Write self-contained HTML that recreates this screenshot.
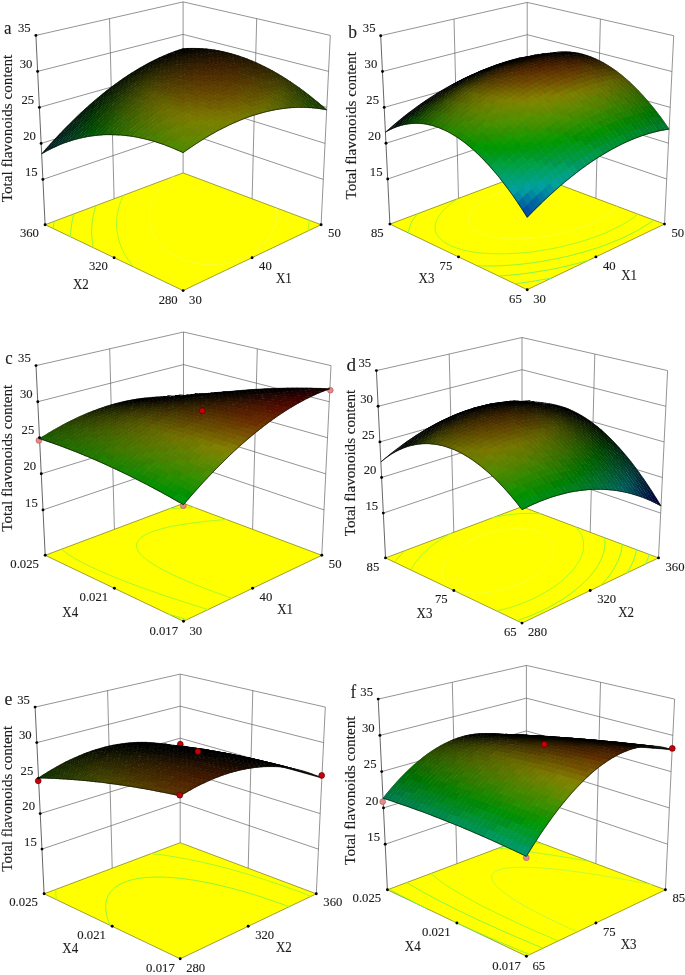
<!DOCTYPE html>
<html><head><meta charset="utf-8"><title>Response surface plots</title>
<style>html,body{margin:0;padding:0;background:#fff}svg{display:block}text{font-family:"Liberation Serif",serif;fill:#1c1c1c;stroke:#1c1c1c;stroke-width:.12px}</style>
</head><body>
<svg width="685" height="975" viewBox="0 0 685 975">
<rect width="685" height="975" fill="#fff"/>
<g><line x1="42.9" y1="179.4" x2="183.1" y2="131.9" stroke="#666" stroke-width="0.7"/>
<line x1="183.1" y1="131.9" x2="323.3" y2="179.4" stroke="#666" stroke-width="0.7"/>
<line x1="41.1" y1="143.4" x2="183.1" y2="99.4" stroke="#666" stroke-width="0.7"/>
<line x1="183.1" y1="99.4" x2="325.1" y2="143.4" stroke="#666" stroke-width="0.7"/>
<line x1="39.4" y1="107.4" x2="183.1" y2="66.9" stroke="#666" stroke-width="0.7"/>
<line x1="183.1" y1="66.9" x2="326.8" y2="107.4" stroke="#666" stroke-width="0.7"/>
<line x1="37.6" y1="71.4" x2="183.1" y2="34.4" stroke="#666" stroke-width="0.7"/>
<line x1="183.1" y1="34.4" x2="328.6" y2="71.4" stroke="#666" stroke-width="0.7"/>
<line x1="35.9" y1="35.4" x2="183.1" y2="1.9" stroke="#666" stroke-width="0.7"/>
<line x1="183.1" y1="1.9" x2="330.3" y2="35.4" stroke="#666" stroke-width="0.7"/>
<line x1="114.1" y1="198.8" x2="109.5" y2="18.6" stroke="#666" stroke-width="0.7"/>
<line x1="183.1" y1="172.9" x2="183.1" y2="1.9" stroke="#666" stroke-width="0.7"/>
<line x1="252.1" y1="198.8" x2="256.7" y2="18.6" stroke="#666" stroke-width="0.7"/>
<line x1="321.1" y1="224.7" x2="330.3" y2="35.4" stroke="#666" stroke-width="0.7"/>
<line x1="45.1" y1="224.7" x2="35.9" y2="35.4" stroke="#333" stroke-width="0.75"/>
<polygon points="45.1,224.7 183.1,290.6 321.1,224.7 183.1,172.9" fill="#ffff00" stroke="#77770a" stroke-width="0.7"/>
<polyline fill="none" stroke="#78f272" stroke-width="0.95" points="54.6,221.2 54.1,223.1 53.7,225 53.3,226.9 53,228.5"/>
<polyline fill="none" stroke="#80f44c" stroke-width="0.95" points="73.9,213.9 73.4,215.8 72.9,217.7 72.5,219.6 72.1,221.5 71.8,223.3 71.5,225.2 71.2,227.1 71,229 70.8,230.8 70.6,232.7 70.5,234.6 70.4,236.8"/>
<polyline fill="none" stroke="#8af53e" stroke-width="0.95" points="96,205.6 95.4,207.5 94.8,209.4 94.3,211.3 93.8,213.2 93.4,215.1 93,216.9 92.7,218.8 92.4,220.7 92.2,222.5 92,224.4 91.8,226.3 91.7,228.1 91.7,229.9 91.6,231.8 91.7,233.6 91.8,235.8 92,238.1 92.2,240.4 92.5,242.8 92.8,244.6 93.2,246.4 93.5,247.8"/>
<polyline fill="none" stroke="#a2f82e" stroke-width="0.95" points="307.8,231.1 308.2,228.7 308.5,226.9 308.7,225.3 308.8,223.6 308.9,221.8 309,220.2"/>
<polyline fill="none" stroke="#a2f82e" stroke-width="0.95" points="123.6,195.3 122.6,197.3 121.8,199 121.2,200.5 120.5,202.1 120,203.7 119.4,205.4 118.9,207.1 118.4,208.9 118,210.8 117.6,212.7 117.3,214.5 117,216.4 116.8,218.3 116.7,220.1 116.6,221.9 116.5,223.8 116.6,225.8 116.7,228 116.9,230.1 117.2,232.4 117.5,234.5 117.9,236.3 118.3,238.1 118.7,239.8 119.4,242 120.3,244.6 121.1,246.8 121.8,248.5 122.6,250.2 124.2,253.2 125.3,255.2 126.3,256.8 128.2,259.7 129.7,261.7 131,263.4 133.7,266.5 134.4,267.4"/>
<polyline fill="none" stroke="#f2ff58" stroke-width="0.6" points="174.2,176.3 171.6,178 169.2,179.7 167.4,181.2 165.7,182.6 163.6,184.6 162.4,185.8 160.6,187.7 159.1,189.5 158.1,190.9 157,192.4 155.6,194.6 154.6,196.4 153.8,197.8 153.1,199.3 152.4,200.9 151.7,202.9 151,204.8 150.5,206.8 150.1,208.7 149.7,210.6 149.5,212.5 149.4,214.3 149.3,216.1 149.4,217.9 149.5,219.7 149.7,221.5 149.9,223.2 150.3,225 150.7,226.7 151.4,229 152.3,231.4 153.2,233.4 154,235 155,236.7 156.8,239.6 158,241.3 159.2,242.8 161.9,245.7 163.4,247.2 166.6,250 168.3,251.4 172.1,254 176.3,256.4 181.1,258.7 186.4,260.7 192.5,262.5 195.9,263.2 202.3,264.2 207.8,264.6 212.6,264.6 217.7,264.4 221.7,264 225.4,263.4 232,261.9 235.4,260.9 240.4,259.2 245.2,257 249.6,254.7 253.3,252.5 255.4,251 258.7,248.4 260.8,246.6 263.2,244.3 264.9,242.4 267,240 268.1,238.6 270.1,235.6 271,234.1 271.8,232.6 273.1,229.9 273.9,227.9 274.5,226.3 275,224.7 275.6,222.4 276.1,220.1 276.4,218.2 276.6,216.5 276.7,214.8 276.7,213.1 276.7,211.4 276.5,209.7 276.3,207.9"/>
<polyline fill="none" stroke="#0c1408" stroke-opacity="0.75" stroke-width="0.9" stroke-linejoin="round" points="41.7,153.9 46.1,148.8 50.6,143.8 55.1,138.9 59.5,134.2 63.9,129.6 68.3,125.1 72.7,120.8 77,116.5 81.4,112.4 85.7,108.5 90,104.6 94.3,100.9 98.6,97.3 102.8,93.8 107,90.5 111.2,87.2 115.4,84.1 119.6,81.1 123.7,78.2 127.8,75.5 131.9,72.8 136,70.3 140.1,67.9 144.1,65.6 148.1,63.4 152.1,61.3 156,59.4 160,57.5 163.9,55.8 167.8,54.2 171.6,52.6 175.5,51.2 179.3,49.9 183.1,48.7 183.1,48.7 186.9,48.5 190.7,48.4 194.6,48.4 198.4,48.5 202.4,48.7 206.3,49 210.3,49.4 214.2,50 218.3,50.7 222.3,51.5 226.4,52.4 230.5,53.5 234.6,54.7 238.7,56 242.9,57.4 247.1,58.9 251.3,60.6 255.6,62.4 259.8,64.4 264.1,66.5 268.5,68.7 272.8,71 277.2,73.5 281.6,76.1 286,78.8 290.4,81.7 294.9,84.8 299.4,87.9 303.9,91.2 308.4,94.7 312.9,98.3 317.5,102 322.1,105.9 326.7,109.9"/><g transform="scale(.1)"><path fill="#000000" d="M1831 500l42-16l-42-1l-42 17M1793 513l42-17l-42-1l-42 18M1869 499l42-16l-42-2l-42 16M1831 510l42-16l-42-2l-42 18M1754 526l43-18l-42 0l-42 19M1908 498l42-15l-43-3l-42 15M1715 541l43-20l-41 1l-43 21M1792 523l43-17l-42-1l-43 18M1870 509l42-16l-43-2l-42 16"/><path fill="#080000" d="M1947 498l41-14l-43-4l-41 14M1754 537l42-19l-41 0l-43 20"/><path fill="#000000" d="M1676 557l44-21l-42 2l-43 21"/><path fill="#080800" d="M1831 522l42-18l-42-2l-42 18M1986 500l42-14l-44-5l-41 14M1908 509l42-15l-42-4l-42 16M1637 573l44-21l-42 2l-43 22M1715 553l43-21l-42 1l-43 21M1792 535l43-18l-42-2l-43 19M1870 521l42-17l-43-3l-42 17M1948 510l42-15l-44-5l-42 15M2025 503l42-13l-44-7l-41 13M1675 569l44-22l-42 2l-43 21M1987 512l42-14l-44-6l-42 14M1598 591l43-23l-41 3l-43 24M1753 550l43-20l-42-1l-43 20M1909 521l42-16l-43-4l-42 16M2065 506l42-12l-45-8l-41 13M1831 534l43-18l-43-2l-43 18M1558 610l44-24l-41 4l-44 24M1636 586l43-22l-41 1l-44 23M1714 565l43-20l-42 0l-43 21M1792 548l43-19l-43-2l-43 19M1870 534l43-17l-43-4l-43 17M1948 523l43-15l-44-6l-42 16M2027 515l42-13l-45-7l-41 13M2105 511l41-11l-44-9l-41 12"/><path fill="#100800" d="M1910 535l42-17l-43-5l-43 17"/><path fill="#080800" d="M1518 630l44-25l-41 4l-44 26M1596 605l44-24l-41 2l-44 25M1674 582l44-22l-42 1l-44 22M1831 547l43-18l-43-3l-43 18"/><path fill="#100800" d="M1988 526l42-15l-44-7l-42 15M2145 518l42-11l-45-11l-42 12"/><path fill="#080800" d="M1753 563l43-20l-43-1l-43 20"/><path fill="#100800" d="M2067 520l41-13l-44-9l-42 14"/><path fill="#080800" d="M1478 652l44-27l-40 5l-45 27M1556 624l44-25l-41 3l-44 26M1634 600l44-23l-41 1l-44 24M1713 579l44-21l-43-1l-43 22"/><path fill="#100800" d="M1792 562l43-20l-43-2l-43 20M1870 547l43-17l-43-4l-43 18M1949 537l43-16l-44-6l-43 16M2028 529l42-13l-44-9l-42 15M2107 526l42-12l-45-10l-42 12M2186 525l41-10l-45-12l-41 11"/><path fill="#080800" d="M1437 674l45-28l-40 6l-45 28"/><path fill="#100800" d="M2147 533l42-12l-45-11l-42 12"/><path fill="#080800" d="M1516 645l44-26l-41 4l-44 26"/><path fill="#100800" d="M1594 619l45-24l-42 2l-44 24M1673 596l44-22l-42 0l-44 23M1752 577l44-20l-43-2l-44 21M1831 561l43-18l-43-4l-43 19M1910 549l43-17l-44-5l-43 17M2068 535l42-14l-44-9l-42 14M2226 534l42-10l-46-13l-41 10M1989 540l43-15l-45-7l-42 15"/><path fill="#080800" d="M1397 698l45-29l-41 6l-45 29"/><path fill="#181000" d="M2188 541l42-11l-46-13l-41 12M2267 544l42-9l-46-15l-41 10"/><path fill="#080800" d="M1475 667l45-28l-41 5l-45 28"/><path fill="#101000" d="M1554 639l45-25l-42 2l-44 26M1633 615l44-24l-42 1l-44 24M1712 594l44-22l-43-1l-43 22M1791 577l44-20l-43-3l-44 20M1871 562l43-18l-44-5l-43 19M1950 552l43-16l-44-7l-43 17M2029 545l43-15l-45-8l-42 14"/><path fill="#181000" d="M2109 541l42-12l-45-11l-42 13"/><path fill="#080800" d="M1356 722l45-30l-40 7l-45 31"/><path fill="#081000" d="M1435 690l45-29l-41 5l-45 29"/><path fill="#101000" d="M1514 660l44-26l-41 3l-45 27"/><path fill="#181000" d="M2229 550l42-10l-46-14l-41 11M2309 555l41-8l-46-16l-41 9"/><path fill="#101000" d="M1593 634l44-24l-42 1l-44 25M1672 612l44-23l-42-1l-44 24M1751 593l44-21l-43-3l-44 22"/><path fill="#181000" d="M1831 577l44-19l-44-5l-44 20M1911 565l43-18l-44-6l-43 18M1990 556l43-16l-44-8l-43 16M2070 550l42-13l-45-10l-42 14M2150 549l42-12l-46-12l-42 12"/><path fill="#081000" d="M1315 748l45-31l-40 7l-45 32M1394 714l45-30l-41 6l-45 30"/><path fill="#101000" d="M1473 683l45-28l-41 4l-45 28"/><path fill="#181000" d="M2191 557l42-11l-46-13l-42 12M2350 567l41-7l-46-17l-41 8"/><path fill="#101000" d="M1552 655l45-26l-42 2l-45 27M1632 631l44-24l-42 0l-45 25"/><path fill="#181000" d="M1711 610l45-22l-43-2l-45 23M1791 593l44-21l-43-3l-44 21M1871 579l43-19l-43-6l-44 20M1951 568l43-17l-44-7l-44 17M2031 561l42-15l-44-9l-43 15M2111 557l42-13l-45-11l-42 14M2271 561l41-10l-46-15l-41 10"/><path fill="#081000" d="M1274 775l45-32l-40 8l-45 33M1353 739l45-31l-41 7l-45 31"/><path fill="#101000" d="M1432 706l45-29l-41 5l-45 29M1511 677l45-27l-41 2l-45 28"/><path fill="#181000" d="M1591 651l45-25l-42 0l-45 26M2072 567l42-14l-45-10l-43 14"/><path fill="#201000" d="M2152 566l42-13l-45-12l-43 13M2232 567l42-10l-46-15l-42 11M2312 573l41-9l-46-17l-41 9"/><path fill="#181000" d="M2392 581l41-7l-47-18l-41 7M1671 629l44-24l-42-1l-45 24M1751 609l44-21l-43-3l-44 22M1831 594l44-20l-44-5l-44 20M1911 582l44-18l-45-7l-43 18M1991 573l43-16l-44-9l-43 17"/><path fill="#081000" d="M1232 804l46-34l-40 8l-46 35M1311 766l46-32l-41 6l-45 33"/><path fill="#101000" d="M1391 731l45-30l-41 5l-45 31"/><path fill="#101800" d="M1470 700l46-28l-42 3l-45 29"/><path fill="#181800" d="M1550 673l45-27l-42 1l-45 27"/><path fill="#201000" d="M2113 575l42-13l-45-12l-43 14M2193 575l42-11l-46-15l-42 13M2274 579l41-10l-46-16l-42 10M2354 586l41-8l-46-18l-42 8M2434 596l41-6l-47-20l-41 7"/><path fill="#181800" d="M1630 648l45-24l-43-1l-44 25M1710 627l45-22l-43-3l-45 24"/><path fill="#181000" d="M1791 610l44-21l-44-4l-44 21"/><path fill="#201000" d="M1871 596l44-19l-44-6l-44 19M1952 586l43-18l-45-8l-43 18M2032 579l43-16l-45-10l-43 16"/><path fill="#081000" d="M1190 833l47-35l-40 9l-46 36M1270 794l46-34l-41 8l-46 34"/><path fill="#101000" d="M1349 757l46-31l-41 5l-46 32"/><path fill="#101800" d="M1429 724l46-29l-42 4l-45 30"/><path fill="#181800" d="M1509 695l45-28l-42 2l-45 29M1589 669l45-26l-42 0l-45 27"/><path fill="#201000" d="M2073 586l43-15l-45-11l-43 15M2154 584l43-13l-46-13l-43 13M2235 586l42-11l-46-16l-42 12"/><path fill="#201800" d="M2315 591l42-9l-46-17l-42 9M2396 600l41-7l-47-20l-41 8M2476 612l41-5l-47-22l-41 7"/><path fill="#181800" d="M1670 646l45-24l-44-1l-44 24"/><path fill="#201000" d="M1992 591l44-17l-45-9l-43 17"/><path fill="#201800" d="M1750 627l45-22l-44-4l-44 23M1831 612l44-21l-44-5l-44 21M1912 600l43-19l-44-7l-44 19"/><path fill="#081000" d="M1148 864l47-37l-40 10l-46 37M1228 822l46-34l-40 8l-46 35"/><path fill="#101800" d="M1308 784l46-32l-41 6l-46 33M1388 750l45-31l-41 4l-46 32"/><path fill="#181800" d="M1468 719l45-29l-42 2l-45 30M1548 691l46-27l-43 1l-45 27"/><path fill="#201800" d="M1629 667l45-26l-43-1l-45 26M2034 597l43-15l-45-11l-44 16"/><path fill="#281800" d="M2115 594l43-14l-46-13l-43 15M2196 594l42-12l-46-15l-42 13M2277 598l42-10l-47-17l-42 11"/><path fill="#201800" d="M2358 605l41-8l-47-19l-41 9M2438 616l41-7l-47-21l-41 8M2519 630l41-5l-48-23l-40 6M1710 646l44-24l-43-3l-45 24M1953 604l43-18l-45-8l-43 18M1791 629l44-22l-44-5l-44 22M1871 615l45-20l-45-7l-44 20"/><path fill="#081000" d="M1106 896l47-38l-40 10l-46 39M1186 853l46-36l-40 8l-46 37"/><path fill="#101800" d="M1266 813l46-34l-41 7l-46 34M1346 777l46-33l-41 5l-46 33"/><path fill="#181800" d="M1426 744l46-31l-42 4l-45 30"/><path fill="#202000" d="M1507 714l45-28l-42 1l-45 29"/><path fill="#201800" d="M1588 688l45-26l-43-1l-45 27M1669 666l45-25l-44-3l-45 26"/><path fill="#281800" d="M1994 610l43-17l-45-10l-44 18M2075 605l43-15l-45-12l-44 16M2156 604l43-14l-46-14l-43 14M2238 606l42-12l-46-16l-43 12M2319 611l42-9l-47-19l-42 11M2400 620l41-8l-47-20l-41 9M2481 633l41-6l-47-22l-41 6M2562 649l40-4l-47-25l-41 5"/><path fill="#201800" d="M1750 647l44-23l-43-5l-45 24"/><path fill="#281800" d="M1912 619l44-19l-45-8l-44 19M1831 631l44-21l-44-6l-44 21"/><path fill="#001000" d="M1064 929l47-39l-40 11l-46 39"/><path fill="#081800" d="M1144 884l46-37l-40 9l-46 38"/><path fill="#101800" d="M1224 842l46-35l-40 8l-47 35M1304 804l46-33l-41 6l-46 34"/><path fill="#182000" d="M1384 770l47-32l-42 4l-46 32"/><path fill="#202000" d="M1465 739l46-30l-42 2l-46 30M1546 711l46-28l-43 0l-45 28M1627 686l46-25l-44-2l-45 26"/><path fill="#281800" d="M1709 666l45-24l-44-4l-45 25M1953 624l44-18l-45-10l-44 19M2035 617l44-16l-46-12l-44 18M2117 614l43-14l-46-14l-43 15M2198 615l43-13l-46-16l-43 14M2280 618l42-10l-47-18l-42 11M2361 626l42-9l-47-20l-42 10M2443 637l41-8l-47-21l-42 8M2524 651l41-5l-48-24l-41 6"/><path fill="#282000" d="M2605 669l40-4l-48-25l-40 4"/><path fill="#281800" d="M1790 648l45-22l-44-5l-45 22M1872 635l44-21l-45-7l-44 21"/><path fill="#001000" d="M1021 963l47-40l-39 11l-47 41"/><path fill="#081800" d="M1101 916l47-38l-40 10l-47 39M1181 873l47-36l-40 8l-47 37"/><path fill="#101800" d="M1262 833l46-34l-41 6l-46 35"/><path fill="#182000" d="M1342 797l47-33l-42 5l-46 33"/><path fill="#202000" d="M1423 764l47-31l-43 3l-46 31M1505 735l45-29l-42 0l-46 30"/><path fill="#282000" d="M1586 709l46-28l-44-1l-45 28M1668 686l45-25l-44-3l-45 25M1749 667l45-23l-44-5l-45 24"/><path fill="#281800" d="M1831 651l45-21l-45-7l-45 22M1913 639l44-19l-45-9l-44 20M1995 631l44-18l-46-11l-44 19"/><path fill="#301800" d="M2077 626l43-16l-46-13l-43 17M2159 625l43-14l-47-15l-43 14M2240 627l43-12l-47-17l-42 12M2322 632l43-10l-47-19l-43 11"/><path fill="#281800" d="M2404 642l42-9l-48-21l-41 9"/><path fill="#282000" d="M2486 654l41-6l-48-23l-41 7M2567 671l41-5l-48-25l-41 5M2648 691l40-3l-48-27l-40 3M1790 669l45-22l-45-7l-45 24"/><path fill="#302000" d="M1872 656l45-21l-45-8l-45 21"/><path fill="#001000" d="M978 998l48-41l-39 12l-47 42"/><path fill="#081800" d="M1058 950l48-39l-40 10l-47 40M1139 905l47-38l-41 9l-46 38"/><path fill="#102000" d="M1219 864l47-36l-41 7l-46 36"/><path fill="#182000" d="M1300 826l47-34l-42 5l-46 34"/><path fill="#202000" d="M1381 791l47-32l-42 3l-47 33"/><path fill="#202800" d="M1463 760l46-31l-43 2l-46 31"/><path fill="#282000" d="M1544 732l46-29l-43 0l-46 29M1626 707l46-26l-44-3l-46 28M1708 687l45-25l-44-4l-45 25"/><path fill="#301800" d="M1954 645l45-19l-46-10l-44 20M2036 639l44-17l-46-13l-43 18M2119 636l43-15l-46-15l-44 16M2201 636l43-13l-47-16l-43 13M2283 640l43-11l-47-19l-43 12"/><path fill="#302000" d="M2365 648l42-10l-47-20l-42 10M2447 659l42-8l-48-22l-42 8M2529 673l41-5l-48-25l-41 7M2610 692l41-4l-48-27l-41 5"/><path fill="#282800" d="M2692 713l40-2l-48-28l-41 3"/><path fill="#302000" d="M1831 673l45-22l-45-8l-45 23M1749 689l45-24l-45-6l-45 25M1913 661l45-20l-45-10l-45 21"/><path fill="#302800" d="M2735 738l41-2l-49-30l-40 2"/><path fill="#001800" d="M936 1035l47-43l-39 13l-47 43M1016 985l47-41l-40 11l-47 42"/><path fill="#081800" d="M1096 939l47-40l-40 10l-47 39"/><path fill="#102000" d="M1177 895l47-37l-41 7l-47 38"/><path fill="#182000" d="M1258 855l46-35l-41 6l-47 36M1339 819l47-34l-42 4l-47 34"/><path fill="#202800" d="M1420 786l47-32l-43 2l-46 32"/><path fill="#282800" d="M1502 756l46-29l-43 0l-46 30M1584 730l46-28l-43-1l-46 28"/><path fill="#302000" d="M1666 708l46-26l-44-4l-46 26M1996 653l44-19l-46-11l-44 19"/><path fill="#301800" d="M2078 648l44-16l-46-14l-44 17M2161 647l43-15l-46-15l-44 15"/><path fill="#302000" d="M2243 649l43-13l-47-17l-43 13M2326 655l42-11l-47-20l-43 12M2408 664l42-9l-47-21l-43 9M2490 677l42-7l-48-23l-42 7M2572 694l41-5l-48-26l-41 6"/><path fill="#302800" d="M2654 714l40-3l-48-28l-41 4"/><path fill="#302000" d="M1790 692l45-24l-45-7l-45 24M1872 678l45-21l-45-9l-45 22"/><path fill="#001800" d="M892 1073l48-44l-39 13l-47 45"/><path fill="#302000" d="M1707 709l46-25l-45-5l-45 26M1955 668l45-20l-46-11l-45 21"/><path fill="#302800" d="M2698 738l40-3l-48-29l-41 3"/><path fill="#001800" d="M972 1021l48-42l-39 12l-48 43"/><path fill="#081800" d="M1053 973l47-40l-40 9l-47 41"/><path fill="#102000" d="M1134 928l47-39l-41 9l-47 39M1215 886l47-36l-41 6l-47 37"/><path fill="#182800" d="M1296 848l47-35l-41 5l-47 35"/><path fill="#202800" d="M1378 813l47-33l-43 3l-46 33"/><path fill="#282800" d="M1460 782l46-31l-42 1l-47 31M1542 754l46-29l-43-1l-46 30"/><path fill="#302800" d="M1625 730l45-27l-43-3l-46 27"/><path fill="#382000" d="M2038 661l44-17l-46-13l-44 18M2121 658l44-15l-47-15l-44 16M2203 659l44-14l-47-17l-43 15M2286 663l43-12l-47-19l-43 13M2369 671l42-10l-47-21l-43 10"/><path fill="#302000" d="M2451 682l42-8l-48-23l-42 9M2534 697l41-6l-48-25l-42 7"/><path fill="#302800" d="M2616 716l41-5l-49-27l-41 5M2779 763l40-1l-48-31l-40 2M1748 712l46-25l-45-6l-46 25"/><path fill="#382000" d="M1831 696l45-23l-45-8l-45 23M1914 684l45-21l-46-10l-45 22"/><path fill="#303000" d="M2824 790l40 0l-49-33l-40 1"/><path fill="#001808" d="M849 1112l48-45l-39 14l-47 46"/><path fill="#001800" d="M929 1059l48-44l-39 13l-48 44"/><path fill="#302800" d="M1665 731l46-27l-44-4l-46 27"/><path fill="#382000" d="M1997 676l45-19l-46-12l-45 19"/><path fill="#302800" d="M2660 739l41-4l-49-29l-41 5"/><path fill="#082000" d="M1010 1009l47-42l-40 10l-47 43M1091 962l47-40l-40 9l-48 40"/><path fill="#102000" d="M1172 919l47-38l-41 6l-47 39"/><path fill="#182800" d="M1254 879l47-37l-42 5l-47 37"/><path fill="#202800" d="M1335 842l47-34l-42 3l-47 35"/><path fill="#282800" d="M1418 809l46-32l-42 1l-47 33"/><path fill="#302800" d="M1500 779l46-30l-43-1l-46 31M1582 753l47-28l-44-3l-46 29"/><path fill="#382000" d="M2080 671l44-17l-46-14l-44 18M2163 670l44-15l-47-16l-44 15M2246 673l44-14l-48-18l-43 14M2329 679l43-12l-47-20l-43 12M2412 688l42-9l-47-23l-43 10"/><path fill="#382800" d="M2495 702l42-8l-48-24l-42 8M2577 718l42-5l-49-27l-41 6"/><path fill="#303000" d="M2742 763l40-2l-49-31l-40 3"/><path fill="#382800" d="M1706 733l46-26l-45-6l-45 26M1789 715l46-24l-45-7l-46 24"/><path fill="#382000" d="M1873 702l45-22l-46-10l-45 23M1956 692l45-20l-46-12l-45 21"/><path fill="#303000" d="M2786 789l40-1l-49-33l-40 3"/><path fill="#001808" d="M805 1153l48-47l-38 15l-48 47"/><path fill="#001800" d="M886 1098l48-45l-40 13l-47 45"/><path fill="#002000" d="M966 1046l48-43l-40 11l-47 43"/><path fill="#302800" d="M1623 753l46-27l-44-4l-46 28"/><path fill="#382000" d="M2039 685l45-18l-47-14l-44 19"/><path fill="#382800" d="M2621 741l42-5l-49-28l-41 6"/><path fill="#082000" d="M1047 997l48-41l-40 9l-48 42"/><path fill="#383000" d="M2704 763l41-3l-49-30l-41 4"/><path fill="#303000" d="M2868 819l40 0l-49-34l-40 0"/><path fill="#102000" d="M1129 952l47-39l-41 7l-47 40"/><path fill="#182800" d="M1211 910l47-37l-42 5l-47 38"/><path fill="#202800" d="M1293 872l47-36l-42 4l-47 36"/><path fill="#283000" d="M1375 837l47-34l-43 2l-47 34"/><path fill="#303000" d="M1457 806l47-32l-43 0l-47 32M1540 778l47-30l-44-2l-46 30"/><path fill="#382000" d="M2123 682l44-16l-47-16l-44 17M2206 683l44-14l-47-18l-44 15M2289 688l44-13l-48-20l-43 13M2373 696l42-11l-47-22l-43 11"/><path fill="#382800" d="M2456 707l42-9l-48-24l-43 10M2539 722l41-7l-48-26l-42 8M1664 755l46-27l-44-5l-47 27M1747 736l46-25l-45-7l-46 25M1831 720l46-23l-46-9l-46 24"/><path fill="#382000" d="M1915 709l45-22l-46-11l-45 22"/><path fill="#402000" d="M1998 700l45-19l-46-13l-45 20"/><path fill="#383000" d="M2748 789l41-3l-49-31l-41 3"/><path fill="#303000" d="M2913 848l39 1l-49-36l-40 0"/><path fill="#001808" d="M762 1195l48-48l-38 15l-48 48M842 1138l48-46l-39 13l-48 46"/><path fill="#002000" d="M923 1084l48-44l-40 11l-48 45"/><path fill="#082000" d="M1004 1034l48-43l-40 10l-48 43"/><path fill="#383000" d="M1581 777l46-29l-44-3l-46 30"/><path fill="#402000" d="M2082 696l44-18l-46-15l-45 18"/><path fill="#382800" d="M2583 744l41-6l-48-27l-42 6"/><path fill="#102800" d="M1085 987l48-41l-41 8l-47 41"/><path fill="#383000" d="M2666 765l41-5l-49-29l-41 5"/><path fill="#383800" d="M2831 817l40-1l-49-34l-41 2"/><path fill="#182800" d="M1167 943l48-39l-41 7l-48 39"/><path fill="#202800" d="M1249 903l48-37l-42 5l-47 37"/><path fill="#283000" d="M1332 866l47-35l-42 3l-47 35"/><path fill="#303000" d="M1415 833l47-33l-43 1l-47 33M1498 804l46-32l-43-1l-47 32"/><path fill="#402000" d="M2166 695l44-16l-48-17l-44 16M2249 698l44-14l-48-19l-43 14M2333 704l43-12l-48-21l-43 12"/><path fill="#402800" d="M2416 714l43-10l-48-24l-43 11"/><path fill="#382800" d="M2500 727l42-8l-49-25l-42 8"/><path fill="#383000" d="M1622 778l46-28l-44-5l-47 29"/><path fill="#382800" d="M1705 758l46-27l-45-6l-46 27"/><path fill="#402800" d="M1789 740l46-24l-46-9l-45 26M1873 727l45-23l-45-10l-46 23M1957 717l45-21l-46-12l-45 21"/><path fill="#402000" d="M2041 711l45-19l-47-15l-45 20"/><path fill="#383000" d="M2710 790l41-4l-49-30l-41 4"/><path fill="#303800" d="M2876 846l39 0l-49-35l-40 1"/><path fill="#001810" d="M718 1238l48-50l-38 16l-48 50"/><path fill="#001808" d="M798 1179l48-47l-38 13l-48 48"/><path fill="#002000" d="M879 1123l48-45l-39 12l-48 46M960 1071l48-43l-40 10l-48 44"/><path fill="#082800" d="M1042 1023l48-42l-41 8l-48 43"/><path fill="#383000" d="M1538 803l47-31l-44-2l-47 31"/><path fill="#402000" d="M2125 708l44-17l-47-17l-44 18"/><path fill="#102800" d="M1124 977l48-40l-42 7l-47 41"/><path fill="#402800" d="M2544 749l42-8l-49-27l-42 8"/><path fill="#403000" d="M2627 768l42-6l-49-29l-42 6"/><path fill="#383800" d="M2793 816l40-2l-49-33l-40 3"/><path fill="#283800" d="M2958 879l39 2l-49-37l-40-1"/><path fill="#183000" d="M1206 935l48-38l-42 5l-48 39"/><path fill="#203000" d="M1289 897l47-36l-42 3l-48 37"/><path fill="#283000" d="M1372 862l47-34l-43 1l-47 35"/><path fill="#303800" d="M1455 831l47-33l-44 0l-47 33"/><path fill="#402000" d="M2209 709l44-15l-48-19l-44 16"/><path fill="#402800" d="M2293 713l43-13l-48-20l-43 13M2376 721l44-11l-49-22l-43 11M2460 733l43-9l-49-25l-42 10"/><path fill="#383000" d="M1579 803l47-30l-45-4l-46 31"/><path fill="#403000" d="M1663 780l46-27l-45-6l-46 28M1747 762l46-26l-45-8l-47 26"/><path fill="#402800" d="M1831 746l46-24l-46-10l-46 25M1915 734l46-22l-47-11l-45 22M1999 726l46-20l-47-14l-45 21M2084 722l45-18l-48-16l-44 19"/><path fill="#383800" d="M2838 845l40-1l-49-35l-41 2"/><path fill="#283800" d="M3003 912l39 2l-50-39l-39-1"/><path fill="#001810" d="M674 1282l48-51l-38 16l-48 51M754 1221l48-48l-38 14l-48 49"/><path fill="#002008" d="M835 1164l48-47l-39 13l-48 47"/><path fill="#002000" d="M916 1110l48-45l-39 11l-48 46"/><path fill="#082800" d="M998 1060l48-43l-40 9l-48 44"/><path fill="#102800" d="M1080 1013l48-42l-41 8l-48 42"/><path fill="#383800" d="M1495 829l47-32l-44-1l-47 32"/><path fill="#402800" d="M2168 721l44-16l-47-18l-44 17"/><path fill="#403000" d="M2588 772l42-7l-49-29l-42 8M2672 792l41-5l-49-30l-42 6"/><path fill="#183000" d="M1163 969l47-39l-41 5l-48 40"/><path fill="#402800" d="M2504 754l43-8l-49-27l-42 10"/><path fill="#403800" d="M2755 817l41-3l-50-33l-41 4"/><path fill="#303800" d="M2921 877l39 0l-49-36l-40 0"/><path fill="#203000" d="M1245 929l48-38l-42 4l-48 38"/><path fill="#283000" d="M1328 892l48-36l-43 2l-47 37"/><path fill="#303800" d="M1412 859l47-34l-43 0l-48 34"/><path fill="#402800" d="M2252 724l44-14l-48-20l-44 15M2336 730l44-12l-48-22l-44 13M2420 740l43-10l-48-24l-43 11"/><path fill="#001810" d="M629 1327l49-51l-38 16l-48 52"/><path fill="#403800" d="M1536 829l47-31l-44-3l-47 31"/><path fill="#403000" d="M1620 805l47-30l-45-5l-47 30M1704 784l47-27l-45-7l-47 27M1789 767l46-26l-46-9l-46 26"/><path fill="#402800" d="M1873 753l46-23l-46-11l-46 24"/><path fill="#482800" d="M1958 743l45-21l-46-13l-46 22M2042 737l45-19l-47-15l-45 20M2127 735l45-18l-48-17l-45 18"/><path fill="#203800" d="M3048 946l39 3l-50-41l-39-2"/><path fill="#303800" d="M2966 909l39 1l-49-38l-40-1"/><path fill="#002010" d="M710 1265l48-50l-38 15l-48 51"/><path fill="#002008" d="M791 1206l48-48l-39 13l-48 49M872 1151l49-47l-40 12l-48 47"/><path fill="#002800" d="M954 1098l48-44l-40 10l-48 45"/><path fill="#082800" d="M1036 1049l48-42l-41 8l-48 43"/><path fill="#103000" d="M1119 1004l48-41l-42 6l-48 42"/><path fill="#383800" d="M1452 857l47-33l-43-1l-48 33"/><path fill="#482800" d="M2212 736l44-16l-48-19l-44 16"/><path fill="#403000" d="M2549 776l42-8l-49-27l-42 8M2633 796l42-6l-50-30l-42 7"/><path fill="#403800" d="M2716 819l42-5l-50-32l-41 5M2800 845l41-2l-50-34l-41 3"/><path fill="#203000" d="M1202 962l48-39l-43 5l-47 39"/><path fill="#403000" d="M2465 761l43-10l-49-26l-43 11"/><path fill="#383800" d="M2883 875l40-1l-50-36l-40 2"/><path fill="#283800" d="M1285 923l48-37l-43 3l-48 37"/><path fill="#303800" d="M1368 888l48-35l-43 1l-48 36"/><path fill="#482800" d="M2296 740l44-13l-48-22l-44 15M2380 749l44-12l-49-23l-43 12"/><path fill="#001818" d="M585 1374l49-53l-38 17l-49 54"/><path fill="#002010" d="M665 1310l49-51l-38 15l-49 52"/><path fill="#403800" d="M1493 856l47-32l-44-3l-47 33M1577 830l47-30l-45-5l-47 31"/><path fill="#403000" d="M1662 807l46-28l-45-7l-47 30M1746 789l47-27l-46-8l-46 27"/><path fill="#483000" d="M1831 773l46-24l-46-11l-46 25"/><path fill="#482800" d="M1916 762l46-23l-47-13l-46 24M2001 754l45-21l-47-15l-45 22M2086 749l45-18l-48-17l-45 19M2170 749l45-17l-48-19l-44 18"/><path fill="#283800" d="M3011 942l40 2l-50-40l-40-1"/><path fill="#203800" d="M3094 981l39 3l-50-41l-39-3"/><path fill="#304000" d="M2928 907l40-1l-50-37l-40 1"/><path fill="#002010" d="M746 1250l49-50l-39 14l-48 50"/><path fill="#002808" d="M828 1192l48-47l-39 12l-49 48"/><path fill="#002800" d="M910 1138l48-46l-40 11l-48 46"/><path fill="#082800" d="M992 1087l48-44l-40 9l-49 45"/><path fill="#103000" d="M1075 1040l48-42l-41 7l-49 42"/><path fill="#183000" d="M1158 996l48-40l-42 5l-48 41"/><path fill="#383800" d="M1409 886l47-34l-43-1l-48 35"/><path fill="#482800" d="M2255 752l44-15l-48-21l-44 16"/><path fill="#483000" d="M2509 783l43-10l-49-27l-43 10M2593 800l43-7l-50-29l-42 8"/><path fill="#403800" d="M2678 821l41-5l-49-31l-42 6"/><path fill="#404000" d="M2761 846l42-4l-50-33l-41 5M2845 875l41-2l-50-36l-41 3"/><path fill="#203800" d="M1241 956l48-38l-42 3l-48 39"/><path fill="#483000" d="M2425 769l43-12l-49-24l-43 11"/><path fill="#303800" d="M1325 919l47-36l-43 1l-47 37"/><path fill="#482800" d="M2340 758l44-13l-49-23l-43 14"/><path fill="#001818" d="M540 1422l49-54l-37 17l-49 55"/><path fill="#002018" d="M621 1357l49-53l-38 16l-49 53"/><path fill="#002010" d="M702 1294l49-51l-39 15l-49 51"/><path fill="#404000" d="M1449 885l48-34l-44-2l-48 34M1534 857l47-32l-44-4l-48 32"/><path fill="#403800" d="M1619 832l47-30l-45-5l-47 30"/><path fill="#483800" d="M1703 812l47-28l-45-8l-47 28"/><path fill="#483000" d="M1788 795l47-26l-46-10l-47 26M1874 781l46-24l-47-12l-46 25M1959 771l46-22l-47-14l-46 23"/><path fill="#482800" d="M2044 765l45-20l-47-16l-45 21M2129 763l45-18l-48-18l-45 18M2214 764l45-16l-48-20l-45 17"/><path fill="#304000" d="M2974 940l40 0l-50-39l-40 0"/><path fill="#283800" d="M3057 977l39 2l-50-41l-39-1"/><path fill="#183800" d="M3140 1018l38 4l-50-43l-39-3"/><path fill="#384000" d="M2890 906l41-2l-50-37l-41 2"/><path fill="#002810" d="M783 1235l49-49l-39 13l-49 49"/><path fill="#002808" d="M865 1179l49-47l-40 11l-49 48"/><path fill="#003000" d="M948 1127l48-46l-40 10l-49 45"/><path fill="#103000" d="M1030 1078l49-44l-41 8l-49 44"/><path fill="#183000" d="M1114 1032l48-41l-42 5l-48 42"/><path fill="#203800" d="M1197 990l48-40l-42 4l-48 40"/><path fill="#384000" d="M1365 916l48-36l-44 0l-47 37"/><path fill="#483000" d="M2299 769l44-14l-48-23l-44 15M2469 790l43-11l-49-26l-43 11"/><path fill="#483800" d="M2554 806l43-9l-50-28l-42 9M2638 825l43-7l-50-30l-42 7"/><path fill="#484000" d="M2723 848l41-5l-49-32l-42 5"/><path fill="#404000" d="M2807 875l41-3l-50-35l-41 4"/><path fill="#283800" d="M1281 951l48-37l-43 1l-48 39"/><path fill="#483000" d="M2384 778l44-13l-49-24l-43 13"/><path fill="#001818" d="M495 1472l49-56l-37 18l-49 56"/><path fill="#002018" d="M576 1404l49-54l-38 17l-49 54M657 1340l49-52l-38 15l-49 52"/><path fill="#002810" d="M739 1279l49-50l-40 13l-48 51"/><path fill="#384000" d="M1406 914l47-35l-44-1l-47 36"/><path fill="#404000" d="M1490 885l48-34l-45-3l-47 34"/><path fill="#484000" d="M1575 858l48-31l-45-5l-48 32"/><path fill="#483800" d="M1660 836l47-29l-45-8l-47 30M1746 817l46-27l-46-9l-46 27"/><path fill="#483000" d="M1831 802l46-26l-46-11l-46 26M1916 790l47-23l-47-13l-46 24"/><path fill="#503000" d="M2002 782l46-21l-48-15l-45 22M2087 778l46-19l-48-18l-45 20M2173 778l45-18l-48-19l-45 18M2258 781l45-16l-49-21l-44 16"/><path fill="#384000" d="M2936 938l41-1l-51-38l-40 1"/><path fill="#304000" d="M3020 974l39 1l-50-41l-40 0"/><path fill="#204000" d="M3103 1013l39 3l-50-42l-40-3"/><path fill="#183800" d="M3186 1056l38 5l-50-45l-39-4"/><path fill="#304000" d="M1321 948l48-37l-43 0l-48 38"/><path fill="#503000" d="M2344 788l44-14l-49-24l-44 15"/><path fill="#404800" d="M2852 906l41-3l-50-36l-41 3"/><path fill="#002808" d="M821 1222l49-49l-40 11l-49 49"/><path fill="#003000" d="M903 1167l49-46l-40 9l-49 47"/><path fill="#083000" d="M986 1116l49-44l-41 8l-49 45"/><path fill="#103800" d="M1069 1069l49-43l-42 6l-48 44"/><path fill="#183800" d="M1153 1025l48-41l-42 4l-48 42"/><path fill="#283800" d="M1237 985l48-39l-43 2l-48 40"/><path fill="#483000" d="M2429 798l44-12l-50-25l-43 12"/><path fill="#483800" d="M2514 812l43-9l-49-28l-43 10M2599 830l42-8l-49-30l-43 9"/><path fill="#484000" d="M2684 852l42-6l-50-32l-42 6M2768 877l42-4l-50-35l-42 5"/><path fill="#384000" d="M1362 945l48-36l-44-1l-48 37"/><path fill="#503000" d="M2303 799l44-15l-49-23l-44 16"/><path fill="#001018" d="M450 1522l50-57l-37 19l-49 57"/><path fill="#002020" d="M531 1453l49-55l-37 17l-50 56"/><path fill="#002018" d="M612 1387l49-53l-38 15l-49 54"/><path fill="#002818" d="M694 1325l49-52l-39 13l-49 53"/><path fill="#002810" d="M776 1265l49-50l-40 12l-49 51"/><path fill="#304000" d="M1277 980l48-38l-43 1l-48 39"/><path fill="#404800" d="M1447 914l47-35l-44-2l-48 35"/><path fill="#484000" d="M1532 886l47-33l-45-4l-47 33M1617 861l47-30l-45-7l-47 31"/><path fill="#483800" d="M1703 841l47-29l-46-8l-47 29"/><path fill="#503800" d="M1788 824l47-27l-46-10l-47 27"/><path fill="#503000" d="M1874 810l46-24l-47-13l-46 25M1960 801l46-23l-48-15l-46 24M2045 795l46-21l-48-17l-45 22M2131 792l46-18l-48-19l-46 19M2217 794l45-17l-49-21l-44 17M2388 808l44-13l-49-25l-44 13"/><path fill="#404800" d="M2898 937l41-1l-50-38l-41 2"/><path fill="#304000" d="M2982 972l40 0l-50-40l-41 1"/><path fill="#284000" d="M3066 1010l39 1l-50-42l-40-1"/><path fill="#204000" d="M3149 1051l39 3l-51-44l-39-2"/><path fill="#103800" d="M3232 1096l38 5l-50-46l-39-4"/><path fill="#484800" d="M2814 907l41-4l-50-36l-42 5"/><path fill="#003008" d="M858 1209l49-48l-40 10l-49 49"/><path fill="#003000" d="M941 1156l49-46l-41 9l-48 46"/><path fill="#103800" d="M1025 1107l48-44l-41 7l-49 44"/><path fill="#183800" d="M1108 1061l49-42l-42 5l-49 43"/><path fill="#204000" d="M1193 1019l48-40l-43 3l-48 41"/><path fill="#503800" d="M2474 820l43-11l-49-27l-44 12M2559 836l43-9l-49-29l-44 10"/><path fill="#484000" d="M2644 856l43-7l-50-32l-43 8M2729 880l42-6l-50-33l-42 6"/><path fill="#384000" d="M1317 978l49-38l-44 0l-48 38"/><path fill="#503000" d="M2347 818l45-14l-49-24l-45 15"/><path fill="#404800" d="M1402 944l49-36l-45-2l-48 37"/><path fill="#503000" d="M2261 811l45-16l-48-22l-45 17"/><path fill="#001820" d="M486 1503l49-56l-37 17l-49 57"/><path fill="#002020" d="M567 1436l49-55l-38 16l-49 55"/><path fill="#002818" d="M649 1371l49-53l-39 14l-49 54"/><path fill="#002810" d="M731 1310l49-51l-39 12l-50 52"/><path fill="#003008" d="M813 1252l50-49l-41 11l-49 50"/><path fill="#284000" d="M1233 1015l48-40l-43 2l-48 40"/><path fill="#484800" d="M1488 914l48-33l-45-4l-48 34"/><path fill="#484000" d="M1573 888l48-32l-45-6l-48 33"/><path fill="#504000" d="M1659 866l48-30l-46-8l-48 30"/><path fill="#503800" d="M1745 847l47-28l-46-10l-47 29M1831 832l47-26l-47-12l-47 26"/><path fill="#503000" d="M1917 820l46-24l-47-14l-46 25M2003 812l46-22l-47-16l-46 23M2089 808l46-20l-48-18l-46 21M2175 808l46-18l-49-20l-45 18"/><path fill="#503800" d="M2433 829l44-12l-49-27l-44 13"/><path fill="#404800" d="M2860 938l41-3l-51-37l-41 3"/><path fill="#384800" d="M2944 971l41-2l-51-39l-41 2"/><path fill="#304800" d="M3028 1007l40 0l-50-41l-41 0"/><path fill="#204000" d="M3112 1047l39 2l-50-43l-40-2"/><path fill="#184000" d="M3195 1090l39 4l-51-45l-39-4"/><path fill="#484800" d="M2775 909l42-5l-51-35l-42 6"/><path fill="#003000" d="M896 1198l50-48l-41 9l-49 48"/><path fill="#083800" d="M980 1147l49-46l-41 8l-49 46"/><path fill="#103800" d="M1064 1099l49-43l-42 5l-49 44"/><path fill="#204000" d="M1148 1055l49-42l-43 4l-48 42"/><path fill="#503800" d="M2519 844l43-11l-49-29l-44 12"/><path fill="#504000" d="M2604 862l43-9l-50-31l-43 10M2690 884l42-7l-50-33l-42 7"/><path fill="#304800" d="M1273 1011l49-39l-44 1l-49 39"/><path fill="#384800" d="M1358 976l49-37l-45-2l-48 38"/><path fill="#503800" d="M2306 830l45-15l-49-24l-45 16M2392 839l45-13l-50-26l-44 14"/><path fill="#484800" d="M1444 944l48-35l-45-3l-48 36"/><path fill="#503000" d="M2220 825l45-17l-49-22l-45 18"/><path fill="#002020" d="M522 1486l49-57l-38 17l-49 56"/><path fill="#002820" d="M603 1419l50-54l-39 15l-49 54"/><path fill="#002818" d="M685 1356l50-52l-39 13l-50 53"/><path fill="#003010" d="M768 1297l50-51l-40 11l-50 52"/><path fill="#003008" d="M851 1240l50-48l-41 9l-49 50"/><path fill="#284000" d="M1188 1050l49-41l-43 2l-49 42"/><path fill="#484800" d="M1530 916l47-33l-45-5l-48 34"/><path fill="#504000" d="M1615 892l48-31l-46-8l-47 32M1702 871l47-29l-46-9l-48 30"/><path fill="#503800" d="M1788 854l47-27l-47-11l-47 28M1874 841l47-25l-47-14l-47 26M1961 831l46-23l-48-15l-46 24"/><path fill="#503000" d="M2047 826l46-22l-48-17l-46 22M2133 823l46-19l-48-20l-46 20"/><path fill="#503800" d="M2478 852l44-12l-49-28l-44 13"/><path fill="#485000" d="M2821 940l41-5l-50-36l-42 5"/><path fill="#404800" d="M2906 971l41-3l-51-38l-41 3"/><path fill="#384800" d="M2990 1006l41-1l-51-41l-41 1"/><path fill="#284800" d="M3074 1044l40 1l-50-43l-41-1"/><path fill="#204000" d="M3158 1086l40 2l-51-45l-40-2"/><path fill="#504800" d="M2735 912l43-6l-51-34l-42 6"/><path fill="#003800" d="M935 1188l49-47l-41 8l-49 47"/><path fill="#103800" d="M1019 1138l49-45l-42 6l-49 46"/><path fill="#184000" d="M1103 1092l49-43l-42 5l-49 43"/><path fill="#504000" d="M2564 868l44-9l-50-31l-44 11M2650 889l43-8l-50-33l-43 9"/><path fill="#284800" d="M1228 1046l49-40l-43 1l-49 41"/><path fill="#384800" d="M1314 1009l48-39l-44 0l-48 39"/><path fill="#404800" d="M1399 976l49-37l-45-3l-48 37"/><path fill="#583800" d="M2265 843l45-16l-49-24l-46 18M2351 851l45-15l-50-26l-44 16M2438 862l44-13l-50-28l-44 14"/><path fill="#505000" d="M1485 946l49-35l-46-5l-48 36"/><path fill="#583800" d="M2178 840l45-19l-48-21l-46 19"/><path fill="#002828" d="M558 1469l49-56l-38 15l-49 56"/><path fill="#002820" d="M640 1404l50-54l-39 14l-50 54"/><path fill="#003018" d="M723 1342l49-52l-39 12l-50 53"/><path fill="#003010" d="M806 1284l49-50l-40 10l-49 51"/><path fill="#003800" d="M890 1230l49-48l-41 8l-49 49"/><path fill="#204000" d="M1143 1087l49-43l-43 3l-49 43"/><path fill="#504800" d="M1572 920l48-33l-46-7l-48 33"/><path fill="#504000" d="M1658 897l48-31l-47-8l-47 31M1744 878l48-28l-47-11l-47 29"/><path fill="#503800" d="M1831 863l47-27l-47-12l-47 27"/><path fill="#583800" d="M1918 852l46-25l-47-15l-47 26M2004 844l47-23l-48-17l-47 24M2091 840l46-21l-48-19l-46 22"/><path fill="#584000" d="M2524 876l44-11l-50-29l-44 11"/><path fill="#505000" d="M2782 943l42-6l-51-36l-42 6"/><path fill="#485000" d="M2867 972l41-4l-50-38l-42 5"/><path fill="#384800" d="M2952 1005l41-2l-51-40l-41 2"/><path fill="#304800" d="M3037 1042l40 0l-51-43l-40 1"/><path fill="#204800" d="M3121 1082l40 2l-51-45l-40-1"/><path fill="#504800" d="M2696 917l43-7l-51-34l-43 8"/><path fill="#083800" d="M974 1179l49-47l-42 7l-49 47"/><path fill="#104000" d="M1058 1131l49-44l-42 4l-49 45"/><path fill="#504000" d="M2610 895l43-9l-50-32l-43 10"/><path fill="#284800" d="M1183 1082l49-42l-43 2l-49 42"/><path fill="#304800" d="M1269 1043l49-40l-44 0l-49 41"/><path fill="#405000" d="M1355 1008l49-38l-45-2l-49 39"/><path fill="#485000" d="M1441 976l48-36l-45-4l-48 37"/><path fill="#583800" d="M2223 858l45-18l-49-23l-45 19M2310 863l45-16l-50-25l-45 17"/><path fill="#584000" d="M2396 872l45-14l-50-27l-44 15M2483 885l44-12l-50-29l-44 13"/><path fill="#505000" d="M1527 948l49-34l-46-6l-48 35"/><path fill="#583800" d="M2136 856l46-20l-49-21l-46 21"/><path fill="#003028" d="M594 1453l50-55l-39 14l-49 55"/><path fill="#003020" d="M677 1390l50-54l-40 13l-49 53"/><path fill="#003810" d="M760 1330l50-52l-40 11l-50 52"/><path fill="#003808" d="M844 1273l50-49l-41 9l-49 50"/><path fill="#004000" d="M928 1220l50-47l-42 7l-49 48"/><path fill="#184000" d="M1098 1125l49-44l-42 3l-50 45"/><path fill="#504800" d="M1614 924l48-32l-46-8l-48 33"/><path fill="#584000" d="M1701 903l47-30l-46-10l-48 31M1788 886l47-28l-47-12l-47 29M1874 873l48-26l-48-14l-47 27"/><path fill="#583800" d="M1962 864l46-24l-48-17l-46 25M2049 858l46-22l-48-18l-47 22"/><path fill="#584800" d="M2570 902l43-10l-50-31l-44 11"/><path fill="#505000" d="M2742 947l43-7l-51-36l-43 8M2828 974l42-5l-51-37l-42 5"/><path fill="#405000" d="M2913 1006l42-3l-51-40l-42 4"/><path fill="#385000" d="M2999 1041l40-2l-51-41l-41 2"/><path fill="#284800" d="M3083 1079l41 1l-52-44l-40 0"/><path fill="#584800" d="M2656 922l43-8l-50-33l-44 9"/><path fill="#104000" d="M1013 1171l49-46l-42 5l-49 47"/><path fill="#204800" d="M1138 1120l49-43l-43 2l-49 44"/><path fill="#304800" d="M1224 1079l49-41l-44 0l-49 42"/><path fill="#385000" d="M1310 1042l49-39l-44-2l-49 40"/><path fill="#485000" d="M1396 1008l49-37l-45-3l-49 37"/><path fill="#505000" d="M1483 979l48-36l-45-5l-49 36"/><path fill="#583800" d="M2180 873l46-19l-49-22l-46 20M2268 877l45-17l-49-25l-46 19"/><path fill="#584000" d="M2355 884l45-15l-50-26l-45 16M2442 896l44-14l-49-28l-45 14"/><path fill="#584800" d="M2529 911l44-12l-50-31l-44 13"/><path fill="#585000" d="M1570 952l48-33l-46-7l-48 33"/><path fill="#583800" d="M2093 873l46-21l-48-20l-47 22"/><path fill="#584800" d="M2616 929l43-10l-50-32l-44 10"/><path fill="#003020" d="M631 1438l50-55l-39 13l-50 55"/><path fill="#003818" d="M715 1376l50-53l-40 12l-50 53"/><path fill="#003810" d="M799 1318l49-51l-40 10l-50 51"/><path fill="#004008" d="M883 1263l50-49l-42 8l-49 50"/><path fill="#084000" d="M967 1212l50-47l-42 6l-49 47"/><path fill="#184800" d="M1053 1164l49-45l-42 4l-50 46"/><path fill="#584800" d="M1657 930l48-32l-47-9l-48 32M1744 911l47-29l-46-12l-48 30"/><path fill="#584000" d="M1831 896l47-27l-47-14l-47 28M1918 885l47-26l-47-15l-48 26"/><path fill="#583800" d="M2006 877l46-23l-48-18l-47 24"/><path fill="#585000" d="M2702 952l43-8l-51-35l-43 8"/><path fill="#505800" d="M2788 978l43-6l-51-37l-43 6"/><path fill="#485000" d="M2874 1007l42-4l-51-39l-42 5"/><path fill="#405000" d="M2960 1041l41-3l-51-41l-41 3"/><path fill="#305000" d="M3045 1078l41-1l-51-43l-41 1"/><path fill="#584800" d="M2575 937l44-11l-51-32l-44 12"/><path fill="#104800" d="M1007 1205l50-47l-43 5l-49 47"/><path fill="#184800" d="M1093 1159l49-45l-43 3l-49 45"/><path fill="#284800" d="M1178 1116l50-43l-44 1l-49 44"/><path fill="#385000" d="M1265 1077l49-41l-44-1l-49 42"/><path fill="#405000" d="M1351 1042l49-39l-44-3l-49 39"/><path fill="#485000" d="M1438 1010l49-37l-45-5l-49 38"/><path fill="#585800" d="M1525 982l49-35l-46-7l-49 36"/><path fill="#604000" d="M2138 890l46-21l-49-21l-46 21M2225 892l46-19l-49-23l-46 19M2313 898l45-17l-49-26l-46 18M2400 907l45-15l-50-27l-45 15"/><path fill="#584800" d="M2488 920l44-13l-50-30l-45 14"/><path fill="#585000" d="M2662 958l43-9l-50-34l-44 9M1612 958l49-33l-47-9l-48 33"/><path fill="#604000" d="M2050 892l47-23l-49-19l-46 23"/><path fill="#003820" d="M669 1424l50-54l-40 12l-50 54"/><path fill="#003818" d="M753 1364l50-52l-41 10l-50 53"/><path fill="#004008" d="M837 1308l50-51l-41 8l-50 51"/><path fill="#004000" d="M922 1254l50-48l-42 6l-50 49"/><path fill="#584800" d="M1700 937l48-31l-47-11l-48 32M1787 920l48-29l-47-13l-48 30"/><path fill="#584000" d="M1875 907l47-27l-48-15l-47 28"/><path fill="#604000" d="M1962 898l48-25l-49-17l-47 25"/><path fill="#585800" d="M2749 982l42-7l-50-36l-43 8"/><path fill="#505800" d="M2835 1010l42-5l-51-39l-42 6"/><path fill="#405000" d="M2921 1042l42-4l-51-40l-42 4"/><path fill="#385000" d="M3007 1078l41-2l-51-43l-42 2"/><path fill="#184800" d="M1047 1199l50-46l-43 3l-50 47"/><path fill="#605000" d="M2621 965l44-10l-51-34l-44 11"/><path fill="#604800" d="M2534 946l44-12l-50-31l-45 13"/><path fill="#084800" d="M961 1247l50-48l-42 5l-50 49"/><path fill="#205000" d="M1133 1154l50-44l-44 2l-49 44"/><path fill="#305000" d="M1219 1113l50-42l-44 0l-50 43"/><path fill="#385000" d="M1306 1076l49-40l-44-2l-49 41"/><path fill="#485800" d="M1393 1043l49-38l-45-5l-49 39"/><path fill="#505800" d="M1480 1013l49-36l-46-6l-48 36"/><path fill="#585800" d="M1568 987l48-34l-46-9l-48 35"/><path fill="#604000" d="M2095 908l47-22l-49-21l-47 23M2183 908l46-20l-49-23l-46 21M2271 912l46-18l-50-25l-46 19M2359 920l45-16l-50-27l-45 16"/><path fill="#604800" d="M2446 931l45-14l-50-29l-45 15"/><path fill="#585800" d="M2708 988l44-9l-51-35l-44 9"/><path fill="#585000" d="M1655 964l49-32l-47-10l-48 33"/><path fill="#604000" d="M2007 912l47-24l-49-19l-47 25"/><path fill="#003820" d="M707 1412l50-54l-40 11l-50 54"/><path fill="#004010" d="M791 1353l50-52l-41 9l-50 53"/><path fill="#004008" d="M876 1298l50-50l-42 7l-50 51"/><path fill="#584800" d="M1743 945l48-30l-47-12l-48 31"/><path fill="#604800" d="M1831 930l48-28l-48-14l-48 29"/><path fill="#604000" d="M1919 919l47-26l-48-16l-47 26"/><path fill="#585800" d="M2795 1014l43-6l-51-38l-43 7"/><path fill="#485800" d="M2882 1044l42-4l-51-40l-43 5"/><path fill="#405800" d="M2968 1078l42-3l-52-42l-41 4"/><path fill="#104800" d="M1001 1240l50-47l-43 4l-50 48"/><path fill="#185000" d="M1087 1194l50-45l-43 2l-50 46"/><path fill="#605000" d="M2580 974l45-12l-51-33l-45 13"/><path fill="#605800" d="M2668 995l44-10l-51-35l-44 10"/><path fill="#605000" d="M2493 957l44-14l-50-31l-45 15"/><path fill="#004800" d="M915 1290l50-49l-42 6l-50 49"/><path fill="#285000" d="M1174 1151l50-43l-44 0l-50 44"/><path fill="#385000" d="M1261 1112l49-41l-44-2l-50 42"/><path fill="#405800" d="M1348 1077l49-40l-45-3l-49 40"/><path fill="#505800" d="M1435 1045l49-37l-45-6l-49 38"/><path fill="#585800" d="M1523 1017l49-35l-46-8l-49 36M1611 993l48-34l-46-9l-49 34"/><path fill="#604000" d="M2052 927l47-23l-49-20l-47 24M2140 926l47-22l-50-22l-46 22M2228 928l46-20l-49-24l-46 20"/><path fill="#604800" d="M2317 934l45-18l-50-26l-45 18M2405 943l45-15l-50-29l-46 16"/><path fill="#585800" d="M2755 1020l43-8l-51-38l-43 9"/><path fill="#605000" d="M1699 972l48-31l-47-12l-48 32"/><path fill="#604800" d="M1963 933l48-26l-49-17l-47 26"/><path fill="#004018" d="M745 1400l50-53l-41 9l-50 54"/><path fill="#004010" d="M830 1343l50-51l-41 8l-50 52"/><path fill="#604800" d="M1787 955l48-29l-48-14l-48 30M1875 942l48-27l-48-16l-48 28"/><path fill="#505800" d="M2842 1048l43-6l-52-40l-42 7"/><path fill="#405800" d="M2929 1080l42-4l-52-42l-42 5"/><path fill="#084800" d="M955 1283l50-49l-42 5l-51 49"/><path fill="#105000" d="M1041 1235l50-47l-43 3l-50 47"/><path fill="#205000" d="M1128 1190l50-44l-44 0l-50 46"/><path fill="#605000" d="M2451 968l45-15l-51-30l-45 16M2539 984l45-13l-51-33l-45 14"/><path fill="#605800" d="M2627 1003l44-11l-51-35l-44 12"/><path fill="#606000" d="M2715 1026l43-9l-51-37l-44 10"/><path fill="#004808" d="M869 1335l50-51l-42 6l-50 52"/><path fill="#305800" d="M1215 1149l50-42l-45-1l-49 43"/><path fill="#405800" d="M1302 1112l50-41l-45-3l-50 42"/><path fill="#485800" d="M1390 1079l49-39l-45-5l-50 39"/><path fill="#585800" d="M1478 1049l49-37l-46-7l-49 37"/><path fill="#605800" d="M1566 1023l49-35l-47-9l-49 35M1654 1000l49-33l-47-11l-49 34"/><path fill="#604800" d="M2008 948l48-25l-49-19l-48 25M2097 944l47-22l-49-22l-47 24M2186 945l46-21l-50-24l-46 22M2274 949l46-19l-50-26l-46 20M2363 957l45-17l-50-28l-46 17"/><path fill="#586000" d="M2802 1053l43-8l-51-38l-43 7"/><path fill="#004018" d="M783 1390l51-53l-41 8l-51 54"/><path fill="#605000" d="M1742 981l49-30l-48-14l-48 32M1831 966l48-28l-48-16l-48 30"/><path fill="#604800" d="M1920 955l47-26l-48-18l-48 28"/><path fill="#485800" d="M2889 1083l43-5l-52-41l-42 6"/><path fill="#004800" d="M908 1327l51-50l-42 5l-51 51"/><path fill="#085000" d="M995 1277l50-48l-43 3l-50 49"/><path fill="#185000" d="M1082 1231l50-46l-44 1l-50 47"/><path fill="#285800" d="M1169 1188l50-44l-44-1l-50 45"/><path fill="#685000" d="M2409 981l45-16l-50-30l-46 17"/><path fill="#605000" d="M2497 995l45-15l-50-31l-46 15"/><path fill="#605800" d="M2586 1012l44-12l-51-34l-44 13"/><path fill="#606000" d="M2674 1033l44-10l-51-36l-44 11"/><path fill="#586000" d="M2762 1058l43-8l-51-38l-44 9"/><path fill="#004810" d="M822 1381l51-52l-42 7l-50 52"/><path fill="#385800" d="M1256 1149l50-42l-44-3l-50 43"/><path fill="#405800" d="M1344 1113l50-40l-45-4l-50 41"/><path fill="#506000" d="M1432 1082l50-39l-46-6l-50 39"/><path fill="#586000" d="M1521 1054l49-37l-47-8l-49 37"/><path fill="#606000" d="M1609 1029l49-34l-47-10l-49 35"/><path fill="#605800" d="M1698 1009l48-32l-47-13l-49 33"/><path fill="#684800" d="M1964 970l48-26l-49-19l-47 27M2053 964l48-24l-50-21l-47 25M2142 963l47-22l-49-23l-47 22M2231 965l47-20l-50-25l-47 21M2320 971l46-18l-50-27l-46 18"/><path fill="#506000" d="M2850 1087l42-7l-51-40l-43 7"/><path fill="#605000" d="M1787 992l48-30l-48-15l-48 31"/><path fill="#685000" d="M1875 979l48-28l-48-17l-48 29"/><path fill="#005008" d="M862 1373l51-52l-43 6l-50 52"/><path fill="#005000" d="M948 1321l51-50l-43 4l-50 50"/><path fill="#105000" d="M1035 1273l51-48l-44 2l-50 48"/><path fill="#205800" d="M1123 1228l50-46l-44 0l-50 47"/><path fill="#305800" d="M1210 1187l51-44l-45-1l-50 44"/><path fill="#685000" d="M2366 995l46-17l-50-29l-46 18"/><path fill="#685800" d="M2455 1007l46-16l-51-31l-46 17M2544 1023l45-14l-51-33l-45 14"/><path fill="#686000" d="M2633 1042l44-12l-51-35l-45 12"/><path fill="#606000" d="M2721 1065l44-9l-52-38l-43 10"/><path fill="#586000" d="M2809 1092l44-8l-52-39l-44 8"/><path fill="#405800" d="M1298 1150l50-42l-45-4l-50 43"/><path fill="#486000" d="M1387 1116l49-40l-45-5l-50 40"/><path fill="#586000" d="M1475 1086l50-38l-47-7l-49 38"/><path fill="#606000" d="M1564 1060l49-36l-47-9l-49 36M1653 1038l49-34l-48-12l-49 34"/><path fill="#685800" d="M1742 1019l49-32l-48-14l-49 33"/><path fill="#685000" d="M1831 1004l48-30l-48-16l-48 31M1920 993l48-28l-49-18l-48 28M2010 986l47-26l-49-20l-48 26M2099 982l47-23l-50-23l-47 25M2188 983l47-22l-50-24l-47 22M2277 987l47-19l-51-27l-46 20"/><path fill="#005008" d="M902 1366l51-51l-43 4l-51 52"/><path fill="#085000" d="M989 1316l50-49l-43 2l-50 50"/><path fill="#185800" d="M1076 1269l51-47l-44 1l-51 48"/><path fill="#285800" d="M1164 1227l50-46l-44-1l-50 46"/><path fill="#386000" d="M1252 1187l50-43l-45-3l-50 44"/><path fill="#685800" d="M1876 1017l48-28l-49-18l-48 30"/><path fill="#685000" d="M1965 1008l48-27l-49-19l-48 27M2324 1010l46-18l-51-29l-46 20"/><path fill="#685800" d="M2413 1020l46-16l-51-31l-46 18M2502 1034l46-15l-52-32l-45 15"/><path fill="#686000" d="M2591 1052l45-13l-51-35l-45 14"/><path fill="#686800" d="M2680 1074l44-11l-51-37l-45 11"/><path fill="#586800" d="M2769 1099l43-9l-51-39l-44 9"/><path fill="#406000" d="M1341 1152l50-41l-46-5l-50 41"/><path fill="#506000" d="M1429 1120l50-39l-46-7l-50 39"/><path fill="#586000" d="M1518 1092l50-37l-47-9l-49 37"/><path fill="#686000" d="M1607 1068l50-35l-48-12l-49 36M1697 1047l49-33l-48-13l-49 33"/><path fill="#685800" d="M1786 1030l49-31l-48-15l-49 32"/><path fill="#685000" d="M2055 1003l48-25l-50-22l-48 26M2145 1002l47-23l-50-24l-47 23M2234 1004l47-21l-50-26l-47 22"/><path fill="#005800" d="M942 1361l51-51l-43 3l-51 51"/><path fill="#105800" d="M1030 1312l50-48l-43 1l-51 49"/><path fill="#205800" d="M1117 1267l51-46l-44-1l-51 47"/><path fill="#306000" d="M1206 1226l50-44l-45-3l-50 45"/><path fill="#406000" d="M1294 1189l51-43l-46-4l-50 43"/><path fill="#685800" d="M1831 1043l49-30l-49-17l-49 31M1921 1032l48-28l-49-19l-48 29"/><path fill="#685000" d="M2101 1022l47-24l-50-24l-47 25"/><path fill="#685800" d="M2281 1027l46-20l-50-28l-47 21M2370 1035l47-18l-51-30l-47 19M2460 1047l46-16l-52-32l-45 17"/><path fill="#686000" d="M2549 1063l46-14l-52-34l-45 15"/><path fill="#686800" d="M2639 1083l44-12l-51-37l-45 13"/><path fill="#606800" d="M2728 1107l44-11l-52-38l-44 11"/><path fill="#486000" d="M1383 1155l50-40l-46-7l-50 41"/><path fill="#586000" d="M1473 1125l49-38l-46-9l-50 39"/><path fill="#606800" d="M1562 1099l50-36l-48-11l-49 37"/><path fill="#686800" d="M1651 1077l50-35l-48-12l-49 35"/><path fill="#686000" d="M1741 1058l49-32l-48-15l-49 33"/><path fill="#685000" d="M2191 1023l47-23l-50-25l-48 23"/><path fill="#685800" d="M2011 1025l48-26l-50-21l-48 27"/><path fill="#085800" d="M983 1356l51-50l-44 2l-51 51"/><path fill="#185800" d="M1071 1310l51-48l-45 0l-50 48"/><path fill="#286000" d="M1159 1267l51-46l-45-2l-51 46"/><path fill="#386000" d="M1248 1227l51-44l-46-4l-50 45"/><path fill="#406000" d="M1337 1192l50-42l-46-6l-50 42"/><path fill="#686000" d="M1786 1070l49-31l-49-17l-49 33"/><path fill="#706000" d="M1876 1058l49-30l-49-19l-49 31"/><path fill="#705800" d="M1966 1049l49-28l-50-21l-48 29M2057 1043l48-25l-50-23l-48 26M2237 1045l47-22l-50-27l-48 22M2327 1051l47-19l-51-30l-47 21"/><path fill="#706000" d="M2417 1062l46-18l-51-31l-46 18"/><path fill="#686000" d="M2507 1076l46-16l-52-34l-45 17"/><path fill="#686800" d="M2597 1094l45-14l-52-36l-45 14"/><path fill="#606800" d="M2686 1115l45-11l-52-38l-45 12"/><path fill="#506800" d="M1426 1160l51-40l-47-8l-50 40"/><path fill="#586800" d="M1516 1132l50-38l-47-10l-50 38"/><path fill="#686800" d="M1606 1107l49-35l-47-12l-50 36M1696 1087l49-34l-48-14l-49 34"/><path fill="#705800" d="M2147 1042l47-23l-50-25l-47 24"/><path fill="#105800" d="M1024 1353l51-49l-44 0l-51 50"/><path fill="#206000" d="M1112 1308l51-47l-44-2l-51 48"/><path fill="#306000" d="M1201 1267l51-45l-45-4l-51 46"/><path fill="#386000" d="M1290 1230l51-44l-46-5l-50 44"/><path fill="#486800" d="M1380 1196l50-41l-46-8l-50 42"/><path fill="#706800" d="M1741 1099l49-33l-49-16l-49 34"/><path fill="#706000" d="M1831 1084l49-31l-49-18l-49 32M1922 1073l48-29l-49-20l-49 30M2012 1066l48-27l-49-22l-49 28"/><path fill="#705800" d="M2193 1064l48-23l-51-26l-47 23"/><path fill="#706000" d="M2284 1068l47-20l-51-29l-47 21M2374 1077l47-19l-51-31l-47 20"/><path fill="#706800" d="M2465 1089l46-17l-52-33l-46 18M2555 1106l45-15l-52-36l-45 16"/><path fill="#687000" d="M2645 1126l45-14l-52-37l-46 14"/><path fill="#586800" d="M1470 1166l50-39l-47-10l-50 40"/><path fill="#606800" d="M1560 1140l50-38l-48-11l-50 38"/><path fill="#686800" d="M1650 1117l50-35l-48-13l-50 35"/><path fill="#705800" d="M2103 1063l48-25l-51-24l-48 25"/><path fill="#186000" d="M1065 1351l51-48l-44-1l-51 49"/><path fill="#286000" d="M1154 1308l51-47l-45-2l-51 47"/><path fill="#306800" d="M1244 1269l51-45l-46-5l-51 46"/><path fill="#406800" d="M1333 1233l51-43l-46-6l-51 43"/><path fill="#506800" d="M1423 1201l51-40l-47-9l-50 41"/><path fill="#707000" d="M1695 1129l49-35l-48-15l-50 35"/><path fill="#706800" d="M1786 1112l49-33l-49-17l-49 33M1876 1099l49-30l-49-19l-49 31"/><path fill="#706000" d="M1967 1090l49-28l-50-21l-48 29M2058 1085l49-26l-51-24l-48 27M2149 1084l48-24l-51-26l-47 25M2240 1087l48-22l-51-28l-48 23M2331 1094l47-21l-51-30l-47 21"/><path fill="#706800" d="M2422 1104l46-18l-51-32l-47 18M2512 1119l46-17l-52-34l-46 17"/><path fill="#687000" d="M2603 1137l45-15l-52-36l-46 15"/><path fill="#586800" d="M1514 1173l50-38l-48-11l-50 39"/><path fill="#687000" d="M1604 1149l50-37l-48-13l-50 38"/><path fill="#186000" d="M1107 1351l51-48l-45-3l-51 49"/><path fill="#286800" d="M1197 1310l51-47l-46-4l-51 47"/><path fill="#386800" d="M1286 1272l51-44l-46-6l-51 44"/><path fill="#486800" d="M1377 1238l50-42l-46-8l-51 43"/><path fill="#506800" d="M1467 1208l51-40l-48-10l-50 41"/><path fill="#607000" d="M1558 1182l50-38l-48-12l-50 38"/><path fill="#687000" d="M1649 1160l50-36l-49-15l-50 37"/><path fill="#707000" d="M1740 1141l50-34l-49-16l-50 34"/><path fill="#706800" d="M1831 1127l49-32l-49-19l-49 33M1922 1116l49-30l-50-21l-49 31M2014 1109l48-28l-50-23l-49 29"/><path fill="#706000" d="M2105 1106l48-26l-51-25l-48 26M2196 1107l48-24l-51-27l-48 24"/><path fill="#706800" d="M2287 1112l48-22l-52-29l-47 22M2378 1120l47-19l-51-32l-47 20"/><path fill="#707000" d="M2469 1133l47-18l-52-34l-47 19M2560 1149l46-15l-52-36l-46 16"/><path fill="#206800" d="M1149 1352l52-48l-46-4l-51 49"/><path fill="#587000" d="M1511 1216l51-39l-48-12l-50 40"/><path fill="#786800" d="M2152 1128l48-25l-51-27l-48 26"/><path fill="#306800" d="M1239 1312l52-45l-47-6l-51 46"/><path fill="#406800" d="M1330 1276l51-43l-47-8l-51 44"/><path fill="#507000" d="M1420 1245l51-42l-47-10l-51 43"/><path fill="#607000" d="M1602 1192l51-37l-49-14l-50 38"/><path fill="#707000" d="M1694 1172l50-36l-49-15l-50 36M1785 1155l50-33l-49-18l-50 34M1877 1143l49-32l-50-20l-49 32"/><path fill="#786800" d="M1968 1134l49-29l-50-23l-49 30M2060 1129l49-27l-51-25l-49 28M2243 1131l48-23l-51-29l-48 24M2335 1138l47-21l-52-31l-47 21"/><path fill="#707000" d="M2426 1149l47-19l-52-34l-47 20M2517 1163l46-17l-52-35l-46 17"/><path fill="#286800" d="M1192 1354l51-47l-46-5l-51 47"/><path fill="#386800" d="M1282 1316l52-45l-47-7l-51 46"/><path fill="#487000" d="M1373 1282l51-43l-47-9l-51 44"/><path fill="#507000" d="M1464 1252l51-41l-47-11l-51 42"/><path fill="#607000" d="M1556 1226l51-39l-49-13l-50 40"/><path fill="#687000" d="M1647 1204l51-37l-49-15l-50 37"/><path fill="#707000" d="M1739 1185l50-34l-49-18l-50 36"/><path fill="#787000" d="M1831 1171l50-33l-50-19l-50 33M1923 1160l49-30l-50-22l-49 31M2015 1153l49-28l-51-24l-49 29M2107 1151l48-27l-51-26l-48 27M2199 1152l48-25l-51-28l-49 25M2291 1157l47-23l-51-30l-48 23M2382 1166l48-21l-52-33l-48 21"/><path fill="#707800" d="M2474 1178l47-18l-53-35l-46 19"/><path fill="#487000" d="M1417 1290l52-43l-48-10l-51 43"/><path fill="#607000" d="M1601 1237l50-38l-48-15l-51 39"/><path fill="#787000" d="M2062 1174l49-28l-51-25l-49 29M2154 1174l49-26l-52-28l-48 27M2246 1177l48-24l-51-30l-48 24"/><path fill="#407000" d="M1326 1321l51-44l-47-8l-51 45"/><path fill="#587000" d="M1509 1261l51-40l-48-12l-51 40"/><path fill="#687800" d="M1693 1217l50-36l-49-17l-50 37"/><path fill="#707800" d="M1785 1200l50-34l-50-19l-50 35"/><path fill="#787800" d="M1877 1188l50-32l-50-21l-50 32"/><path fill="#787000" d="M1969 1179l50-30l-51-23l-49 30"/><path fill="#787800" d="M2338 1184l48-22l-52-32l-48 22M2430 1195l48-20l-53-34l-47 20"/><path fill="#307000" d="M1235 1357l52-46l-47-7l-51 47"/><path fill="#587800" d="M1554 1272l51-40l-49-14l-51 40"/><path fill="#307000" d="M1278 1362l52-46l-47-8l-51 47"/><path fill="#407000" d="M1370 1328l51-44l-47-10l-51 45"/><path fill="#507000" d="M1462 1298l51-42l-48-12l-51 43"/><path fill="#687800" d="M1646 1250l51-38l-49-16l-51 38"/><path fill="#707800" d="M1738 1231l51-35l-50-19l-50 37M1831 1217l50-34l-50-20l-50 34"/><path fill="#787800" d="M1924 1206l49-31l-50-23l-50 32M2016 1200l50-30l-51-25l-50 30M2109 1197l49-27l-52-27l-48 27M2201 1198l49-25l-52-29l-48 26M2294 1203l48-23l-52-31l-48 24M2386 1213l48-22l-52-33l-48 21"/><path fill="#387000" d="M1322 1368l52-45l-47-10l-52 46"/><path fill="#507800" d="M1507 1308l51-41l-49-14l-51 42"/><path fill="#687800" d="M1692 1264l50-37l-49-18l-51 37"/><path fill="#787800" d="M1970 1226l50-31l-51-24l-49 32M2063 1222l50-29l-52-27l-49 30M2156 1221l49-27l-51-28l-49 27M2249 1224l49-24l-52-31l-49 25M2342 1232l48-23l-52-33l-48 23"/><path fill="#487800" d="M1414 1336l52-43l-48-11l-52 43"/><path fill="#607800" d="M1599 1284l51-39l-49-16l-51 40"/><path fill="#707800" d="M1785 1247l50-35l-50-20l-50 36"/><path fill="#787800" d="M1877 1235l51-33l-51-22l-50 33"/><path fill="#487800" d="M1459 1346l52-43l-49-13l-51 43"/><path fill="#607800" d="M1645 1297l51-38l-50-17l-51 39"/><path fill="#707800" d="M1831 1265l50-35l-50-21l-50 35"/><path fill="#407800" d="M1366 1376l52-45l-47-11l-52 46"/><path fill="#587800" d="M1552 1320l51-41l-49-15l-51 41"/><path fill="#687800" d="M1738 1279l51-36l-50-20l-51 37"/><path fill="#788000" d="M1924 1254l50-32l-51-24l-50 33M2018 1248l49-31l-51-25l-50 30M2111 1245l49-28l-51-28l-50 29M2204 1247l49-27l-52-30l-49 27M2297 1252l49-24l-53-33l-48 25"/><path fill="#407800" d="M1411 1385l52-45l-48-12l-52 45"/><path fill="#587800" d="M1597 1332l52-40l-50-16l-51 41"/><path fill="#688000" d="M1784 1296l51-36l-50-21l-51 37"/><path fill="#708000" d="M1878 1283l50-33l-51-23l-50 34"/><path fill="#788000" d="M1971 1275l50-32l-51-25l-50 32M2065 1271l50-30l-52-27l-49 30M2159 1270l49-27l-52-30l-49 28M2252 1274l49-26l-52-32l-49 26"/><path fill="#507800" d="M1504 1357l52-43l-49-14l-52 43"/><path fill="#607800" d="M1691 1312l51-38l-50-18l-51 38"/><path fill="#507800" d="M1550 1369l51-42l-49-15l-52 42"/><path fill="#688000" d="M1737 1328l51-37l-50-20l-51 38"/><path fill="#788000" d="M2113 1295l50-29l-52-29l-50 30"/><path fill="#487800" d="M1456 1395l52-44l-49-13l-51 44"/><path fill="#588000" d="M1643 1347l52-40l-50-18l-51 40"/><path fill="#688000" d="M1831 1314l51-35l-51-22l-51 35"/><path fill="#708000" d="M1925 1304l50-33l-51-25l-50 34M2019 1297l50-31l-52-26l-50 31M2207 1297l49-27l-52-31l-49 27"/><path fill="#488000" d="M1502 1407l52-43l-49-15l-52 43"/><path fill="#608000" d="M1690 1363l51-39l-50-20l-52 40"/><path fill="#688000" d="M1784 1346l51-36l-51-22l-51 37M1878 1334l51-35l-51-24l-51 36"/><path fill="#708000" d="M1973 1326l50-33l-52-26l-50 33M2161 1321l50-28l-53-31l-49 29"/><path fill="#508000" d="M1596 1383l51-41l-49-18l-52 42"/><path fill="#708000" d="M2067 1321l50-30l-52-28l-50 31"/><path fill="#688000" d="M1926 1355l50-34l-51-25l-51 34"/><path fill="#588000" d="M1642 1398l52-40l-50-19l-52 41"/><path fill="#688000" d="M1831 1366l51-36l-51-24l-51 37"/><path fill="#708000" d="M2020 1349l51-32l-52-28l-51 33"/><path fill="#488000" d="M1548 1420l52-42l-50-17l-52 43"/><path fill="#608000" d="M1736 1380l52-38l-51-22l-51 39"/><path fill="#708000" d="M2115 1347l50-30l-52-30l-50 30"/><path fill="#508000" d="M1594 1435l52-42l-50-18l-52 42"/><path fill="#588000" d="M1689 1415l51-40l-50-20l-52 40"/><path fill="#608000" d="M1784 1399l51-38l-51-23l-52 38"/><path fill="#688000" d="M1879 1386l51-35l-52-25l-51 36M1974 1378l50-33l-52-27l-50 34"/><path fill="#688800" d="M2069 1374l50-31l-52-30l-51 32"/><path fill="#608800" d="M1831 1419l51-37l-51-24l-51 37"/><path fill="#588000" d="M1736 1433l51-39l-51-22l-51 39"/><path fill="#608800" d="M1926 1409l51-35l-51-27l-51 36"/><path fill="#508000" d="M1640 1451l53-41l-51-20l-52 42"/><path fill="#688800" d="M2022 1403l51-33l-53-29l-50 33"/><path fill="#508800" d="M1688 1469l52-41l-51-21l-52 41"/><path fill="#588800" d="M1783 1453l52-39l-51-23l-52 39"/><path fill="#608800" d="M1879 1441l51-37l-52-26l-51 37M1975 1433l51-35l-53-28l-51 35"/><path fill="#508800" d="M1735 1488l52-40l-51-23l-52 41"/><path fill="#588800" d="M1831 1474l52-38l-52-25l-52 38"/><path fill="#608800" d="M1927 1464l52-36l-53-27l-51 36"/><path fill="#508800" d="M1783 1509l52-39l-52-25l-52 40"/><path fill="#588800" d="M1879 1497l52-37l-52-27l-52 38"/><path fill="#508800" d="M1831 1531l52-38l-52-27l-52 40"/></g><polyline fill="none" stroke="#0c1408" stroke-opacity="0.75" stroke-width="0.9" stroke-linejoin="round" points="41.7,153.9 45.2,151.9 48.7,150 52.3,148.2 55.9,146.5 59.5,144.9 63.2,143.4 67,142 70.8,140.8 74.6,139.6 78.4,138.6 82.3,137.7 86.3,136.9 90.2,136.2 94.3,135.7 98.3,135.2 102.4,134.9 106.6,134.7 110.7,134.7 115,134.8 119.2,135 123.5,135.3 127.9,135.8 132.3,136.4 136.7,137.2 141.1,138.1 145.6,139.1 150.2,140.3 154.8,141.6 159.4,143.1 164.1,144.7 168.8,146.5 173.5,148.4 178.3,150.5 183.1,152.7 183.1,152.7 187.9,149.3 192.7,146 197.5,142.9 202.2,139.9 206.9,137 211.5,134.3 216.1,131.7 220.7,129.3 225.2,127 229.7,124.8 234.2,122.8 238.6,120.9 243,119.1 247.4,117.4 251.7,115.9 256,114.6 260.2,113.3 264.4,112.2 268.6,111.2 272.7,110.3 276.8,109.5 280.9,108.9 284.9,108.3 288.9,107.9 292.8,107.6 296.7,107.4 300.6,107.4 304.4,107.4 308.2,107.6 312,107.8 315.7,108.2 319.4,108.6 323.1,109.2 326.7,109.9"/>
<circle cx="42.9" cy="179.4" r="1.45" fill="#000"/>
<circle cx="41.1" cy="143.4" r="1.45" fill="#000"/>
<circle cx="39.4" cy="107.4" r="1.45" fill="#000"/>
<circle cx="37.6" cy="71.4" r="1.45" fill="#000"/>
<circle cx="35.9" cy="35.4" r="1.45" fill="#000"/>
<circle cx="45.1" cy="224.7" r="1.45" fill="#000"/>
<circle cx="114.1" cy="257.7" r="1.45" fill="#000"/>
<circle cx="183.1" cy="290.6" r="1.45" fill="#000"/>
<circle cx="252.1" cy="257.7" r="1.45" fill="#000"/>
<circle cx="321.1" cy="224.7" r="1.45" fill="#000"/>
<text x="37.7" y="176" font-size="13.2" text-anchor="end" textLength="12.7" lengthAdjust="spacingAndGlyphs">15</text>
<text x="35.9" y="140" font-size="13.2" text-anchor="end" textLength="12.7" lengthAdjust="spacingAndGlyphs">20</text>
<text x="34.2" y="104" font-size="13.2" text-anchor="end" textLength="12.7" lengthAdjust="spacingAndGlyphs">25</text>
<text x="32.4" y="68" font-size="13.2" text-anchor="end" textLength="12.7" lengthAdjust="spacingAndGlyphs">30</text>
<text x="30.7" y="32" font-size="13.2" text-anchor="end" textLength="12.7" lengthAdjust="spacingAndGlyphs">35</text>
<text x="3.9" y="33.6" font-size="18.8" text-anchor="start" textLength="7.5" lengthAdjust="spacingAndGlyphs" stroke="#222" stroke-width="0.25">a</text>
<text transform="translate(11.8 128.5) rotate(-90)" font-size="15" text-anchor="middle" textLength="147.5" lengthAdjust="spacingAndGlyphs">Total flavonoids content</text>
<text x="38.9" y="237.3" font-size="13.2" text-anchor="end" textLength="19" lengthAdjust="spacingAndGlyphs">360</text>
<text x="107.9" y="270.3" font-size="13.2" text-anchor="end" textLength="19" lengthAdjust="spacingAndGlyphs">320</text>
<text x="177.7" y="303.8" font-size="13.2" text-anchor="end" textLength="19" lengthAdjust="spacingAndGlyphs">280</text>
<text x="189.1" y="303.8" font-size="13.2" text-anchor="start" textLength="12.7" lengthAdjust="spacingAndGlyphs">30</text>
<text x="259.1" y="270.3" font-size="13.2" text-anchor="start" textLength="12.7" lengthAdjust="spacingAndGlyphs">40</text>
<text x="328.1" y="237.3" font-size="13.2" text-anchor="start" textLength="12.7" lengthAdjust="spacingAndGlyphs">50</text>
<text x="72.9" y="289" font-size="14.2" text-anchor="start" textLength="15.8" lengthAdjust="spacingAndGlyphs">X2</text>
<text x="276" y="282.7" font-size="14.2" text-anchor="start" textLength="15.8" lengthAdjust="spacingAndGlyphs">X1</text></g>
<g><line x1="387.7" y1="179" x2="527.2" y2="131.8" stroke="#666" stroke-width="0.7"/>
<line x1="527.2" y1="131.8" x2="666.7" y2="179" stroke="#666" stroke-width="0.7"/>
<line x1="386" y1="143.2" x2="527.2" y2="99.4" stroke="#666" stroke-width="0.7"/>
<line x1="527.2" y1="99.4" x2="668.4" y2="143.2" stroke="#666" stroke-width="0.7"/>
<line x1="384.2" y1="107.4" x2="527.2" y2="67.1" stroke="#666" stroke-width="0.7"/>
<line x1="527.2" y1="67.1" x2="670.2" y2="107.4" stroke="#666" stroke-width="0.7"/>
<line x1="382.5" y1="71.5" x2="527.2" y2="34.7" stroke="#666" stroke-width="0.7"/>
<line x1="527.2" y1="34.7" x2="671.9" y2="71.5" stroke="#666" stroke-width="0.7"/>
<line x1="380.7" y1="35.7" x2="527.2" y2="2.4" stroke="#666" stroke-width="0.7"/>
<line x1="527.2" y1="2.4" x2="673.7" y2="35.7" stroke="#666" stroke-width="0.7"/>
<line x1="458.5" y1="198.4" x2="454" y2="19.1" stroke="#666" stroke-width="0.7"/>
<line x1="527.2" y1="172.6" x2="527.2" y2="2.4" stroke="#666" stroke-width="0.7"/>
<line x1="595.9" y1="198.4" x2="600.4" y2="19.1" stroke="#666" stroke-width="0.7"/>
<line x1="664.5" y1="224.1" x2="673.7" y2="35.7" stroke="#666" stroke-width="0.7"/>
<line x1="389.9" y1="224.1" x2="380.7" y2="35.7" stroke="#333" stroke-width="0.75"/>
<polygon points="389.9,224.1 527.2,289.7 664.5,224.1 527.2,172.6" fill="#ffff00" stroke="#77770a" stroke-width="0.7"/>
<polyline fill="none" stroke="#78f272" stroke-width="0.95" points="514.7,283.7 520.7,283 526.8,282.2 530.7,281.6 535.4,280.9 542.1,279.7 545.8,279.1 551.7,278"/>
<polyline fill="none" stroke="#80f44c" stroke-width="0.95" points="498.6,276 503,275.7 507.4,275.4 512.6,274.9 519.2,274.2 523.9,273.7 527.8,273.1 533.2,272.4 539.2,271.4 542.9,270.8 548.9,269.8 553.6,268.9 557.5,268.1 563.7,266.7 567,266 573.4,264.4 577.1,263.5 582.7,262 588.7,260.3 588.7,260.3"/>
<polyline fill="none" stroke="#80f44c" stroke-width="0.95" points="390.5,223.9 390.2,224.3"/>
<polyline fill="none" stroke="#8af53e" stroke-width="0.95" points="477,265.7 482.4,265.9 487.3,266 492.4,266 497.1,265.8 501.7,265.7 506.2,265.4 510.5,265.1 514.8,264.8 521.1,264.2 526.9,263.5 530.7,263 534.8,262.5 541.9,261.4 545.4,260.8 550.2,259.9 555.8,258.8 559.1,258.1 565.6,256.7 568.7,256 574.9,254.4 579.3,253.2 583.7,252 589.4,250.3 592.5,249.3 597.6,247.7 602.8,245.8 607.8,244 612.5,242.2 615,241.1 619.6,239.2 624.1,237.2 628.3,235.2 632.4,233.1 636.4,231 638.3,230 642,227.8 645.5,225.6 648.9,223.4 651.3,221.8 653.6,220"/>
<polyline fill="none" stroke="#8af53e" stroke-width="0.95" points="417.8,213.6 416.4,215.3 415.2,216.8 413.9,218.5 412.4,220.8 411.2,223 410.3,225.1 409.6,226.9 409.1,228.9 408.7,230.9 408.5,232.9 408.5,233"/>
<polyline fill="none" stroke="#a2f82e" stroke-width="0.95" points="458.4,198.4 456.3,199.8 453,202.1 451.4,203.3 448.8,205.3 446.8,207 445.4,208.3 442.8,210.9 441.5,212.5 440.3,214 438.9,215.8 437.6,218.1 436.5,220.3 435.8,222.1 435.4,224 435.1,226 435,228 435.2,229.7 435.6,231.4 436.1,233 437.6,235.7 439,237.5 440.8,239.4 443.3,241.5 447,243.8 451.3,246 456.2,247.9 461.8,249.6 464.8,250.4 471.4,251.7 475,252.2 478.8,252.7 484.9,253.3 490.5,253.6 495.5,253.8 500.2,253.8 505.2,253.8 510,253.6 514.3,253.4 518.6,253.1 522.7,252.8 528.1,252.3 534.3,251.5 538,251 541.8,250.4 548.6,249.3 551.9,248.7 558.2,247.4 561.6,246.7 567.8,245.2 570.7,244.4 576.5,242.9 579.7,242 584.8,240.4 590.1,238.7 595.1,236.9 597.6,236 602.3,234.1 606.9,232.2 611.3,230.2 615.4,228.2 619.4,226.2 622.6,224.5 625.1,223 628.6,220.9 631.9,218.7 634,217.2 636.5,215.3 637.9,214.1"/>
<polyline fill="none" stroke="#f2ff58" stroke-width="0.6" points="544.8,179.2 541.2,179.8 536.4,180.7 532.4,181.6 528.6,182.5 523.5,183.8 519.5,184.9 516.3,185.9 511.7,187.4 507.3,189 503,190.7 498.8,192.4 494.9,194.3 492.9,195.3 489.2,197.3 485.6,199.4 483.9,200.4 480.7,202.7 479.1,203.9 476.2,206.4 474.9,207.7 473.2,209.5 471.4,211.9 470.5,213.5 469.7,215.1 469.1,216.7 468.7,218.5 468.6,220.5 468.9,222.6 469.8,225.1 470.8,226.6 472.1,228.1 474.9,230.5 478.8,232.7 483.5,234.7 489,236.2 492.1,236.9 498.9,238 502.7,238.4 506.7,238.7 511,238.9 515.7,238.9 520.6,238.8 525.9,238.5 531.7,238.1 535.8,237.6 539.5,237.2 545,236.4 549.7,235.6 553,235 559.1,233.6 562.3,232.9 567.8,231.4 573.2,229.9 575.9,229 580.9,227.3 585.6,225.5 590.2,223.7 594.4,221.8 598.5,219.8 602.2,217.7 605.3,215.9 607.4,214.5 610.5,212.3 612.4,210.7 614.7,208.7 616.4,207.1 617,206.3"/>
<polyline fill="none" stroke="#0c1408" stroke-opacity="0.75" stroke-width="0.9" stroke-linejoin="round" points="385.4,132.2 390,128.2 394.5,124.3 399,120.6 403.5,116.9 407.9,113.4 412.4,110.1 416.8,106.8 421.2,103.7 425.6,100.7 429.9,97.8 434.3,95 438.6,92.3 442.9,89.8 447.1,87.4 451.4,85.1 455.6,82.9 459.8,80.9 463.9,78.9 468.1,77.1 472.2,75.4 476.3,73.7 480.4,72.2 484.4,70.9 488.4,69.6 492.4,68.4 496.4,67.3 500.3,66.4 504.3,65.5 508.1,64.8 512,64.1 515.8,63.6 519.7,63.2 523.4,62.8 527.2,62.6 527.2,62.6 531,60.5 534.8,58.6 538.6,57 542.4,55.5 546.3,54.3 550.2,53.4 554.2,52.6 558.2,52.1 562.2,51.9 566.2,51.8 570.3,52 574.3,52.5 578.5,53.2 582.6,54.2 586.7,55.4 590.9,56.9 595.1,58.6 599.4,60.6 603.6,62.8 607.9,65.4 612.1,68.2 616.5,71.2 620.8,74.5 625.1,78.1 629.5,82 633.8,86.1 638.2,90.5 642.6,95.2 647,100.2 651.4,105.4 655.8,110.9 660.3,116.7 664.7,122.8 669.1,129.1"/><g transform="scale(.1)"><path fill="#101800" d="M5272 603l41 1l-41 26l-41-1"/><path fill="#081000" d="M5234 607l42-1l-42 26l-41 1M5310 585l41 0l-41 24l-42-1M5272 588l42-1l-42 24l-42 1M5196 611l42-2l-41 27l-42 1"/><path fill="#080800" d="M5348 568l42 1l-43 21l-41 0"/><path fill="#081000" d="M5157 616l43-2l-41 26l-43 3"/><path fill="#080800" d="M5234 592l42-1l-42 24l-42 1M5310 571l42 0l-42 22l-42 0"/><path fill="#000000" d="M5387 554l41 1l-42 19l-42-1"/><path fill="#080800" d="M5195 597l43-2l-42 24l-42 3M5119 623l42-4l-41 26l-42 4"/><path fill="#000800" d="M5272 576l42-2l-42 22l-42 1"/><path fill="#000000" d="M5426 542l41 1l-43 16l-41-1M5349 557l42 0l-43 19l-42 0"/><path fill="#080800" d="M5079 630l44-5l-41 27l-43 5"/><path fill="#000800" d="M5156 604l43-4l-41 24l-43 4"/><path fill="#000000" d="M5233 581l43-3l-42 22l-42 3M5311 561l42-1l-43 19l-42 1M5388 545l41 0l-43 17l-41 0M5465 532l41 1l-44 14l-40-1M5117 611l43-4l-41 24l-43 5M5427 535l42 0l-44 15l-41-1"/><path fill="#000800" d="M5040 639l44-6l-41 26l-43 6"/><path fill="#000000" d="M5195 587l42-3l-41 21l-43 4M5350 549l41-1l-43 17l-41 1M5505 525l41 1l-45 12l-40-2M5272 566l42-2l-42 20l-42 2M5001 648l43-7l-40 27l-44 7M5078 620l43-6l-41 24l-43 6M5155 595l44-5l-42 22l-43 4M5233 573l43-4l-42 20l-43 3M5311 554l42-2l-43 17l-42 2M5389 539l42-1l-44 15l-42 1M5467 528l41 0l-45 12l-40 0M5546 520l40 1l-46 9l-40-1M5350 545l42-3l-43 15l-42 2M4961 659l44-8l-40 26l-44 9M5038 629l44-7l-41 25l-44 7M5116 603l44-6l-42 22l-43 6M5272 561l43-4l-43 17l-43 4M5429 532l41-1l-45 12l-40 1M5588 520l38-2l-48 4l-38 2M5194 580l43-4l-42 19l-43 5M5509 524l39-1l-47 8l-39 1M4920 671l45-10l-40 27l-44 9M4998 640l45-8l-41 24l-44 8M5076 613l44-7l-41 22l-44 7M5154 589l44-6l-42 20l-43 5M5233 568l43-4l-43 17l-43 4M5311 551l43-3l-44 14l-42 3M5391 537l41-2l-45 12l-41 2M5471 529l39-3l-47 8l-39 2M5550 525l38-5l-48 2l-38 5M5628 523l38-5l-48-2l-38 5M4880 684l45-11l-39 27l-46 10M5589 527l39-7l-47-2l-39 6M4958 652l45-10l-40 25l-45 9M5036 623l45-8l-41 22l-45 8M5114 598l45-7l-42 20l-44 7M5193 576l44-5l-42 17l-44 6M5272 558l43-4l-43 15l-43 4M5352 544l41-4l-45 12l-41 4M5511 531l39-7l-47 0l-39 7M5667 526l40-6l-47-5l-40 5M5433 537l39-7l-48 5l-39 7M4839 698l46-12l-39 26l-46 12M5629 529l40-6l-46-6l-41 7M5707 531l40-6l-46-8l-40 6M4917 665l46-11l-40 24l-45 11M4995 635l46-9l-40 22l-46 9M5074 609l45-8l-41 19l-45 8M5153 586l44-7l-41 17l-45 7M5232 567l44-6l-42 15l-44 5M5315 554l39-7l-47 8l-39 8M5392 546l41-11l-46 3l-40 10M5471 537l41-9l-46-1l-41 9M5550 531l40-8l-46-3l-40 8M4798 713l46-14l-38 27l-47 13M4876 679l46-12l-39 24l-46 12M4955 648l46-11l-40 22l-46 11M5669 534l41-7l-46-8l-41 7M5748 538l40-6l-46-11l-40 6M5033 621l46-10l-40 19l-46 10M5112 597l46-8l-40 16l-46 9M5189 579l48-9l-40 12l-47 9M5272 567l43-13l-43 4l-43 13M5352 554l42-12l-44 2l-43 11M5431 544l42-11l-45-1l-42 11M5511 537l41-9l-46-4l-41 10M5590 534l41-8l-46-6l-41 8M4757 729l47-15l-39 27l-47 14M4835 694l47-13l-39 23l-47 14M4913 663l47-13l-38 21l-47 13M5631 539l41-8l-46-9l-41 8M5789 548l41-6l-47-14l-40 6M4992 635l47-12l-39 18l-47 12M5070 611l48-12l-39 15l-48 12M5150 594l47-15l-40 8l-47 15M5232 577l44-15l-43 5l-44 14M5312 562l43-13l-44 2l-43 13M5392 551l42-12l-44-1l-43 12M5471 543l42-10l-45-3l-42 10M5551 539l42-9l-46-6l-42 9M5710 542l41-7l-46-12l-41 7M4715 747l48-16l-38 25l-48 16M4793 711l48-15l-38 23l-48 15M4872 679l48-15l-38 20l-48 15M4950 650l49-14l-38 16l-49 15M5030 627l48-16l-39 12l-48 15M5512 546l42-11l-45-6l-42 11M5592 544l41-9l-45-9l-42 10M5672 546l41-8l-46-11l-42 8"/><path fill="#080000" d="M5751 551l41-7l-46-13l-41 6"/><path fill="#080800" d="M5831 560l40-6l-46-16l-41 6"/><path fill="#000000" d="M5111 606l46-16l-41 7l-46 16M5192 587l44-15l-42 4l-45 16M5272 572l44-14l-44 1l-44 15M5352 560l43-13l-44-1l-43 13M5432 551l43-12l-45-3l-43 12M4673 766l48-18l-37 25l-48 18M4751 729l49-17l-37 22l-49 17M4830 696l49-17l-38 19l-48 17M4909 667l49-17l-38 15l-49 17M4990 642l47-18l-39 11l-48 17M5553 551l42-11l-46-8l-42 10"/><path fill="#080000" d="M5633 552l42-10l-46-11l-42 9"/><path fill="#080800" d="M5713 556l41-8l-46-14l-41 8"/><path fill="#100800" d="M5793 564l41-7l-47-17l-41 7M5873 575l40-6l-47-19l-40 6"/><path fill="#000000" d="M5071 619l46-18l-41 8l-46 17M5151 599l45-16l-42 4l-45 16M5232 583l44-16l-43 2l-45 15M5312 569l44-14l-44-1l-44 14M5392 560l43-13l-44-4l-43 13M5473 553l42-11l-45-6l-43 11M4631 786l49-20l-37 24l-49 20M4710 748l49-19l-37 21l-49 20M4789 715l49-20l-38 18l-49 19M4869 684l48-19l-38 13l-49 20M4949 657l48-19l-40 10l-47 19M5030 633l46-19l-41 7l-46 19"/><path fill="#080000" d="M5513 558l43-11l-45-9l-43 12"/><path fill="#080800" d="M5594 558l42-10l-46-12l-42 11"/><path fill="#100800" d="M5674 561l42-9l-46-14l-42 9M5754 568l42-8l-47-16l-41 8"/><path fill="#180800" d="M5835 579l41-7l-47-20l-41 7"/><path fill="#181000" d="M5915 592l40-5l-47-22l-40 5"/><path fill="#000000" d="M5111 612l45-18l-42 5l-45 17M5433 562l43-13l-45-6l-43 13M5191 594l45-16l-43 1l-45 17M5272 580l44-15l-44-1l-44 15M5353 569l43-14l-45-3l-43 14M4589 808l49-22l-36 23l-50 22M4668 769l49-22l-37 20l-49 22M4747 734l49-22l-37 17l-49 22M4828 702l48-21l-39 13l-48 21M4908 674l48-21l-40 10l-48 21M4989 648l46-20l-41 7l-46 20M5070 626l46-19l-43 4l-45 19"/><path fill="#080000" d="M5474 567l43-13l-45-9l-43 13"/><path fill="#100800" d="M5555 566l42-12l-45-11l-43 11M5635 568l42-10l-46-14l-42 10"/><path fill="#180800" d="M5716 574l42-9l-47-17l-41 9"/><path fill="#181000" d="M5796 583l42-8l-47-19l-41 8"/><path fill="#201000" d="M5877 596l41-7l-47-22l-41 7"/><path fill="#201800" d="M5957 612l40-5l-47-25l-40 6"/><path fill="#000000" d="M5151 607l45-18l-43 2l-45 18"/><path fill="#080000" d="M5393 572l44-14l-45-6l-44 14"/><path fill="#000000" d="M5232 592l44-17l-44 0l-44 16M5312 580l44-15l-44-4l-44 16M4546 830l50-24l-36 23l-50 24M4626 791l49-24l-37 19l-49 24M4706 754l49-23l-38 16l-49 23M4786 721l48-23l-39 13l-48 23M4867 691l47-22l-40 10l-47 22M4948 664l46-21l-41 7l-46 22M5029 641l46-20l-42 4l-46 21M5110 621l45-19l-43 2l-45 19"/><path fill="#100800" d="M5434 577l43-14l-45-9l-43 14M5515 574l43-12l-46-12l-43 13"/><path fill="#180800" d="M5596 576l43-12l-46-14l-43 12"/><path fill="#181000" d="M5677 581l42-11l-46-17l-42 11"/><path fill="#201000" d="M5758 589l42-9l-47-20l-42 9"/><path fill="#281000" d="M5838 601l42-8l-47-22l-41 8"/><path fill="#281800" d="M5919 616l41-7l-47-24l-41 6"/><path fill="#302000" d="M5999 635l41-6l-47-27l-41 6"/><path fill="#000000" d="M5191 605l45-18l-44-1l-45 18"/><path fill="#080000" d="M5353 583l44-16l-45-6l-44 15M5272 592l44-17l-44-3l-44 16"/><path fill="#000000" d="M4504 854l50-26l-36 22l-50 26M4584 813l49-26l-37 19l-49 26M4664 775l49-25l-38 16l-49 25M4745 741l48-24l-40 12l-47 25M4826 710l47-24l-40 10l-48 24M4907 682l46-23l-41 8l-47 22M4988 657l46-21l-42 5l-46 21M5069 636l45-20l-43 2l-45 20M5150 619l45-19l-43-1l-45 19"/><path fill="#100800" d="M5394 588l44-16l-45-8l-44 15"/><path fill="#180800" d="M5475 584l44-14l-46-11l-43 14M5557 585l43-13l-46-14l-43 12"/><path fill="#201000" d="M5638 588l42-11l-46-17l-42 11"/><path fill="#281000" d="M5719 596l42-11l-46-19l-43 10"/><path fill="#281800" d="M5800 607l42-10l-47-22l-42 9"/><path fill="#301800" d="M5881 621l41-8l-47-25l-41 8"/><path fill="#302000" d="M5961 639l41-7l-47-27l-41 6"/><path fill="#382800" d="M6042 660l41-5l-48-30l-40 5"/><path fill="#080000" d="M5231 605l45-18l-44-3l-45 17"/><path fill="#080800" d="M5313 595l44-17l-45-6l-44 16"/><path fill="#000000" d="M4462 879l49-28l-36 21l-50 28M4542 837l49-28l-38 18l-49 28M4622 798l49-27l-39 15l-48 27M4703 762l48-26l-40 13l-48 25M4784 730l47-25l-40 9l-48 25M4865 701l47-24l-42 7l-46 24M4946 675l46-23l-42 5l-46 22M5027 653l46-21l-43 1l-45 22"/><path fill="#080000" d="M5109 634l45-20l-43-1l-46 20"/><path fill="#080800" d="M5190 619l45-19l-44-3l-45 19"/><path fill="#100800" d="M5272 608l45-18l-45-6l-45 17"/><path fill="#180800" d="M5354 600l44-17l-45-8l-44 16M5435 595l44-15l-45-11l-44 15"/><path fill="#201000" d="M5517 594l43-13l-46-15l-43 14"/><path fill="#281000" d="M5598 597l43-12l-46-17l-43 12M5680 603l42-11l-46-19l-43 11"/><path fill="#301800" d="M5761 613l42-10l-46-22l-43 10M5842 627l42-9l-47-25l-42 9"/><path fill="#382000" d="M5923 644l42-8l-47-28l-42 8"/><path fill="#382800" d="M6004 664l41-6l-47-31l-41 7"/><path fill="#403000" d="M6085 688l40-5l-47-33l-41 5"/><path fill="#100800" d="M5231 622l45-19l-44-6l-45 19"/><path fill="#180800" d="M5313 613l44-18l-44-8l-45 17"/><path fill="#000000" d="M4419 905l50-30l-37 21l-50 29M4499 861l49-29l-37 18l-49 29M4580 821l48-28l-38 15l-49 28M4660 784l49-27l-40 12l-48 27M4742 750l47-26l-40 10l-48 26M4823 720l47-25l-41 7l-47 25M4904 694l47-24l-42 4l-47 24"/><path fill="#080000" d="M4986 670l46-22l-43 2l-46 22"/><path fill="#080800" d="M5067 651l46-22l-43 0l-46 21"/><path fill="#100800" d="M5149 634l46-20l-44-3l-46 20"/><path fill="#201000" d="M5395 607l44-16l-45-11l-45 16"/><path fill="#281000" d="M5477 606l43-16l-45-14l-44 15M5558 607l44-14l-46-16l-44 13"/><path fill="#301800" d="M5640 612l43-12l-46-20l-43 13M5722 621l42-11l-46-22l-43 11"/><path fill="#382000" d="M5803 634l43-10l-47-25l-42 10M5885 650l42-9l-47-28l-42 9"/><path fill="#402800" d="M5966 669l41-8l-47-30l-41 8"/><path fill="#403000" d="M6047 692l41-6l-47-33l-41 6"/><path fill="#403800" d="M6128 719l40-6l-47-35l-41 5"/><path fill="#201000" d="M5272 627l45-19l-45-8l-45 18"/><path fill="#180800" d="M5190 637l45-20l-44-6l-45 20"/><path fill="#201000" d="M5354 621l45-18l-46-11l-44 17"/><path fill="#484800" d="M6171 752l40-5l-47-39l-41 6"/><path fill="#000000" d="M4376 932l50-32l-37 21l-50 31M4456 887l49-31l-37 18l-49 30M4537 845l49-29l-39 15l-49 29M4618 807l48-28l-39 12l-49 28M4699 773l48-28l-41 10l-47 27M4781 741l47-26l-41 7l-48 26M4862 713l47-25l-42 5l-47 25"/><path fill="#080800" d="M4944 689l46-24l-42 2l-47 24M5026 668l46-22l-43-1l-46 22"/><path fill="#100800" d="M5108 651l45-21l-43-4l-46 21"/><path fill="#281000" d="M5436 618l44-17l-45-14l-44 16"/><path fill="#301800" d="M5518 618l44-15l-46-17l-44 15M5601 623l43-14l-47-20l-43 14"/><path fill="#381800" d="M5682 630l43-12l-46-22l-43 12"/><path fill="#402000" d="M5764 642l43-12l-47-25l-43 12"/><path fill="#402800" d="M5846 657l42-10l-47-28l-42 10M5928 675l41-9l-47-30l-42 9"/><path fill="#483000" d="M6009 698l41-8l-47-34l-41 8"/><path fill="#483800" d="M6090 723l41-7l-47-35l-41 6"/><path fill="#201000" d="M5231 643l45-20l-45-9l-45 20"/><path fill="#281000" d="M5313 635l45-19l-45-11l-45 18"/><path fill="#000000" d="M4333 960l49-33l-36 20l-50 33"/><path fill="#181000" d="M5148 654l46-21l-44-6l-46 21"/><path fill="#301800" d="M5396 631l44-17l-46-15l-44 18"/><path fill="#504800" d="M6134 757l40-7l-47-39l-41 7"/><path fill="#000000" d="M4413 914l49-32l-37 17l-49 32M4494 871l49-31l-39 15l-49 31M4575 832l48-30l-39 12l-48 30M4656 796l48-29l-40 10l-48 28M4738 763l47-27l-41 7l-47 27"/><path fill="#080800" d="M4820 734l47-26l-42 5l-47 26M4902 709l46-25l-42 2l-47 25"/><path fill="#100800" d="M4984 687l46-24l-43-1l-46 24"/><path fill="#181000" d="M5066 669l46-23l-44-3l-46 22"/><path fill="#301800" d="M5478 631l44-17l-46-16l-44 16"/><path fill="#381800" d="M5560 634l44-15l-46-20l-44 15"/><path fill="#402000" d="M5643 641l43-14l-47-22l-43 13M5725 651l43-13l-47-25l-43 13"/><path fill="#482800" d="M5807 665l43-11l-48-28l-42 11"/><path fill="#483000" d="M5889 683l42-11l-47-30l-42 10M5971 704l41-9l-47-34l-42 9"/><path fill="#504000" d="M6052 728l41-8l-47-35l-41 7"/><path fill="#505000" d="M6215 788l40-5l-48-42l-40 6"/><path fill="#281000" d="M5189 659l46-21l-45-9l-45 21"/><path fill="#301800" d="M5272 651l45-20l-45-12l-45 20M5355 646l45-19l-46-14l-45 18"/><path fill="#505800" d="M6258 827l40-6l-48-44l-40 6"/><path fill="#000000" d="M4289 989l50-34l-37 20l-50 34M4370 942l49-33l-38 17l-49 33"/><path fill="#201000" d="M5107 672l46-23l-45-6l-46 22"/><path fill="#381800" d="M5437 644l45-17l-46-17l-44 17"/><path fill="#504800" d="M6096 762l41-8l-48-39l-41 8"/><path fill="#000000" d="M4451 898l49-32l-39 14l-49 32M4532 857l48-31l-39 12l-49 31M4613 820l49-30l-41 10l-48 30M4695 787l48-29l-41 7l-48 29"/><path fill="#080800" d="M4777 757l47-28l-41 5l-48 27"/><path fill="#100800" d="M4859 730l47-26l-42 2l-47 26"/><path fill="#101000" d="M4942 707l46-25l-43-1l-46 25"/><path fill="#181000" d="M5024 688l46-24l-43-4l-47 24"/><path fill="#401800" d="M5520 646l44-16l-46-20l-44 17"/><path fill="#402000" d="M5603 652l43-15l-46-22l-44 15"/><path fill="#482000" d="M5685 661l44-13l-47-26l-44 14"/><path fill="#482800" d="M5768 674l43-12l-48-28l-42 12"/><path fill="#503000" d="M5850 691l42-11l-47-31l-42 11"/><path fill="#503800" d="M5932 711l42-10l-47-33l-42 10"/><path fill="#504000" d="M6014 735l41-9l-47-36l-42 9"/><path fill="#585000" d="M6177 793l41-7l-48-41l-41 6"/><path fill="#281800" d="M5148 677l45-22l-44-9l-46 22"/><path fill="#301800" d="M5231 667l45-21l-45-11l-46 21"/><path fill="#381800" d="M5314 661l45-20l-46-14l-45 20"/><path fill="#401800" d="M5397 659l44-19l-46-17l-44 19"/><path fill="#505800" d="M6221 832l40-7l-48-44l-40 6"/><path fill="#000000" d="M4246 1019l49-35l-37 19l-49 36M4326 971l50-35l-38 18l-50 34M4407 926l49-34l-38 15l-49 33"/><path fill="#281800" d="M5065 691l46-24l-44-6l-46 23"/><path fill="#402000" d="M5479 660l45-18l-46-19l-45 17"/><path fill="#584800" d="M6057 769l42-10l-48-38l-41 9"/><path fill="#000000" d="M4489 884l48-32l-39 12l-49 32"/><path fill="#585000" d="M6139 799l41-9l-48-41l-41 8"/><path fill="#485800" d="M6302 869l40-6l-48-47l-40 6"/><path fill="#000000" d="M4570 846l49-31l-41 9l-48 31"/><path fill="#080800" d="M4652 811l48-30l-41 7l-48 30M4734 780l48-29l-42 5l-47 28"/><path fill="#101000" d="M4817 752l47-27l-43 2l-47 27"/><path fill="#181000" d="M4899 728l47-26l-43-1l-47 26"/><path fill="#201000" d="M4982 708l46-25l-43-4l-47 25"/><path fill="#482000" d="M5562 665l44-17l-46-22l-44 16"/><path fill="#482800" d="M5645 673l44-15l-47-25l-44 15"/><path fill="#502800" d="M5728 685l43-14l-47-28l-43 14"/><path fill="#503000" d="M5811 700l42-12l-47-31l-43 13"/><path fill="#503800" d="M5893 720l42-12l-47-33l-42 11"/><path fill="#584000" d="M5975 742l42-10l-47-36l-42 10"/><path fill="#301800" d="M5106 696l46-23l-45-9l-46 23"/><path fill="#381800" d="M5189 685l46-22l-45-12l-46 23"/><path fill="#382000" d="M5272 678l45-21l-45-14l-45 21"/><path fill="#402000" d="M5355 675l45-20l-45-17l-46 19"/><path fill="#482000" d="M5439 675l44-19l-46-20l-45 19"/><path fill="#586000" d="M6183 838l41-8l-48-45l-41 8"/><path fill="#406000" d="M6346 913l40-6l-48-50l-40 6"/><path fill="#000000" d="M4202 1051l49-37l-37 19l-49 37M4282 1001l50-36l-38 17l-49 36M4363 955l50-35l-39 15l-49 34M4445 912l49-33l-40 12l-48 33"/><path fill="#281800" d="M5022 711l47-25l-44-6l-47 24"/><path fill="#482000" d="M5522 678l44-17l-46-23l-45 18"/><path fill="#584800" d="M6019 776l42-10l-48-39l-42 10"/><path fill="#000000" d="M4527 873l48-32l-40 9l-48 32"/><path fill="#605800" d="M6101 805l41-9l-47-42l-42 9"/><path fill="#506000" d="M6264 874l41-7l-48-48l-41 7"/><path fill="#080800" d="M4609 837l48-31l-41 7l-48 31"/><path fill="#101000" d="M4691 805l48-30l-42 4l-47 30M4774 776l47-29l-42 2l-48 28"/><path fill="#181800" d="M4856 751l48-28l-43-1l-47 28"/><path fill="#201800" d="M4939 729l47-26l-43-4l-47 26"/><path fill="#502800" d="M5605 686l44-17l-47-25l-44 16M5688 696l44-15l-47-28l-44 15"/><path fill="#583000" d="M5771 711l43-14l-47-31l-43 14"/><path fill="#583800" d="M5854 729l43-12l-48-34l-43 13"/><path fill="#584000" d="M5936 751l43-12l-48-36l-42 12"/><path fill="#382000" d="M5063 717l47-25l-45-9l-46 24M5147 705l46-24l-45-12l-46 24"/><path fill="#402000" d="M5230 696l46-22l-45-15l-46 23"/><path fill="#482000" d="M5314 692l45-22l-46-17l-45 21M5397 690l45-19l-46-20l-45 20"/><path fill="#502800" d="M5481 693l45-19l-47-22l-45 18"/><path fill="#606000" d="M6145 845l41-10l-48-44l-41 9"/><path fill="#486000" d="M6308 918l41-7l-48-50l-41 7"/><path fill="#000000" d="M4157 1083l50-38l-37 20l-49 38M4238 1033l50-37l-38 17l-49 37M4320 985l49-36l-39 15l-49 36M4401 941l49-34l-39 12l-49 34"/><path fill="#080800" d="M4483 901l49-34l-40 10l-49 33"/><path fill="#302000" d="M4980 732l47-26l-44-6l-47 26"/><path fill="#502800" d="M5564 699l45-17l-47-25l-44 17"/><path fill="#080800" d="M4565 864l49-32l-41 6l-49 33"/><path fill="#604800" d="M5980 785l42-11l-48-40l-42 12"/><path fill="#605800" d="M6062 813l42-10l-48-42l-41 10"/><path fill="#506000" d="M6227 880l40-9l-47-47l-41 8"/><path fill="#386000" d="M6390 960l39-6l-48-53l-39 6"/><path fill="#101000" d="M4648 831l48-32l-42 5l-48 31"/><path fill="#181800" d="M4731 801l47-30l-42 1l-48 30"/><path fill="#201800" d="M4813 774l48-29l-43-1l-47 29"/><path fill="#281800" d="M4897 751l47-27l-44-4l-47 28"/><path fill="#583000" d="M5648 709l44-16l-47-28l-44 16M5731 723l44-15l-48-31l-43 15"/><path fill="#583800" d="M5814 740l43-14l-47-34l-43 14"/><path fill="#604000" d="M5897 761l43-13l-48-36l-42 12"/><path fill="#382000" d="M5021 738l46-26l-44-9l-47 26"/><path fill="#402000" d="M5104 725l47-25l-45-12l-47 25"/><path fill="#482000" d="M5188 716l46-24l-45-15l-46 24"/><path fill="#482800" d="M5272 710l46-23l-46-17l-46 22"/><path fill="#502800" d="M5356 708l45-22l-46-19l-45 21M5440 709l45-20l-47-22l-45 19"/><path fill="#582800" d="M5524 714l44-18l-47-26l-44 19"/><path fill="#486800" d="M6271 924l40-8l-48-50l-40 8"/><path fill="#286800" d="M6434 1010l39-6l-48-56l-39 6"/><path fill="#000000" d="M4113 1117l50-39l-37 19l-50 40M4194 1066l50-39l-38 17l-50 38M4275 1017l50-37l-39 14l-49 37M4357 972l49-36l-39 12l-49 36"/><path fill="#080800" d="M4439 930l49-35l-40 10l-49 35"/><path fill="#081000" d="M4521 892l49-33l-41 6l-48 34"/><path fill="#302000" d="M4937 755l47-28l-44-6l-47 27"/><path fill="#583000" d="M5607 723l44-17l-47-28l-44 17"/><path fill="#605800" d="M6024 822l42-12l-48-42l-42 12"/><path fill="#606800" d="M6106 853l42-11l-48-45l-42 11"/><path fill="#101800" d="M4604 858l48-33l-41 4l-48 33"/><path fill="#605000" d="M5941 795l42-13l-47-39l-43 13"/><path fill="#586800" d="M6189 887l41-10l-48-47l-41 9"/><path fill="#386800" d="M6352 965l41-7l-48-53l-41 7"/><path fill="#181800" d="M4687 827l48-32l-42 2l-48 31"/><path fill="#202000" d="M4770 799l48-30l-43-1l-48 30"/><path fill="#282000" d="M4854 775l47-29l-43-3l-48 28"/><path fill="#583800" d="M5691 736l44-17l-48-31l-43 17"/><path fill="#603800" d="M5774 752l44-15l-48-34l-43 15"/><path fill="#604800" d="M5858 772l43-14l-48-37l-43 14"/><path fill="#000000" d="M4068 1153l50-41l-36 19l-50 41"/><path fill="#402800" d="M4978 761l47-28l-45-9l-47 28M5062 747l46-27l-44-11l-47 26"/><path fill="#482800" d="M5146 736l46-25l-45-14l-46 24"/><path fill="#502800" d="M5230 729l46-24l-46-17l-46 24M5314 726l46-22l-46-20l-46 22"/><path fill="#582800" d="M5398 726l46-21l-47-23l-45 22"/><path fill="#583000" d="M5482 731l45-20l-46-26l-45 20"/><path fill="#603000" d="M5566 738l45-18l-47-29l-45 19"/><path fill="#206800" d="M6478 1063l39-7l-48-58l-39 6"/><path fill="#306800" d="M6396 1015l41-7l-48-56l-41 8"/><path fill="#000000" d="M4149 1100l50-40l-37 17l-50 39M4231 1050l49-39l-38 15l-50 38"/><path fill="#000800" d="M4313 1004l49-38l-39 12l-49 37"/><path fill="#080800" d="M4395 961l49-36l-40 9l-49 36"/><path fill="#101000" d="M4477 922l49-35l-41 6l-48 35"/><path fill="#181800" d="M4560 886l49-34l-42 4l-48 34"/><path fill="#382800" d="M4894 779l47-29l-44-7l-47 29"/><path fill="#603800" d="M5650 750l45-18l-48-31l-44 18"/><path fill="#685800" d="M5985 832l42-13l-48-42l-42 13"/><path fill="#686800" d="M6068 862l42-12l-48-45l-43 12"/><path fill="#606800" d="M6150 895l42-11l-48-47l-42 10"/><path fill="#506800" d="M6233 932l41-10l-48-50l-42 9"/><path fill="#202000" d="M4643 854l49-33l-43 2l-48 32"/><path fill="#685000" d="M5901 806l43-14l-48-39l-43 14"/><path fill="#406800" d="M6315 972l40-9l-48-53l-40 9"/><path fill="#282000" d="M4727 825l48-31l-43-1l-48 31"/><path fill="#302800" d="M4810 800l48-30l-43-4l-48 30"/><path fill="#604000" d="M5734 765l44-16l-48-34l-43 16"/><path fill="#604800" d="M5818 784l43-15l-47-37l-44 15"/><path fill="#000000" d="M4023 1189l51-42l-37 19l-50 42M4105 1135l50-41l-38 17l-50 40"/><path fill="#403000" d="M4935 785l47-29l-44-9l-48 28"/><path fill="#483000" d="M5019 769l47-27l-45-12l-47 27"/><path fill="#503000" d="M5103 758l47-26l-45-15l-47 26M5188 750l46-25l-46-17l-46 24"/><path fill="#583000" d="M5272 745l46-23l-46-20l-46 23M5356 745l46-23l-46-22l-46 22"/><path fill="#603000" d="M5441 748l45-21l-47-26l-45 21"/><path fill="#603800" d="M5525 755l45-20l-47-29l-45 20M5609 765l45-19l-47-31l-45 19"/><path fill="#207000" d="M6441 1068l40-7l-48-59l-40 8"/><path fill="#087000" d="M6522 1118l40-7l-48-61l-40 7"/><path fill="#307000" d="M6359 1022l41-9l-49-55l-40 8"/><path fill="#000000" d="M4186 1084l50-40l-39 14l-49 40"/><path fill="#000800" d="M4268 1037l50-39l-40 12l-49 38"/><path fill="#081000" d="M4350 993l50-38l-40 10l-49 37"/><path fill="#101800" d="M4433 952l49-36l-41 7l-48 36"/><path fill="#182000" d="M4516 916l49-36l-41 5l-49 34"/><path fill="#202800" d="M4599 882l49-34l-42 2l-49 34"/><path fill="#383000" d="M4851 804l47-30l-44-7l-47 30"/><path fill="#684000" d="M5694 779l44-17l-48-34l-44 17"/><path fill="#686000" d="M5945 843l43-14l-48-42l-43 14"/><path fill="#686800" d="M6028 872l43-13l-48-45l-43 13"/><path fill="#606800" d="M6112 904l42-12l-49-47l-42 11"/><path fill="#507000" d="M6194 940l42-11l-48-50l-42 10"/><path fill="#487000" d="M6277 979l41-9l-48-54l-41 10"/><path fill="#282800" d="M4683 852l48-32l-43-1l-48 32"/><path fill="#685000" d="M5861 818l44-15l-48-39l-43 15"/><path fill="#302800" d="M4767 826l48-31l-44-4l-48 31"/><path fill="#684800" d="M5778 797l43-16l-47-37l-44 16"/><path fill="#000000" d="M3978 1227l51-44l-37 19l-50 44M4060 1172l50-43l-38 17l-50 42"/><path fill="#000800" d="M4141 1120l50-42l-38 14l-50 42"/><path fill="#483000" d="M4891 810l48-30l-44-9l-48 30M4976 793l47-28l-45-12l-47 28"/><path fill="#503000" d="M5060 781l47-28l-45-14l-47 27"/><path fill="#583000" d="M5145 772l47-27l-46-17l-47 26M5230 766l46-25l-46-20l-46 25"/><path fill="#603000" d="M5314 765l46-24l-46-23l-46 23"/><path fill="#603800" d="M5399 767l46-23l-47-26l-46 23M5484 772l45-21l-47-28l-45 21"/><path fill="#684000" d="M5568 782l45-20l-47-32l-45 20M5653 795l44-19l-47-34l-45 18"/><path fill="#287000" d="M6403 1075l41-9l-48-58l-41 8"/><path fill="#107000" d="M6485 1124l40-8l-48-61l-40 7"/><path fill="#007008" d="M6566 1176l40-7l-48-64l-40 7"/><path fill="#387000" d="M6321 1030l41-10l-48-56l-41 9"/><path fill="#000800" d="M4223 1071l50-40l-39 12l-50 40"/><path fill="#081000" d="M4306 1026l49-39l-40 9l-49 39"/><path fill="#101800" d="M4389 984l49-37l-41 6l-49 38"/><path fill="#182000" d="M4472 946l49-36l-42 4l-48 36"/><path fill="#202800" d="M4555 912l49-35l-42 1l-49 35"/><path fill="#303000" d="M4639 881l48-34l-42-1l-49 34"/><path fill="#403000" d="M4807 830l48-31l-44-7l-48 31"/><path fill="#684800" d="M5737 811l44-17l-47-37l-45 17"/><path fill="#706000" d="M5905 856l44-16l-48-42l-44 15"/><path fill="#706800" d="M5989 883l43-14l-48-45l-43 14"/><path fill="#687000" d="M6073 915l42-13l-48-48l-43 12"/><path fill="#587000" d="M6156 949l42-11l-49-51l-42 12"/><path fill="#487000" d="M6239 988l41-11l-48-53l-42 10"/><path fill="#383000" d="M4723 854l48-33l-43-4l-48 33"/><path fill="#685800" d="M5821 832l44-17l-48-39l-44 16"/><path fill="#000000" d="M3933 1266l51-45l-37 19l-51 45M4014 1209l51-43l-38 16l-50 44"/><path fill="#000800" d="M4096 1156l50-42l-38 14l-50 42"/><path fill="#001000" d="M4178 1107l50-42l-39 12l-50 41"/><path fill="#483800" d="M4848 836l48-31l-45-9l-47 31"/><path fill="#503800" d="M4932 819l48-30l-45-12l-47 30M5017 805l47-29l-45-15l-47 29"/><path fill="#583800" d="M5102 795l47-28l-46-17l-47 27"/><path fill="#603800" d="M5187 788l47-26l-46-20l-47 26M5272 785l46-25l-46-23l-46 25M5357 786l46-23l-47-26l-46 23"/><path fill="#684000" d="M5442 791l46-23l-47-28l-46 22M5527 799l45-21l-47-31l-45 21"/><path fill="#684800" d="M5612 811l45-20l-48-34l-45 20"/><path fill="#705000" d="M5696 827l45-19l-48-37l-44 19"/><path fill="#287000" d="M6366 1083l40-10l-48-59l-41 10"/><path fill="#107000" d="M6448 1131l40-9l-48-62l-41 9"/><path fill="#007000" d="M6530 1182l39-8l-48-64l-40 8"/><path fill="#007018" d="M6611 1237l39-7l-48-67l-39 7"/><path fill="#403800" d="M4763 858l48-33l-43-7l-48 33"/><path fill="#705800" d="M5781 846l44-17l-48-40l-44 17"/><path fill="#387000" d="M6283 1039l41-11l-48-57l-41 11"/><path fill="#081800" d="M4261 1060l50-40l-40 9l-50 40"/><path fill="#101800" d="M4344 1018l49-39l-40 6l-50 39"/><path fill="#182000" d="M4427 979l49-38l-41 4l-49 37"/><path fill="#202800" d="M4511 943l49-37l-42 2l-49 36"/><path fill="#303000" d="M4595 911l48-35l-42-2l-49 35"/><path fill="#383800" d="M4679 882l48-34l-43-4l-48 34"/><path fill="#706000" d="M5865 869l44-16l-48-43l-44 17"/><path fill="#707000" d="M5949 896l44-15l-49-46l-43 15"/><path fill="#687000" d="M6033 926l43-14l-48-48l-43 14"/><path fill="#587000" d="M6117 960l42-13l-48-51l-43 13"/><path fill="#487000" d="M6200 998l42-13l-48-53l-42 12"/><path fill="#484000" d="M4804 864l48-33l-44-9l-48 33"/><path fill="#705800" d="M5740 862l45-19l-48-40l-45 19"/><path fill="#000000" d="M3888 1306l50-46l-36 19l-51 46"/><path fill="#000800" d="M3969 1249l50-45l-37 16l-50 45M4051 1194l50-44l-38 14l-50 44"/><path fill="#001000" d="M4133 1144l50-43l-39 11l-50 43"/><path fill="#081800" d="M4216 1096l50-41l-40 9l-50 41"/><path fill="#484000" d="M4719 886l48-34l-43-6l-49 34"/><path fill="#504000" d="M4889 845l48-31l-45-12l-48 31"/><path fill="#584000" d="M4974 830l47-30l-45-15l-47 30M5059 819l47-29l-45-17l-48 28"/><path fill="#604000" d="M5144 811l47-27l-46-20l-47 27M5229 808l47-27l-46-23l-47 26"/><path fill="#684000" d="M5315 807l46-25l-47-25l-46 24M5400 811l46-24l-47-28l-46 23"/><path fill="#684800" d="M5485 818l46-22l-48-32l-45 23"/><path fill="#704800" d="M5570 829l45-21l-47-34l-45 21"/><path fill="#705000" d="M5655 844l45-20l-48-37l-44 20"/><path fill="#706800" d="M5825 884l44-18l-48-42l-44 17"/><path fill="#287800" d="M6328 1092l41-11l-49-59l-41 11"/><path fill="#187800" d="M6410 1139l41-10l-49-62l-40 10"/><path fill="#007800" d="M6492 1190l41-9l-49-65l-40 9"/><path fill="#007818" d="M6574 1244l40-8l-48-68l-40 8"/><path fill="#007830" d="M6655 1301l39-7l-48-70l-39 7"/><path fill="#407800" d="M6245 1048l41-12l-48-56l-42 12"/><path fill="#102000" d="M4299 1052l49-40l-40 6l-49 41"/><path fill="#182800" d="M4382 1012l50-39l-41 4l-50 39"/><path fill="#203000" d="M4466 975l49-38l-42 2l-49 37"/><path fill="#303800" d="M4550 942l49-37l-42-1l-49 36"/><path fill="#404000" d="M4634 912l49-35l-43-4l-48 35"/><path fill="#707000" d="M5909 910l44-17l-48-45l-44 16"/><path fill="#687800" d="M5994 939l43-15l-49-49l-43 16"/><path fill="#607800" d="M6078 972l42-14l-48-51l-43 14"/><path fill="#507800" d="M6161 1008l42-13l-48-54l-42 13"/><path fill="#504800" d="M4760 893l48-34l-44-9l-48 33"/><path fill="#786800" d="M5784 900l44-19l-48-43l-44 19"/><path fill="#584800" d="M4845 873l48-33l-45-12l-48 33"/><path fill="#706000" d="M5699 879l45-20l-48-40l-45 20"/><path fill="#000800" d="M3923 1289l51-46l-37 16l-51 46"/><path fill="#001000" d="M4005 1234l51-46l-39 14l-50 45M4088 1182l50-44l-39 11l-50 44"/><path fill="#081800" d="M4170 1133l50-43l-39 9l-50 43"/><path fill="#102000" d="M4254 1088l49-41l-40 6l-50 41"/><path fill="#484800" d="M4675 916l48-35l-43-7l-49 36"/><path fill="#584000" d="M4930 857l48-31l-45-15l-48 31"/><path fill="#604000" d="M5015 845l48-30l-45-18l-48 30M5101 836l47-29l-46-20l-47 28"/><path fill="#684000" d="M5186 831l47-28l-46-23l-47 28M5272 830l47-27l-47-26l-47 27"/><path fill="#684800" d="M5358 832l46-25l-47-29l-46 25"/><path fill="#704800" d="M5443 838l46-23l-47-32l-46 24"/><path fill="#705000" d="M5529 848l45-22l-47-35l-46 23"/><path fill="#705800" d="M5614 862l45-22l-48-37l-45 21"/><path fill="#787000" d="M5869 925l44-18l-48-46l-44 18"/><path fill="#307800" d="M6289 1102l42-12l-49-59l-41 12"/><path fill="#187800" d="M6372 1148l41-11l-48-62l-41 11"/><path fill="#007800" d="M6455 1198l40-10l-48-65l-41 10"/><path fill="#007818" d="M6537 1251l40-9l-48-68l-40 9"/><path fill="#007830" d="M6619 1308l39-9l-48-70l-40 8"/><path fill="#407800" d="M6206 1060l42-14l-49-56l-42 13"/><path fill="#182800" d="M4337 1047l50-41l-41 4l-50 40"/><path fill="#203000" d="M4421 1009l50-39l-42 1l-49 39"/><path fill="#303800" d="M4505 974l50-37l-43-2l-49 38"/><path fill="#404000" d="M4590 944l49-37l-43-4l-49 36"/><path fill="#707800" d="M5954 953l43-17l-48-48l-44 16"/><path fill="#607800" d="M6038 985l43-16l-48-51l-43 16"/><path fill="#507800" d="M6122 1020l43-14l-49-54l-42 14"/><path fill="#505000" d="M4715 923l49-35l-44-10l-49 36"/><path fill="#585000" d="M4800 902l49-34l-45-12l-48 34"/><path fill="#786800" d="M5743 917l45-20l-48-43l-45 20"/><path fill="#787800" d="M5828 941l45-19l-49-46l-44 19"/><path fill="#604800" d="M4886 885l48-33l-45-15l-48 33"/><path fill="#786000" d="M5658 897l45-21l-48-40l-45 21"/><path fill="#001008" d="M3959 1274l51-46l-38 13l-50 47"/><path fill="#001800" d="M4042 1221l50-45l-38 11l-51 45"/><path fill="#002000" d="M4125 1171l50-44l-39 9l-51 44"/><path fill="#082800" d="M4208 1125l50-43l-40 7l-50 42"/><path fill="#183000" d="M4292 1083l50-42l-41 4l-50 41"/><path fill="#485000" d="M4630 948l49-37l-43-7l-49 37"/><path fill="#604800" d="M4972 872l48-32l-46-18l-48 32"/><path fill="#684800" d="M5057 862l48-30l-46-21l-47 30M5143 856l47-29l-46-24l-47 29M5229 853l47-27l-47-26l-47 27"/><path fill="#704800" d="M5315 855l47-27l-47-29l-47 27"/><path fill="#705000" d="M5401 860l46-25l-47-32l-46 25M5487 869l45-24l-47-35l-46 24"/><path fill="#785800" d="M5572 881l46-23l-48-37l-46 23"/><path fill="#707800" d="M5913 968l44-18l-48-48l-44 17"/><path fill="#307800" d="M6251 1114l41-14l-48-60l-42 14"/><path fill="#187800" d="M6334 1159l41-13l-48-62l-42 12"/><path fill="#087800" d="M6417 1208l41-12l-49-65l-41 11"/><path fill="#007810" d="M6500 1260l40-11l-48-67l-41 10"/><path fill="#007828" d="M6582 1315l40-9l-49-70l-40 9"/><path fill="#407800" d="M6167 1072l42-15l-48-57l-43 15"/><path fill="#203800" d="M4376 1044l50-41l-42 1l-49 40"/><path fill="#304000" d="M4460 1008l50-39l-42-2l-50 39"/><path fill="#384800" d="M4545 976l49-38l-43-4l-49 38"/><path fill="#607800" d="M5998 999l43-17l-48-51l-43 17"/><path fill="#507800" d="M6083 1034l42-16l-48-54l-43 15"/><path fill="#505800" d="M4670 955l49-37l-43-9l-49 36"/><path fill="#585800" d="M4756 933l49-36l-45-12l-48 35"/><path fill="#605000" d="M4842 914l48-34l-45-15l-48 34"/><path fill="#787000" d="M5702 936l45-22l-48-43l-45 21"/><path fill="#787800" d="M5787 958l45-20l-48-46l-45 20"/><path fill="#707800" d="M5873 985l44-20l-49-48l-44 19"/><path fill="#605000" d="M4928 900l48-33l-46-18l-48 33"/><path fill="#786800" d="M5616 917l46-23l-48-40l-46 22"/><path fill="#001808" d="M3996 1262l51-47l-39 11l-50 47"/><path fill="#002000" d="M4079 1211l50-45l-39 8l-50 45"/><path fill="#082800" d="M4163 1164l50-45l-40 6l-50 45"/><path fill="#103000" d="M4246 1120l50-43l-40 3l-50 43"/><path fill="#203800" d="M4331 1080l49-42l-41 1l-50 41"/><path fill="#485000" d="M4585 981l49-38l-43-7l-49 37"/><path fill="#685000" d="M5014 889l48-32l-46-20l-48 31M5100 882l47-31l-46-23l-47 30"/><path fill="#705000" d="M5186 878l47-29l-46-26l-48 29M5272 878l47-27l-47-29l-47 27"/><path fill="#705800" d="M5358 882l47-26l-48-32l-46 26"/><path fill="#785800" d="M5444 890l46-25l-47-35l-46 25"/><path fill="#786000" d="M5530 902l46-24l-48-38l-46 24"/><path fill="#608000" d="M5958 1015l44-18l-49-52l-44 18"/><path fill="#308000" d="M6211 1126l43-15l-49-59l-42 14"/><path fill="#208000" d="M6295 1170l42-13l-49-63l-41 14"/><path fill="#088000" d="M6379 1218l41-12l-49-66l-41 13"/><path fill="#008010" d="M6462 1270l41-12l-49-68l-41 11"/><path fill="#008028" d="M6544 1324l41-10l-49-71l-40 11"/><path fill="#408000" d="M6127 1085l43-16l-49-57l-42 16"/><path fill="#284000" d="M4415 1043l50-40l-42-2l-50 40"/><path fill="#384800" d="M4500 1010l49-39l-42-5l-50 40"/><path fill="#588000" d="M6043 1048l43-17l-49-54l-43 17"/><path fill="#505800" d="M4626 988l49-38l-44-10l-49 38"/><path fill="#606000" d="M4711 964l49-36l-44-13l-49 37"/><path fill="#605800" d="M4797 945l49-35l-45-16l-49 36"/><path fill="#685800" d="M4883 929l49-34l-45-18l-49 34"/><path fill="#787800" d="M5660 955l46-22l-49-44l-45 23"/><path fill="#788000" d="M5746 977l45-22l-48-46l-45 22"/><path fill="#708000" d="M5832 1002l44-20l-48-49l-45 20"/><path fill="#608000" d="M5917 1031l44-19l-48-52l-44 19"/><path fill="#685800" d="M4970 917l48-33l-46-20l-48 32"/><path fill="#786800" d="M5574 937l46-24l-48-40l-46 24"/><path fill="#002800" d="M4033 1252l51-47l-40 8l-50 47"/><path fill="#083000" d="M4117 1203l50-45l-40 6l-50 45"/><path fill="#103800" d="M4201 1159l50-45l-41 4l-50 44"/><path fill="#184000" d="M4285 1117l50-43l-41 1l-50 43"/><path fill="#284800" d="M4370 1079l50-42l-43-1l-49 41"/><path fill="#405000" d="M4540 1015l49-40l-43-7l-49 39"/><path fill="#705800" d="M5056 909l48-32l-46-23l-48 31M5142 904l48-30l-47-26l-47 30M5229 903l47-29l-47-29l-47 29"/><path fill="#785800" d="M5315 906l47-27l-47-32l-47 27"/><path fill="#786000" d="M5402 913l46-27l-47-34l-47 26"/><path fill="#786800" d="M5488 923l46-25l-48-37l-46 25"/><path fill="#588000" d="M6003 1064l43-18l-48-55l-44 18"/><path fill="#308000" d="M6172 1140l43-16l-49-60l-43 16"/><path fill="#208000" d="M6256 1183l42-15l-48-62l-42 14"/><path fill="#088000" d="M6340 1230l42-14l-49-65l-42 13"/><path fill="#008010" d="M6424 1281l41-13l-49-68l-41 12"/><path fill="#008028" d="M6507 1334l40-11l-48-71l-41 11"/><path fill="#488000" d="M6087 1100l44-17l-49-57l-43 17"/><path fill="#385000" d="M4455 1045l49-40l-42-5l-50 41"/><path fill="#505800" d="M4580 1022l50-40l-44-9l-49 39"/><path fill="#586000" d="M4666 997l50-38l-45-12l-49 38"/><path fill="#686800" d="M4752 977l49-37l-44-15l-49 36"/><path fill="#686000" d="M4839 960l49-36l-46-18l-48 36"/><path fill="#706000" d="M4925 947l49-34l-46-21l-48 34"/><path fill="#807800" d="M5618 976l46-24l-48-43l-46 24"/><path fill="#788000" d="M5705 997l45-23l-49-46l-45 22"/><path fill="#708000" d="M5791 1021l44-22l-48-49l-45 22"/><path fill="#608000" d="M5876 1049l45-21l-49-51l-44 20"/><path fill="#588000" d="M5962 1081l44-20l-49-54l-44 19"/><path fill="#706000" d="M5012 937l48-33l-46-23l-48 32"/><path fill="#807000" d="M5532 959l46-25l-48-40l-46 25"/><path fill="#488000" d="M6047 1116l44-18l-49-58l-43 18"/><path fill="#003000" d="M4071 1245l50-47l-40 5l-50 47"/><path fill="#083800" d="M4155 1198l50-45l-41 3l-50 45"/><path fill="#184000" d="M4239 1156l50-45l-41 1l-50 44"/><path fill="#204800" d="M4324 1117l50-43l-42-2l-50 43"/><path fill="#305000" d="M4409 1082l50-42l-43-5l-49 42"/><path fill="#405800" d="M4495 1050l49-41l-43-7l-49 41"/><path fill="#706000" d="M5099 932l47-32l-46-26l-48 31"/><path fill="#786000" d="M5185 930l48-31l-47-29l-48 30M5272 931l47-29l-47-32l-47 29"/><path fill="#786800" d="M5359 937l47-28l-48-35l-47 28M5445 946l47-26l-48-38l-46 26"/><path fill="#308000" d="M6132 1155l43-18l-48-60l-43 17"/><path fill="#208000" d="M6217 1197l43-16l-49-63l-43 16"/><path fill="#088000" d="M6301 1243l42-15l-48-66l-42 15"/><path fill="#008010" d="M6385 1293l42-14l-49-69l-42 14"/><path fill="#008028" d="M6469 1346l41-13l-49-71l-41 12"/><path fill="#488000" d="M6007 1133l44-20l-49-57l-44 19"/><path fill="#385800" d="M4449 1087l50-42l-43-8l-50 42"/><path fill="#486000" d="M4535 1057l50-40l-44-10l-50 40"/><path fill="#586000" d="M4621 1032l50-40l-45-12l-49 39"/><path fill="#606800" d="M4707 1010l50-38l-45-16l-49 38"/><path fill="#686800" d="M4794 992l49-37l-45-18l-49 37"/><path fill="#706800" d="M4881 978l48-36l-45-21l-49 36M4968 967l48-34l-46-24l-48 34"/><path fill="#808000" d="M5576 998l46-25l-48-44l-46 26"/><path fill="#788000" d="M5663 1018l45-24l-48-47l-46 24"/><path fill="#708000" d="M5749 1041l45-23l-48-49l-45 23"/><path fill="#608000" d="M5835 1068l45-22l-49-52l-44 22"/><path fill="#588000" d="M5921 1099l45-21l-49-55l-45 21"/><path fill="#308000" d="M6092 1171l44-19l-49-60l-44 18"/><path fill="#786800" d="M5055 960l48-33l-47-26l-48 33"/><path fill="#807800" d="M5489 983l47-27l-48-41l-47 27"/><path fill="#084000" d="M4108 1240l51-47l-40 3l-51 47"/><path fill="#104800" d="M4193 1196l50-46l-41 1l-50 45"/><path fill="#204800" d="M4278 1156l50-45l-42-2l-50 45"/><path fill="#285000" d="M4363 1119l50-43l-42-5l-50 44"/><path fill="#786800" d="M5141 957l48-31l-47-30l-47 32M5229 958l47-30l-47-33l-48 31"/><path fill="#787000" d="M5315 962l48-29l-48-35l-47 29"/><path fill="#807000" d="M5402 971l47-28l-48-38l-46 28"/><path fill="#208000" d="M6177 1212l43-17l-49-63l-42 17"/><path fill="#088000" d="M6262 1257l43-16l-49-66l-43 16"/><path fill="#008010" d="M6346 1306l42-15l-48-69l-42 15"/><path fill="#008028" d="M6430 1358l42-14l-49-71l-41 14"/><path fill="#406000" d="M4489 1094l50-42l-43-10l-50 42"/><path fill="#308800" d="M6052 1188l44-20l-49-60l-44 19"/><path fill="#488800" d="M5966 1151l44-21l-48-57l-45 20"/><path fill="#305800" d="M4403 1124l50-43l-43-7l-50 43"/><path fill="#506800" d="M4576 1067l49-40l-44-13l-49 40"/><path fill="#586800" d="M4662 1045l50-40l-45-15l-49 39"/><path fill="#687000" d="M4749 1025l49-38l-45-18l-49 38"/><path fill="#707000" d="M4836 1010l49-37l-46-21l-49 37"/><path fill="#787000" d="M4923 998l49-35l-46-24l-49 35M5010 990l49-34l-47-27l-48 34"/><path fill="#808000" d="M5534 1022l46-27l-48-44l-47 27"/><path fill="#788000" d="M5620 1040l46-25l-48-47l-46 26"/><path fill="#708000" d="M5707 1062l46-24l-49-49l-45 24"/><path fill="#608800" d="M5794 1088l45-23l-49-52l-45 23"/><path fill="#588800" d="M5880 1118l45-22l-49-55l-45 22"/><path fill="#208800" d="M6138 1229l43-19l-49-63l-43 18"/><path fill="#787000" d="M5097 986l49-33l-47-29l-48 32"/><path fill="#808000" d="M5446 1007l47-28l-48-41l-47 28"/><path fill="#084800" d="M4147 1237l50-47l-41 1l-50 47"/><path fill="#185000" d="M4232 1196l50-46l-41-2l-51 46"/><path fill="#285800" d="M4317 1158l51-44l-43-5l-50 44"/><path fill="#787000" d="M5185 986l48-32l-48-32l-47 31"/><path fill="#807000" d="M5272 989l47-30l-47-36l-47 31"/><path fill="#807800" d="M5359 996l47-29l-47-38l-48 29"/><path fill="#088800" d="M6223 1273l42-18l-49-66l-42 17"/><path fill="#008810" d="M6307 1320l43-16l-49-69l-43 16"/><path fill="#008828" d="M6392 1372l41-16l-48-71l-42 15"/><path fill="#386000" d="M4443 1132l50-43l-43-10l-50 43"/><path fill="#486800" d="M4530 1104l50-42l-44-13l-50 42"/><path fill="#308800" d="M6011 1207l44-21l-49-61l-44 21"/><path fill="#208800" d="M6097 1246l44-20l-49-63l-44 19"/><path fill="#408800" d="M5925 1171l45-22l-49-58l-45 22"/><path fill="#306000" d="M4357 1164l50-45l-42-8l-51 45"/><path fill="#587000" d="M4617 1080l49-40l-44-16l-50 41"/><path fill="#607000" d="M4704 1060l49-40l-45-18l-49 39"/><path fill="#687000" d="M4791 1043l49-38l-45-21l-50 38"/><path fill="#707800" d="M4878 1031l49-37l-46-24l-49 36"/><path fill="#787800" d="M4966 1022l48-36l-46-27l-49 36M5053 1016l49-34l-47-30l-49 34"/><path fill="#788000" d="M5491 1047l46-28l-48-44l-47 28"/><path fill="#708800" d="M5578 1064l46-27l-48-47l-47 27"/><path fill="#688800" d="M5665 1085l46-26l-49-49l-46 25"/><path fill="#608800" d="M5752 1110l45-24l-48-53l-46 24"/><path fill="#508800" d="M5839 1139l45-24l-49-55l-45 23"/><path fill="#088800" d="M6183 1289l43-18l-49-67l-43 19"/><path fill="#807800" d="M5141 1015l48-33l-47-33l-48 33"/><path fill="#808000" d="M5403 1033l47-29l-48-41l-47 29"/><path fill="#105000" d="M4185 1238l51-48l-41-2l-51 47"/><path fill="#205800" d="M4271 1199l51-46l-43-5l-50 46"/><path fill="#807800" d="M5228 1017l48-32l-47-35l-48 32"/><path fill="#808000" d="M5316 1023l47-30l-48-39l-47 31"/><path fill="#008810" d="M6268 1336l43-18l-49-69l-43 18"/><path fill="#008828" d="M6353 1386l42-16l-49-72l-42 16"/><path fill="#306800" d="M4397 1172l51-45l-44-10l-50 44"/><path fill="#406800" d="M4484 1143l50-44l-44-13l-50 44"/><path fill="#507000" d="M4571 1118l50-43l-45-15l-50 42"/><path fill="#408800" d="M5884 1192l45-24l-49-58l-45 23"/><path fill="#308800" d="M5970 1226l45-22l-49-61l-45 22"/><path fill="#208800" d="M6057 1265l44-21l-49-64l-44 21"/><path fill="#088800" d="M6143 1307l43-20l-49-66l-44 19"/><path fill="#286000" d="M4311 1204l50-46l-42-7l-51 45"/><path fill="#587000" d="M4658 1096l50-41l-45-18l-50 40"/><path fill="#607800" d="M4745 1078l50-39l-45-22l-50 40"/><path fill="#707800" d="M4833 1064l49-38l-46-24l-49 38M4921 1054l49-37l-47-27l-49 37"/><path fill="#788000" d="M5008 1048l49-36l-47-30l-48 36"/><path fill="#808000" d="M5096 1045l49-34l-47-33l-49 34"/><path fill="#788800" d="M5448 1073l47-30l-49-44l-47 29"/><path fill="#708800" d="M5535 1089l47-28l-49-47l-46 28"/><path fill="#688800" d="M5623 1109l46-27l-49-50l-46 27"/><path fill="#608800" d="M5710 1133l46-26l-49-53l-46 26"/><path fill="#508800" d="M5797 1160l45-24l-49-56l-45 25"/><path fill="#008810" d="M6228 1353l43-19l-49-69l-43 18"/><path fill="#185800" d="M4225 1241l50-48l-42-5l-50 47"/><path fill="#808000" d="M5184 1046l48-33l-47-35l-48 33M5272 1051l48-32l-48-38l-48 32"/><path fill="#788800" d="M5360 1060l47-31l-48-41l-47 31"/><path fill="#008828" d="M6313 1402l43-18l-49-72l-43 18"/><path fill="#286800" d="M4351 1213l50-47l-43-10l-50 46"/><path fill="#387000" d="M4438 1182l50-44l-44-14l-50 45"/><path fill="#487000" d="M4525 1156l50-44l-44-15l-51 43"/><path fill="#507800" d="M4612 1133l50-42l-45-19l-50 43"/><path fill="#408800" d="M5842 1214l45-25l-49-58l-45 24"/><path fill="#308800" d="M5929 1248l45-24l-49-61l-45 23"/><path fill="#188800" d="M6016 1285l44-22l-49-64l-44 22"/><path fill="#088800" d="M6102 1326l44-21l-49-67l-44 21"/><path fill="#008810" d="M6188 1371l43-20l-49-70l-43 20"/><path fill="#186000" d="M4264 1246l51-47l-43-8l-50 47"/><path fill="#607800" d="M4700 1115l50-41l-46-22l-50 41"/><path fill="#687800" d="M4788 1099l49-39l-46-25l-49 40"/><path fill="#708000" d="M4876 1088l49-38l-46-27l-50 38M4964 1081l49-38l-47-29l-49 36"/><path fill="#788000" d="M5052 1077l48-36l-47-33l-48 36M5140 1077l48-35l-47-35l-49 34"/><path fill="#708800" d="M5404 1100l47-31l-48-44l-47 30M5492 1115l47-29l-48-47l-47 29"/><path fill="#608800" d="M5580 1134l46-28l-48-50l-47 28"/><path fill="#588800" d="M5667 1157l47-27l-49-53l-46 27"/><path fill="#508800" d="M5755 1183l46-25l-49-56l-46 26"/><path fill="#008828" d="M6274 1420l42-20l-49-72l-43 19"/><path fill="#788800" d="M5228 1081l48-33l-48-39l-48 33M5316 1088l48-32l-48-41l-48 32"/><path fill="#206800" d="M4304 1255l51-48l-43-11l-51 48"/><path fill="#307000" d="M4391 1223l51-46l-44-13l-51 46"/><path fill="#407000" d="M4479 1196l50-45l-44-16l-51 45"/><path fill="#487800" d="M4566 1172l50-44l-44-18l-51 43"/><path fill="#507800" d="M4654 1152l50-42l-45-22l-50 42"/><path fill="#389000" d="M5800 1237l46-26l-49-59l-46 26"/><path fill="#289000" d="M5887 1270l46-25l-50-61l-45 24"/><path fill="#189000" d="M5975 1306l44-23l-49-65l-45 24"/><path fill="#089000" d="M6061 1347l44-23l-49-67l-44 22"/><path fill="#009010" d="M6148 1391l43-22l-49-70l-44 22"/><path fill="#009028" d="M6234 1438l43-20l-49-73l-44 20"/><path fill="#608000" d="M4742 1136l50-41l-46-25l-50 41"/><path fill="#688000" d="M4830 1123l50-39l-47-28l-49 40M4918 1115l50-39l-47-30l-49 38"/><path fill="#708000" d="M5007 1110l49-37l-47-33l-49 37"/><path fill="#708800" d="M5095 1109l49-36l-48-36l-48 36M5184 1112l48-35l-48-39l-48 35M5272 1118l48-33l-48-42l-48 33M5360 1129l48-33l-48-44l-48 32"/><path fill="#688800" d="M5449 1143l47-31l-49-47l-47 30"/><path fill="#608800" d="M5537 1161l47-30l-49-50l-47 29"/><path fill="#588800" d="M5625 1182l46-28l-49-53l-46 28"/><path fill="#488800" d="M5713 1208l46-27l-49-56l-46 27"/><path fill="#287000" d="M4344 1266l51-48l-43-13l-51 47"/><path fill="#307800" d="M4432 1237l51-46l-45-16l-50 46"/><path fill="#407800" d="M4520 1212l50-45l-44-19l-51 45"/><path fill="#487800" d="M4608 1191l50-44l-45-22l-50 44"/><path fill="#588000" d="M4696 1174l50-43l-46-24l-50 42"/><path fill="#688800" d="M5316 1158l48-33l-48-45l-48 34"/><path fill="#608800" d="M5405 1172l48-33l-49-47l-48 32"/><path fill="#389000" d="M5758 1262l46-28l-49-59l-46 28"/><path fill="#289000" d="M5846 1293l45-26l-49-61l-46 26"/><path fill="#189000" d="M5933 1329l45-25l-49-64l-45 24"/><path fill="#009000" d="M6020 1368l45-24l-50-67l-44 24"/><path fill="#009018" d="M6107 1411l44-23l-49-70l-45 23"/><path fill="#009030" d="M6193 1458l44-22l-49-73l-44 22"/><path fill="#608000" d="M4784 1160l50-41l-46-28l-50 41M4873 1150l50-40l-47-30l-50 40"/><path fill="#688800" d="M4962 1144l49-38l-47-33l-49 38M5050 1142l49-37l-47-36l-49 37M5139 1144l49-36l-48-39l-49 36M5228 1149l48-35l-48-41l-48 34"/><path fill="#589000" d="M5493 1188l48-31l-49-50l-47 31"/><path fill="#509000" d="M5582 1209l47-30l-49-53l-47 30"/><path fill="#489000" d="M5670 1233l46-28l-49-56l-46 28"/><path fill="#287800" d="M4385 1280l51-48l-44-16l-51 47"/><path fill="#387800" d="M4473 1254l51-47l-45-19l-50 46"/><path fill="#408000" d="M4561 1231l51-45l-45-22l-51 45"/><path fill="#488000" d="M4650 1213l50-44l-45-25l-51 44"/><path fill="#508000" d="M4738 1198l51-43l-47-27l-50 42"/><path fill="#609000" d="M5272 1190l48-35l-48-45l-48 35"/><path fill="#589000" d="M5361 1202l48-34l-49-47l-48 33"/><path fill="#489000" d="M5538 1237l48-31l-49-53l-48 30"/><path fill="#309000" d="M5715 1288l46-29l-49-59l-46 28"/><path fill="#209000" d="M5803 1318l46-27l-49-62l-46 27"/><path fill="#109000" d="M5891 1353l45-26l-49-65l-45 26"/><path fill="#009000" d="M5979 1391l44-25l-49-68l-45 25"/><path fill="#009018" d="M6066 1433l44-24l-49-70l-45 24"/><path fill="#009030" d="M6153 1479l43-23l-49-73l-44 22"/><path fill="#588800" d="M4827 1187l50-41l-47-31l-49 42"/><path fill="#608800" d="M4916 1180l50-40l-47-33l-50 40M5005 1177l49-39l-47-36l-49 38M5094 1177l49-37l-48-39l-49 37M5183 1182l49-37l-48-41l-49 35"/><path fill="#409000" d="M5627 1260l47-29l-49-57l-47 30"/><path fill="#509000" d="M5450 1217l47-32l-48-50l-48 32"/><path fill="#287800" d="M4426 1297l51-48l-44-20l-51 48"/><path fill="#388000" d="M4515 1273l51-47l-46-22l-50 47"/><path fill="#408000" d="M4603 1253l51-45l-46-25l-50 45"/><path fill="#488000" d="M4692 1237l51-44l-46-27l-51 43"/><path fill="#508800" d="M4781 1225l50-42l-46-31l-50 43"/><path fill="#589000" d="M5227 1222l49-36l-48-45l-49 36"/><path fill="#509000" d="M5317 1233l48-35l-49-48l-48 35M5406 1248l48-34l-49-50l-48 33"/><path fill="#489000" d="M5495 1266l47-32l-49-54l-47 33"/><path fill="#309000" d="M5672 1315l47-30l-49-60l-47 30"/><path fill="#209000" d="M5761 1345l46-29l-49-62l-47 28"/><path fill="#109000" d="M5849 1378l46-28l-50-65l-46 28"/><path fill="#009008" d="M5937 1415l45-26l-49-68l-46 26"/><path fill="#009020" d="M6024 1456l45-25l-49-71l-45 25"/><path fill="#009030" d="M6112 1501l44-24l-50-74l-44 24"/><path fill="#588800" d="M4870 1217l50-41l-47-34l-50 41M4960 1213l49-40l-47-37l-50 40M5049 1212l49-39l-48-39l-49 39"/><path fill="#589000" d="M5138 1215l49-37l-48-42l-49 37"/><path fill="#389000" d="M5584 1289l47-32l-49-56l-48 31"/><path fill="#288000" d="M4468 1316l51-48l-45-22l-51 48"/><path fill="#388000" d="M4557 1295l51-47l-46-25l-51 47"/><path fill="#408800" d="M4646 1278l50-45l-46-28l-50 45"/><path fill="#488800" d="M4735 1265l50-44l-46-31l-50 44M4824 1256l51-43l-47-34l-51 43"/><path fill="#509000" d="M5182 1256l49-37l-48-45l-49 37"/><path fill="#489000" d="M5272 1266l49-36l-49-48l-49 36M5361 1280l49-35l-49-51l-48 35"/><path fill="#409000" d="M5451 1297l48-34l-49-54l-48 34"/><path fill="#289000" d="M5629 1343l47-31l-49-60l-47 32"/><path fill="#189000" d="M5718 1372l46-30l-49-62l-47 29"/><path fill="#089000" d="M5806 1405l46-29l-49-66l-46 29"/><path fill="#009008" d="M5895 1441l45-28l-49-68l-46 28"/><path fill="#009020" d="M5983 1481l45-27l-50-71l-45 27"/><path fill="#009038" d="M6070 1524l45-25l-50-74l-44 25"/><path fill="#508800" d="M4914 1250l50-42l-48-36l-49 41"/><path fill="#509000" d="M5003 1248l50-40l-48-39l-49 40M5093 1250l49-39l-48-42l-49 39"/><path fill="#309000" d="M5540 1318l47-32l-49-57l-47 32"/><path fill="#288800" d="M4510 1338l51-48l-46-25l-51 48"/><path fill="#308800" d="M4599 1320l51-47l-46-28l-51 47"/><path fill="#388800" d="M4689 1306l50-46l-46-31l-51 46"/><path fill="#408800" d="M4778 1295l51-44l-47-34l-51 44"/><path fill="#489000" d="M4868 1289l50-43l-47-37l-50 43M5137 1292l50-39l-49-46l-49 39"/><path fill="#409000" d="M5227 1300l49-38l-49-48l-48 38M5317 1313l48-37l-48-51l-49 36"/><path fill="#389000" d="M5407 1329l48-35l-49-54l-49 35"/><path fill="#289000" d="M5496 1349l48-34l-49-57l-48 34"/><path fill="#209000" d="M5585 1373l48-33l-50-59l-47 32"/><path fill="#109000" d="M5675 1401l46-32l-49-62l-47 31"/><path fill="#009000" d="M5764 1432l46-30l-50-65l-46 30"/><path fill="#009010" d="M5852 1468l46-30l-49-68l-47 29"/><path fill="#009028" d="M5941 1506l45-28l-50-71l-45 28"/><path fill="#009040" d="M6029 1549l45-27l-50-74l-45 27"/><path fill="#489000" d="M4958 1286l49-42l-47-39l-50 41M5047 1287l50-41l-48-42l-50 40"/><path fill="#288800" d="M4552 1364l51-49l-46-28l-51 48"/><path fill="#308800" d="M4642 1348l51-47l-47-31l-51 47"/><path fill="#388800" d="M4732 1337l50-46l-47-34l-50 45"/><path fill="#389000" d="M4822 1329l50-45l-47-36l-51 44M4912 1325l50-43l-48-40l-50 43"/><path fill="#409000" d="M5002 1325l50-42l-48-43l-50 42"/><path fill="#389000" d="M5092 1328l49-40l-48-46l-49 41M5182 1336l49-39l-48-49l-50 39"/><path fill="#309000" d="M5272 1347l49-38l-49-51l-49 38M5362 1362l48-36l-49-54l-48 36"/><path fill="#209800" d="M5452 1382l48-36l-49-57l-48 35"/><path fill="#189800" d="M5542 1404l47-34l-49-60l-48 34"/><path fill="#089800" d="M5631 1431l47-33l-49-63l-47 33"/><path fill="#009808" d="M5720 1461l47-31l-49-66l-47 32"/><path fill="#009818" d="M5809 1496l47-31l-50-68l-46 30"/><path fill="#009828" d="M5898 1534l46-30l-50-71l-46 29"/><path fill="#009840" d="M5987 1575l45-28l-50-74l-45 28"/><path fill="#208800" d="M4595 1392l51-48l-46-32l-52 48"/><path fill="#309000" d="M4956 1364l50-43l-48-43l-50 43"/><path fill="#009800" d="M5587 1463l48-35l-50-63l-47 34"/><path fill="#289000" d="M4685 1379l51-47l-47-34l-51 47"/><path fill="#309000" d="M4775 1370l51-46l-48-37l-50 46M4865 1365l51-44l-48-40l-50 44M5046 1366l50-42l-48-45l-50 41M5136 1373l50-41l-49-48l-49 40"/><path fill="#289800" d="M5227 1383l49-39l-49-52l-49 39"/><path fill="#209800" d="M5317 1397l49-38l-49-54l-49 38"/><path fill="#189800" d="M5407 1415l49-37l-50-57l-48 37"/><path fill="#109800" d="M5497 1437l48-36l-49-60l-48 36"/><path fill="#009810" d="M5677 1492l47-33l-50-66l-47 33"/><path fill="#009820" d="M5766 1525l47-32l-50-69l-46 32"/><path fill="#009830" d="M5855 1562l47-31l-50-71l-46 30"/><path fill="#009848" d="M5944 1602l46-29l-50-75l-46 30"/><path fill="#189000" d="M4638 1423l51-48l-47-35l-51 49"/><path fill="#209000" d="M4728 1413l51-47l-47-37l-51 47M4819 1407l50-46l-47-40l-51 45"/><path fill="#289000" d="M4909 1404l51-44l-48-43l-51 44M5000 1406l50-44l-48-45l-50 43"/><path fill="#209800" d="M5091 1411l50-42l-49-49l-50 42M5181 1420l50-41l-49-51l-49 40"/><path fill="#189800" d="M5272 1433l49-39l-49-55l-49 39"/><path fill="#109800" d="M5363 1450l48-38l-49-58l-49 38"/><path fill="#089800" d="M5453 1471l48-37l-49-60l-49 36"/><path fill="#009808" d="M5543 1495l48-35l-50-64l-48 36"/><path fill="#009818" d="M5633 1524l48-35l-50-66l-48 34"/><path fill="#009828" d="M5723 1556l47-34l-50-69l-47 33"/><path fill="#009838" d="M5812 1592l47-33l-50-71l-47 31"/><path fill="#009850" d="M5902 1631l46-31l-50-74l-46 30"/><path fill="#189000" d="M4863 1446l50-46l-47-43l-51 46"/><path fill="#189800" d="M5045 1451l50-44l-49-49l-50 44"/><path fill="#009810" d="M5499 1530l48-38l-50-63l-48 37"/><path fill="#009820" d="M5589 1557l48-36l-50-66l-48 35"/><path fill="#009830" d="M5679 1588l48-35l-50-69l-48 34"/><path fill="#189000" d="M4772 1450l51-48l-48-40l-51 47"/><path fill="#189800" d="M4954 1447l50-45l-48-46l-51 44"/><path fill="#109800" d="M5136 1459l49-42l-48-52l-50 42M5227 1471l49-41l-49-55l-50 41"/><path fill="#089800" d="M5317 1487l49-40l-49-58l-49 40"/><path fill="#009808" d="M5408 1506l49-38l-50-61l-48 38"/><path fill="#009840" d="M5769 1623l47-34l-50-72l-47 33"/><path fill="#009858" d="M5859 1661l46-32l-50-75l-46 32"/><path fill="#109000" d="M4681 1457l51-48l-47-38l-51 49"/><path fill="#089800" d="M4998 1492l51-45l-49-49l-50 44"/><path fill="#089000" d="M4725 1494l51-48l-47-41l-52 49"/><path fill="#089800" d="M4816 1490l51-48l-48-43l-51 47M4907 1489l51-46l-48-47l-51 46M5090 1499l50-44l-49-52l-50 43"/><path fill="#009800" d="M5181 1510l50-43l-50-55l-49 42"/><path fill="#009808" d="M5272 1524l49-41l-49-58l-49 41"/><path fill="#009810" d="M5363 1543l49-40l-50-61l-49 40"/><path fill="#009818" d="M5454 1565l48-38l-49-64l-49 38"/><path fill="#009828" d="M5545 1591l48-37l-50-67l-48 37"/><path fill="#009838" d="M5635 1621l48-36l-50-69l-48 35"/><path fill="#009848" d="M5725 1655l48-35l-50-72l-48 34"/><path fill="#009860" d="M5815 1692l47-33l-50-75l-47 33"/><path fill="#009808" d="M4769 1534l51-49l-48-43l-51 49"/><path fill="#009800" d="M4952 1534l50-46l-48-49l-51 46"/><path fill="#009808" d="M5135 1550l50-44l-49-55l-50 43"/><path fill="#009828" d="M5409 1602l49-40l-50-64l-49 40"/><path fill="#009830" d="M5500 1627l48-39l-49-66l-49 38"/><path fill="#009840" d="M5591 1656l48-37l-50-70l-48 37"/><path fill="#009858" d="M5681 1689l48-37l-50-72l-48 36"/><path fill="#009868" d="M5772 1725l47-35l-50-75l-47 34"/><path fill="#009800" d="M4860 1532l51-47l-48-47l-51 48"/><path fill="#009808" d="M5043 1540l51-45l-49-52l-51 45"/><path fill="#009810" d="M5226 1563l50-42l-49-58l-50 42"/><path fill="#009818" d="M5318 1581l49-41l-50-61l-49 40"/><path fill="#009810" d="M4905 1578l51-48l-49-49l-51 47"/><path fill="#009818" d="M5089 1592l50-46l-49-55l-51 45"/><path fill="#009828" d="M5272 1620l50-42l-50-62l-50 43"/><path fill="#009810" d="M4813 1578l51-50l-48-46l-51 49M4997 1583l50-47l-48-52l-51 46"/><path fill="#009820" d="M5180 1604l50-44l-49-58l-50 43"/><path fill="#009830" d="M5364 1640l49-41l-50-64l-49 41"/><path fill="#009840" d="M5455 1664l49-40l-50-67l-49 40"/><path fill="#009850" d="M5546 1692l49-39l-50-70l-49 39"/><path fill="#00a060" d="M5637 1724l48-38l-50-73l-48 38"/><path fill="#00a070" d="M5728 1759l47-36l-50-76l-47 36"/><path fill="#009820" d="M4858 1624l51-50l-48-50l-52 49"/><path fill="#009828" d="M5042 1635l51-47l-50-56l-50 47"/><path fill="#00a038" d="M5226 1661l50-44l-50-62l-50 44"/><path fill="#00a040" d="M5318 1680l49-43l-49-64l-50 42"/><path fill="#00a048" d="M5410 1703l49-42l-50-67l-49 41"/><path fill="#00a058" d="M5501 1730l49-41l-50-70l-49 40"/><path fill="#00a068" d="M5593 1760l48-39l-50-73l-49 39"/><path fill="#00a080" d="M5684 1795l48-38l-51-76l-48 37"/><path fill="#009820" d="M4950 1627l51-48l-49-53l-51 48"/><path fill="#009830" d="M5134 1646l50-46l-49-58l-50 45"/><path fill="#00a038" d="M4995 1679l51-48l-49-56l-51 48"/><path fill="#00a040" d="M5180 1703l50-45l-50-62l-50 45"/><path fill="#00a078" d="M5548 1798l48-40l-50-74l-49 41"/><path fill="#009830" d="M4903 1673l51-50l-49-53l-51 49"/><path fill="#00a038" d="M5088 1689l50-47l-49-58l-51 46"/><path fill="#00a048" d="M5272 1721l50-44l-50-65l-50 44"/><path fill="#00a058" d="M5364 1743l50-43l-50-68l-50 43"/><path fill="#00a068" d="M5456 1769l49-42l-50-71l-49 42"/><path fill="#00a088" d="M5639 1831l48-39l-50-76l-48 39"/><path fill="#00a048" d="M4948 1725l51-50l-49-56l-51 50"/><path fill="#00a050" d="M5133 1747l51-47l-50-62l-50 47"/><path fill="#00a058" d="M5226 1764l50-46l-50-65l-50 46"/><path fill="#00a068" d="M5318 1785l50-45l-50-68l-50 44"/><path fill="#00a070" d="M5410 1809l50-43l-50-71l-50 43"/><path fill="#00a090" d="M5594 1870l49-41l-51-77l-48 41"/><path fill="#00a048" d="M5041 1734l51-48l-50-59l-51 48"/><path fill="#00a080" d="M5502 1837l49-42l-50-73l-49 41M5365 1851l49-45l-50-71l-50 44"/><path fill="#00a060" d="M5086 1792l51-48l-49-63l-51 49"/><path fill="#00a070" d="M5272 1827l50-46l-50-68l-50 46"/><path fill="#00a090" d="M5457 1878l49-43l-50-74l-49 43"/><path fill="#00a058" d="M4994 1780l51-50l-50-59l-51 50"/><path fill="#00a068" d="M5179 1808l51-47l-50-66l-51 47"/><path fill="#00a0a0" d="M5549 1909l49-42l-50-77l-49 42"/><path fill="#00a070" d="M5039 1839l51-50l-49-63l-51 50"/><path fill="#00a078" d="M5132 1853l51-49l-50-65l-50 48"/><path fill="#00a080" d="M5226 1872l50-48l-50-68l-51 47"/><path fill="#00a090" d="M5318 1894l50-46l-50-71l-50 45"/><path fill="#00a0a0" d="M5411 1920l50-45l-51-74l-49 45"/><path fill="#0090a0" d="M5504 1950l49-43l-51-78l-49 44"/><path fill="#00a0a0" d="M5272 1939l50-48l-50-72l-50 48"/><path fill="#00a090" d="M5179 1917l50-49l-50-68l-50 48"/><path fill="#0098a0" d="M5365 1964l50-47l-50-74l-50 46"/><path fill="#00a088" d="M5085 1900l51-50l-49-66l-52 50"/><path fill="#0088a0" d="M5458 1993l49-46l-50-77l-50 45"/><path fill="#00a0a0" d="M5132 1965l51-51l-50-69l-51 50"/><path fill="#0098a0" d="M5225 1985l51-49l-50-72l-51 48"/><path fill="#0088a0" d="M5319 2009l50-48l-51-75l-50 48"/><path fill="#0078a0" d="M5412 2036l50-46l-51-78l-50 47"/><path fill="#0088a0" d="M5178 2032l51-51l-50-72l-51 51"/><path fill="#0078a0" d="M5272 2055l51-49l-51-75l-51 49"/><path fill="#0068a0" d="M5366 2082l50-48l-51-78l-50 47M5225 2103l51-51l-51-75l-51 50"/><path fill="#0060a0" d="M5319 2128l50-49l-50-78l-51 49"/><path fill="#0050a8" d="M5272 2177l51-52l-51-78l-51 51"/></g><polyline fill="none" stroke="#0c1408" stroke-opacity="0.75" stroke-width="0.9" stroke-linejoin="round" points="385.4,132.2 388.9,130.3 392.5,128.5 396.1,127 399.7,125.8 403.4,124.8 407.2,124.1 410.9,123.6 414.8,123.3 418.6,123.4 422.5,123.7 426.5,124.2 430.5,125.1 434.5,126.2 438.6,127.6 442.7,129.3 446.8,131.2 451,133.5 455.2,136 459.5,138.8 463.8,141.9 468.1,145.3 472.5,149 476.9,153 481.3,157.4 485.8,162 490.3,166.9 494.8,172.1 499.4,177.6 503.9,183.5 508.5,189.6 513.2,196.1 517.8,202.8 522.5,209.9 527.2,217.3 527.2,217.3 531.9,212.4 536.6,207.8 541.2,203.2 545.8,198.9 550.4,194.6 554.9,190.5 559.4,186.6 563.9,182.7 568.4,179.1 572.8,175.5 577.2,172.1 581.5,168.8 585.9,165.7 590.1,162.7 594.4,159.8 598.6,157.1 602.8,154.5 607,152 611.1,149.7 615.2,147.5 619.3,145.4 623.3,143.4 627.3,141.6 631.3,139.8 635.2,138.2 639.1,136.8 643,135.4 646.8,134.2 650.6,133 654.4,132 658.1,131.1 661.8,130.4 665.5,129.7 669.1,129.1"/>
<circle cx="387.7" cy="179" r="1.45" fill="#000"/>
<circle cx="386" cy="143.2" r="1.45" fill="#000"/>
<circle cx="384.2" cy="107.4" r="1.45" fill="#000"/>
<circle cx="382.5" cy="71.5" r="1.45" fill="#000"/>
<circle cx="380.7" cy="35.7" r="1.45" fill="#000"/>
<circle cx="389.9" cy="224.1" r="1.45" fill="#000"/>
<circle cx="458.5" cy="256.9" r="1.45" fill="#000"/>
<circle cx="527.2" cy="289.7" r="1.45" fill="#000"/>
<circle cx="595.9" cy="256.9" r="1.45" fill="#000"/>
<circle cx="664.5" cy="224.1" r="1.45" fill="#000"/>
<text x="382.5" y="175.6" font-size="13.2" text-anchor="end" textLength="12.7" lengthAdjust="spacingAndGlyphs">15</text>
<text x="380.8" y="139.8" font-size="13.2" text-anchor="end" textLength="12.7" lengthAdjust="spacingAndGlyphs">20</text>
<text x="379" y="104" font-size="13.2" text-anchor="end" textLength="12.7" lengthAdjust="spacingAndGlyphs">25</text>
<text x="377.3" y="68.1" font-size="13.2" text-anchor="end" textLength="12.7" lengthAdjust="spacingAndGlyphs">30</text>
<text x="375.5" y="32.3" font-size="13.2" text-anchor="end" textLength="12.7" lengthAdjust="spacingAndGlyphs">35</text>
<text x="348.3" y="38.2" font-size="18.8" text-anchor="start" textLength="8.8" lengthAdjust="spacingAndGlyphs" stroke="#222" stroke-width="0.25">b</text>
<text transform="translate(355.9 125.8) rotate(-90)" font-size="15" text-anchor="middle" textLength="147.5" lengthAdjust="spacingAndGlyphs">Total flavonoids content</text>
<text x="383.7" y="236.7" font-size="13.2" text-anchor="end" textLength="12.7" lengthAdjust="spacingAndGlyphs">85</text>
<text x="452.3" y="269.5" font-size="13.2" text-anchor="end" textLength="12.7" lengthAdjust="spacingAndGlyphs">75</text>
<text x="521.8" y="302.9" font-size="13.2" text-anchor="end" textLength="12.7" lengthAdjust="spacingAndGlyphs">65</text>
<text x="533.2" y="302.9" font-size="13.2" text-anchor="start" textLength="12.7" lengthAdjust="spacingAndGlyphs">30</text>
<text x="602.9" y="269.5" font-size="13.2" text-anchor="start" textLength="12.7" lengthAdjust="spacingAndGlyphs">40</text>
<text x="671.5" y="236.7" font-size="13.2" text-anchor="start" textLength="12.7" lengthAdjust="spacingAndGlyphs">50</text>
<text x="418.6" y="283.2" font-size="14.2" text-anchor="start" textLength="15.8" lengthAdjust="spacingAndGlyphs">X3</text>
<text x="621.2" y="280.2" font-size="14.2" text-anchor="start" textLength="15.8" lengthAdjust="spacingAndGlyphs">X1</text></g>
<g><line x1="43" y1="509.9" x2="183.5" y2="462.4" stroke="#666" stroke-width="0.7"/>
<line x1="183.5" y1="462.4" x2="324" y2="509.9" stroke="#666" stroke-width="0.7"/>
<line x1="41.3" y1="473.8" x2="183.5" y2="429.8" stroke="#666" stroke-width="0.7"/>
<line x1="183.5" y1="429.8" x2="325.7" y2="473.8" stroke="#666" stroke-width="0.7"/>
<line x1="39.5" y1="437.7" x2="183.5" y2="397.2" stroke="#666" stroke-width="0.7"/>
<line x1="183.5" y1="397.2" x2="327.5" y2="437.7" stroke="#666" stroke-width="0.7"/>
<line x1="37.8" y1="401.7" x2="183.5" y2="364.6" stroke="#666" stroke-width="0.7"/>
<line x1="183.5" y1="364.6" x2="329.2" y2="401.7" stroke="#666" stroke-width="0.7"/>
<line x1="36" y1="365.6" x2="183.5" y2="332" stroke="#666" stroke-width="0.7"/>
<line x1="183.5" y1="332" x2="331" y2="365.6" stroke="#666" stroke-width="0.7"/>
<line x1="114.4" y1="529.4" x2="109.7" y2="348.8" stroke="#666" stroke-width="0.7"/>
<line x1="183.5" y1="503.4" x2="183.5" y2="332" stroke="#666" stroke-width="0.7"/>
<line x1="252.6" y1="529.4" x2="257.3" y2="348.8" stroke="#666" stroke-width="0.7"/>
<line x1="321.8" y1="555.3" x2="331" y2="365.6" stroke="#666" stroke-width="0.7"/>
<line x1="45.2" y1="555.3" x2="36" y2="365.6" stroke="#333" stroke-width="0.75"/>
<polygon points="45.2,555.3 183.5,621.3 321.8,555.3 183.5,503.4" fill="#ffff00" stroke="#77770a" stroke-width="0.7"/>
<polyline fill="none" stroke="#8af53e" stroke-width="0.95" points="167.8,613.9 171.2,614.9 177.6,616.7 181.4,617.9 187.2,619.6"/>
<polyline fill="none" stroke="#a2f82e" stroke-width="0.95" points="194.5,507.5 190.8,507.7 187,507.8 183.3,508 179,508.2 174.2,508.5 169.4,508.7"/>
<polyline fill="none" stroke="#a2f82e" stroke-width="0.95" points="61.6,549.2 64,551.2 66,552.7 69.3,555 72.7,557.2 74.5,558.3 78.3,560.4 82.2,562.5 86.3,564.6 90.5,566.7 94.8,568.7 99.3,570.7 103.9,572.7 108.6,574.7 113.4,576.7 118.3,578.7 120.8,579.7 125.8,581.6 130.9,583.6 136.1,585.5 141.4,587.5 144.1,588.4 149.6,590.4 155.1,592.3 160.7,594.2 164,595.4 169.2,597.1 175,599 180.8,601 183.8,601.9 189.8,603.8 195.8,605.8 198.8,606.7 205,608.6 208.1,609.6"/>
<polyline fill="none" stroke="#a2f82e" stroke-width="0.95" points="226.4,519.5 222.8,519.8 219.3,520.1 215.1,520.5 209.5,521 205.7,521.4 202.4,521.8 197.5,522.3 192.6,523 189.4,523.4 184.3,524.2 180.1,524.8 176.8,525.4 171.3,526.5 167.8,527.2 163,528.4 157.8,529.8 152.9,531.4 148.4,533.2 144.5,535.2 141.1,537.5 139.6,538.8 138.1,540.6 137,542.8 136.5,544.8 136.6,546.5 136.9,548.2 137.6,549.8 138.8,552 140.5,554.1 141.8,555.4 144.6,558 146.2,559.3 149.5,561.8 153.1,564.2 155,565.3 158.9,567.7 163.1,569.9 167.4,572.1 171.8,574.3 176.4,576.5 181.2,578.6 186.1,580.8 191,582.9 196.2,585 201.4,587 206.7,589.1 212.1,591.1 217.6,593.2 223.3,595.2 226.1,596.2 231.8,598.3"/>
<circle cx="38.9" cy="440.4" r="2.9" fill="#e58a8a" stroke="#a85858" stroke-width="0.6"/>
<circle cx="330.3" cy="390.2" r="2.9" fill="#e58a8a" stroke="#a85858" stroke-width="0.6"/>
<circle cx="183.3" cy="505.7" r="2.9" fill="#e58a8a" stroke="#a85858" stroke-width="0.6"/>
<polyline fill="none" stroke="#0c1408" stroke-opacity="0.75" stroke-width="0.9" stroke-linejoin="round" points="39.6,438.7 44.2,435.8 48.9,432.9 53.5,430.2 58.1,427.6 62.6,425.1 67.2,422.7 71.7,420.4 76.2,418.2 80.7,416.2 85.1,414.2 89.5,412.4 93.9,410.7 98.3,409.1 102.6,407.6 106.9,406.1 111.2,404.8 115.4,403.6 119.7,402.5 123.9,401.5 128,400.7 132.2,399.9 136.3,399.2 140.4,398.6 144.4,398.1 148.5,397.6 152.5,397.3 156.5,397.1 160.4,397 164.3,397 168.2,397 172.1,397.2 175.9,397.4 179.7,397.7 183.5,398.1 183.5,398.1 187.3,397.4 191.1,396.8 194.9,396.1 198.8,395.5 202.7,394.9 206.6,394.3 210.6,393.8 214.6,393.2 218.6,392.7 222.6,392.2 226.7,391.8 230.8,391.4 235,390.9 239.2,390.6 243.4,390.2 247.6,389.9 251.9,389.6 256.2,389.3 260.5,389 264.9,388.8 269.3,388.6 273.8,388.5 278.2,388.3 282.8,388.2 287.3,388.1 291.9,388.1 296.5,388 301.2,388.1 305.9,388.1 310.6,388.2 315.4,388.3 320.2,388.4 325,388.6 329.9,388.8"/><g transform="scale(.1)"><path fill="#000000" d="M1835 3967l42 7l-42 11l-42-8M1797 3964l42 7l-42 10l-42-7M1873 3960l42 7l-42 11l-42-7M1835 3958l42 6l-42 11l-42-7M1758 3962l43 6l-42 10l-42-6M1912 3954l41 7l-42 11l-42-7M1719 3961l44 5l-42 10l-43-6M1796 3957l43 5l-42 10l-42-6M1874 3953l41 5l-42 10l-42-6M1951 3949l41 6l-43 10l-42-6M1758 3956l43 4l-42 10l-43-5M1680 3961l44 4l-41 9l-44-4M1835 3952l42 4l-42 10l-42-5M1990 3943l41 6l-44 10l-41-6M1912 3947l42 5l-43 10l-42-5M1640 3962l45 3l-40 8l-45-3M1718 3957l44 3l-41 9l-44-4M1796 3952l43 3l-42 10l-43-5M1874 3947l42 4l-43 10l-42-5M1952 3942l41 5l-43 10l-42-6M2029 3938l41 5l-44 10l-41-6M1678 3958l45 2l-41 9l-44-3M1991 3937l41 5l-44 9l-41-5M1600 3964l46 1l-40 8l-45-2M1757 3952l43 3l-41 9l-44-3M1913 3942l42 4l-43 9l-42-4M2069 3933l41 4l-45 10l-41-5M1835 3947l43 4l-43 9l-43-4M1559 3969l47-2l-38 6l-47 1M1637 3961l47 1l-40 7l-46-1M1717 3955l44 1l-41 8l-44-2M1796 3949l43 2l-42 9l-44-3M1874 3943l43 3l-44 9l-42-4M1953 3938l41 3l-44 9l-41-4M2031 3933l41 3l-45 10l-41-4M2109 3928l41 4l-46 9l-40-4M1914 3939l42 3l-44 8l-42-3M1519 3975l47-5l-37 3l-48 4M1597 3967l47-3l-38 5l-47 1M1675 3959l47-1l-39 7l-47-1M1835 3945l43 2l-43 8l-43-2M1993 3934l41 2l-45 9l-41-3M2150 3924l40 3l-46 9l-40-4M1755 3951l45 1l-41 8l-45-2M2071 3929l41 3l-45 8l-41-3M1479 3981l47-8l-38 1l-48 7M1557 3974l48-7l-39 1l-48 6M1635 3966l48-5l-39 2l-47 5M1713 3958l48-4l-39 6l-47 1M1794 3948l45 1l-42 7l-44-1M1875 3942l42 1l-44 8l-42-2M1954 3936l41 1l-44 9l-42-3M2033 3930l41 2l-46 8l-41-2M2112 3925l40 2l-46 8l-40-2M2191 3920l39 2l-46 9l-40-3M1439 3987l47-9l-39 0l-47 8M2153 3921l40 2l-47 7l-40-1M1518 3980l46-9l-39 0l-47 8M1596 3972l47-8l-40 0l-47 8M1675 3965l46-7l-39 0l-47 7M1754 3959l46-8l-40 2l-47 5M1835 3953l43-8l-43 8l-43-1M1917 3940l40-1l-46 8l-41-1M2074 3927l40 1l-47 8l-40-2M2232 3916l39 2l-47 8l-39-3M1995 3933l40 1l-46 7l-40-1M1398 3994l47-10l-39-2l-47 10M2195 3919l38 0l-47 7l-40-1M2274 3913l38 0l-48 8l-39-2M1477 3986l47-10l-40-1l-47 9M1556 3978l47-9l-40-1l-47 9M1636 3971l45-9l-40-1l-46 9M1715 3964l45-9l-41-1l-46 9M1795 3957l44-9l-42 0l-45 8M1876 3950l42-8l-46 0l-41 7M1958 3940l39-4l-48 5l-39 2M2037 3932l39-2l-48 6l-39 0M2116 3925l38-1l-47 7l-39-1M1358 4001l47-11l-40-2l-47 11M1437 3993l46-11l-40-2l-46 11M1516 3985l46-11l-40-1l-47 10M2236 3916l38-1l-48 6l-39 0M2316 3910l38-1l-49 7l-38-1M1596 3977l45-10l-41-1l-46 9M1675 3970l45-10l-41-2l-46 10M1755 3962l44-9l-42-2l-45 9M1835 3955l44-9l-44-1l-44 8M1916 3948l42-9l-46 0l-41 7M1997 3939l40-6l-48 2l-39 5M2077 3931l39-4l-48 4l-39 2M2157 3923l38-2l-48 5l-39 1M1316 4010l47-13l-39-2l-48 12M1396 4001l47-12l-41-2l-47 11M1475 3993l47-12l-41-2l-46 11M2198 3921l38-4l-49 4l-38 3M2358 3907l38-2l-50 6l-38 1M1555 3984l46-11l-41-2l-46 11M1635 3976l45-11l-41-1l-46 10M1715 3968l45-10l-43-2l-45 10M1795 3961l44-10l-43-2l-44 10M1875 3953l43-10l-44-1l-43 9M1956 3945l42-8l-46-1l-42 8M2037 3938l40-8l-47 1l-40 6M2118 3929l39-6l-49 3l-39 5M2278 3914l38-3l-49 5l-39 2M1275 4020l47-14l-40-3l-47 13M1354 4010l47-13l-40-3l-47 13M1434 4001l47-12l-41-3l-47 12M1514 3993l46-13l-41-2l-46 11M1594 3984l46-12l-42-2l-46 11M2077 3936l41-9l-47 0l-41 8M2158 3928l40-7l-49 1l-39 6M2239 3920l39-6l-50 3l-38 4M2320 3912l38-4l-50 4l-38 3M2400 3905l38-3l-50 4l-38 2M1674 3976l45-12l-42-2l-45 11M1755 3967l44-11l-43-2l-44 11M1835 3959l44-10l-44-2l-44 10M1916 3951l43-10l-45-1l-43 9M1996 3944l42-10l-46-1l-41 9M1233 4030l47-15l-40-3l-47 14M1313 4020l47-14l-41-3l-47 13M1393 4011l47-14l-41-3l-47 13M1473 4002l46-14l-41-3l-46 13M1553 3993l46-13l-42-3l-46 12M2118 3934l41-9l-47-1l-41 9M2200 3926l39-8l-48 0l-40 8M2281 3918l39-7l-50 2l-39 6M2362 3910l38-5l-50 2l-38 5M2442 3903l38-5l-50 4l-38 3M1634 3984l45-13l-42-3l-46 12M1714 3975l45-12l-43-3l-45 12M1795 3967l44-12l-44-2l-44 11M1875 3958l44-11l-44-2l-44 11M1956 3950l43-10l-45-2l-43 10M2037 3942l42-10l-46-1l-42 9"/><path fill="#000800" d="M1191 4042l47-16l-40-4l-48 15"/><path fill="#000000" d="M1271 4032l47-16l-40-4l-48 15M1351 4022l47-15l-41-4l-47 14M1432 4012l46-15l-41-3l-47 14M1512 4002l46-14l-42-3l-46 13M1593 3993l45-14l-42-3l-46 13M2078 3941l42-11l-46-1l-42 10M2160 3933l41-10l-48-1l-41 9M2241 3925l40-9l-48 0l-40 8M2323 3916l39-7l-50 1l-39 6M2404 3908l38-6l-50 2l-38 5M2485 3901l38-6l-51 3l-38 5M1673 3984l46-13l-43-3l-46 12M1997 3949l43-11l-46-2l-43 11M1754 3975l45-13l-44-3l-44 12M1835 3966l44-12l-44-3l-44 12M1916 3958l43-12l-44-2l-44 11"/><path fill="#080800" d="M1148 4054l48-17l-40-4l-48 16M1229 4044l47-17l-41-4l-47 15M1309 4033l47-16l-41-4l-47 15"/><path fill="#000000" d="M1390 4023l47-16l-42-4l-47 15M1471 4013l46-15l-42-4l-46 14M1551 4003l46-14l-42-4l-46 14M1632 3994l46-15l-43-3l-46 13M2038 3948l43-11l-46-2l-43 11M2120 3940l42-11l-47-2l-42 10M2201 3931l41-10l-47-1l-41 10M2283 3923l40-9l-49-1l-40 9M2365 3915l39-9l-49 1l-40 7M2446 3907l39-8l-50 1l-39 7M2528 3899l38-6l-51 2l-38 5M1713 3984l45-14l-43-3l-45 13M1957 3957l43-12l-45-3l-43 12M1794 3975l45-13l-44-3l-45 12M1876 3966l44-13l-45-3l-44 13"/><path fill="#081000" d="M1105 4068l48-18l-40-5l-48 17"/><path fill="#080800" d="M1186 4057l48-18l-41-5l-48 17M1267 4046l47-17l-41-5l-47 16M1348 4035l47-16l-42-5l-47 16M1429 4025l46-16l-41-5l-47 16"/><path fill="#080000" d="M1510 4014l46-15l-42-5l-46 16"/><path fill="#000000" d="M1591 4004l46-15l-43-4l-46 15M1672 3994l46-14l-44-4l-45 14M1998 3957l43-13l-45-3l-44 13M2080 3948l42-12l-46-3l-43 12M2162 3939l41-11l-47-2l-42 11M2243 3931l42-11l-49-2l-41 10M2325 3922l41-10l-49-1l-40 9M2407 3914l40-10l-50 0l-39 9M2489 3905l39-8l-50 1l-39 7M2571 3897l38-7l-51 1l-38 7M1754 3985l45-15l-44-3l-45 14M1916 3966l44-13l-45-3l-44 12M1835 3975l44-14l-44-3l-44 13"/><path fill="#101000" d="M1062 4083l49-19l-41-6l-48 18M1143 4071l48-19l-40-5l-48 18"/><path fill="#081000" d="M1224 4060l48-19l-41-5l-48 18"/><path fill="#080800" d="M1306 4048l47-17l-42-5l-47 17M1387 4037l47-17l-42-5l-47 17M1468 4027l47-17l-43-5l-46 16M1549 4016l47-16l-43-5l-46 16M1631 4006l46-16l-44-4l-45 15"/><path fill="#000000" d="M1713 3996l45-16l-44-4l-45 15M1958 3966l43-14l-45-3l-44 13M2040 3957l43-13l-46-3l-44 12M2122 3948l42-13l-47-3l-42 12M2204 3939l42-12l-48-3l-42 12M2286 3930l41-12l-48-1l-41 10M2368 3921l40-11l-49-1l-40 10M2450 3913l40-10l-50-1l-40 9M2532 3904l40-9l-51 0l-39 8M2615 3896l38-8l-51 1l-38 7M1794 3986l45-15l-44-4l-45 14M1876 3976l44-14l-45-4l-44 14"/><path fill="#101800" d="M1019 4098l48-20l-40-6l-48 19M1100 4086l48-19l-40-7l-48 19"/><path fill="#101000" d="M1182 4074l47-19l-41-6l-48 19M1263 4063l47-19l-41-6l-48 18M1344 4051l48-18l-42-6l-47 18M1426 4040l47-18l-42-5l-47 17"/><path fill="#080800" d="M1508 4029l46-17l-43-6l-46 17M1589 4018l46-17l-43-5l-46 17M1671 4007l46-16l-44-5l-46 16M1753 3997l45-16l-44-4l-45 15"/><path fill="#000000" d="M1835 3987l45-16l-45-4l-45 15M1917 3977l44-15l-45-4l-44 14M1999 3967l44-14l-46-4l-44 14M2081 3957l43-14l-46-3l-43 13M2164 3948l42-13l-47-3l-42 12M2246 3939l42-13l-48-3l-42 12M2328 3930l42-13l-49-2l-41 12M2411 3921l41-12l-50-1l-40 10M2494 3912l39-11l-50-1l-39 10M2576 3903l39-10l-51 0l-39 9M2659 3895l38-9l-51 0l-39 8"/><path fill="#080800" d="M1794 3999l45-17l-45-4l-45 16M1876 3988l45-16l-45-4l-45 15"/><path fill="#182000" d="M975 4115l49-21l-40-7l-49 20"/><path fill="#181800" d="M1057 4103l48-21l-40-7l-49 20M1138 4090l49-20l-42-7l-48 20M1220 4078l48-20l-42-6l-47 19"/><path fill="#101000" d="M1302 4066l47-19l-42-6l-47 18M1384 4054l47-18l-43-6l-47 18M1466 4043l46-19l-42-5l-47 18"/><path fill="#100800" d="M1547 4032l47-18l-43-6l-47 18"/><path fill="#080800" d="M1630 4020l45-17l-43-5l-46 17M1712 4010l45-17l-44-5l-45 16"/><path fill="#080000" d="M1959 3978l44-15l-46-5l-44 15"/><path fill="#000000" d="M2041 3968l44-15l-47-4l-43 14M2123 3958l44-14l-47-4l-43 14M2206 3948l43-14l-48-3l-42 14M2289 3939l42-13l-49-3l-41 12M2372 3930l41-13l-49-3l-41 12M2454 3920l41-12l-50-2l-40 12M2537 3911l40-11l-50-1l-40 10M2620 3902l39-10l-51-1l-39 10M2703 3894l39-10l-52 0l-39 9"/><path fill="#080800" d="M1835 4001l45-17l-45-5l-45 16M1752 4012l46-18l-45-5l-45 17M1918 3990l44-16l-45-5l-45 16"/><path fill="#000000" d="M2748 3893l38-10l-51-1l-39 10"/><path fill="#182000" d="M932 4133l48-22l-40-8l-49 22M1013 4120l49-22l-41-7l-48 21M1095 4107l48-21l-41-7l-48 20M1177 4094l48-20l-41-7l-49 20"/><path fill="#181800" d="M1259 4082l48-20l-42-7l-48 20M1341 4070l47-20l-42-7l-47 20M1423 4058l47-20l-43-6l-47 19"/><path fill="#101000" d="M1505 4046l47-19l-43-6l-47 18M1588 4034l46-18l-44-6l-46 18"/><path fill="#100800" d="M1670 4023l46-18l-44-5l-46 17"/><path fill="#080800" d="M2000 3980l44-16l-46-5l-44 16"/><path fill="#080000" d="M2083 3969l44-15l-47-4l-44 14"/><path fill="#000000" d="M2166 3959l43-15l-47-4l-43 15M2249 3949l42-14l-48-4l-42 14M2332 3939l42-14l-49-3l-42 14M2415 3930l41-14l-49-2l-41 12M2498 3920l41-12l-50-3l-41 12M2581 3911l40-12l-50-2l-40 12M2664 3902l40-11l-51-1l-40 10"/><path fill="#100800" d="M1794 4015l45-19l-45-5l-45 17M1876 4003l45-17l-45-6l-45 17"/><path fill="#202800" d="M887 4152l50-23l-41-9l-49 23"/><path fill="#101000" d="M1711 4026l46-19l-45-5l-46 18"/><path fill="#080800" d="M1959 3992l45-17l-46-5l-45 17"/><path fill="#000000" d="M2709 3902l40-12l-52-2l-39 11"/><path fill="#202800" d="M969 4138l49-23l-40-8l-49 23M1051 4125l49-22l-41-8l-49 22"/><path fill="#202000" d="M1134 4112l48-22l-42-8l-48 22M1216 4099l48-21l-42-8l-48 21M1298 4086l48-21l-43-7l-47 21"/><path fill="#181800" d="M1380 4074l48-21l-43-6l-47 19M1463 4062l47-21l-43-6l-47 19"/><path fill="#181000" d="M1545 4050l47-20l-44-6l-46 19"/><path fill="#101000" d="M1628 4038l46-19l-44-7l-46 19"/><path fill="#080800" d="M2042 3981l44-16l-46-5l-44 16M2125 3971l44-16l-47-5l-44 16"/><path fill="#080000" d="M2209 3960l43-15l-48-4l-43 15"/><path fill="#000000" d="M2292 3950l42-15l-48-4l-42 15M2375 3940l42-14l-49-4l-42 14M2459 3930l41-14l-50-3l-41 14M2542 3921l41-14l-50-2l-41 12M2626 3911l40-12l-51-3l-40 12M2793 3893l39-11l-53-2l-38 11"/><path fill="#181000" d="M1752 4029l46-19l-45-6l-46 19"/><path fill="#101000" d="M1835 4018l45-19l-45-6l-45 18"/><path fill="#100800" d="M1918 4006l45-18l-46-6l-45 18"/><path fill="#000000" d="M2838 3892l39-11l-52-2l-39 11"/><path fill="#203000" d="M843 4172l49-25l-40-8l-49 24M925 4158l49-24l-40-9l-50 24"/><path fill="#181000" d="M1669 4041l46-20l-44-6l-47 19"/><path fill="#100800" d="M2001 3995l45-18l-46-5l-45 17"/><path fill="#000000" d="M2670 3911l40-13l-51-2l-40 12"/><path fill="#202800" d="M1007 4144l49-23l-41-9l-49 23M1090 4131l48-24l-41-8l-49 23M1172 4117l49-22l-42-8l-49 22"/><path fill="#202000" d="M1255 4104l48-22l-42-8l-48 22M1338 4091l47-22l-43-7l-47 21M1420 4078l47-21l-43-7l-47 21"/><path fill="#201800" d="M1503 4066l47-21l-44-7l-46 20"/><path fill="#181800" d="M1586 4053l46-20l-44-7l-46 20"/><path fill="#080800" d="M2085 3984l44-18l-47-5l-44 17M2168 3973l44-17l-48-5l-43 16"/><path fill="#080000" d="M2252 3962l43-16l-48-5l-43 16M2335 3952l43-16l-49-4l-42 15M2419 3941l42-15l-49-4l-42 15"/><path fill="#000000" d="M2503 3931l41-14l-50-4l-41 14M2586 3921l41-14l-50-3l-41 14M2754 3902l40-13l-52-2l-40 12"/><path fill="#181800" d="M1710 4045l46-20l-45-7l-46 20"/><path fill="#181000" d="M1793 4033l46-20l-45-6l-46 19M1877 4021l45-20l-46-6l-45 19"/><path fill="#101000" d="M1960 4009l45-19l-46-6l-45 19"/><path fill="#000000" d="M2800 3902l39-13l-52-2l-39 12"/><path fill="#283800" d="M798 4193l50-26l-40-9l-50 25"/><path fill="#283000" d="M881 4179l49-26l-41-9l-49 25M963 4164l49-24l-41-9l-49 24"/><path fill="#201800" d="M1627 4058l46-21l-44-7l-47 20"/><path fill="#100800" d="M2044 3998l44-19l-46-5l-45 17"/><path fill="#000000" d="M2631 3922l41-14l-51-4l-40 14"/><path fill="#283000" d="M1046 4150l49-24l-42-9l-49 24"/><path fill="#000000" d="M2715 3912l41-14l-52-3l-40 14M2884 3893l39-13l-53-2l-39 12"/><path fill="#283000" d="M1129 4136l48-23l-42-9l-48 23"/><path fill="#282800" d="M1211 4123l49-24l-43-8l-48 23M1294 4109l48-23l-43-7l-47 22"/><path fill="#282000" d="M1377 4096l48-22l-43-8l-48 22"/><path fill="#202000" d="M1460 4083l47-22l-43-7l-47 21"/><path fill="#201800" d="M1543 4070l47-21l-44-7l-46 20"/><path fill="#100800" d="M2128 3986l44-18l-48-5l-44 17M2211 3975l44-17l-48-5l-43 16"/><path fill="#080800" d="M2295 3964l43-17l-48-5l-43 17"/><path fill="#080000" d="M2379 3953l43-16l-49-4l-43 15M2463 3943l42-16l-50-4l-41 15M2547 3932l41-15l-50-3l-41 14"/><path fill="#201800" d="M1668 4062l46-22l-45-7l-46 21M1751 4049l46-21l-45-7l-46 21"/><path fill="#181000" d="M1835 4037l46-21l-46-6l-46 19M1919 4025l45-20l-46-7l-45 19M2003 4012l44-19l-46-6l-45 19"/><path fill="#000000" d="M2761 3913l40-14l-52-4l-40 14M2930 3893l39-13l-53-2l-39 12"/><path fill="#283800" d="M753 4216l50-27l-40-10l-50 26M836 4201l50-27l-41-10l-50 26M919 4186l49-26l-41-10l-49 26M1002 4171l49-25l-42-10l-49 25"/><path fill="#202000" d="M1584 4075l47-22l-44-8l-47 22"/><path fill="#180800" d="M2087 4001l44-19l-47-6l-44 18"/><path fill="#080000" d="M2592 3934l41-16l-50-4l-42 15"/><path fill="#283000" d="M1085 4157l48-25l-41-9l-49 24"/><path fill="#080000" d="M2676 3923l41-15l-51-3l-41 14"/><path fill="#000000" d="M2845 3903l40-14l-52-3l-40 13"/><path fill="#283000" d="M1168 4143l48-25l-42-9l-49 24M1251 4129l48-24l-43-9l-48 23"/><path fill="#282800" d="M1334 4115l48-24l-43-8l-48 23M1417 4101l48-23l-44-8l-47 23"/><path fill="#282000" d="M1501 4088l47-22l-44-8l-47 22"/><path fill="#100800" d="M2171 3989l44-19l-48-5l-44 18M2255 3977l43-17l-48-6l-43 18M2339 3966l43-17l-49-5l-43 17"/><path fill="#080800" d="M2423 3955l43-17l-50-4l-42 16"/><path fill="#080000" d="M2507 3944l42-16l-49-4l-42 15"/><path fill="#282000" d="M1625 4080l47-23l-45-7l-47 22M1709 4067l46-22l-45-8l-46 22"/><path fill="#201800" d="M1793 4054l46-22l-46-7l-46 21M1877 4041l46-21l-46-7l-46 20"/><path fill="#201000" d="M1961 4028l45-20l-46-7l-45 20"/><path fill="#181000" d="M2045 4016l45-20l-47-6l-45 19"/><path fill="#080000" d="M2722 3925l41-16l-52-4l-41 15M2891 3904l40-14l-52-4l-40 14"/><path fill="#284000" d="M708 4239l50-28l-40-11l-50 28M791 4223l50-27l-41-11l-50 27M874 4208l50-27l-41-10l-50 26"/><path fill="#303800" d="M957 4193l49-26l-41-10l-49 26M1040 4178l49-26l-41-10l-49 26"/><path fill="#282800" d="M1541 4093l47-23l-44-8l-47 23"/><path fill="#181000" d="M2130 4004l44-20l-47-6l-45 19"/><path fill="#303800" d="M1124 4164l48-26l-42-9l-49 25"/><path fill="#080000" d="M2552 3946l42-16l-50-5l-42 16M2637 3935l41-16l-50-4l-42 16M2807 3914l40-15l-52-3l-40 14"/><path fill="#000000" d="M2976 3894l40-14l-54-3l-39 13"/><path fill="#303000" d="M1207 4149l48-25l-42-9l-49 24M1290 4135l49-25l-43-9l-49 24M1374 4121l48-24l-44-9l-47 24"/><path fill="#302800" d="M1458 4107l47-24l-44-8l-47 23"/><path fill="#180800" d="M2214 3992l44-19l-48-6l-44 18"/><path fill="#100800" d="M2298 3980l44-18l-49-6l-43 18M2383 3969l43-18l-49-5l-43 17M2468 3957l42-17l-50-5l-42 17"/><path fill="#302800" d="M1582 4099l47-24l-44-8l-47 23"/><path fill="#282000" d="M1666 4085l47-23l-45-8l-47 23M1751 4072l46-23l-45-8l-47 22"/><path fill="#281800" d="M1835 4059l46-23l-46-7l-46 21"/><path fill="#201800" d="M1919 4046l46-22l-46-7l-46 21"/><path fill="#201000" d="M2004 4033l45-21l-47-8l-45 21M2088 4020l45-21l-47-6l-45 20"/><path fill="#080000" d="M2853 3916l40-16l-52-4l-40 15M3023 3895l40-15l-54-3l-39 14"/><path fill="#284800" d="M663 4263l50-29l-40-11l-50 28M746 4247l50-28l-41-11l-50 28"/><path fill="#304000" d="M829 4232l50-28l-41-11l-50 27M912 4216l50-28l-41-10l-50 27M996 4201l49-27l-42-11l-49 27M1079 4186l49-27l-42-10l-49 26"/><path fill="#302800" d="M1498 4113l48-24l-45-9l-47 24"/><path fill="#181000" d="M2173 4008l44-20l-48-7l-44 20"/><path fill="#100800" d="M2597 3949l42-18l-50-5l-42 17"/><path fill="#100000" d="M2682 3938l42-17l-51-5l-42 16"/><path fill="#303800" d="M1163 4171l49-27l-43-9l-49 25"/><path fill="#100800" d="M2512 3960l43-18l-50-5l-43 17"/><path fill="#080000" d="M2768 3927l40-17l-51-4l-41 16M2938 3905l40-15l-53-3l-40 14"/><path fill="#383800" d="M1247 4156l48-26l-43-9l-48 25M1330 4141l48-25l-43-9l-48 25"/><path fill="#303000" d="M1414 4127l48-25l-44-9l-47 25"/><path fill="#180800" d="M2258 3996l44-20l-49-6l-44 19M2343 3984l43-20l-49-6l-43 19"/><path fill="#100800" d="M2427 3972l43-19l-49-6l-43 18"/><path fill="#284800" d="M617 4289l51-30l-41-12l-50 30"/><path fill="#383000" d="M1539 4119l48-25l-45-9l-47 25"/><path fill="#302800" d="M1624 4105l47-24l-45-9l-47 24M1708 4091l47-24l-46-8l-46 23"/><path fill="#302000" d="M1793 4077l46-23l-46-8l-46 23"/><path fill="#282000" d="M1877 4064l46-23l-46-8l-46 22"/><path fill="#281800" d="M1962 4051l46-23l-47-8l-46 22M2047 4037l45-21l-47-8l-45 21"/><path fill="#201000" d="M2132 4025l44-22l-47-7l-45 21"/><path fill="#080000" d="M3070 3896l40-15l-54-3l-39 14M2985 3907l40-16l-53-4l-40 15"/><path fill="#284800" d="M700 4273l51-30l-41-12l-50 29"/><path fill="#304800" d="M784 4256l50-29l-41-11l-50 28M867 4240l50-29l-41-11l-50 29"/><path fill="#304000" d="M951 4224l50-28l-42-11l-50 28"/><path fill="#384000" d="M1035 4209l49-28l-42-11l-49 28M1119 4193l49-27l-43-10l-49 26"/><path fill="#383000" d="M1455 4134l48-26l-45-9l-47 25"/><path fill="#201000" d="M2217 4012l44-21l-48-7l-44 20"/><path fill="#180800" d="M2557 3963l43-19l-50-5l-43 18"/><path fill="#100800" d="M2643 3951l42-18l-51-5l-42 17"/><path fill="#100000" d="M2728 3940l42-18l-52-4l-41 16M2814 3929l41-17l-52-5l-41 16"/><path fill="#384000" d="M1203 4178l48-27l-43-10l-48 26"/><path fill="#180800" d="M2472 3975l43-19l-50-6l-43 18"/><path fill="#080000" d="M2899 3918l41-17l-53-4l-40 16"/><path fill="#383800" d="M1287 4163l48-26l-43-10l-49 26M1371 4148l48-26l-44-9l-48 25"/><path fill="#201000" d="M2302 3999l44-20l-49-7l-44 20"/><path fill="#180800" d="M2387 3987l43-20l-49-6l-43 19"/><path fill="#285000" d="M571 4316l51-32l-40-12l-51 31M655 4299l50-31l-40-12l-51 30"/><path fill="#383800" d="M1496 4141l48-26l-45-10l-48 25"/><path fill="#383000" d="M1581 4126l47-25l-45-10l-47 25"/><path fill="#382800" d="M1665 4112l47-25l-45-10l-47 25"/><path fill="#302800" d="M1750 4097l47-24l-46-9l-47 24"/><path fill="#302000" d="M1835 4083l46-24l-46-8l-46 23M1920 4069l46-23l-47-8l-46 23"/><path fill="#281800" d="M2005 4056l46-23l-48-8l-45 22M2090 4042l45-22l-47-8l-45 22"/><path fill="#281000" d="M2175 4029l45-22l-48-7l-45 21"/><path fill="#080000" d="M3032 3909l40-17l-53-4l-40 16M3118 3898l40-16l-55-4l-39 15"/><path fill="#100000" d="M2946 3920l41-17l-53-5l-41 17"/><path fill="#305000" d="M738 4282l51-30l-41-12l-51 30"/><path fill="#304800" d="M822 4266l50-30l-41-12l-50 29M906 4249l50-29l-42-12l-50 29"/><path fill="#384800" d="M990 4233l49-29l-42-11l-49 28M1074 4217l49-28l-42-11l-49 28"/><path fill="#384000" d="M1158 4202l49-28l-43-11l-49 27"/><path fill="#403800" d="M1411 4156l48-27l-44-10l-48 26"/><path fill="#201000" d="M2261 4016l44-21l-49-7l-44 20"/><path fill="#180800" d="M2517 3978l43-19l-50-7l-43 20M2603 3966l42-19l-50-6l-43 19M2689 3954l42-18l-52-6l-42 18"/><path fill="#100000" d="M2774 3943l42-18l-52-6l-41 18M2860 3931l41-17l-52-5l-41 17"/><path fill="#404000" d="M1243 4186l48-28l-43-10l-49 27"/><path fill="#200800" d="M2432 3991l43-21l-50-6l-43 20"/><path fill="#404000" d="M1327 4171l48-27l-44-10l-48 26"/><path fill="#201000" d="M2346 4003l44-20l-49-7l-44 20"/><path fill="#205800" d="M525 4344l51-33l-40-13l-51 32"/><path fill="#285000" d="M609 4326l51-32l-41-13l-51 32M693 4309l50-31l-41-13l-50 31"/><path fill="#403800" d="M1452 4163l48-27l-44-10l-48 26M1537 4148l48-27l-45-10l-48 26"/><path fill="#383000" d="M1622 4133l47-26l-45-10l-47 26"/><path fill="#382800" d="M1707 4118l47-25l-46-10l-46 25M1792 4104l47-25l-46-10l-47 25"/><path fill="#382000" d="M1878 4089l46-24l-47-9l-46 24"/><path fill="#302000" d="M1963 4075l46-24l-47-8l-46 23"/><path fill="#301800" d="M2048 4061l46-23l-48-9l-45 23M2134 4048l45-23l-48-8l-45 22"/><path fill="#281000" d="M2220 4034l44-22l-48-8l-45 22"/><path fill="#100000" d="M2993 3922l41-17l-53-5l-41 17M3080 3911l40-17l-54-4l-40 16M3166 3900l40-17l-55-4l-39 16"/><path fill="#180000" d="M2907 3934l41-18l-53-5l-41 17"/><path fill="#305000" d="M777 4292l50-31l-41-12l-51 30M861 4275l50-30l-42-12l-50 30"/><path fill="#384800" d="M945 4259l50-30l-42-12l-50 29M1029 4242l50-29l-43-12l-49 29"/><path fill="#404800" d="M1114 4226l49-29l-43-11l-49 28M1198 4210l49-29l-43-11l-49 28"/><path fill="#404000" d="M1367 4179l49-28l-44-11l-49 27"/><path fill="#281000" d="M2305 4021l44-22l-49-8l-44 22"/><path fill="#200800" d="M2477 3995l43-21l-50-7l-43 21M2563 3982l43-20l-51-7l-43 20M2649 3970l42-20l-51-6l-42 19"/><path fill="#180800" d="M2735 3958l42-20l-52-5l-42 18"/><path fill="#180000" d="M2821 3946l41-19l-52-6l-41 18"/><path fill="#404800" d="M1283 4194l48-28l-43-11l-49 28"/><path fill="#281000" d="M2391 4008l44-22l-50-7l-43 21"/><path fill="#205800" d="M479 4373l51-34l-40-14l-52 34"/><path fill="#285800" d="M563 4355l51-33l-41-14l-51 33M647 4337l50-32l-41-14l-50 32"/><path fill="#305800" d="M731 4320l50-33l-41-13l-50 32"/><path fill="#484000" d="M1408 4187l49-28l-45-11l-48 27"/><path fill="#404000" d="M1493 4171l48-28l-44-10l-48 27"/><path fill="#403800" d="M1579 4156l47-28l-45-10l-48 27"/><path fill="#403000" d="M1664 4141l47-27l-45-10l-48 26M1749 4125l47-26l-46-10l-47 26"/><path fill="#382800" d="M1835 4111l47-26l-47-10l-47 25M1921 4096l46-25l-47-10l-46 25"/><path fill="#382000" d="M2006 4082l46-25l-47-9l-46 24"/><path fill="#301800" d="M2092 4067l46-24l-48-9l-46 24M2178 4053l45-23l-48-9l-45 23M2264 4040l45-24l-49-8l-45 23"/><path fill="#180000" d="M2954 3937l41-19l-53-5l-41 18M3041 3925l41-18l-54-5l-41 17"/><path fill="#100000" d="M3128 3913l40-17l-54-5l-40 17M3214 3902l40-17l-55-4l-39 16"/><path fill="#484800" d="M1323 4203l49-29l-44-11l-49 28"/><path fill="#281000" d="M2350 4026l44-23l-49-7l-44 22"/><path fill="#180000" d="M2868 3949l41-19l-52-6l-42 19"/><path fill="#305000" d="M815 4303l50-32l-41-13l-51 31"/><path fill="#385000" d="M900 4285l50-31l-43-13l-49 31M984 4268l50-30l-43-13l-49 31"/><path fill="#405000" d="M1069 4252l49-31l-43-12l-49 30"/><path fill="#404800" d="M1153 4235l50-30l-44-11l-49 29M1238 4219l49-29l-43-12l-49 29"/><path fill="#281000" d="M2436 4013l44-22l-50-8l-44 22"/><path fill="#280800" d="M2522 4000l44-22l-51-7l-43 21"/><path fill="#200800" d="M2609 3987l42-21l-50-7l-43 20M2695 3974l42-21l-51-6l-42 20M2781 3961l42-20l-52-6l-42 20"/><path fill="#484800" d="M1364 4212l49-30l-45-11l-48 29"/><path fill="#301800" d="M2309 4045l44-24l-49-8l-45 23"/><path fill="#186000" d="M432 4403l51-35l-40-14l-51 34"/><path fill="#205800" d="M516 4385l51-35l-40-14l-51 34"/><path fill="#285800" d="M600 4367l51-34l-41-14l-51 33M685 4349l51-34l-42-14l-50 33"/><path fill="#305800" d="M769 4331l51-33l-42-14l-50 33"/><path fill="#485000" d="M1279 4228l49-30l-44-12l-49 30"/><path fill="#484800" d="M1450 4196l48-29l-45-12l-48 29"/><path fill="#484000" d="M1535 4180l48-29l-45-11l-48 28"/><path fill="#483800" d="M1621 4164l47-28l-45-11l-48 27"/><path fill="#403800" d="M1706 4148l48-27l-47-11l-47 27"/><path fill="#403000" d="M1792 4133l47-27l-47-10l-46 26"/><path fill="#402800" d="M1878 4118l46-27l-46-10l-47 26M1964 4103l46-26l-47-10l-46 26"/><path fill="#382000" d="M2050 4088l46-25l-48-10l-46 25M2136 4074l46-25l-49-9l-45 24"/><path fill="#381800" d="M2222 4059l45-24l-48-9l-45 24"/><path fill="#301000" d="M2395 4032l44-24l-49-8l-45 23"/><path fill="#200000" d="M2915 3953l42-20l-53-6l-42 19M3002 3940l41-19l-53-6l-41 19"/><path fill="#180000" d="M3089 3928l41-19l-54-5l-41 18M3176 3916l40-18l-54-5l-40 18"/><path fill="#100000" d="M3263 3905l40-18l-55-5l-40 17"/><path fill="#200800" d="M2828 3965l42-20l-52-7l-42 20"/><path fill="#385800" d="M854 4313l50-32l-42-14l-50 32"/><path fill="#385000" d="M939 4296l50-32l-43-13l-50 31"/><path fill="#405000" d="M1024 4279l49-32l-43-13l-49 31M1109 4262l49-32l-43-12l-50 31"/><path fill="#485000" d="M1194 4245l49-31l-44-12l-49 30"/><path fill="#301000" d="M2482 4018l43-23l-50-8l-44 22"/><path fill="#280800" d="M2568 4004l43-22l-50-7l-44 21M2655 3991l43-21l-52-8l-42 21M2741 3978l43-21l-52-7l-42 21"/><path fill="#485000" d="M1320 4238l48-31l-44-12l-49 30"/><path fill="#381800" d="M2354 4051l44-24l-49-9l-45 24"/><path fill="#505000" d="M1405 4221l49-30l-45-12l-48 30"/><path fill="#381800" d="M2267 4066l45-25l-49-9l-45 24"/><path fill="#206000" d="M469 4416l52-36l-41-15l-51 35M554 4397l51-35l-41-15l-51 35"/><path fill="#286000" d="M638 4379l51-35l-41-14l-51 34"/><path fill="#305800" d="M723 4360l51-34l-42-14l-50 34M808 4342l51-34l-42-13l-51 33"/><path fill="#485000" d="M1234 4255l49-32l-44-12l-49 31"/><path fill="#504800" d="M1491 4205l48-30l-45-12l-48 29"/><path fill="#484000" d="M1577 4188l48-29l-46-11l-48 28"/><path fill="#483800" d="M1663 4172l47-28l-46-11l-47 28M1749 4156l47-28l-46-11l-48 28"/><path fill="#483000" d="M1835 4141l47-28l-47-10l-47 27"/><path fill="#402800" d="M1921 4125l47-27l-48-10l-46 27M2008 4110l46-26l-48-10l-46 26"/><path fill="#402000" d="M2094 4095l46-26l-48-10l-46 26"/><path fill="#382000" d="M2180 4080l46-25l-49-10l-45 25"/><path fill="#301000" d="M2440 4037l45-24l-50-8l-45 23"/><path fill="#280000" d="M2875 3970l42-21l-52-7l-42 20"/><path fill="#200000" d="M2963 3957l41-21l-53-6l-41 20M3050 3944l41-20l-54-6l-41 19M3137 3932l41-20l-54-5l-41 18"/><path fill="#180000" d="M3225 3920l40-19l-55-6l-40 18"/><path fill="#280800" d="M2788 3983l43-22l-52-7l-43 21"/><path fill="#385800" d="M893 4324l50-33l-42-13l-50 32"/><path fill="#405800" d="M978 4307l50-33l-43-13l-50 32M1063 4289l50-32l-43-13l-50 31"/><path fill="#485000" d="M1149 4272l49-32l-43-13l-50 31"/><path fill="#301000" d="M2527 4023l44-23l-51-8l-43 23"/><path fill="#300800" d="M2614 4010l44-23l-52-8l-43 22"/><path fill="#280800" d="M2701 3996l43-22l-51-8l-43 22"/><path fill="#505800" d="M1275 4265l49-32l-44-13l-49 31"/><path fill="#505000" d="M1361 4248l49-32l-45-12l-49 31"/><path fill="#401800" d="M2312 4073l45-26l-49-10l-45 25"/><path fill="#381800" d="M2399 4058l45-25l-50-9l-45 24"/><path fill="#505000" d="M1447 4231l48-31l-45-12l-48 30"/><path fill="#402000" d="M2225 4087l46-26l-50-10l-45 26"/><path fill="#206000" d="M507 4429l52-37l-41-15l-52 36"/><path fill="#286000" d="M592 4410l51-36l-41-15l-51 35M677 4391l51-35l-42-15l-51 35"/><path fill="#306000" d="M762 4372l51-35l-42-14l-51 34"/><path fill="#386000" d="M847 4354l51-34l-43-15l-50 34"/><path fill="#485800" d="M1189 4282l50-32l-44-13l-50 32"/><path fill="#504800" d="M1533 4214l48-30l-45-12l-49 29"/><path fill="#504000" d="M1619 4197l48-29l-46-12l-48 29"/><path fill="#484000" d="M1705 4181l48-29l-46-12l-48 29"/><path fill="#483800" d="M1792 4165l47-29l-47-11l-47 28"/><path fill="#483000" d="M1878 4149l47-28l-47-11l-47 28"/><path fill="#482800" d="M1965 4133l46-28l-47-10l-47 27"/><path fill="#402800" d="M2052 4118l46-28l-48-10l-47 27"/><path fill="#402000" d="M2138 4103l46-27l-49-10l-45 26"/><path fill="#381000" d="M2486 4043l44-24l-50-9l-44 24"/><path fill="#300800" d="M2836 3988l42-23l-52-7l-43 22"/><path fill="#280000" d="M2923 3974l42-21l-53-8l-42 22M3011 3961l41-21l-53-7l-42 21M3098 3948l41-20l-54-7l-41 20"/><path fill="#200000" d="M3186 3936l41-20l-55-7l-40 20"/><path fill="#300800" d="M2748 4001l43-23l-52-7l-43 22"/><path fill="#385800" d="M933 4336l50-34l-43-14l-50 33"/><path fill="#405800" d="M1018 4318l50-34l-43-13l-50 32M1104 4300l49-33l-43-13l-50 32"/><path fill="#381000" d="M2573 4029l44-24l-51-8l-43 23"/><path fill="#300800" d="M2661 4015l43-23l-51-9l-44 23"/><path fill="#485800" d="M1230 4293l49-33l-44-13l-49 32"/><path fill="#505800" d="M1316 4276l49-33l-45-13l-49 32M1402 4258l49-32l-45-13l-49 32"/><path fill="#402000" d="M2270 4095l46-27l-50-10l-45 26"/><path fill="#401800" d="M2358 4080l44-27l-49-9l-45 25M2445 4065l44-26l-50-10l-44 26"/><path fill="#585000" d="M1489 4241l48-32l-45-12l-49 31"/><path fill="#482000" d="M2183 4110l46-27l-49-11l-46 27"/><path fill="#206000" d="M545 4442l52-37l-42-16l-51 37"/><path fill="#286000" d="M630 4423l52-37l-42-15l-51 36M716 4404l51-36l-42-15l-51 35"/><path fill="#306000" d="M801 4385l51-36l-43-15l-50 35"/><path fill="#386000" d="M887 4366l50-35l-43-15l-50 35"/><path fill="#485800" d="M1144 4311l50-33l-44-14l-50 33"/><path fill="#504800" d="M1575 4224l48-31l-46-13l-48 31M1662 4207l47-31l-46-12l-48 30"/><path fill="#504000" d="M1748 4190l48-30l-47-12l-47 30"/><path fill="#503800" d="M1835 4174l47-30l-47-11l-47 29"/><path fill="#483000" d="M1922 4158l47-29l-48-12l-47 29M2009 4142l46-29l-48-11l-46 28"/><path fill="#482800" d="M2096 4126l46-28l-49-11l-46 27"/><path fill="#381000" d="M2532 4050l45-25l-51-9l-44 24"/><path fill="#300800" d="M2795 4007l43-24l-52-8l-43 23M2883 3993l43-23l-53-8l-43 23"/><path fill="#300000" d="M2971 3980l42-23l-53-8l-42 22"/><path fill="#280000" d="M3059 3966l42-22l-54-7l-42 21M3147 3953l41-22l-54-6l-41 20"/><path fill="#380800" d="M2708 4021l43-24l-52-9l-43 24"/><path fill="#406000" d="M972 4348l50-35l-43-14l-50 34M1058 4329l50-34l-43-14l-50 34"/><path fill="#381000" d="M2620 4035l44-24l-52-9l-43 24"/><path fill="#486000" d="M1185 4323l49-34l-44-15l-49 34"/><path fill="#505800" d="M1271 4305l49-34l-44-14l-50 33M1358 4287l49-34l-45-13l-49 32"/><path fill="#585800" d="M1444 4269l49-33l-46-13l-48 32"/><path fill="#482000" d="M2228 4118l46-28l-50-11l-45 28M2316 4103l45-28l-50-10l-45 27"/><path fill="#401800" d="M2403 4087l45-27l-50-10l-45 26M2491 4072l45-27l-51-9l-45 25"/><path fill="#585000" d="M1531 4251l48-32l-46-13l-48 32"/><path fill="#482800" d="M2140 4134l47-28l-49-11l-46 28"/><path fill="#206800" d="M584 4456l51-38l-42-16l-51 37"/><path fill="#286800" d="M669 4436l51-37l-42-16l-51 37"/><path fill="#306000" d="M755 4417l51-37l-43-15l-51 36M840 4398l51-37l-43-15l-50 36"/><path fill="#386000" d="M926 4379l51-36l-43-15l-51 35"/><path fill="#486000" d="M1098 4341l50-35l-43-14l-50 34"/><path fill="#585000" d="M1618 4234l48-32l-47-13l-48 32"/><path fill="#504800" d="M1704 4217l48-31l-46-13l-48 31"/><path fill="#504000" d="M1791 4200l48-31l-47-12l-48 30"/><path fill="#503800" d="M1879 4183l47-30l-48-12l-47 30"/><path fill="#503000" d="M1966 4167l47-30l-48-12l-47 29M2053 4150l47-29l-49-11l-46 28"/><path fill="#401000" d="M2579 4057l44-26l-51-10l-44 26"/><path fill="#380800" d="M2755 4027l43-24l-52-9l-43 24M2843 4013l43-24l-53-9l-43 24"/><path fill="#380000" d="M2931 3999l43-24l-54-8l-42 23"/><path fill="#300000" d="M3020 3985l42-23l-54-8l-42 22M3108 3971l41-22l-54-8l-41 22"/><path fill="#401000" d="M2667 4042l44-25l-52-10l-44 25"/><path fill="#406000" d="M1012 4360l50-35l-43-15l-50 35"/><path fill="#486000" d="M1139 4354l50-36l-44-15l-50 35"/><path fill="#506000" d="M1226 4335l49-35l-44-15l-50 35M1312 4316l50-34l-45-14l-49 34"/><path fill="#586000" d="M1399 4298l49-34l-45-14l-49 34"/><path fill="#585800" d="M1486 4280l49-33l-46-14l-49 33"/><path fill="#502800" d="M2185 4143l47-29l-50-12l-46 29"/><path fill="#482000" d="M2273 4127l46-29l-50-11l-45 28M2361 4111l46-29l-51-10l-45 27"/><path fill="#481800" d="M2449 4095l45-28l-50-10l-45 27M2538 4079l44-27l-51-10l-45 27"/><path fill="#585800" d="M1573 4262l49-33l-47-13l-48 32"/><path fill="#503000" d="M2098 4159l46-30l-49-11l-46 29"/><path fill="#401000" d="M2626 4064l44-27l-52-9l-44 26"/><path fill="#206800" d="M622 4470l52-38l-42-17l-52 38"/><path fill="#286800" d="M708 4450l51-38l-42-16l-51 37"/><path fill="#306800" d="M794 4431l51-38l-43-16l-51 37"/><path fill="#386800" d="M880 4411l51-37l-43-16l-51 37"/><path fill="#386000" d="M966 4392l51-37l-44-15l-50 36"/><path fill="#406000" d="M1053 4373l50-36l-44-16l-50 36"/><path fill="#585000" d="M1660 4245l48-33l-46-13l-48 32"/><path fill="#584800" d="M1748 4227l47-32l-47-13l-47 32"/><path fill="#584000" d="M1835 4210l47-32l-47-12l-47 31"/><path fill="#503800" d="M1922 4193l48-31l-48-12l-47 30"/><path fill="#503000" d="M2010 4176l47-30l-49-12l-46 29"/><path fill="#401000" d="M2714 4049l44-26l-52-10l-44 26"/><path fill="#400800" d="M2803 4034l43-25l-53-10l-43 25"/><path fill="#380800" d="M2891 4019l43-25l-53-8l-43 24"/><path fill="#380000" d="M2980 4005l42-24l-54-9l-42 24M3068 3991l42-24l-54-8l-42 23"/><path fill="#481800" d="M2584 4087l45-27l-52-11l-44 27"/><path fill="#406800" d="M1007 4405l50-37l-44-16l-50 37M1093 4386l51-37l-45-16l-50 36"/><path fill="#486000" d="M1180 4366l50-36l-44-15l-50 36"/><path fill="#506000" d="M1267 4347l50-35l-45-15l-50 35"/><path fill="#586000" d="M1354 4329l49-36l-45-14l-49 34M1441 4310l49-35l-45-14l-49 34"/><path fill="#606000" d="M1529 4292l48-35l-46-14l-48 34"/><path fill="#503000" d="M2143 4169l46-31l-49-12l-46 30"/><path fill="#502800" d="M2231 4152l46-30l-50-12l-46 30"/><path fill="#502000" d="M2319 4136l46-30l-50-11l-46 28M2407 4119l46-29l-51-11l-45 28"/><path fill="#481800" d="M2496 4103l45-28l-51-11l-45 28"/><path fill="#481000" d="M2673 4072l44-28l-52-10l-44 27"/><path fill="#605800" d="M1616 4273l48-33l-46-14l-49 33"/><path fill="#583800" d="M2055 4186l46-31l-48-13l-47 31"/><path fill="#206800" d="M661 4485l52-40l-43-16l-51 38"/><path fill="#286800" d="M747 4465l52-39l-43-17l-51 38"/><path fill="#306800" d="M834 4445l51-39l-43-16l-51 38"/><path fill="#386800" d="M920 4425l51-38l-44-16l-50 37"/><path fill="#585000" d="M1704 4255l48-33l-47-13l-48 32"/><path fill="#584800" d="M1791 4238l48-33l-47-13l-48 32"/><path fill="#584000" d="M1879 4220l47-32l-48-13l-47 32"/><path fill="#583800" d="M1967 4203l47-32l-48-12l-48 31"/><path fill="#480800" d="M2762 4056l43-26l-52-10l-44 26"/><path fill="#400800" d="M2850 4041l44-26l-53-10l-43 26M2939 4026l43-26l-53-9l-43 25"/><path fill="#400000" d="M3028 4011l43-25l-54-9l-43 25"/><path fill="#406800" d="M1047 4419l51-38l-44-16l-51 37"/><path fill="#501800" d="M2632 4096l44-29l-52-11l-44 28M2543 4112l45-29l-52-11l-45 28"/><path fill="#386800" d="M960 4439l51-39l-44-16l-50 38"/><path fill="#486800" d="M1134 4399l50-37l-44-16l-50 37M1222 4380l49-37l-44-16l-50 36"/><path fill="#506800" d="M1309 4360l49-36l-45-15l-49 35"/><path fill="#586000" d="M1396 4341l50-36l-46-15l-49 35"/><path fill="#606000" d="M1484 4322l49-35l-46-15l-49 35M1571 4304l49-35l-46-15l-49 34"/><path fill="#583800" d="M2100 4196l46-32l-49-13l-46 31"/><path fill="#583000" d="M2188 4179l46-32l-49-12l-46 31"/><path fill="#502800" d="M2277 4162l46-31l-50-12l-46 30"/><path fill="#502000" d="M2365 4145l46-30l-51-12l-45 29M2454 4128l45-29l-51-12l-45 29"/><path fill="#481000" d="M2721 4080l44-28l-53-11l-44 28"/><path fill="#605800" d="M1659 4285l49-34l-47-14l-49 33"/><path fill="#583800" d="M2011 4213l47-32l-48-13l-47 32"/><path fill="#207000" d="M700 4500l52-40l-43-18l-51 40"/><path fill="#286800" d="M787 4479l51-39l-43-17l-51 39"/><path fill="#306800" d="M874 4459l51-39l-44-17l-51 39"/><path fill="#605000" d="M1747 4267l48-34l-47-14l-48 33"/><path fill="#604800" d="M1835 4249l48-34l-48-13l-48 32"/><path fill="#584000" d="M1923 4231l48-33l-49-13l-47 32"/><path fill="#480800" d="M2810 4064l43-27l-52-11l-44 27M2899 4049l43-27l-53-10l-43 26"/><path fill="#400000" d="M2988 4033l43-26l-54-10l-43 26"/><path fill="#387000" d="M1001 4453l51-39l-44-17l-51 39"/><path fill="#406800" d="M1088 4433l51-39l-45-16l-50 38"/><path fill="#501800" d="M2590 4121l45-30l-52-11l-45 29"/><path fill="#501000" d="M2679 4104l45-29l-53-11l-44 28"/><path fill="#502000" d="M2501 4138l45-31l-51-12l-46 30"/><path fill="#307000" d="M914 4474l51-40l-44-17l-51 39"/><path fill="#486800" d="M1176 4413l50-38l-45-16l-50 37"/><path fill="#506800" d="M1263 4393l50-38l-45-16l-50 38"/><path fill="#586800" d="M1351 4374l49-38l-45-15l-50 36M1439 4354l49-37l-46-15l-49 36"/><path fill="#606800" d="M1526 4335l49-36l-46-15l-49 35"/><path fill="#606000" d="M1614 4316l49-36l-47-15l-48 35"/><path fill="#604000" d="M2056 4224l47-33l-49-13l-47 32"/><path fill="#583800" d="M2145 4206l47-32l-50-13l-47 32"/><path fill="#583000" d="M2234 4189l46-32l-50-13l-46 31"/><path fill="#582800" d="M2323 4172l46-32l-51-12l-46 30"/><path fill="#582000" d="M2412 4154l45-30l-51-13l-45 31"/><path fill="#501000" d="M2769 4088l44-29l-53-10l-44 28"/><path fill="#605800" d="M1703 4297l48-35l-47-15l-49 35"/><path fill="#604000" d="M1968 4242l47-34l-48-13l-48 33"/><path fill="#207000" d="M740 4515l51-41l-42-17l-52 40"/><path fill="#287000" d="M827 4494l51-40l-43-17l-51 39"/><path fill="#605000" d="M1791 4279l48-35l-48-14l-48 34"/><path fill="#604800" d="M1879 4260l48-34l-48-14l-48 34"/><path fill="#480800" d="M2858 4072l44-28l-54-11l-43 28M2948 4056l43-27l-54-11l-43 27"/><path fill="#307000" d="M954 4489l51-41l-44-17l-51 40"/><path fill="#387000" d="M1042 4468l51-40l-45-17l-50 39"/><path fill="#407000" d="M1130 4448l50-40l-45-17l-50 39"/><path fill="#582000" d="M2458 4164l46-31l-51-13l-46 31M2548 4147l45-31l-52-12l-45 30"/><path fill="#581800" d="M2637 4130l45-30l-52-12l-45 30"/><path fill="#501000" d="M2727 4113l45-29l-53-12l-45 29"/><path fill="#287000" d="M867 4510l51-41l-43-18l-52 40"/><path fill="#487000" d="M1217 4427l50-39l-45-16l-50 38"/><path fill="#506800" d="M1305 4407l50-38l-46-17l-49 38"/><path fill="#586800" d="M1393 4387l50-38l-46-16l-50 37"/><path fill="#606800" d="M1481 4368l50-38l-47-16l-49 37M1570 4348l49-37l-47-15l-49 36"/><path fill="#686000" d="M1658 4329l49-37l-48-15l-48 36"/><path fill="#604800" d="M2013 4254l47-35l-49-14l-47 34"/><path fill="#604000" d="M2102 4235l47-33l-50-14l-47 33"/><path fill="#603800" d="M2191 4217l46-33l-50-13l-46 32"/><path fill="#583000" d="M2280 4199l46-32l-50-13l-47 32"/><path fill="#582800" d="M2369 4182l46-32l-51-13l-46 31"/><path fill="#501000" d="M2817 4097l44-29l-53-12l-44 29"/><path fill="#207000" d="M780 4531l51-41l-43-19l-51 41"/><path fill="#685800" d="M1746 4310l49-36l-48-15l-48 35"/><path fill="#605000" d="M1835 4291l48-36l-48-14l-48 34M1924 4272l47-35l-48-14l-48 34"/><path fill="#500800" d="M2907 4081l43-29l-53-11l-44 28"/><path fill="#287000" d="M908 4526l51-42l-44-18l-51 41"/><path fill="#307000" d="M995 4505l51-42l-44-18l-51 41"/><path fill="#387000" d="M1083 4484l51-41l-45-18l-51 40"/><path fill="#407000" d="M1171 4463l51-41l-46-17l-50 40"/><path fill="#602800" d="M2416 4193l46-33l-51-14l-46 33"/><path fill="#582000" d="M2506 4175l45-33l-51-12l-46 31M2595 4157l46-31l-52-13l-46 31"/><path fill="#581800" d="M2685 4140l45-31l-52-12l-45 30"/><path fill="#581000" d="M2775 4123l45-31l-53-12l-45 30"/><path fill="#207000" d="M820 4547l51-42l-43-18l-52 41"/><path fill="#487000" d="M1259 4442l50-40l-45-17l-50 39"/><path fill="#507000" d="M1347 4422l50-40l-46-16l-49 38"/><path fill="#587000" d="M1436 4401l49-38l-46-17l-49 38"/><path fill="#606800" d="M1524 4381l50-38l-47-16l-49 37"/><path fill="#686800" d="M1613 4362l49-38l-47-16l-49 37M1702 4342l48-37l-47-16l-49 37"/><path fill="#685000" d="M1969 4284l47-35l-49-15l-47 35"/><path fill="#604800" d="M2058 4266l47-35l-49-15l-47 34"/><path fill="#604000" d="M2147 4247l47-35l-50-14l-47 34"/><path fill="#603800" d="M2237 4229l46-34l-50-14l-47 33"/><path fill="#603000" d="M2326 4210l47-33l-51-13l-47 32"/><path fill="#581000" d="M2866 4106l44-30l-54-12l-44 30"/><path fill="#686000" d="M1791 4323l48-37l-48-15l-48 35"/><path fill="#685800" d="M1880 4303l48-36l-49-15l-48 36"/><path fill="#207800" d="M860 4564l52-43l-44-19l-51 42"/><path fill="#287800" d="M948 4542l52-42l-45-19l-51 42"/><path fill="#307000" d="M1036 4521l51-42l-44-19l-51 42"/><path fill="#407000" d="M1125 4499l50-41l-45-18l-50 41"/><path fill="#487000" d="M1213 4478l50-41l-45-18l-50 41"/><path fill="#603000" d="M2373 4222l46-34l-51-14l-46 33"/><path fill="#602800" d="M2463 4204l46-34l-52-14l-46 33M2553 4186l46-33l-52-14l-46 33"/><path fill="#602000" d="M2643 4168l46-33l-53-13l-45 32"/><path fill="#581800" d="M2734 4150l45-32l-53-12l-45 31"/><path fill="#581000" d="M2824 4133l45-32l-54-12l-44 31"/><path fill="#487000" d="M1301 4457l51-40l-46-18l-50 40"/><path fill="#507000" d="M1390 4437l50-40l-46-18l-50 40"/><path fill="#587000" d="M1479 4416l49-39l-46-17l-50 38"/><path fill="#607000" d="M1568 4396l49-39l-47-17l-49 38"/><path fill="#687000" d="M1657 4375l49-38l-48-16l-49 37"/><path fill="#686800" d="M1746 4356l48-38l-47-16l-49 37"/><path fill="#686000" d="M1835 4336l48-38l-48-15l-48 36"/><path fill="#685800" d="M1924 4316l48-37l-48-15l-48 36"/><path fill="#685000" d="M2014 4297l48-36l-50-15l-47 35"/><path fill="#684800" d="M2103 4278l48-36l-50-15l-47 35"/><path fill="#684000" d="M2193 4259l47-35l-50-15l-47 35"/><path fill="#603800" d="M2283 4240l47-34l-51-15l-47 34"/><path fill="#207800" d="M901 4581l52-44l-45-19l-51 43"/><path fill="#287800" d="M990 4559l51-43l-45-19l-51 42"/><path fill="#387800" d="M1078 4537l51-43l-45-18l-51 42"/><path fill="#407800" d="M1167 4516l50-43l-45-18l-51 41"/><path fill="#487000" d="M1255 4494l51-42l-46-18l-51 41"/><path fill="#706000" d="M1880 4350l48-39l-49-16l-48 38"/><path fill="#685800" d="M1970 4330l48-38l-50-16l-48 37"/><path fill="#683800" d="M2330 4253l46-36l-51-15l-46 35"/><path fill="#683000" d="M2420 4234l46-35l-51-14l-46 34"/><path fill="#602800" d="M2510 4215l46-34l-51-14l-46 33M2601 4197l46-34l-53-14l-45 33"/><path fill="#602000" d="M2692 4179l45-34l-53-13l-45 33"/><path fill="#601800" d="M2782 4161l45-33l-53-13l-45 32"/><path fill="#507000" d="M1344 4473l50-41l-46-18l-50 40"/><path fill="#587000" d="M1433 4452l50-41l-47-18l-50 40"/><path fill="#607000" d="M1522 4431l50-40l-47-18l-50 40M1611 4410l50-39l-48-17l-49 39"/><path fill="#687000" d="M1701 4390l49-39l-48-17l-49 38"/><path fill="#706800" d="M1790 4370l49-39l-48-16l-49 37"/><path fill="#685000" d="M2059 4310l48-37l-49-15l-48 36"/><path fill="#684800" d="M2149 4291l48-37l-50-15l-48 36"/><path fill="#684000" d="M2239 4271l48-35l-51-15l-47 35"/><path fill="#207800" d="M942 4599l52-45l-45-20l-51 44"/><path fill="#287800" d="M1031 4577l51-45l-45-19l-51 43"/><path fill="#387800" d="M1120 4554l51-43l-46-20l-51 43"/><path fill="#407800" d="M1209 4532l50-43l-45-19l-51 43"/><path fill="#487800" d="M1298 4511l50-43l-46-19l-50 42"/><path fill="#706800" d="M1835 4384l49-39l-49-17l-49 38"/><path fill="#706000" d="M1925 4364l48-39l-49-17l-48 38"/><path fill="#685000" d="M2105 4324l48-38l-50-16l-48 37"/><path fill="#684000" d="M2286 4284l47-36l-51-16l-47 36"/><path fill="#683800" d="M2377 4265l46-36l-51-15l-47 35"/><path fill="#683000" d="M2467 4246l47-36l-52-14l-46 35"/><path fill="#682800" d="M2558 4227l46-35l-52-14l-46 34"/><path fill="#602800" d="M2649 4208l46-34l-53-14l-46 34"/><path fill="#602000" d="M2740 4190l46-34l-54-14l-45 34"/><path fill="#507800" d="M1387 4489l50-42l-46-18l-51 41"/><path fill="#587000" d="M1476 4468l50-42l-47-18l-50 41"/><path fill="#607000" d="M1566 4446l49-41l-47-17l-50 40"/><path fill="#687000" d="M1655 4425l50-40l-48-18l-49 40"/><path fill="#707000" d="M1745 4405l49-40l-48-17l-49 39"/><path fill="#684800" d="M2196 4304l47-37l-50-16l-48 37"/><path fill="#705800" d="M2015 4344l48-39l-49-16l-48 38"/><path fill="#207800" d="M984 4617l51-45l-45-21l-51 45"/><path fill="#287800" d="M1073 4594l51-45l-45-20l-51 44"/><path fill="#387800" d="M1162 4572l51-45l-46-19l-51 43"/><path fill="#407800" d="M1251 4549l51-43l-46-20l-51 43"/><path fill="#487800" d="M1341 4527l50-43l-46-19l-51 42"/><path fill="#707000" d="M1790 4420l49-41l-49-17l-49 39M1880 4399l49-40l-49-17l-49 39"/><path fill="#706800" d="M1970 4378l49-39l-50-17l-48 39"/><path fill="#706000" d="M2061 4358l48-39l-50-17l-48 38"/><path fill="#704800" d="M2242 4318l48-38l-51-16l-47 37"/><path fill="#684000" d="M2333 4298l47-38l-51-15l-47 36"/><path fill="#683800" d="M2424 4278l47-37l-52-15l-47 36"/><path fill="#683000" d="M2515 4259l47-37l-53-15l-46 36"/><path fill="#682800" d="M2606 4239l47-35l-53-15l-46 35M2698 4221l45-36l-53-14l-45 34"/><path fill="#507800" d="M1430 4505l50-42l-47-19l-50 42"/><path fill="#587800" d="M1520 4484l50-43l-48-18l-49 41"/><path fill="#607800" d="M1610 4462l49-42l-47-18l-50 41"/><path fill="#687000" d="M1700 4441l49-41l-48-18l-49 40"/><path fill="#705000" d="M2152 4338l47-39l-50-16l-48 37"/><path fill="#208000" d="M1026 4635l51-46l-45-20l-52 45"/><path fill="#287800" d="M1115 4612l51-45l-45-21l-52 45"/><path fill="#387800" d="M1204 4590l51-46l-46-20l-51 45"/><path fill="#407800" d="M1294 4567l51-45l-47-19l-50 43"/><path fill="#487800" d="M1384 4545l50-45l-47-19l-50 43"/><path fill="#687800" d="M1745 4457l49-42l-49-18l-49 41"/><path fill="#707800" d="M1835 4435l49-41l-49-18l-49 41"/><path fill="#707000" d="M1926 4414l48-41l-49-17l-49 40"/><path fill="#706800" d="M2016 4393l49-40l-50-17l-48 39"/><path fill="#705800" d="M2198 4352l48-39l-51-17l-47 38"/><path fill="#705000" d="M2289 4332l48-39l-51-17l-48 38"/><path fill="#704000" d="M2381 4311l47-38l-52-16l-47 38"/><path fill="#703800" d="M2472 4291l47-37l-52-16l-47 37"/><path fill="#683000" d="M2563 4272l47-37l-53-16l-46 36M2655 4252l46-36l-53-15l-46 35"/><path fill="#507800" d="M1474 4522l50-43l-47-19l-50 42"/><path fill="#587800" d="M1564 4500l50-43l-48-19l-50 43"/><path fill="#607800" d="M1654 4478l50-42l-48-19l-50 42"/><path fill="#706000" d="M2107 4372l48-39l-50-17l-48 39"/><path fill="#208000" d="M1068 4654l51-47l-45-21l-52 46"/><path fill="#288000" d="M1157 4631l52-46l-46-21l-52 45"/><path fill="#308000" d="M1247 4608l51-46l-46-21l-51 46"/><path fill="#407800" d="M1337 4585l51-45l-47-21l-50 45"/><path fill="#487800" d="M1427 4562l51-45l-47-20l-51 44"/><path fill="#607800" d="M1699 4495l49-43l-48-19l-50 42"/><path fill="#687800" d="M1790 4473l49-42l-49-19l-49 42"/><path fill="#707800" d="M1880 4452l49-43l-49-18l-49 41"/><path fill="#787000" d="M1971 4430l49-42l-50-18l-48 41"/><path fill="#786800" d="M2063 4409l48-41l-50-18l-49 40"/><path fill="#706000" d="M2154 4388l48-41l-51-17l-48 39"/><path fill="#705800" d="M2245 4367l48-40l-51-17l-48 39"/><path fill="#705000" d="M2337 4346l47-39l-51-17l-48 38"/><path fill="#704800" d="M2428 4326l48-39l-53-17l-47 38"/><path fill="#704000" d="M2520 4305l47-38l-53-16l-46 37"/><path fill="#703800" d="M2612 4285l46-38l-53-15l-46 37"/><path fill="#507800" d="M1518 4540l50-45l-48-19l-50 43"/><path fill="#587800" d="M1608 4517l50-43l-48-20l-50 43"/><path fill="#208000" d="M1110 4674l52-48l-46-22l-52 47"/><path fill="#288000" d="M1200 4650l51-47l-46-21l-51 46"/><path fill="#308000" d="M1290 4627l51-47l-46-21l-51 46"/><path fill="#408000" d="M1381 4603l51-46l-48-20l-50 45"/><path fill="#488000" d="M1471 4580l51-45l-48-21l-50 45"/><path fill="#508000" d="M1562 4558l50-46l-48-20l-50 45"/><path fill="#587800" d="M1653 4535l50-45l-49-20l-50 44"/><path fill="#607800" d="M1744 4512l49-44l-48-19l-50 43"/><path fill="#687800" d="M1835 4490l49-43l-49-20l-49 43"/><path fill="#707800" d="M1926 4468l49-43l-49-19l-49 42"/><path fill="#787800" d="M2018 4446l48-42l-50-19l-49 42"/><path fill="#786800" d="M2109 4425l49-42l-51-18l-48 41"/><path fill="#786000" d="M2201 4403l48-41l-51-18l-48 41"/><path fill="#785800" d="M2293 4382l47-41l-51-17l-48 40"/><path fill="#705000" d="M2385 4361l47-40l-52-18l-47 40"/><path fill="#704800" d="M2477 4340l47-40l-53-16l-47 38"/><path fill="#704000" d="M2569 4320l47-40l-53-16l-47 38"/><path fill="#208000" d="M1153 4694l51-49l-46-22l-51 48"/><path fill="#488000" d="M1516 4599l50-46l-48-21l-50 45"/><path fill="#787000" d="M2156 4441l49-43l-51-18l-49 42"/><path fill="#288000" d="M1243 4670l52-48l-47-22l-51 47"/><path fill="#308000" d="M1334 4646l51-48l-47-21l-51 47"/><path fill="#408000" d="M1425 4622l50-47l-47-21l-51 46"/><path fill="#508000" d="M1607 4576l50-46l-49-21l-50 45"/><path fill="#588000" d="M1698 4553l50-46l-49-20l-50 45"/><path fill="#608000" d="M1789 4530l50-45l-49-20l-50 44"/><path fill="#687800" d="M1881 4507l49-44l-50-19l-49 43"/><path fill="#707800" d="M1972 4485l49-44l-50-19l-49 43"/><path fill="#787800" d="M2064 4463l49-43l-51-19l-48 42"/><path fill="#786000" d="M2248 4419l48-42l-51-18l-48 41"/><path fill="#785800" d="M2340 4398l48-42l-52-18l-48 41"/><path fill="#785000" d="M2433 4376l47-41l-52-17l-48 40"/><path fill="#784800" d="M2525 4355l47-40l-53-18l-47 40"/><path fill="#188000" d="M1196 4714l51-49l-46-23l-52 49"/><path fill="#288000" d="M1287 4690l51-49l-47-22l-51 48"/><path fill="#308000" d="M1378 4666l51-49l-48-22l-51 48"/><path fill="#388000" d="M1469 4642l51-48l-48-22l-51 47"/><path fill="#488000" d="M1560 4618l51-47l-49-21l-50 46"/><path fill="#508000" d="M1652 4595l50-47l-49-21l-50 46"/><path fill="#588000" d="M1743 4571l50-46l-49-21l-50 46"/><path fill="#608000" d="M1835 4548l50-46l-50-20l-50 45"/><path fill="#688000" d="M1927 4525l49-45l-50-20l-49 44"/><path fill="#788000" d="M2019 4503l49-45l-51-20l-49 44"/><path fill="#787800" d="M2111 4480l49-44l-51-19l-49 43"/><path fill="#787000" d="M2203 4458l49-44l-52-19l-48 43"/><path fill="#786800" d="M2296 4436l48-43l-52-19l-48 42"/><path fill="#786000" d="M2388 4414l48-43l-52-18l-48 42"/><path fill="#785000" d="M2481 4392l48-42l-53-18l-48 41"/><path fill="#308000" d="M1422 4686l51-49l-48-23l-51 49"/><path fill="#488000" d="M1605 4638l51-48l-49-22l-51 47"/><path fill="#788000" d="M2066 4520l49-45l-51-20l-49 44"/><path fill="#808000" d="M2158 4498l49-45l-51-20l-49 44"/><path fill="#807000" d="M2251 4475l49-44l-52-20l-49 44"/><path fill="#288000" d="M1331 4710l51-49l-48-23l-51 49"/><path fill="#388000" d="M1513 4662l51-49l-48-22l-51 48"/><path fill="#508000" d="M1697 4614l50-48l-49-21l-50 47"/><path fill="#588000" d="M1789 4590l50-47l-50-21l-50 46"/><path fill="#608000" d="M1881 4567l50-47l-50-21l-50 46"/><path fill="#708000" d="M1973 4543l50-45l-51-21l-49 45"/><path fill="#786800" d="M2344 4453l48-44l-52-19l-48 43"/><path fill="#786000" d="M2437 4430l48-43l-53-19l-48 43"/><path fill="#188800" d="M1239 4735l52-50l-47-23l-52 49"/><path fill="#388800" d="M1558 4682l51-49l-49-23l-50 49"/><path fill="#188800" d="M1283 4756l52-51l-48-23l-51 50"/><path fill="#208800" d="M1375 4731l51-50l-48-23l-51 49"/><path fill="#308800" d="M1466 4707l51-50l-48-23l-51 49"/><path fill="#488000" d="M1650 4658l51-49l-49-22l-51 48"/><path fill="#508000" d="M1743 4633l50-48l-50-22l-50 48"/><path fill="#588000" d="M1835 4609l50-47l-50-22l-50 47"/><path fill="#608000" d="M1928 4586l49-48l-50-21l-50 47"/><path fill="#708000" d="M2020 4562l50-47l-51-20l-50 45"/><path fill="#788000" d="M2113 4539l49-46l-51-21l-49 45"/><path fill="#808000" d="M2206 4516l49-46l-52-20l-49 45"/><path fill="#807800" d="M2299 4493l49-45l-53-20l-48 44"/><path fill="#806800" d="M2392 4470l49-44l-53-20l-48 44"/><path fill="#188800" d="M1327 4778l52-52l-48-24l-52 51"/><path fill="#308800" d="M1511 4728l51-51l-48-23l-51 50"/><path fill="#408800" d="M1696 4678l51-50l-50-22l-50 49"/><path fill="#608000" d="M1974 4605l50-48l-51-22l-49 48"/><path fill="#708000" d="M2067 4581l50-47l-51-22l-50 47"/><path fill="#788000" d="M2161 4558l49-47l-52-21l-49 46"/><path fill="#808000" d="M2254 4534l49-46l-52-21l-49 46"/><path fill="#807800" d="M2348 4511l48-46l-53-20l-48 45"/><path fill="#208800" d="M1419 4753l51-52l-48-23l-51 50"/><path fill="#388800" d="M1604 4703l50-50l-49-23l-50 49"/><path fill="#508800" d="M1789 4654l50-50l-50-22l-50 48"/><path fill="#588000" d="M1881 4629l50-48l-50-22l-50 47"/><path fill="#208800" d="M1464 4775l51-52l-48-24l-52 51"/><path fill="#388800" d="M1649 4724l51-51l-49-23l-51 50"/><path fill="#508800" d="M1835 4674l50-50l-50-23l-50 50"/><path fill="#108800" d="M1372 4800l51-52l-48-25l-52 52"/><path fill="#288800" d="M1556 4749l52-51l-49-24l-51 51"/><path fill="#408800" d="M1742 4699l51-50l-50-24l-51 50"/><path fill="#588800" d="M1928 4650l50-50l-51-22l-49 48"/><path fill="#608800" d="M2021 4625l50-49l-51-22l-50 48"/><path fill="#708800" d="M2115 4601l49-48l-51-22l-50 47"/><path fill="#788000" d="M2209 4577l49-48l-52-21l-49 47"/><path fill="#808000" d="M2302 4553l49-47l-52-21l-49 46"/><path fill="#108800" d="M1416 4823l52-53l-49-25l-51 52"/><path fill="#288800" d="M1602 4771l51-52l-49-24l-51 51"/><path fill="#408800" d="M1788 4721l51-52l-50-23l-51 50"/><path fill="#488800" d="M1882 4695l50-50l-51-24l-50 50"/><path fill="#588800" d="M1975 4670l50-50l-51-23l-50 50"/><path fill="#608800" d="M2069 4646l50-50l-52-23l-49 49"/><path fill="#688800" d="M2163 4621l49-49l-52-22l-49 48"/><path fill="#788800" d="M2257 4597l49-49l-52-22l-49 48"/><path fill="#208800" d="M1509 4797l51-53l-48-24l-52 52"/><path fill="#388800" d="M1695 4746l51-52l-50-24l-51 51"/><path fill="#188800" d="M1555 4820l51-54l-49-25l-52 53"/><path fill="#308800" d="M1741 4768l51-53l-50-24l-51 52"/><path fill="#608800" d="M2117 4667l50-51l-52-23l-50 50"/><path fill="#108800" d="M1461 4846l52-54l-49-25l-51 53"/><path fill="#288800" d="M1648 4794l51-53l-50-25l-51 52"/><path fill="#408800" d="M1835 4742l51-52l-51-24l-51 52"/><path fill="#488800" d="M1929 4717l50-52l-51-23l-50 50"/><path fill="#588800" d="M2023 4692l50-51l-52-24l-50 50"/><path fill="#688800" d="M2211 4642l50-50l-53-23l-49 49"/><path fill="#089000" d="M1507 4870l52-55l-50-26l-51 54"/><path fill="#289000" d="M1694 4817l51-54l-50-25l-51 53"/><path fill="#308800" d="M1788 4791l51-54l-51-24l-50 52"/><path fill="#408800" d="M1882 4765l51-53l-51-25l-51 53"/><path fill="#488800" d="M1976 4739l51-52l-52-25l-50 52"/><path fill="#608800" d="M2165 4688l50-51l-52-24l-50 51"/><path fill="#189000" d="M1600 4844l52-55l-50-26l-51 54"/><path fill="#508800" d="M2071 4713l50-51l-52-24l-50 51"/><path fill="#389000" d="M1929 4788l51-54l-51-25l-51 53"/><path fill="#189000" d="M1647 4868l51-56l-50-26l-51 55"/><path fill="#309000" d="M1835 4814l51-54l-51-26l-51 54"/><path fill="#488800" d="M2024 4762l50-54l-51-24l-51 52"/><path fill="#089000" d="M1553 4894l51-56l-49-26l-52 55"/><path fill="#209000" d="M1741 4841l51-55l-51-26l-51 54"/><path fill="#508800" d="M2119 4736l50-53l-52-24l-50 52"/><path fill="#089000" d="M1599 4919l52-57l-50-26l-52 56"/><path fill="#109000" d="M1693 4892l52-56l-51-27l-51 56"/><path fill="#209000" d="M1788 4865l51-56l-51-26l-51 55"/><path fill="#289000" d="M1882 4838l51-55l-51-26l-51 54"/><path fill="#389000" d="M1977 4811l51-54l-52-26l-50 54"/><path fill="#489000" d="M2072 4785l51-54l-53-26l-50 54"/><path fill="#189000" d="M1835 4890l51-57l-51-27l-51 56"/><path fill="#109000" d="M1740 4917l52-57l-51-27l-52 56"/><path fill="#289000" d="M1930 4862l51-56l-52-26l-51 55"/><path fill="#009000" d="M1645 4945l52-58l-50-27l-52 56"/><path fill="#389000" d="M2025 4835l51-55l-52-26l-51 54"/><path fill="#009000" d="M1692 4970l52-58l-51-28l-51 58"/><path fill="#089000" d="M1787 4943l52-59l-51-27l-52 57"/><path fill="#189000" d="M1883 4915l51-58l-52-27l-51 57"/><path fill="#289000" d="M1978 4887l51-57l-52-27l-51 56"/><path fill="#009008" d="M1739 4997l52-60l-51-28l-52 59"/><path fill="#089000" d="M1835 4969l52-59l-52-28l-51 58"/><path fill="#189000" d="M1931 4940l51-58l-52-28l-51 58"/><path fill="#009808" d="M1787 5024l52-61l-52-28l-51 59"/><path fill="#009000" d="M1883 4995l52-60l-52-28l-52 59"/><path fill="#009810" d="M1835 5051l52-61l-52-29l-52 60"/></g><polyline fill="none" stroke="#0c1408" stroke-opacity="0.75" stroke-width="0.9" stroke-linejoin="round" points="39.6,438.7 43.3,440 47,441.2 50.8,442.5 54.6,443.8 58.4,445.2 62.3,446.6 66.2,448.1 70.1,449.6 74.1,451.1 78,452.7 82.1,454.3 86.1,456 90.2,457.7 94.3,459.5 98.4,461.3 102.6,463.1 106.8,465 111,467 115.3,469 119.6,471 124,473.1 128.3,475.2 132.7,477.4 137.2,479.6 141.6,481.9 146.2,484.2 150.7,486.6 155.3,489 159.9,491.5 164.5,494.1 169.2,496.6 173.9,499.3 178.7,502 183.5,504.7 183.5,504.7 188.3,499.1 193.1,493.6 197.8,488.3 202.5,483.1 207.2,478.1 211.9,473.2 216.5,468.4 221.1,463.8 225.7,459.3 230.2,454.9 234.7,450.7 239.2,446.6 243.7,442.6 248.1,438.8 252.5,435.1 256.8,431.6 261.2,428.1 265.5,424.8 269.7,421.7 274,418.6 278.2,415.7 282.3,412.9 286.5,410.2 290.6,407.7 294.7,405.2 298.7,402.9 302.7,400.8 306.7,398.7 310.6,396.7 314.5,394.9 318.4,393.2 322.3,391.6 326.1,390.1 329.9,388.8"/>
<circle cx="202.2" cy="410.8" r="2.9" fill="#c8000c" stroke="#5a0000" stroke-width="0.7"/>
<circle cx="43" cy="509.9" r="1.45" fill="#000"/>
<circle cx="41.3" cy="473.8" r="1.45" fill="#000"/>
<circle cx="39.5" cy="437.7" r="1.45" fill="#000"/>
<circle cx="37.8" cy="401.7" r="1.45" fill="#000"/>
<circle cx="36" cy="365.6" r="1.45" fill="#000"/>
<circle cx="45.2" cy="555.3" r="1.45" fill="#000"/>
<circle cx="114.4" cy="588.3" r="1.45" fill="#000"/>
<circle cx="183.5" cy="621.3" r="1.45" fill="#000"/>
<circle cx="252.6" cy="588.3" r="1.45" fill="#000"/>
<circle cx="321.8" cy="555.3" r="1.45" fill="#000"/>
<text x="37.8" y="506.5" font-size="13.2" text-anchor="end" textLength="12.7" lengthAdjust="spacingAndGlyphs">15</text>
<text x="36.1" y="470.4" font-size="13.2" text-anchor="end" textLength="12.7" lengthAdjust="spacingAndGlyphs">20</text>
<text x="34.3" y="434.3" font-size="13.2" text-anchor="end" textLength="12.7" lengthAdjust="spacingAndGlyphs">25</text>
<text x="32.6" y="398.3" font-size="13.2" text-anchor="end" textLength="12.7" lengthAdjust="spacingAndGlyphs">30</text>
<text x="30.8" y="362.2" font-size="13.2" text-anchor="end" textLength="12.7" lengthAdjust="spacingAndGlyphs">35</text>
<text x="5.3" y="363.7" font-size="18.8" text-anchor="start" textLength="7.5" lengthAdjust="spacingAndGlyphs" stroke="#222" stroke-width="0.25">c</text>
<text transform="translate(11.8 458.2) rotate(-90)" font-size="15" text-anchor="middle" textLength="147" lengthAdjust="spacingAndGlyphs">Total flavonoids content</text>
<text x="39" y="567.9" font-size="13.2" text-anchor="end" textLength="28.7" lengthAdjust="spacingAndGlyphs">0.025</text>
<text x="108.2" y="600.9" font-size="13.2" text-anchor="end" textLength="28.7" lengthAdjust="spacingAndGlyphs">0.021</text>
<text x="178.1" y="634.5" font-size="13.2" text-anchor="end" textLength="28.7" lengthAdjust="spacingAndGlyphs">0.017</text>
<text x="189.5" y="634.5" font-size="13.2" text-anchor="start" textLength="12.7" lengthAdjust="spacingAndGlyphs">30</text>
<text x="259.6" y="600.9" font-size="13.2" text-anchor="start" textLength="12.7" lengthAdjust="spacingAndGlyphs">40</text>
<text x="328.8" y="567.9" font-size="13.2" text-anchor="start" textLength="12.7" lengthAdjust="spacingAndGlyphs">50</text>
<text x="62.3" y="617" font-size="14.2" text-anchor="start" textLength="15.8" lengthAdjust="spacingAndGlyphs">X4</text>
<text x="277.2" y="614" font-size="14.2" text-anchor="start" textLength="15.8" lengthAdjust="spacingAndGlyphs">X1</text></g>
<g><line x1="383.3" y1="513.1" x2="522" y2="466.2" stroke="#666" stroke-width="0.7"/>
<line x1="522" y1="466.2" x2="660.7" y2="513.1" stroke="#666" stroke-width="0.7"/>
<line x1="381.6" y1="477.5" x2="522" y2="434" stroke="#666" stroke-width="0.7"/>
<line x1="522" y1="434" x2="662.4" y2="477.5" stroke="#666" stroke-width="0.7"/>
<line x1="379.9" y1="441.9" x2="522" y2="401.8" stroke="#666" stroke-width="0.7"/>
<line x1="522" y1="401.8" x2="664.1" y2="441.9" stroke="#666" stroke-width="0.7"/>
<line x1="378.1" y1="406.3" x2="522" y2="369.7" stroke="#666" stroke-width="0.7"/>
<line x1="522" y1="369.7" x2="665.9" y2="406.3" stroke="#666" stroke-width="0.7"/>
<line x1="376.4" y1="370.6" x2="522" y2="337.5" stroke="#666" stroke-width="0.7"/>
<line x1="522" y1="337.5" x2="667.6" y2="370.6" stroke="#666" stroke-width="0.7"/>
<line x1="453.8" y1="532.3" x2="449.2" y2="354.1" stroke="#666" stroke-width="0.7"/>
<line x1="522" y1="506.7" x2="522" y2="337.5" stroke="#666" stroke-width="0.7"/>
<line x1="590.2" y1="532.3" x2="594.8" y2="354.1" stroke="#666" stroke-width="0.7"/>
<line x1="658.5" y1="557.9" x2="667.6" y2="370.6" stroke="#666" stroke-width="0.7"/>
<line x1="385.5" y1="557.9" x2="376.4" y2="370.6" stroke="#333" stroke-width="0.75"/>
<polygon points="385.5,557.9 522,623.1 658.5,557.9 522,506.7" fill="#ffff00" stroke="#77770a" stroke-width="0.7"/>
<polyline fill="none" stroke="#6cf0a0" stroke-width="0.95" points="645.7,564 646.5,562.1 647.1,560.5 647.8,558.7 648.6,556.2 649.1,554.4"/>
<polyline fill="none" stroke="#78f272" stroke-width="0.95" points="627,573 628.1,571.1 629,569.6 630.5,566.9 631.4,565.1 632.1,563.6 633.1,561.3 634,559 634.5,557.5 635,555.9 635.7,553.7 636.3,551.4 636.6,549.7"/>
<polyline fill="none" stroke="#80f44c" stroke-width="0.95" points="600.5,585.6 602.4,583.7 604.3,581.5 606.2,579.3 607.5,577.8 609.6,575 610.7,573.5 612.4,571 613.6,569.1 614.5,567.6 615.9,565 616.9,563.1 617.7,561.5 618.5,559.6 619.5,557 620.1,555.4 620.5,553.9 621,552.2 621.5,550 621.9,547.8 622.1,545.9 622.3,544.3"/>
<polyline fill="none" stroke="#8af53e" stroke-width="0.95" points="517,620.7 522.9,618.6 528.5,616.5 534,614.2 539.1,611.9 544.1,609.6 548.9,607.2 553.4,604.7 557.7,602.2 561.9,599.6 563.9,598.4 567.8,595.7 571.5,593.1 573.5,591.5 576.6,589 579.9,586.3 581.4,584.9 584.4,582.1 585.8,580.7 588.5,577.9 589.8,576.5 591.8,574 593.3,572.2 594.5,570.7 596.5,567.8 597.4,566.3 598.4,564.6 600,561.8 600.7,560.3 601.4,558.7 602.3,556.6 603.1,554.2 603.6,552.5 604,550.9 604.3,549.3 604.6,547.5 604.8,545.5 604.9,543.5 604.9,541.6 604.8,539.7 604.5,537.9 604.5,537.6"/>
<polyline fill="none" stroke="#8af53e" stroke-width="0.95" points="405.2,550.6 402.5,553.1 401.1,554.6 399.7,556 397.3,558.6 395.7,560.6 394.4,562.2"/>
<polyline fill="none" stroke="#a2f82e" stroke-width="0.95" points="496.7,611 500.1,610.2 506.6,608.5 509.7,607.6 515.6,605.7 521.2,603.7 526.5,601.6 531.6,599.4 536.4,597.1 540.9,594.7 545.3,592.3 549.3,589.8 552.6,587.7 555.1,586 558.6,583.4 560.6,581.9 563.5,579.4 565.9,577.3 568,575.3 569.9,573.3 571.9,571.1 573.2,569.6 575.4,566.8 576.4,565.3 577.6,563.6 579.2,560.8 580,559.3 580.7,557.8 581.5,555.7 582.3,553.4 582.9,551.4 583.2,549.8 583.4,548.2 583.6,546.5 583.6,544.8 583.6,543 583.3,541.3 583,539.4 582.4,537.6 581.7,535.6 580.7,533.6 579.6,531.9 578.7,530.5 577.6,529.1 575.1,526.7 575,526.6"/>
<polyline fill="none" stroke="#a2f82e" stroke-width="0.95" points="541.4,514 536.7,513.6 533,513.4 529.1,513.3 524.8,513.4 520.1,513.6 516.4,513.9 513.1,514.2 508.9,514.7 503.9,515.5 501.1,516 495.6,517.1 492.4,517.8"/>
<polyline fill="none" stroke="#a2f82e" stroke-width="0.95" points="451,533.3 448.9,534.5 445.2,536.6 442.9,538 439.9,540 437.1,541.9 434.8,543.5 432.4,545.3 430,547.3 428.4,548.6 425.4,551.3 424,552.7 422.4,554.3 419.9,557 418.6,558.5 417.4,560 415.9,562 414.2,564.5 412.9,566.6 412,568.4 411.1,570.2"/>
<polyline fill="none" stroke="#f2ff58" stroke-width="0.6" points="508,588.2 512.9,586.5 518,584.5 522.8,582.4 527.2,580.1 530.2,578.4 533.2,576.5 536.8,574 538.8,572.6 541.7,570.1 543.5,568.4 545.8,566 547.1,564.6 549.1,562 550.2,560.2 551.1,558.7 552,556.7 552.9,554.4 553.5,552.3 553.7,550.6 553.8,548.8 553.7,547 553.3,545 552.7,543.2 552,541.6 551.1,540.2 549.5,538.3 547.4,536.3 545.7,535.1 542.2,533.1 537.9,531.4 532.7,530 529.8,529.5 525.9,529 520.9,528.7 516.6,528.7 512.8,528.9 509.1,529.2 502.9,530.1 499.9,530.6 494.4,531.8 491.7,532.5 486.8,534 482.1,535.7 477.6,537.4 473.4,539.3 469.8,541.1 467.5,542.4 463.8,544.6 461.5,546.1 458.6,548.1 456.5,549.8 453.9,552 452.4,553.3 450,555.8 448.5,557.6 447.3,559.1 446,561 444.6,563.4 443.5,565.7 442.8,567.6 442.3,569.5 442,571.5 442,573.7 442.2,575.6 442.6,577.4 443.2,579.1 444.7,581.6 446.3,583.7 448.7,585.8 451.4,587.6 455.9,589.8 459.9,591.1 464.8,592.2 468.4,592.8 474,593.2 478.9,593.2 483.4,593 488.6,592.5 494.8,591.5 498.2,590.8 504.4,589.3 508,588.2"/>
<polyline fill="none" stroke="#0c1408" stroke-opacity="0.75" stroke-width="0.9" stroke-linejoin="round" points="380.9,461.9 385.4,458.1 389.9,454.4 394.4,450.8 398.9,447.4 403.3,444.2 407.7,441 412.2,438 416.5,435.2 420.9,432.5 425.2,429.9 429.6,427.4 433.9,425.1 438.1,422.9 442.4,420.9 446.6,419 450.8,417.2 455,415.5 459.1,414 463.3,412.6 467.4,411.3 471.4,410.2 475.5,409.1 479.5,408.2 483.5,407.4 487.5,406.8 491.4,406.2 495.3,405.8 499.2,405.5 503.1,405.3 506.9,405.2 510.7,405.2 514.5,405.3 518.3,405.6 522,405.9 522,405.9 525.7,405 529.5,404.2 533.3,403.7 537.1,403.3 540.9,403.2 544.8,403.4 548.7,403.7 552.6,404.3 556.5,405.1 560.5,406.2 564.5,407.5 568.5,409 572.6,410.8 576.6,412.8 580.7,415 584.8,417.5 588.9,420.3 593,423.3 597.2,426.5 601.4,430 605.6,433.8 609.8,437.8 614,442.1 618.2,446.6 622.4,451.4 626.7,456.4 631,461.7 635.2,467.2 639.5,473.1 643.8,479.1 648.1,485.5 652.4,492 656.7,498.9 661,506"/><g transform="scale(.1)"><path fill="#000800" d="M5220 4042l41 7l-41 14l-41-7M5182 4038l42 7l-41 15l-42-6M5258 4033l41 9l-42 12l-41-8"/><path fill="#000000" d="M5220 4030l42 7l-42 13l-42-7"/><path fill="#000800" d="M5144 4037l42 5l-41 15l-42-4"/><path fill="#000000" d="M5296 4027l41 10l-42 9l-41-9"/><path fill="#000800" d="M5106 4036l43 4l-41 16l-43-4"/><path fill="#000000" d="M5182 4027l42 6l-41 13l-42-5M5258 4023l41 8l-42 10l-41-7M5334 4024l41 10l-43 7l-41-10M5144 4026l42 5l-41 14l-42-5M5068 4036l42 3l-40 17l-43-3M5220 4020l42 7l-42 11l-42-7M5373 4022l40 11l-43 4l-40-10M5296 4019l42 9l-43 7l-41-8M5029 4038l43 1l-41 18l-43-2M5105 4026l43 3l-41 15l-43-3M5182 4018l42 6l-42 11l-42-5M5258 4015l42 8l-42 8l-42-7M5335 4017l41 9l-43 6l-41-9M5412 4023l40 11l-44 2l-40-10M5066 4027l44 2l-41 15l-43-2M5374 4017l41 10l-44 3l-41-9M4990 4040l43 1l-40 18l-44 0M5143 4017l43 5l-42 12l-42-4M5297 4013l41 8l-42 6l-42-8M5451 4026l40 12l-45-1l-39-11M5220 4013l42 6l-42 9l-42-6M4951 4044l43-1l-40 19l-44 1M5027 4029l44 1l-41 15l-43 0M5104 4018l43 3l-41 13l-43-3M5181 4011l43 6l-42 9l-43-4M5259 4010l42 7l-43 6l-42-6M5336 4012l41 9l-43 4l-41-9M5414 4020l40 10l-45 0l-40-9M5491 4032l39 12l-46-4l-38-11M5298 4009l41 7l-43 5l-42-8M4911 4049l44-2l-40 19l-44 3M4988 4032l44 0l-41 16l-44 1M5065 4019l44 2l-41 13l-44-1M5220 4008l42 5l-42 8l-42-6M5376 4014l40 10l-45 1l-40-9M5532 4042l37 10l-47-9l-37-9M5142 4011l44 4l-42 10l-43-3M5454 4025l39 11l-47-4l-38-9M4871 4055l45-3l-40 19l-45 4M4948 4036l45-1l-41 17l-44 2M5026 4022l44 1l-41 13l-44 0M5103 4012l44 3l-42 11l-43-2M5181 4007l43 4l-42 8l-43-4M5259 4006l42 7l-43 5l-42-6M5337 4010l41 8l-44 2l-41-8M5416 4020l39 9l-46-4l-39-7M5495 4035l37 9l-47-10l-38-7M5572 4054l37 9l-47-14l-38-7M4831 4062l45-4l-40 20l-45 5M5534 4047l38 7l-47-14l-38-6M4908 4042l45-3l-40 18l-45 3M4986 4026l44-1l-40 15l-45 1M5064 4014l44 2l-41 11l-44-1M5142 4007l43 4l-42 8l-43-3M5220 4005l43 5l-43 6l-43-5M5299 4007l41 7l-44 2l-41-6M5457 4030l38 6l-47-10l-38-4M5611 4068l38 8l-46-17l-39-7M5379 4016l39 7l-48-4l-38-5M4790 4071l46-6l-39 21l-46 7M5573 4060l39 6l-46-17l-39-5M5650 4083l39 8l-46-20l-39-7M4868 4049l45-4l-39 18l-46 4M4946 4031l45-2l-40 15l-45 2M5024 4018l45 0l-41 12l-45 0M5102 4009l44 2l-41 9l-44-2M5181 4005l43 4l-42 6l-44-4M5260 4005l42 6l-45 3l-41-5M5341 4013l38 5l-47-6l-38-1M5418 4026l39 4l-46-11l-40-2M5495 4041l39 5l-45-14l-40-4M4749 4081l47-8l-39 22l-46 8M4827 4057l46-6l-39 19l-46 6M4905 4037l46-3l-40 15l-46 4M5613 4074l39 7l-46-19l-39-7M5690 4101l39 8l-46-23l-39-7M4984 4022l45-1l-40 12l-46 2M5062 4012l45 0l-41 10l-45 0M5140 4006l45 2l-41 7l-45-2M5220 4004l43 5l-43 4l-43-4M5302 4014l39 0l-45-7l-41 2M5379 4023l40 1l-45-10l-41 0M5457 4036l40 3l-46-14l-40-2M5535 4053l39 5l-45-17l-40-4M4708 4092l47-9l-38 22l-47 10M4786 4066l47-7l-39 19l-47 8M4865 4045l46-5l-39 16l-47 5M5575 4067l40 5l-46-19l-40-5M5731 4120l39 9l-46-25l-39-8M4943 4028l46-3l-40 13l-46 4M5021 4016l46-1l-39 9l-47 2M5100 4008l46 1l-40 6l-47 1M5177 4007l47 1l-41-3l-45 5M5260 4014l42-2l-44-7l-42 3M5339 4020l42 0l-45-10l-42 1M5418 4031l41 2l-45-13l-41-1M5496 4047l41 3l-46-16l-40-3M5653 4091l39 7l-45-22l-40-6M4667 4105l47-11l-38 22l-47 11M4745 4077l47-9l-38 19l-47 10M4823 4054l48-7l-39 16l-47 8M4902 4035l47-4l-39 12l-47 6M4980 4022l47-3l-38 9l-48 4M5458 4042l41 2l-45-16l-41-1M5537 4060l40 4l-45-19l-41-3M5615 4083l40 6l-45-22l-41-5M5693 4110l40 8l-46-25l-39-7M5771 4143l40 9l-46-28l-39-9M5059 4013l47-2l-39 5l-47 4M5138 4013l47-4l-41-3l-46 6M5220 4014l43-4l-43-6l-43 5M5300 4019l42-2l-44-9l-43 2M5379 4028l41 0l-44-12l-42 0M4625 4118l48-12l-38 23l-47 12M4704 4089l47-10l-38 19l-47 11M4782 4064l48-8l-38 16l-48 9M4861 4044l47-7l-38 13l-48 8M4939 4029l48-5l-38 8l-48 7M5498 4054l41 3l-45-18l-41-2M5577 4076l41 4l-46-21l-41-4M5656 4102l40 6l-46-24l-40-6M5734 4132l40 8l-46-27l-40-8M5812 4167l40 10l-46-30l-40-10M5018 4020l48-5l-39 3l-48 7M5099 4016l46-6l-41-2l-46 7M5180 4015l44-5l-43-5l-44 5M5260 4018l43-3l-44-9l-43 4M5340 4026l42-2l-45-11l-42 1M5419 4038l41 0l-44-14l-42-1M4583 4133l49-13l-37 22l-49 15M4662 4102l48-12l-37 20l-49 13M4741 4076l48-10l-38 16l-48 11M4819 4054l49-9l-38 13l-49 10M4898 4038l49-8l-38 8l-49 9M4978 4027l48-8l-39 3l-48 9M5459 4050l42 1l-45-17l-42-1M5539 4069l41 4l-46-21l-41-3M5618 4094l40 5l-45-24l-41-4M5697 4123l40 7l-46-27l-40-7M5775 4156l40 9l-46-30l-40-8M5854 4194l39 11l-46-33l-39-11M5059 4020l46-7l-41-2l-46 9M5380 4035l42-1l-45-14l-42 1M5140 4017l44-6l-42-5l-45 7M5220 4019l44-5l-44-8l-44 5M5300 4024l43-2l-44-11l-43 3M4541 4150l49-16l-37 23l-49 17M4620 4117l49-14l-37 20l-49 14M4699 4089l49-12l-38 16l-49 13M4778 4066l49-11l-38 12l-49 12M4857 4048l49-11l-38 8l-49 12M4937 4035l48-10l-39 3l-48 11M5018 4026l47-9l-41-1l-46 10M5420 4046l42 1l-45-17l-42 0M5500 4064l41 3l-45-20l-42-2M5579 4087l41 4l-45-23l-41-4M5659 4114l40 6l-45-26l-41-5M5738 4146l40 8l-46-30l-40-7M5816 4183l40 9l-46-33l-40-8"/><path fill="#000800" d="M5895 4224l39 11l-46-36l-39-11"/><path fill="#000000" d="M5099 4021l45-8l-42-4l-45 8M5340 4033l43-2l-45-13l-42 2M5180 4020l44-5l-43-8l-45 7M5260 4024l43-3l-44-11l-43 4M4499 4168l49-18l-36 23l-50 18M4578 4133l49-16l-37 20l-49 17M4657 4103l49-14l-37 16l-49 15M4736 4078l50-13l-38 12l-49 14M4816 4058l49-12l-39 8l-48 13M4897 4043l48-11l-40 3l-48 13M4978 4032l46-10l-41 0l-46 11M5059 4026l45-9l-42-4l-46 10M5381 4044l42-1l-45-16l-42 1M5461 4061l42 0l-45-19l-43 0M5541 4082l41 2l-45-22l-42-3M5620 4107l41 5l-45-26l-41-4"/><path fill="#000800" d="M5700 4138l40 6l-45-29l-41-6M5779 4172l40 9l-46-33l-40-7M5858 4212l39 10l-46-36l-39-9M5937 4256l38 11l-46-38l-39-11"/><path fill="#000000" d="M5139 4023l45-7l-43-6l-45 7M5300 4033l44-3l-45-14l-43 4M5220 4026l44-5l-44-10l-44 5M4456 4187l50-19l-36 23l-50 20M4535 4150l50-17l-36 19l-50 19M4615 4119l49-16l-37 16l-49 17M4694 4092l50-15l-38 12l-49 16M4775 4070l49-14l-39 8l-49 15M4856 4053l48-13l-40 4l-48 14M4937 4040l47-12l-42 1l-46 12M5018 4031l46-10l-42-3l-46 11M5099 4027l45-8l-43-6l-45 9M5341 4043l43-2l-45-16l-43 3M5421 4058l43-1l-45-18l-43 0M5502 4077l42 2l-46-22l-42-1"/><path fill="#080800" d="M5582 4101l41 4l-45-26l-42-3M5662 4130l41 5l-46-28l-41-5M5741 4163l41 7l-46-31l-41-7M5821 4201l40 9l-46-35l-41-8"/><path fill="#000800" d="M5900 4243l39 11l-46-38l-40-10M5978 4290l39 12l-46-41l-39-11"/><path fill="#000000" d="M5180 4028l44-6l-44-10l-44 7M5260 4033l44-4l-44-13l-44 5M4414 4207l50-21l-36 23l-50 22M4493 4169l50-20l-37 20l-49 21M4572 4136l50-19l-37 16l-49 20M4653 4107l49-17l-38 12l-49 18M4733 4083l49-16l-39 9l-48 16M4814 4064l48-15l-40 5l-48 15M4895 4049l48-13l-42 1l-47 14M4977 4039l46-12l-42-2l-46 12M5058 4033l45-10l-43-5l-45 10M5139 4032l45-8l-44-9l-45 8M5220 4035l44-5l-44-12l-44 6M5301 4043l44-3l-45-15l-44 4M5382 4056l43-1l-45-19l-43 3"/><path fill="#080800" d="M5462 4074l43 0l-45-21l-43 0M5543 4096l42 2l-46-24l-42-2M5623 4123l42 4l-46-28l-42-3M5703 4155l41 6l-46-31l-41-6M5783 4191l40 8l-46-34l-40-7"/><path fill="#081000" d="M5862 4232l40 9l-46-37l-40-9"/><path fill="#001000" d="M5941 4278l40 11l-46-41l-40-10M6020 4328l39 12l-46-44l-39-12"/><path fill="#000000" d="M5179 4038l45-7l-44-11l-45 7M5261 4045l44-5l-45-15l-44 6M4371 4229l50-23l-36 23l-50 24M4450 4189l50-21l-36 19l-50 23M4530 4154l50-20l-37 16l-50 21M4610 4123l50-19l-38 13l-49 20M4691 4097l49-17l-39 9l-48 18M4772 4076l49-16l-40 5l-48 17M4854 4059l47-14l-41 1l-47 16M4935 4047l47-13l-42-1l-47 13M5017 4039l46-10l-43-5l-46 11M5098 4036l45-8l-43-9l-45 10"/><path fill="#080000" d="M5342 4056l43-3l-45-18l-43 4"/><path fill="#080800" d="M5423 4072l43-1l-46-21l-43 2M5504 4093l42 0l-45-24l-43 0M5584 4118l42 3l-46-28l-42-2"/><path fill="#081000" d="M5665 4148l41 5l-46-31l-41-4M5745 4183l41 6l-46-34l-41-6M5825 4222l40 8l-46-37l-40-7M5904 4266l40 10l-46-40l-40-10"/><path fill="#001000" d="M5984 4314l39 12l-47-43l-39-11M6062 4367l39 13l-46-46l-39-13"/><path fill="#000000" d="M5220 4047l44-6l-44-14l-45 7M5138 4043l45-9l-44-10l-45 8"/><path fill="#080800" d="M5301 4057l44-4l-44-18l-44 5"/><path fill="#001800" d="M6105 4409l38 14l-46-49l-39-13"/><path fill="#000000" d="M4328 4252l50-25l-35 24l-51 25M4407 4210l51-23l-37 20l-50 24M4487 4173l51-22l-38 17l-49 22M4568 4141l50-21l-38 13l-50 21M4649 4113l49-19l-39 9l-49 20M4730 4090l49-18l-40 6l-49 18M4812 4071l48-16l-42 2l-47 17M4893 4057l47-14l-42-1l-46 14M4975 4047l46-12l-42-4l-47 13M5057 4043l45-11l-43-7l-46 11"/><path fill="#080800" d="M5383 4071l43-2l-45-21l-43 3M5464 4090l43 0l-46-24l-43 1"/><path fill="#101000" d="M5545 4114l42 1l-45-27l-43-1M5626 4142l42 4l-46-31l-42-2M5707 4175l41 5l-46-33l-42-4"/><path fill="#081000" d="M5787 4213l41 7l-47-37l-40-6"/><path fill="#081800" d="M5867 4255l40 9l-46-40l-41-8M5946 4302l40 11l-46-43l-40-10"/><path fill="#001800" d="M6026 4354l39 12l-47-46l-39-12"/><path fill="#080800" d="M5179 4051l45-7l-44-14l-45 8M5261 4059l44-6l-45-16l-44 6"/><path fill="#000000" d="M4284 4276l51-26l-35 23l-51 28M5097 4048l46-9l-44-10l-46 10"/><path fill="#080800" d="M5343 4071l43-3l-45-20l-44 4"/><path fill="#001800" d="M6068 4395l39 13l-46-49l-39-12"/><path fill="#000000" d="M4364 4233l51-25l-37 20l-50 26M4445 4194l50-24l-37 17l-50 24M4525 4159l50-22l-38 13l-49 23M4607 4129l49-20l-39 9l-49 22M4688 4104l49-19l-41 7l-48 19M4770 4084l48-18l-41 3l-48 18M4851 4068l48-16l-42 0l-47 16M4933 4056l47-13l-43-4l-46 14M5015 4050l46-12l-43-6l-46 12"/><path fill="#101000" d="M5424 4089l44-2l-46-23l-43 2M5506 4111l42 0l-45-26l-43 0M5587 4137l42 3l-46-30l-42-1"/><path fill="#101800" d="M5668 4169l42 4l-47-33l-41-3M5749 4205l41 6l-46-36l-42-5M5829 4246l41 7l-47-39l-40-7"/><path fill="#081800" d="M5909 4291l40 9l-46-42l-40-9M5989 4341l39 11l-46-46l-40-10"/><path fill="#001808" d="M6147 4454l38 14l-46-51l-38-14"/><path fill="#080800" d="M5138 4056l45-9l-44-12l-45 9M5220 4062l45-7l-45-16l-45 8"/><path fill="#100800" d="M5302 4073l44-5l-45-19l-44 5"/><path fill="#002010" d="M6189 4502l39 14l-47-54l-38-14"/><path fill="#000000" d="M4241 4302l51-28l-36 23l-50 30M4321 4257l51-27l-37 20l-50 28"/><path fill="#080000" d="M5056 4055l46-11l-44-9l-46 11"/><path fill="#101000" d="M5384 4089l44-3l-46-23l-44 4"/><path fill="#002000" d="M6031 4382l40 12l-47-48l-39-11"/><path fill="#000000" d="M4401 4216l51-26l-37 17l-50 26M4482 4179l50-24l-38 14l-49 25M4564 4147l49-22l-39 10l-49 23M4645 4120l49-20l-40 7l-48 21M4727 4098l48-19l-41 4l-48 19M4809 4080l48-17l-42 0l-47 18M4891 4067l47-15l-42-3l-47 16M4973 4059l47-13l-43-7l-47 14"/><path fill="#101000" d="M5466 4109l43-1l-46-26l-43 2"/><path fill="#181800" d="M5547 4134l43 1l-46-29l-43 0M5629 4164l42 2l-46-32l-42-2M5710 4198l42 5l-47-36l-41-4"/><path fill="#102000" d="M5791 4237l41 7l-47-39l-41-6M5871 4281l41 8l-47-42l-40-7"/><path fill="#082000" d="M5952 4330l39 9l-46-45l-40-9"/><path fill="#002008" d="M6111 4440l38 13l-46-51l-39-13"/><path fill="#080800" d="M5096 4063l46-11l-44-12l-46 11"/><path fill="#100800" d="M5179 4067l45-8l-45-16l-45 9"/><path fill="#101000" d="M5261 4076l45-6l-45-19l-45 7M5343 4090l45-5l-46-22l-44 5"/><path fill="#002008" d="M6153 4487l39 13l-47-54l-38-12"/><path fill="#000000" d="M4197 4329l51-30l-35 24l-51 31M4277 4282l51-29l-36 21l-51 29M4358 4239l50-27l-37 17l-50 28"/><path fill="#080800" d="M5014 4063l46-12l-44-9l-46 13"/><path fill="#181000" d="M5426 4108l43-2l-45-25l-44 3"/><path fill="#082000" d="M5994 4371l40 10l-47-48l-40-10"/><path fill="#000000" d="M4439 4200l50-25l-38 14l-50 26"/><path fill="#002000" d="M6074 4427l39 11l-46-50l-40-12"/><path fill="#002010" d="M6232 4552l38 15l-46-57l-38-15"/><path fill="#000000" d="M4521 4167l49-24l-39 11l-49 24M4602 4138l49-22l-40 7l-48 23M4684 4113l49-20l-41 4l-48 21M4767 4094l47-19l-41 1l-48 19M4849 4079l47-17l-42-2l-47 17M4931 4069l47-15l-43-5l-47 14"/><path fill="#181800" d="M5508 4132l43-1l-46-28l-43 1"/><path fill="#182000" d="M5589 4160l43 1l-46-31l-43-1M5671 4193l42 3l-46-35l-42-3M5752 4230l42 5l-47-38l-41-4"/><path fill="#102000" d="M5833 4272l41 7l-46-41l-41-6M5914 4319l40 9l-46-45l-41-8"/><path fill="#080800" d="M5055 4070l46-11l-45-12l-46 12"/><path fill="#100800" d="M5137 4073l46-10l-45-15l-45 10"/><path fill="#101000" d="M5220 4080l45-8l-45-18l-45 8"/><path fill="#181000" d="M5303 4092l44-6l-45-21l-45 6"/><path fill="#181800" d="M5385 4109l44-4l-46-24l-44 4"/><path fill="#002808" d="M6117 4473l39 12l-47-53l-39-12"/><path fill="#002818" d="M6275 4604l38 16l-47-60l-38-15"/><path fill="#000000" d="M4153 4357l51-31l-35 24l-51 33M4234 4308l50-30l-36 21l-50 31M4315 4263l50-28l-37 17l-50 30M4396 4223l50-27l-38 15l-50 27"/><path fill="#080800" d="M4972 4073l46-14l-43-8l-47 14"/><path fill="#201800" d="M5468 4131l43-2l-46-28l-44 2"/><path fill="#082800" d="M5957 4360l40 9l-47-47l-40-9"/><path fill="#000000" d="M4477 4187l50-25l-39 11l-50 26"/><path fill="#002800" d="M6037 4414l39 11l-46-50l-40-11"/><path fill="#002810" d="M6196 4537l38 13l-46-56l-39-14"/><path fill="#000000" d="M4559 4156l49-23l-40 8l-49 24M4641 4130l49-21l-41 4l-48 22M4724 4109l48-20l-42 1l-48 21M4806 4092l48-18l-42-2l-48 19"/><path fill="#080000" d="M4889 4080l47-16l-43-5l-47 16"/><path fill="#202000" d="M5550 4157l43 0l-46-31l-44 0M5632 4188l42 2l-46-34l-43-2"/><path fill="#182000" d="M5713 4224l42 4l-46-38l-42-3"/><path fill="#182800" d="M5795 4265l41 5l-46-40l-42-6"/><path fill="#102800" d="M5876 4310l41 7l-47-44l-41-7"/><path fill="#100800" d="M5012 4079l47-13l-44-11l-47 14M5095 4080l46-11l-44-14l-46 11"/><path fill="#181000" d="M5179 4085l45-9l-45-17l-46 9M5261 4096l45-7l-45-21l-45 7"/><path fill="#201800" d="M5344 4111l45-5l-46-24l-44 5M5427 4131l44-3l-46-28l-44 4"/><path fill="#002800" d="M6080 4461l39 11l-47-53l-39-11"/><path fill="#002818" d="M6239 4589l38 14l-46-59l-39-14"/><path fill="#000000" d="M4109 4387l51-33l-35 24l-51 34M4190 4336l51-32l-37 21l-50 33M4271 4289l50-30l-37 18l-50 31M4352 4247l50-29l-38 15l-50 30M4434 4209l49-26l-39 11l-49 28"/><path fill="#080800" d="M4929 4083l47-15l-43-7l-47 15"/><path fill="#202000" d="M5510 4155l43-1l-46-30l-44 1"/><path fill="#000000" d="M4516 4176l49-24l-40 8l-49 26"/><path fill="#102800" d="M5919 4350l40 8l-46-47l-41-7"/><path fill="#082800" d="M5999 4403l40 10l-46-50l-40-9"/><path fill="#002810" d="M6160 4522l38 13l-46-56l-39-12"/><path fill="#002820" d="M6318 4660l37 15l-46-62l-38-15"/><path fill="#000000" d="M4598 4148l49-23l-41 6l-48 23M4681 4125l48-21l-41 2l-49 22M4763 4106l48-19l-42-1l-48 20"/><path fill="#080800" d="M4846 4092l48-17l-43-4l-48 18"/><path fill="#282800" d="M5592 4185l43 1l-46-34l-43 0"/><path fill="#202800" d="M5674 4219l43 3l-47-37l-42-2M5756 4258l42 5l-47-41l-42-4"/><path fill="#182800" d="M5838 4302l41 6l-47-44l-41-5"/><path fill="#100800" d="M4970 4089l47-14l-44-10l-47 15"/><path fill="#181000" d="M5053 4088l47-12l-45-14l-46 13M5137 4092l46-11l-45-16l-46 10"/><path fill="#201800" d="M5220 4100l45-8l-45-20l-45 9M5303 4114l45-7l-46-23l-45 7"/><path fill="#282000" d="M5386 4132l45-4l-46-27l-45 5M5469 4155l44-2l-46-30l-44 2"/><path fill="#003018" d="M6203 4574l38 13l-46-58l-39-13"/><path fill="#002830" d="M6361 4717l37 16l-46-64l-38-16"/><path fill="#000000" d="M4065 4418l51-35l-35 25l-51 36M4146 4365l50-34l-36 22l-50 34M4227 4316l50-32l-37 19l-50 33M4308 4272l50-30l-38 16l-50 30M4390 4233l50-29l-39 13l-50 29M4472 4198l50-27l-40 10l-50 27"/><path fill="#080800" d="M4887 4095l47-16l-44-7l-47 17"/><path fill="#282800" d="M5552 4183l43-1l-46-33l-43 1"/><path fill="#083000" d="M5962 4393l40 8l-47-49l-40-8"/><path fill="#003000" d="M6042 4449l40 10l-47-53l-40-9"/><path fill="#000000" d="M4555 4168l49-25l-41 6l-49 25"/><path fill="#103000" d="M5880 4342l41 6l-46-46l-42-6"/><path fill="#003008" d="M6123 4509l39 12l-47-56l-39-11"/><path fill="#003020" d="M6282 4644l38 14l-47-62l-38-14"/><path fill="#000000" d="M4637 4142l49-22l-41 3l-49 23M4720 4122l48-21l-42 0l-48 21"/><path fill="#080800" d="M4803 4106l48-18l-43-4l-47 19"/><path fill="#282800" d="M5635 4215l42 2l-46-37l-43-1"/><path fill="#203000" d="M5717 4253l42 3l-47-40l-42-2"/><path fill="#183000" d="M5799 4295l41 5l-46-43l-42-5"/><path fill="#000000" d="M4020 4451l52-37l-36 25l-51 38"/><path fill="#100800" d="M4927 4101l47-16l-44-10l-47 17"/><path fill="#181000" d="M5011 4098l47-14l-45-13l-47 14"/><path fill="#201000" d="M5095 4100l46-12l-45-16l-46 12"/><path fill="#201800" d="M5178 4106l46-9l-45-20l-46 10"/><path fill="#281800" d="M5262 4118l45-8l-46-22l-45 8"/><path fill="#282000" d="M5345 4135l45-6l-46-26l-45 6"/><path fill="#282800" d="M5429 4156l44-4l-46-29l-45 4"/><path fill="#302800" d="M5512 4182l43-2l-46-33l-44 3"/><path fill="#002830" d="M6404 4778l37 16l-47-67l-37-16"/><path fill="#003028" d="M6325 4701l38 15l-47-64l-38-15"/><path fill="#000000" d="M4101 4395l51-35l-36 23l-51 35M4182 4345l51-34l-37 20l-51 34M4264 4299l50-32l-38 16l-50 32M4346 4257l50-29l-39 12l-50 31M4428 4221l50-28l-40 10l-49 28M4511 4189l49-26l-41 6l-49 27"/><path fill="#100800" d="M4844 4109l47-18l-43-7l-48 19"/><path fill="#303000" d="M5595 4213l43 0l-47-36l-43 0"/><path fill="#103000" d="M5923 4384l41 7l-47-49l-41-6"/><path fill="#083000" d="M6005 4439l40 8l-47-52l-40-8"/><path fill="#003008" d="M6086 4497l39 11l-47-55l-39-10"/><path fill="#003010" d="M6166 4561l39 12l-47-58l-39-12"/><path fill="#000000" d="M4594 4161l49-23l-42 3l-49 24"/><path fill="#183000" d="M5842 4334l41 6l-47-46l-41-5"/><path fill="#003020" d="M6246 4629l38 13l-47-61l-38-13"/><path fill="#080000" d="M4677 4139l48-22l-42 0l-48 23"/><path fill="#080800" d="M4760 4121l48-19l-43-4l-47 21"/><path fill="#283000" d="M5677 4249l43 2l-47-40l-42-1"/><path fill="#203000" d="M5760 4289l42 4l-47-43l-42-3"/><path fill="#000000" d="M3976 4484l51-38l-35 26l-51 39M4056 4427l51-37l-36 23l-51 38"/><path fill="#181000" d="M4884 4114l48-17l-44-10l-48 18M4968 4109l47-15l-44-13l-47 16"/><path fill="#201000" d="M5052 4109l47-13l-45-16l-47 14"/><path fill="#281800" d="M5136 4114l46-11l-45-19l-46 11M5220 4124l46-9l-46-23l-46 10"/><path fill="#282000" d="M5304 4138l45-7l-46-25l-45 7"/><path fill="#302800" d="M5388 4158l44-5l-46-29l-45 6M5471 4182l44-3l-46-32l-44 4"/><path fill="#303000" d="M5554 4212l44-2l-47-35l-43 2"/><path fill="#003030" d="M6368 4761l38 16l-47-68l-38-15"/><path fill="#002030" d="M6447 4841l37 16l-47-70l-37-16"/><path fill="#003828" d="M6289 4686l38 14l-47-64l-38-14"/><path fill="#000000" d="M4138 4375l50-35l-37 19l-50 36M4219 4327l51-33l-38 16l-50 34M4301 4283l51-31l-39 14l-50 31M4384 4245l50-30l-40 11l-50 30M4467 4211l49-27l-40 7l-50 28M4550 4182l49-26l-41 4l-49 26"/><path fill="#100800" d="M4800 4123l48-19l-43-6l-48 20"/><path fill="#303800" d="M5638 4246l43 0l-47-38l-43-1"/><path fill="#183800" d="M5885 4376l41 6l-47-48l-41-6"/><path fill="#083800" d="M5967 4429l40 8l-47-52l-40-7"/><path fill="#003800" d="M6048 4487l40 9l-47-55l-40-9"/><path fill="#003810" d="M6129 4549l39 10l-47-57l-39-11"/><path fill="#003818" d="M6209 4615l39 13l-47-62l-39-12"/><path fill="#080800" d="M4633 4157l49-23l-42 1l-49 24"/><path fill="#203800" d="M5803 4328l42 4l-47-45l-42-4"/><path fill="#080800" d="M4717 4138l48-21l-43-3l-48 22"/><path fill="#283800" d="M5720 4285l43 2l-47-42l-43-2"/><path fill="#000000" d="M3931 4519l51-40l-35 27l-51 40M4011 4460l52-38l-36 23l-51 39M4093 4406l51-37l-37 21l-51 37"/><path fill="#181000" d="M4841 4128l48-19l-44-8l-48 19"/><path fill="#201000" d="M4925 4121l48-16l-45-12l-47 17"/><path fill="#201800" d="M5009 4119l47-14l-44-15l-47 15"/><path fill="#281800" d="M5094 4123l46-13l-45-18l-47 13"/><path fill="#282000" d="M5178 4131l46-11l-46-22l-46 11"/><path fill="#302000" d="M5262 4144l46-9l-46-25l-46 9"/><path fill="#302800" d="M5346 4161l45-6l-46-28l-45 6"/><path fill="#383000" d="M5430 4184l45-4l-47-32l-45 5"/><path fill="#383800" d="M5514 4212l44-3l-47-35l-44 3M5597 4244l44-1l-47-38l-44 1"/><path fill="#003838" d="M6332 4746l38 14l-46-67l-39-14"/><path fill="#002838" d="M6411 4824l38 16l-47-70l-37-16"/><path fill="#001838" d="M6490 4906l37 17l-47-72l-37-17"/><path fill="#003828" d="M6252 4672l39 13l-47-64l-39-12"/><path fill="#000000" d="M4175 4356l50-35l-38 18l-50 35M4257 4311l50-33l-39 14l-50 33M4339 4270l50-30l-39 10l-50 32M4422 4235l50-29l-40 7l-50 30M4506 4204l49-27l-41 4l-49 28"/><path fill="#080800" d="M4589 4177l49-24l-42 1l-49 25"/><path fill="#101000" d="M4757 4140l48-21l-43-5l-48 21"/><path fill="#303800" d="M5681 4281l42 1l-46-41l-44-1"/><path fill="#183800" d="M5846 4370l42 4l-47-48l-42-4"/><path fill="#103800" d="M5928 4421l41 6l-47-51l-41-6"/><path fill="#003800" d="M6010 4477l41 8l-47-54l-41-8"/><path fill="#003808" d="M6091 4537l40 10l-47-57l-40-10"/><path fill="#003818" d="M6172 4602l40 12l-47-61l-40-11"/><path fill="#100800" d="M4673 4156l49-23l-43-2l-49 24"/><path fill="#283800" d="M5763 4323l43 3l-47-45l-43-2"/><path fill="#000000" d="M3886 4556l51-42l-35 27l-51 42M3966 4495l52-40l-36 24l-51 40M4048 4439l51-38l-37 20l-51 39M4130 4387l50-36l-37 17l-51 37"/><path fill="#181000" d="M4797 4143l49-20l-44-7l-48 20"/><path fill="#201800" d="M4882 4135l48-18l-45-11l-47 18"/><path fill="#281800" d="M4966 4131l48-16l-45-14l-47 16M5051 4133l47-14l-45-18l-47 14"/><path fill="#302000" d="M5135 4139l47-12l-46-21l-46 12M5220 4150l46-10l-46-24l-46 10"/><path fill="#382800" d="M5304 4166l46-8l-46-28l-46 9"/><path fill="#383000" d="M5389 4187l45-6l-47-31l-45 6"/><path fill="#383800" d="M5473 4213l44-4l-46-35l-45 5"/><path fill="#384000" d="M5557 4243l44-2l-47-37l-44 2M5640 4279l44 0l-47-41l-44 0"/><path fill="#003830" d="M6296 4731l38 14l-46-67l-39-13"/><path fill="#003038" d="M6376 4808l38 15l-47-70l-38-14"/><path fill="#002038" d="M6455 4889l37 16l-47-72l-37-16"/><path fill="#000838" d="M6533 4975l37 17l-47-75l-37-18"/><path fill="#181000" d="M4713 4157l49-22l-44-5l-48 23"/><path fill="#304000" d="M5724 4319l43 2l-48-44l-42-2"/><path fill="#004020" d="M6216 4659l39 12l-47-64l-39-11"/><path fill="#000000" d="M4212 4340l50-34l-38 14l-51 35M4295 4297l50-32l-40 11l-50 33M4378 4260l50-31l-41 9l-49 30"/><path fill="#080800" d="M4461 4227l50-29l-41 5l-50 29M4545 4199l49-27l-42 2l-49 27"/><path fill="#100800" d="M4629 4175l49-24l-43-1l-49 25"/><path fill="#204000" d="M5807 4364l42 4l-47-48l-42-3"/><path fill="#184000" d="M5890 4414l41 5l-47-51l-42-4"/><path fill="#084000" d="M5972 4468l41 7l-47-54l-42-6"/><path fill="#004008" d="M6054 4527l40 9l-47-57l-41-8"/><path fill="#004010" d="M6135 4591l40 10l-47-60l-40-10"/><path fill="#201000" d="M4753 4160l49-21l-44-7l-48 22"/><path fill="#304000" d="M5684 4317l43 0l-47-44l-44 0"/><path fill="#000000" d="M3840 4594l52-43l-35 27l-52 44M3921 4531l51-41l-36 24l-51 42M4002 4473l52-40l-37 21l-51 40M4084 4419l51-38l-37 19l-51 38M4167 4370l50-36l-38 15l-51 37"/><path fill="#181000" d="M4669 4176l49-24l-43-4l-49 24"/><path fill="#201800" d="M4838 4150l48-19l-44-11l-48 20"/><path fill="#281800" d="M4923 4144l48-17l-45-14l-48 18"/><path fill="#301800" d="M5008 4144l47-15l-45-18l-47 16"/><path fill="#302000" d="M5093 4148l47-13l-46-20l-47 13"/><path fill="#382000" d="M5178 4158l46-12l-46-23l-46 11"/><path fill="#382800" d="M5262 4172l46-9l-46-27l-46 9"/><path fill="#403000" d="M5347 4191l45-7l-46-31l-46 8"/><path fill="#403800" d="M5432 4215l44-5l-46-34l-45 6"/><path fill="#404000" d="M5516 4244l44-3l-47-37l-44 3"/><path fill="#384000" d="M5600 4278l44-1l-47-41l-44 2"/><path fill="#284000" d="M5767 4360l43 2l-47-47l-43-2"/><path fill="#004030" d="M6259 4718l39 12l-47-66l-39-12"/><path fill="#004040" d="M6340 4793l38 14l-47-69l-39-13"/><path fill="#002840" d="M6419 4873l38 15l-47-72l-38-15"/><path fill="#001838" d="M6498 4957l37 17l-46-76l-38-16"/><path fill="#000038" d="M6576 5045l37 18l-47-78l-36-17"/><path fill="#004020" d="M6179 4647l39 11l-47-63l-40-11"/><path fill="#000000" d="M4250 4326l50-34l-39 12l-51 34M4333 4286l50-32l-40 9l-50 32"/><path fill="#080800" d="M4416 4251l50-30l-41 6l-49 30M4500 4221l50-28l-42 3l-49 28"/><path fill="#101000" d="M4585 4196l49-26l-43 0l-49 26"/><path fill="#204000" d="M5850 4408l42 4l-47-50l-42-4"/><path fill="#104000" d="M5933 4461l42 6l-48-54l-41-5"/><path fill="#004000" d="M6015 4518l41 8l-47-57l-41-7"/><path fill="#004010" d="M6097 4581l40 8l-47-59l-40-9"/><path fill="#201800" d="M4709 4179l49-23l-43-7l-49 24"/><path fill="#304800" d="M5727 4357l43 1l-47-47l-43 0"/><path fill="#281800" d="M4794 4166l49-20l-44-10l-49 21"/><path fill="#384800" d="M5643 4315l44-1l-47-43l-44 1"/><path fill="#000000" d="M3875 4569l52-43l-36 24l-51 44M3957 4508l51-41l-36 22l-52 42M4039 4453l51-39l-38 18l-50 40M4121 4402l51-37l-38 15l-51 38M4204 4355l51-35l-39 13l-51 35"/><path fill="#181000" d="M4624 4196l50-25l-43-3l-49 25"/><path fill="#281800" d="M4879 4159l48-19l-44-13l-48 19"/><path fill="#302000" d="M4965 4157l47-17l-45-17l-48 18"/><path fill="#382000" d="M5050 4159l47-14l-46-20l-47 15"/><path fill="#382800" d="M5135 4167l47-13l-46-23l-47 13"/><path fill="#402800" d="M5220 4179l46-10l-46-27l-46 11"/><path fill="#403000" d="M5305 4197l46-9l-47-30l-46 9"/><path fill="#403800" d="M5390 4219l45-7l-47-33l-45 7"/><path fill="#404000" d="M5475 4246l44-5l-47-36l-44 5"/><path fill="#404800" d="M5559 4278l44-2l-47-41l-44 4"/><path fill="#204800" d="M5811 4404l42 2l-47-50l-43-2"/><path fill="#004028" d="M6222 4706l40 11l-47-66l-40-11"/><path fill="#004040" d="M6303 4780l39 12l-47-69l-39-12"/><path fill="#003040" d="M6383 4858l38 14l-47-72l-38-13"/><path fill="#002040" d="M6463 4941l37 15l-47-75l-37-15"/><path fill="#000840" d="M6541 5028l37 16l-46-77l-37-17"/><path fill="#004818" d="M6141 4636l40 10l-47-63l-40-9"/><path fill="#000000" d="M4288 4314l50-33l-40 9l-50 34"/><path fill="#080800" d="M4371 4277l51-31l-41 6l-50 32"/><path fill="#100800" d="M4456 4245l49-29l-41 3l-50 30"/><path fill="#101000" d="M4540 4218l49-27l-42 0l-49 28"/><path fill="#184800" d="M5894 4455l42 4l-47-53l-42-4"/><path fill="#084800" d="M5977 4511l41 6l-47-57l-42-5"/><path fill="#004808" d="M6059 4571l41 8l-47-60l-41-7"/><path fill="#201800" d="M4665 4198l49-24l-44-6l-49 25"/><path fill="#281800" d="M4750 4184l49-22l-44-9l-49 22"/><path fill="#384800" d="M5687 4355l43 0l-47-46l-44 0"/><path fill="#284800" d="M5771 4400l43 1l-48-49l-43-1"/><path fill="#302000" d="M4835 4175l49-20l-45-13l-48 21"/><path fill="#404800" d="M5603 4315l44-2l-48-43l-44 3"/><path fill="#000000" d="M3911 4545l52-42l-37 22l-51 43M3993 4488l51-41l-37 19l-51 41M4076 4435l51-39l-38 16l-51 40M4159 4387l51-37l-39 13l-51 37"/><path fill="#000800" d="M4242 4343l51-35l-40 10l-50 36"/><path fill="#181800" d="M4580 4218l49-27l-43-3l-49 27"/><path fill="#302000" d="M4921 4171l48-18l-45-16l-48 18"/><path fill="#382000" d="M5006 4171l48-16l-46-19l-47 17"/><path fill="#402800" d="M5092 4177l47-14l-46-23l-47 15M5177 4188l47-12l-46-26l-47 12"/><path fill="#403000" d="M5263 4203l46-10l-47-29l-46 10"/><path fill="#483800" d="M5348 4224l46-8l-47-33l-46 9"/><path fill="#484000" d="M5433 4249l45-6l-47-36l-45 7"/><path fill="#484800" d="M5518 4280l45-4l-48-40l-44 5"/><path fill="#204800" d="M5855 4450l42 3l-47-53l-43-3"/><path fill="#004828" d="M6185 4695l40 10l-48-66l-40-9"/><path fill="#004838" d="M6266 4767l39 12l-47-69l-39-11"/><path fill="#004048" d="M6347 4844l38 13l-47-71l-38-13"/><path fill="#002840" d="M6427 4926l38 14l-47-75l-38-14"/><path fill="#001040" d="M6506 5011l37 16l-46-78l-38-15"/><path fill="#004818" d="M6103 4627l41 8l-48-62l-40-8"/><path fill="#080800" d="M4326 4305l51-33l-41 7l-50 33"/><path fill="#101000" d="M4410 4271l50-31l-41 4l-50 31"/><path fill="#181000" d="M4495 4242l50-29l-42 1l-50 29"/><path fill="#104800" d="M5938 4504l42 5l-48-56l-42-4"/><path fill="#004800" d="M6021 4563l41 7l-48-59l-41-7"/><path fill="#281800" d="M4620 4220l49-26l-43-6l-49 27"/><path fill="#282000" d="M4706 4203l49-23l-44-9l-49 24"/><path fill="#302000" d="M4791 4192l49-21l-45-13l-48 23"/><path fill="#405000" d="M5646 4355l44-2l-47-46l-44 2"/><path fill="#305000" d="M5731 4398l43 0l-47-49l-44 0"/><path fill="#205000" d="M5815 4446l43 2l-48-52l-43-2"/><path fill="#382000" d="M4877 4186l48-19l-45-16l-48 20"/><path fill="#485000" d="M5561 4316l45-3l-47-43l-45 4"/><path fill="#000000" d="M3947 4524l52-42l-38 20l-51 42M4030 4470l51-41l-38 17l-51 41M4113 4419l51-38l-39 14l-51 38"/><path fill="#000800" d="M4197 4374l50-36l-39 10l-51 37"/><path fill="#080800" d="M4281 4333l50-34l-40 7l-51 35"/><path fill="#201800" d="M4535 4241l50-28l-43-3l-50 29"/><path fill="#382800" d="M4963 4185l48-18l-46-18l-48 18"/><path fill="#402800" d="M5048 4189l48-16l-46-22l-47 16"/><path fill="#403000" d="M5134 4198l47-14l-46-25l-47 14"/><path fill="#483000" d="M5220 4211l47-11l-47-29l-47 12"/><path fill="#483800" d="M5306 4230l46-9l-47-32l-46 9"/><path fill="#484000" d="M5391 4254l46-7l-47-36l-46 8"/><path fill="#504800" d="M5476 4283l45-6l-47-39l-45 6"/><path fill="#105000" d="M5899 4499l42 3l-48-55l-42-3"/><path fill="#004820" d="M6147 4685l40 8l-47-65l-41-8"/><path fill="#004838" d="M6229 4756l40 10l-48-68l-40-10"/><path fill="#004848" d="M6310 4832l39 11l-47-71l-39-11"/><path fill="#003048" d="M6391 4911l38 14l-47-75l-39-12"/><path fill="#001848" d="M6471 4996l37 14l-47-77l-37-14"/><path fill="#005010" d="M6065 4618l41 7l-48-62l-41-6"/><path fill="#101000" d="M4365 4298l50-33l-41 5l-50 32"/><path fill="#181800" d="M4450 4267l50-30l-42 1l-50 30"/><path fill="#005000" d="M5982 4556l42 5l-48-58l-42-5"/><path fill="#282000" d="M4575 4242l50-27l-44-5l-49 28"/><path fill="#302000" d="M4661 4224l49-25l-44-8l-49 25M4747 4211l49-23l-45-12l-49 24"/><path fill="#382800" d="M4833 4203l48-21l-45-15l-48 22"/><path fill="#405000" d="M5605 4355l45-3l-48-45l-44 4"/><path fill="#385000" d="M5690 4397l44-1l-48-49l-44 2"/><path fill="#285000" d="M5775 4443l43 1l-48-52l-43 0"/><path fill="#185000" d="M5859 4494l43 3l-48-55l-43-2"/><path fill="#402800" d="M4919 4200l48-19l-46-18l-48 19"/><path fill="#505000" d="M5520 4319l45-5l-48-42l-45 5"/><path fill="#000000" d="M3984 4506l51-42l-38 17l-51 42M4067 4453l51-39l-39 14l-50 40"/><path fill="#000800" d="M4151 4406l51-38l-40 11l-51 39"/><path fill="#080800" d="M4235 4364l51-36l-41 8l-50 36"/><path fill="#101000" d="M4320 4326l50-34l-41 5l-51 34"/><path fill="#201800" d="M4490 4265l50-29l-43-2l-50 30"/><path fill="#402800" d="M5005 4202l48-17l-46-22l-48 18"/><path fill="#483000" d="M5091 4209l47-15l-46-25l-47 15M5177 4221l47-13l-47-28l-47 13"/><path fill="#483800" d="M5263 4238l46-11l-46-32l-47 12"/><path fill="#504000" d="M5349 4260l46-9l-47-35l-46 9"/><path fill="#504800" d="M5435 4287l45-7l-47-39l-46 8"/><path fill="#085000" d="M5943 4550l42 4l-48-58l-42-4"/><path fill="#005020" d="M6109 4676l41 7l-48-64l-41-7"/><path fill="#005030" d="M6191 4746l40 9l-47-68l-40-9"/><path fill="#005048" d="M6273 4820l39 10l-47-71l-40-10"/><path fill="#004048" d="M6354 4898l39 12l-47-74l-39-11"/><path fill="#002048" d="M6435 4981l38 14l-47-77l-39-13"/><path fill="#005008" d="M6026 4611l42 6l-48-62l-42-5"/><path fill="#181800" d="M4404 4293l51-32l-42 2l-50 32"/><path fill="#282000" d="M4530 4266l50-29l-43-4l-50 29"/><path fill="#302000" d="M4616 4246l49-27l-43-7l-50 27"/><path fill="#382800" d="M4702 4231l49-24l-44-11l-50 25M4788 4221l49-22l-45-15l-49 23"/><path fill="#402800" d="M4874 4216l49-20l-45-18l-49 21"/><path fill="#485800" d="M5564 4357l45-4l-48-45l-45 5"/><path fill="#405800" d="M5649 4397l44-2l-47-48l-45 3"/><path fill="#305800" d="M5734 4442l44-1l-48-51l-44 1"/><path fill="#205800" d="M5819 4491l43 2l-48-55l-43-1"/><path fill="#105800" d="M5903 4546l43 3l-48-58l-43-3"/><path fill="#482800" d="M4961 4216l48-18l-46-21l-48 19"/><path fill="#505000" d="M5478 4322l46-6l-48-41l-45 6"/><path fill="#005000" d="M5987 4605l42 4l-48-61l-42-4"/><path fill="#000000" d="M4021 4489l51-41l-38 14l-52 42"/><path fill="#000800" d="M4105 4440l51-39l-40 11l-51 40"/><path fill="#081000" d="M4189 4395l51-37l-40 9l-51 37"/><path fill="#101000" d="M4274 4356l50-36l-41 6l-50 35"/><path fill="#181800" d="M4359 4321l50-33l-42 2l-50 34"/><path fill="#202000" d="M4444 4291l50-31l-42-1l-50 31"/><path fill="#483000" d="M5047 4222l48-17l-46-24l-48 17"/><path fill="#503800" d="M5134 4232l47-15l-47-27l-47 14M5220 4247l47-12l-47-32l-47 13"/><path fill="#504000" d="M5306 4267l47-10l-48-35l-46 11"/><path fill="#504800" d="M5392 4292l46-8l-47-38l-46 9"/><path fill="#005018" d="M6070 4668l42 7l-48-65l-41-6"/><path fill="#005028" d="M6153 4737l41 7l-48-67l-41-8"/><path fill="#005040" d="M6235 4809l40 10l-47-71l-40-9"/><path fill="#004850" d="M6317 4886l39 11l-47-73l-39-11"/><path fill="#003050" d="M6398 4968l39 12l-47-76l-39-12"/><path fill="#005800" d="M5948 4600l42 3l-48-61l-42-3"/><path fill="#202000" d="M4398 4318l51-32l-43-1l-50 33"/><path fill="#282800" d="M4484 4292l50-31l-43-4l-50 31"/><path fill="#302800" d="M4570 4270l50-29l-43-7l-50 29"/><path fill="#382800" d="M4657 4253l49-26l-44-11l-50 27"/><path fill="#402800" d="M4743 4241l49-24l-44-14l-50 25M4830 4234l49-22l-46-17l-49 23"/><path fill="#483000" d="M4916 4232l49-20l-46-20l-48 20"/><path fill="#505800" d="M5522 4361l45-6l-47-44l-46 6"/><path fill="#405800" d="M5608 4399l45-4l-48-48l-45 5"/><path fill="#385800" d="M5693 4442l44-2l-47-51l-45 2"/><path fill="#285800" d="M5779 4490l43-1l-48-54l-43 1"/><path fill="#185800" d="M5863 4542l43 2l-48-58l-43-1"/><path fill="#005810" d="M6031 4662l42 5l-48-64l-42-5"/><path fill="#483000" d="M5003 4236l48-18l-46-24l-48 18"/><path fill="#585800" d="M5436 4327l46-7l-48-41l-46 8"/><path fill="#000800" d="M4058 4475l52-41l-40 12l-51 42"/><path fill="#081000" d="M4143 4429l51-39l-40 9l-51 39"/><path fill="#101800" d="M4228 4387l51-37l-41 6l-51 37"/><path fill="#181800" d="M4313 4350l51-34l-42 2l-51 35"/><path fill="#503800" d="M5090 4244l48-16l-47-27l-48 16M5177 4257l47-13l-47-31l-47 14"/><path fill="#504000" d="M5263 4276l47-12l-47-34l-47 12"/><path fill="#584800" d="M5350 4299l46-10l-47-37l-47 10"/><path fill="#005828" d="M6115 4729l41 6l-48-67l-41-6"/><path fill="#005038" d="M6198 4800l40 8l-48-70l-40-8"/><path fill="#005050" d="M6280 4876l40 9l-48-73l-40-9"/><path fill="#003850" d="M6361 4956l39 11l-47-77l-39-10"/><path fill="#302800" d="M4438 4318l51-32l-43-3l-50 33"/><path fill="#005808" d="M5992 4657l42 3l-48-63l-42-4"/><path fill="#085800" d="M5908 4596l43 2l-49-60l-42-2"/><path fill="#282800" d="M4352 4347l51-34l-42 0l-51 35"/><path fill="#382800" d="M4525 4295l50-30l-44-7l-50 31"/><path fill="#383000" d="M4611 4276l50-28l-44-10l-50 29"/><path fill="#403000" d="M4698 4262l50-26l-45-13l-50 26"/><path fill="#483000" d="M4785 4253l49-23l-45-17l-49 24M4872 4250l49-22l-46-20l-49 22"/><path fill="#503000" d="M4959 4251l48-19l-46-24l-48 20"/><path fill="#585800" d="M5480 4365l46-7l-48-44l-46 8"/><path fill="#485800" d="M5566 4402l45-6l-48-47l-45 6"/><path fill="#405800" d="M5652 4443l45-3l-48-51l-45 4"/><path fill="#305800" d="M5738 4489l44-1l-48-54l-44 2"/><path fill="#205800" d="M5823 4540l43 0l-48-57l-43 1"/><path fill="#005820" d="M6076 4722l41 5l-47-67l-42-5"/><path fill="#503800" d="M5046 4257l48-17l-46-26l-49 17"/><path fill="#585800" d="M5394 4334l46-9l-48-41l-46 10"/><path fill="#081000" d="M4096 4463l52-40l-40 9l-51 41"/><path fill="#101800" d="M4181 4420l51-39l-40 7l-51 39"/><path fill="#182000" d="M4267 4381l51-36l-42 3l-51 37"/><path fill="#584000" d="M5133 4269l48-15l-47-30l-48 15M5220 4285l47-13l-47-33l-47 13"/><path fill="#584800" d="M5307 4307l47-11l-48-37l-47 12"/><path fill="#005838" d="M6159 4791l41 7l-48-69l-41-7"/><path fill="#005850" d="M6242 4866l40 8l-47-73l-41-8"/><path fill="#004858" d="M6324 4944l40 10l-48-76l-40-9"/><path fill="#303000" d="M4392 4347l51-34l-43-2l-50 34"/><path fill="#383000" d="M4479 4321l50-31l-43-6l-51 32"/><path fill="#006008" d="M5953 4652l42 3l-48-63l-43-2"/><path fill="#005818" d="M6037 4716l42 4l-48-66l-42-4"/><path fill="#106000" d="M5868 4594l43 0l-48-60l-44 0"/><path fill="#282800" d="M4306 4377l51-35l-42 0l-51 37"/><path fill="#403000" d="M4566 4300l50-29l-44-9l-51 30M4652 4285l50-28l-44-12l-50 27"/><path fill="#483000" d="M4740 4274l49-25l-45-16l-50 25"/><path fill="#503000" d="M4827 4268l49-23l-46-19l-49 23"/><path fill="#503800" d="M4914 4268l49-21l-46-23l-49 22"/><path fill="#583800" d="M5002 4272l48-18l-46-26l-49 19"/><path fill="#586000" d="M5438 4371l46-9l-48-43l-46 9"/><path fill="#506000" d="M5524 4406l46-7l-48-46l-46 7"/><path fill="#406000" d="M5611 4445l45-4l-49-50l-45 5"/><path fill="#306000" d="M5697 4490l44-3l-48-53l-45 3"/><path fill="#206000" d="M5782 4539l44-1l-48-56l-44 1"/><path fill="#005830" d="M6121 4784l41 6l-48-69l-41-6"/><path fill="#584000" d="M5089 4282l48-17l-47-29l-48 17"/><path fill="#605800" d="M5351 4341l46-10l-47-40l-47 11"/><path fill="#101800" d="M4135 4454l51-40l-41 7l-51 40"/><path fill="#182000" d="M4220 4413l51-38l-41 4l-51 38"/><path fill="#584800" d="M5176 4297l48-15l-47-33l-48 15"/><path fill="#585000" d="M5264 4316l47-12l-48-36l-47 13"/><path fill="#005848" d="M6204 4857l41 7l-48-72l-41-7"/><path fill="#005058" d="M6287 4934l40 9l-48-75l-40-9"/><path fill="#303000" d="M4346 4377l51-35l-43-3l-51 36"/><path fill="#383000" d="M4433 4349l50-33l-43-5l-51 33"/><path fill="#403800" d="M4520 4326l50-31l-44-8l-50 31"/><path fill="#186000" d="M5827 4592l44 0l-49-60l-43 1"/><path fill="#006000" d="M5912 4650l43 1l-48-63l-43-1"/><path fill="#006010" d="M5997 4712l43 3l-49-66l-42-3"/><path fill="#006028" d="M6082 4778l41 5l-48-69l-42-4"/><path fill="#202800" d="M4259 4409l52-37l-42 1l-51 38"/><path fill="#483800" d="M4607 4309l50-29l-45-12l-50 29M4694 4296l50-27l-45-15l-50 27"/><path fill="#503800" d="M4782 4288l49-24l-45-19l-50 25M4869 4286l50-22l-47-22l-49 22"/><path fill="#584000" d="M4957 4289l49-20l-47-26l-48 21M5045 4296l48-18l-47-29l-48 19"/><path fill="#606000" d="M5395 4378l46-10l-48-42l-46 10"/><path fill="#586000" d="M5482 4411l46-8l-48-46l-46 8"/><path fill="#486000" d="M5569 4449l45-6l-48-49l-46 6"/><path fill="#386000" d="M5655 4492l45-4l-48-53l-45 5"/><path fill="#286000" d="M5741 4540l45-3l-49-56l-44 3"/><path fill="#006040" d="M6165 4850l42 6l-49-72l-41-6"/><path fill="#182000" d="M4173 4447l52-39l-41 4l-52 40"/><path fill="#604800" d="M5132 4309l48-16l-47-32l-48 16"/><path fill="#605000" d="M5220 4327l47-14l-47-36l-47 15"/><path fill="#605800" d="M5307 4350l47-12l-47-39l-47 12"/><path fill="#005858" d="M6249 4926l40 7l-48-75l-40-8"/><path fill="#303000" d="M4299 4408l51-37l-42-1l-51 37"/><path fill="#383800" d="M4386 4378l51-34l-43-5l-51 35"/><path fill="#403800" d="M4473 4354l51-33l-44-8l-51 33"/><path fill="#483800" d="M4561 4334l50-30l-44-12l-51 31"/><path fill="#206000" d="M5786 4592l44-2l-48-59l-44 3"/><path fill="#086000" d="M5872 4648l43 0l-48-62l-44 0"/><path fill="#006010" d="M5957 4709l43 1l-48-65l-43-2"/><path fill="#006028" d="M6042 4774l42 3l-48-69l-42-3"/><path fill="#006040" d="M6127 4844l41 4l-48-72l-42-4"/><path fill="#202800" d="M4213 4443l51-39l-42 1l-51 40"/><path fill="#503800" d="M4648 4319l51-28l-45-14l-51 28M4736 4310l50-26l-46-18l-49 26"/><path fill="#584000" d="M4824 4306l50-24l-46-22l-50 25M4912 4307l49-22l-46-25l-49 22"/><path fill="#604000" d="M5000 4312l49-19l-47-29l-49 20"/><path fill="#604800" d="M5088 4323l48-17l-47-32l-48 18"/><path fill="#606000" d="M5352 4387l46-12l-47-42l-47 12"/><path fill="#586800" d="M5439 4418l46-9l-48-46l-46 10"/><path fill="#506800" d="M5526 4454l46-7l-48-49l-46 8"/><path fill="#406800" d="M5613 4495l45-5l-48-53l-45 6"/><path fill="#306800" d="M5700 4541l45-3l-49-56l-45 4"/><path fill="#006058" d="M6210 4918l41 6l-48-75l-41-6"/><path fill="#605000" d="M5176 4339l48-15l-48-35l-47 16"/><path fill="#605800" d="M5264 4361l47-14l-47-39l-48 14"/><path fill="#303800" d="M4252 4441l52-39l-43-1l-51 39"/><path fill="#384000" d="M4339 4409l52-36l-43-4l-52 36"/><path fill="#404000" d="M4427 4382l51-33l-44-8l-51 34"/><path fill="#484000" d="M4514 4361l51-32l-44-11l-51 33"/><path fill="#504000" d="M4602 4344l51-29l-45-14l-51 30"/><path fill="#206800" d="M5745 4594l44-4l-48-58l-45 3"/><path fill="#106800" d="M5831 4648l44-2l-49-62l-43 2"/><path fill="#006808" d="M5917 4707l43 0l-48-65l-44 0"/><path fill="#006820" d="M6002 4770l43 2l-48-68l-43-2"/><path fill="#006038" d="M6087 4838l42 4l-48-72l-42-3"/><path fill="#006050" d="M6172 4911l41 6l-48-75l-42-5"/><path fill="#504000" d="M4690 4333l51-27l-46-18l-50 28"/><path fill="#584000" d="M4779 4327l49-25l-46-22l-49 26M4867 4326l49-23l-46-25l-50 24"/><path fill="#604800" d="M4955 4330l49-21l-47-28l-49 21M5043 4339l49-19l-47-31l-49 19"/><path fill="#605000" d="M5132 4353l48-17l-47-35l-49 18"/><path fill="#685800" d="M5220 4372l48-14l-48-39l-48 16"/><path fill="#686000" d="M5308 4397l47-13l-48-42l-47 13"/><path fill="#606800" d="M5396 4426l47-11l-48-45l-47 11"/><path fill="#506800" d="M5484 4461l46-9l-48-49l-47 9"/><path fill="#486800" d="M5571 4500l46-7l-49-52l-45 7"/><path fill="#386800" d="M5658 4544l45-5l-48-55l-45 5"/><path fill="#384000" d="M4292 4441l52-37l-43-4l-52 38"/><path fill="#484800" d="M4380 4413l51-36l-43-7l-52 36M4468 4389l51-33l-44-10l-51 33"/><path fill="#504800" d="M4556 4371l51-31l-45-14l-51 32"/><path fill="#584000" d="M4644 4358l51-29l-46-17l-50 29"/><path fill="#686000" d="M5264 4408l48-14l-48-41l-48 14"/><path fill="#606800" d="M5353 4436l47-13l-49-44l-47 12"/><path fill="#286800" d="M5703 4596l45-4l-49-59l-45 5"/><path fill="#106800" d="M5790 4649l44-3l-48-62l-45 3"/><path fill="#006800" d="M5876 4706l44-1l-49-65l-43 1"/><path fill="#006818" d="M5962 4768l43 1l-48-68l-44-1"/><path fill="#006830" d="M6048 4835l42 2l-48-71l-43-2"/><path fill="#006848" d="M6132 4906l42 4l-48-74l-42-4"/><path fill="#584800" d="M4733 4349l50-26l-46-21l-50 27"/><path fill="#604800" d="M4821 4346l50-24l-46-24l-50 25M4910 4348l49-22l-46-27l-50 23"/><path fill="#605000" d="M4999 4356l49-21l-48-31l-49 21"/><path fill="#685000" d="M5087 4368l49-18l-48-35l-48 19"/><path fill="#685800" d="M5176 4385l48-16l-48-38l-48 17"/><path fill="#586800" d="M5441 4468l46-10l-48-48l-47 11"/><path fill="#486800" d="M5528 4506l46-8l-48-52l-46 9"/><path fill="#386800" d="M5616 4549l45-7l-48-55l-46 7"/><path fill="#404800" d="M4333 4445l51-37l-43-7l-52 38"/><path fill="#504800" d="M4421 4419l51-35l-44-9l-51 35M4509 4399l51-33l-44-13l-52 33"/><path fill="#584800" d="M4598 4384l51-31l-46-16l-51 31M4686 4373l51-28l-46-20l-50 29"/><path fill="#686800" d="M5220 4421l48-16l-48-41l-48 16M5309 4447l47-14l-48-44l-48 14"/><path fill="#507000" d="M5485 4513l47-9l-49-51l-46 10"/><path fill="#307000" d="M5661 4600l45-6l-48-58l-46 7"/><path fill="#186800" d="M5748 4651l45-4l-49-61l-45 4"/><path fill="#006800" d="M5835 4706l44-2l-48-64l-45 2"/><path fill="#006810" d="M5922 4767l43-1l-49-67l-43 1"/><path fill="#006828" d="M6008 4832l42 1l-48-71l-43-1"/><path fill="#006848" d="M6093 4902l42 3l-48-74l-43-3"/><path fill="#604800" d="M4775 4368l50-26l-46-23l-50 27"/><path fill="#605000" d="M4864 4369l50-24l-47-27l-50 24"/><path fill="#685000" d="M4953 4374l50-22l-47-30l-50 22"/><path fill="#685800" d="M5042 4384l49-19l-47-34l-49 20"/><path fill="#686000" d="M5131 4400l49-18l-48-37l-49 18"/><path fill="#407000" d="M5573 4554l46-8l-48-54l-46 8"/><path fill="#607000" d="M5397 4477l47-11l-48-48l-47 12"/><path fill="#505000" d="M4374 4451l51-37l-44-9l-51 37"/><path fill="#585000" d="M4462 4428l52-34l-45-13l-51 35M4551 4411l51-32l-45-16l-51 33"/><path fill="#605000" d="M4640 4399l51-30l-46-19l-51 30M4729 4392l51-28l-47-23l-50 29"/><path fill="#706800" d="M5175 4435l49-17l-48-41l-49 18"/><path fill="#687000" d="M5265 4459l47-15l-48-44l-48 16"/><path fill="#607000" d="M5353 4488l48-13l-49-47l-47 13"/><path fill="#507000" d="M5442 4522l47-11l-49-51l-47 12"/><path fill="#307000" d="M5619 4605l45-7l-48-57l-46 7"/><path fill="#207000" d="M5706 4654l46-5l-49-61l-46 6"/><path fill="#087000" d="M5794 4708l44-3l-49-64l-44 4"/><path fill="#007010" d="M5881 4767l44-2l-49-67l-44 2"/><path fill="#007028" d="M5967 4831l43 0l-48-71l-44 1"/><path fill="#006840" d="M6053 4899l43 1l-49-73l-43-1"/><path fill="#685000" d="M4818 4390l51-25l-47-27l-50 27M4908 4394l49-24l-47-30l-49 24"/><path fill="#685800" d="M4997 4402l49-21l-47-33l-50 22"/><path fill="#686000" d="M5086 4416l49-19l-48-37l-49 20"/><path fill="#407000" d="M5531 4561l46-9l-49-54l-46 10"/><path fill="#585800" d="M4415 4459l52-36l-45-12l-52 37M4504 4440l51-34l-45-15l-51 34"/><path fill="#605800" d="M4593 4426l51-32l-45-18l-51 32M4683 4417l50-29l-46-22l-51 29"/><path fill="#685800" d="M4772 4413l51-27l-47-25l-51 27"/><path fill="#706800" d="M5131 4450l48-18l-48-40l-49 19"/><path fill="#707000" d="M5220 4473l48-17l-48-43l-48 17"/><path fill="#607000" d="M5309 4500l48-15l-48-46l-48 15"/><path fill="#587000" d="M5398 4532l48-13l-49-50l-47 13"/><path fill="#387000" d="M5576 4612l46-9l-49-57l-46 9"/><path fill="#207000" d="M5664 4659l46-7l-49-60l-46 7"/><path fill="#107000" d="M5752 4712l45-6l-49-63l-45 5"/><path fill="#007008" d="M5839 4769l45-4l-49-67l-45 4"/><path fill="#007020" d="M5926 4831l44-2l-49-70l-44 2"/><path fill="#007038" d="M6013 4897l43 1l-49-74l-43 0"/><path fill="#685800" d="M4862 4415l50-25l-47-29l-50 25"/><path fill="#686000" d="M4951 4422l50-23l-47-33l-50 23"/><path fill="#706000" d="M5041 4433l49-20l-48-37l-49 22"/><path fill="#487000" d="M5487 4569l47-10l-49-54l-47 11"/><path fill="#605800" d="M4457 4471l51-36l-45-15l-51 36M4546 4455l52-34l-46-18l-51 34"/><path fill="#685800" d="M4636 4444l51-31l-46-22l-51 31M4726 4438l50-29l-46-25l-51 29"/><path fill="#686000" d="M4815 4438l51-27l-47-29l-51 27"/><path fill="#707000" d="M5085 4467l50-20l-49-39l-49 21M5175 4488l49-19l-49-42l-48 18"/><path fill="#687000" d="M5265 4513l48-16l-49-46l-48 16"/><path fill="#587000" d="M5354 4544l48-15l-49-49l-48 14"/><path fill="#487800" d="M5444 4579l47-12l-49-53l-47 13"/><path fill="#387000" d="M5533 4620l46-10l-49-57l-46 11"/><path fill="#287000" d="M5621 4665l46-8l-49-60l-46 9"/><path fill="#107000" d="M5710 4716l45-6l-49-64l-46 7"/><path fill="#007000" d="M5798 4772l44-5l-49-67l-45 5"/><path fill="#007018" d="M5885 4832l44-3l-49-70l-44 3"/><path fill="#007038" d="M5972 4897l43-1l-49-73l-43 1"/><path fill="#706000" d="M4905 4442l51-24l-48-32l-50 25"/><path fill="#706800" d="M4995 4452l50-22l-48-36l-49 23"/><path fill="#606000" d="M4499 4485l52-35l-46-18l-52 35"/><path fill="#686000" d="M4589 4472l51-33l-46-21l-51 33M4679 4464l51-30l-47-25l-51 31"/><path fill="#706000" d="M4769 4462l51-28l-47-29l-51 29"/><path fill="#706800" d="M4859 4465l51-26l-48-32l-50 26M4949 4473l50-24l-47-35l-50 24"/><path fill="#707000" d="M5040 4486l49-22l-48-39l-49 23"/><path fill="#707800" d="M5130 4504l49-19l-48-43l-50 21"/><path fill="#687800" d="M5220 4528l49-18l-49-45l-49 18"/><path fill="#607800" d="M5310 4556l48-15l-49-49l-48 16"/><path fill="#507800" d="M5400 4590l47-13l-49-53l-47 14"/><path fill="#407800" d="M5489 4629l47-12l-49-56l-47 13"/><path fill="#307800" d="M5578 4673l47-10l-50-59l-46 10"/><path fill="#187800" d="M5667 4722l46-8l-49-63l-46 8"/><path fill="#007800" d="M5755 4776l46-6l-50-66l-45 6"/><path fill="#007818" d="M5843 4834l45-4l-49-69l-45 4"/><path fill="#007030" d="M5931 4898l44-3l-49-72l-44 3"/><path fill="#686800" d="M4541 4501l52-34l-46-20l-52 34"/><path fill="#707000" d="M4903 4494l51-25l-48-35l-51 26"/><path fill="#307800" d="M5535 4682l47-11l-50-59l-47 11"/><path fill="#686800" d="M4632 4492l51-32l-47-24l-51 32"/><path fill="#706800" d="M4722 4488l51-30l-47-28l-51 30M4813 4488l50-27l-47-31l-51 28"/><path fill="#787000" d="M4994 4506l50-24l-48-38l-50 24"/><path fill="#707800" d="M5084 4522l50-21l-49-42l-49 22"/><path fill="#687800" d="M5175 4544l49-19l-49-45l-49 19"/><path fill="#607800" d="M5265 4571l49-17l-49-49l-49 18"/><path fill="#507800" d="M5355 4603l48-15l-49-52l-48 15"/><path fill="#407800" d="M5445 4640l48-13l-50-56l-47 14"/><path fill="#207800" d="M5624 4729l46-9l-49-63l-46 10"/><path fill="#087800" d="M5713 4781l46-7l-50-66l-46 8"/><path fill="#007810" d="M5801 4838l45-5l-49-69l-45 6"/><path fill="#007828" d="M5889 4900l45-4l-50-72l-44 4"/><path fill="#707000" d="M4584 4521l52-34l-47-23l-51 34M4675 4515l51-32l-47-27l-51 32M4766 4514l51-30l-48-30l-51 29"/><path fill="#787000" d="M4857 4518l50-27l-47-34l-51 27"/><path fill="#787800" d="M4948 4527l50-25l-48-37l-51 25"/><path fill="#707800" d="M5038 4542l50-23l-48-41l-50 23"/><path fill="#687800" d="M5129 4562l50-21l-49-45l-49 21"/><path fill="#607800" d="M5220 4587l49-19l-49-48l-49 19"/><path fill="#507800" d="M5311 4617l48-17l-49-52l-49 17"/><path fill="#487800" d="M5401 4652l48-15l-50-55l-48 15"/><path fill="#307800" d="M5491 4692l47-12l-49-59l-48 13"/><path fill="#207800" d="M5581 4738l46-11l-49-62l-47 11"/><path fill="#087800" d="M5670 4788l46-9l-49-65l-47 9"/><path fill="#007810" d="M5759 4843l45-7l-49-68l-46 7"/><path fill="#007828" d="M5847 4904l45-6l-49-72l-45 6"/><path fill="#787800" d="M4810 4543l51-29l-48-34l-51 29"/><path fill="#707800" d="M4992 4563l50-25l-48-40l-50 25"/><path fill="#388000" d="M5447 4704l47-14l-49-58l-48 14"/><path fill="#208000" d="M5537 4748l47-12l-50-62l-47 13"/><path fill="#107800" d="M5627 4796l46-10l-49-65l-47 11"/><path fill="#707800" d="M4718 4540l52-30l-47-30l-52 31"/><path fill="#787800" d="M4901 4550l51-26l-48-38l-51 27"/><path fill="#687800" d="M5083 4581l50-23l-49-44l-49 23"/><path fill="#607800" d="M5175 4604l49-20l-49-48l-50 20"/><path fill="#588000" d="M5265 4632l49-18l-49-51l-49 18"/><path fill="#488000" d="M5356 4665l48-16l-49-54l-48 16"/><path fill="#007808" d="M5716 4850l46-8l-50-69l-46 9"/><path fill="#007820" d="M5805 4909l45-7l-49-72l-46 7"/><path fill="#707000" d="M4627 4543l52-33l-47-26l-52 33"/><path fill="#707800" d="M4946 4585l50-26l-48-40l-51 27M4671 4569l52-33l-48-29l-51 33M4762 4569l52-30l-48-33l-51 30M4854 4574l51-28l-48-36l-51 28"/><path fill="#688000" d="M5037 4601l50-24l-48-43l-51 24"/><path fill="#608000" d="M5129 4622l49-21l-49-47l-49 22"/><path fill="#588000" d="M5220 4649l49-20l-49-50l-49 20"/><path fill="#488000" d="M5311 4680l49-17l-50-54l-48 18"/><path fill="#388000" d="M5402 4717l48-15l-49-58l-49 16"/><path fill="#288000" d="M5493 4759l47-14l-49-61l-48 14"/><path fill="#108000" d="M5583 4806l47-12l-50-64l-47 12"/><path fill="#008008" d="M5673 4858l46-10l-49-68l-47 10"/><path fill="#008020" d="M5762 4915l46-8l-49-72l-46 9"/><path fill="#707800" d="M4715 4597l52-32l-48-33l-52 33"/><path fill="#708000" d="M4899 4609l51-27l-49-40l-51 28"/><path fill="#608000" d="M5082 4643l51-24l-49-46l-51 23"/><path fill="#388000" d="M5357 4732l49-17l-50-58l-49 18"/><path fill="#288000" d="M5448 4772l48-15l-50-61l-48 16"/><path fill="#188000" d="M5539 4817l47-13l-49-64l-48 13"/><path fill="#008000" d="M5629 4867l47-11l-50-68l-47 12"/><path fill="#008018" d="M5719 4922l47-9l-50-71l-47 10"/><path fill="#707800" d="M4807 4600l51-29l-48-36l-51 30"/><path fill="#688000" d="M4991 4623l50-25l-49-43l-50 26"/><path fill="#588000" d="M5174 4667l50-21l-49-50l-50 21"/><path fill="#488000" d="M5266 4697l49-19l-50-54l-49 20"/><path fill="#688000" d="M4851 4635l52-29l-49-40l-51 30"/><path fill="#608000" d="M5036 4664l50-25l-49-46l-50 25"/><path fill="#488000" d="M5220 4715l50-21l-50-53l-50 21"/><path fill="#688000" d="M4759 4628l52-31l-48-36l-52 32M4944 4647l51-27l-49-43l-51 28"/><path fill="#588000" d="M5128 4687l50-23l-49-50l-50 24"/><path fill="#388000" d="M5312 4748l49-19l-50-57l-49 19"/><path fill="#288000" d="M5403 4786l49-16l-50-61l-49 17"/><path fill="#188000" d="M5495 4829l47-14l-50-64l-47 15"/><path fill="#008000" d="M5585 4878l48-13l-50-67l-48 13"/><path fill="#008018" d="M5676 4931l47-11l-50-70l-47 11"/><path fill="#688000" d="M4804 4662l52-31l-49-39l-52 32"/><path fill="#608000" d="M4989 4687l51-26l-49-46l-51 27"/><path fill="#488000" d="M5174 4734l50-22l-50-53l-50 23"/><path fill="#388800" d="M5266 4765l49-20l-49-56l-50 20"/><path fill="#288800" d="M5358 4802l49-18l-50-60l-49 18"/><path fill="#188000" d="M5450 4843l48-16l-50-63l-48 16"/><path fill="#008000" d="M5541 4890l48-14l-50-67l-48 15"/><path fill="#008018" d="M5632 4942l47-13l-50-70l-47 13"/><path fill="#608000" d="M4896 4672l52-29l-49-42l-51 29"/><path fill="#588000" d="M5082 4708l50-24l-49-49l-51 24"/><path fill="#588800" d="M4942 4712l51-28l-49-45l-51 28"/><path fill="#488800" d="M5127 4755l51-24l-50-52l-50 24"/><path fill="#088800" d="M5496 4904l48-16l-50-67l-48 17"/><path fill="#608000" d="M4849 4699l52-31l-49-41l-52 30"/><path fill="#508800" d="M5035 4731l50-26l-49-49l-51 27"/><path fill="#388800" d="M5220 4784l50-21l-50-56l-50 22"/><path fill="#288800" d="M5312 4819l50-20l-50-59l-50 20"/><path fill="#188800" d="M5405 4859l48-18l-50-63l-49 18"/><path fill="#008810" d="M5588 4954l47-14l-50-70l-48 14"/><path fill="#588800" d="M4894 4738l52-29l-49-45l-52 30"/><path fill="#488800" d="M5081 4777l50-25l-49-52l-51 26"/><path fill="#388800" d="M5174 4805l50-23l-50-56l-50 24"/><path fill="#288800" d="M5266 4838l50-22l-50-59l-50 22"/><path fill="#188800" d="M5359 4876l49-20l-50-62l-49 19"/><path fill="#008810" d="M5543 4967l48-16l-50-69l-48 16"/><path fill="#508800" d="M4987 4755l52-27l-50-49l-51 28"/><path fill="#088800" d="M5451 4919l49-18l-50-66l-49 18"/><path fill="#188800" d="M5313 4894l50-21l-51-62l-49 21"/><path fill="#408800" d="M5033 4801l52-27l-50-51l-51 27"/><path fill="#288800" d="M5220 4858l50-23l-50-59l-50 24"/><path fill="#088800" d="M5406 4935l49-19l-51-65l-49 19"/><path fill="#508800" d="M4940 4781l51-29l-49-48l-52 30"/><path fill="#388800" d="M5127 4827l50-25l-50-55l-50 25"/><path fill="#008810" d="M5498 4981l49-16l-51-69l-48 17"/><path fill="#408800" d="M4986 4827l51-29l-49-51l-52 29"/><path fill="#388800" d="M5080 4851l51-27l-50-55l-51 27"/><path fill="#288800" d="M5173 4879l51-24l-50-58l-51 25"/><path fill="#188800" d="M5267 4914l50-23l-51-61l-50 22"/><path fill="#088800" d="M5360 4953l49-20l-50-65l-50 20"/><path fill="#008810" d="M5453 4998l49-19l-51-68l-49 18"/><path fill="#189000" d="M5220 4935l50-24l-50-61l-50 24"/><path fill="#289000" d="M5126 4903l51-26l-50-58l-51 26"/><path fill="#089000" d="M5314 4972l49-21l-50-65l-50 22"/><path fill="#308800" d="M5032 4876l52-28l-50-55l-52 29"/><path fill="#008810" d="M5407 5015l49-20l-50-68l-50 20"/><path fill="#209000" d="M5079 4927l51-27l-50-57l-52 28"/><path fill="#109000" d="M5173 4958l51-26l-51-61l-51 26"/><path fill="#009000" d="M5267 4993l50-23l-50-64l-51 23"/><path fill="#009010" d="M5361 5034l50-21l-51-68l-50 22"/><path fill="#109000" d="M5126 4982l51-27l-51-60l-51 27"/><path fill="#009000" d="M5220 5016l51-25l-51-64l-51 25"/><path fill="#009010" d="M5314 5055l50-23l-50-68l-51 24"/><path fill="#009000" d="M5173 5040l51-27l-51-63l-51 27"/><path fill="#009018" d="M5267 5077l51-25l-51-67l-51 25M5220 5101l51-26l-51-67l-51 27"/></g><polyline fill="none" stroke="#0c1408" stroke-opacity="0.75" stroke-width="0.9" stroke-linejoin="round" points="380.9,461.9 384.3,459.1 387.8,456.6 391.4,454.2 394.9,452.1 398.6,450.2 402.3,448.5 406,447.1 409.8,445.9 413.6,445 417.5,444.3 421.4,443.9 425.3,443.7 429.3,443.7 433.4,444.1 437.4,444.7 441.6,445.5 445.7,446.7 449.9,448.1 454.2,449.7 458.4,451.7 462.8,453.9 467.1,456.5 471.5,459.3 475.9,462.4 480.4,465.8 484.9,469.5 489.4,473.4 494,477.7 498.6,482.3 503.2,487.2 507.9,492.3 512.6,497.8 517.3,503.6 522,509.7 522,509.7 526.7,507.3 531.4,505.1 536.1,503 540.7,501.1 545.3,499.4 549.8,497.7 554.3,496.3 558.8,495 563.2,493.8 567.6,492.7 571.9,491.8 576.2,491.1 580.5,490.5 584.7,490 588.9,489.6 593.1,489.4 597.2,489.3 601.2,489.3 605.3,489.5 609.3,489.8 613.2,490.2 617.1,490.7 621,491.4 624.8,492.2 628.6,493 632.4,494.1 636.1,495.2 639.8,496.4 643.4,497.7 647,499.2 650.6,500.7 654.1,502.4 657.6,504.1 661,506"/>
<circle cx="383.3" cy="513.1" r="1.45" fill="#000"/>
<circle cx="381.6" cy="477.5" r="1.45" fill="#000"/>
<circle cx="379.9" cy="441.9" r="1.45" fill="#000"/>
<circle cx="378.1" cy="406.3" r="1.45" fill="#000"/>
<circle cx="376.4" cy="370.6" r="1.45" fill="#000"/>
<circle cx="385.5" cy="557.9" r="1.45" fill="#000"/>
<circle cx="453.8" cy="590.5" r="1.45" fill="#000"/>
<circle cx="522" cy="623.1" r="1.45" fill="#000"/>
<circle cx="590.2" cy="590.5" r="1.45" fill="#000"/>
<circle cx="658.5" cy="557.9" r="1.45" fill="#000"/>
<text x="378.1" y="509.7" font-size="13.2" text-anchor="end" textLength="12.7" lengthAdjust="spacingAndGlyphs">15</text>
<text x="376.4" y="474.1" font-size="13.2" text-anchor="end" textLength="12.7" lengthAdjust="spacingAndGlyphs">20</text>
<text x="374.7" y="438.5" font-size="13.2" text-anchor="end" textLength="12.7" lengthAdjust="spacingAndGlyphs">25</text>
<text x="372.9" y="402.9" font-size="13.2" text-anchor="end" textLength="12.7" lengthAdjust="spacingAndGlyphs">30</text>
<text x="371.2" y="367.2" font-size="13.2" text-anchor="end" textLength="12.7" lengthAdjust="spacingAndGlyphs">35</text>
<text x="346.5" y="370.6" font-size="18.8" text-anchor="start" textLength="9.6" lengthAdjust="spacingAndGlyphs" stroke="#222" stroke-width="0.25">d</text>
<text transform="translate(354.8 463) rotate(-90)" font-size="15" text-anchor="middle" textLength="146.5" lengthAdjust="spacingAndGlyphs">Total flavonoids content</text>
<text x="379.3" y="570.5" font-size="13.2" text-anchor="end" textLength="12.7" lengthAdjust="spacingAndGlyphs">85</text>
<text x="447.6" y="603.1" font-size="13.2" text-anchor="end" textLength="12.7" lengthAdjust="spacingAndGlyphs">75</text>
<text x="516.6" y="636.3" font-size="13.2" text-anchor="end" textLength="12.7" lengthAdjust="spacingAndGlyphs">65</text>
<text x="528" y="636.3" font-size="13.2" text-anchor="start" textLength="19" lengthAdjust="spacingAndGlyphs">280</text>
<text x="597.2" y="603.1" font-size="13.2" text-anchor="start" textLength="19" lengthAdjust="spacingAndGlyphs">320</text>
<text x="665.5" y="570.5" font-size="13.2" text-anchor="start" textLength="19" lengthAdjust="spacingAndGlyphs">360</text>
<text x="416.6" y="617.7" font-size="14.2" text-anchor="start" textLength="15.8" lengthAdjust="spacingAndGlyphs">X3</text>
<text x="618.2" y="616.5" font-size="14.2" text-anchor="start" textLength="15.8" lengthAdjust="spacingAndGlyphs">X2</text></g>
<g><line x1="42" y1="849.1" x2="180.2" y2="802.3" stroke="#666" stroke-width="0.7"/>
<line x1="180.2" y1="802.3" x2="318.4" y2="849.1" stroke="#666" stroke-width="0.7"/>
<line x1="40.2" y1="813.6" x2="180.2" y2="770.3" stroke="#666" stroke-width="0.7"/>
<line x1="180.2" y1="770.3" x2="320.2" y2="813.6" stroke="#666" stroke-width="0.7"/>
<line x1="38.5" y1="778.1" x2="180.2" y2="738.2" stroke="#666" stroke-width="0.7"/>
<line x1="180.2" y1="738.2" x2="321.9" y2="778.1" stroke="#666" stroke-width="0.7"/>
<line x1="36.8" y1="742.6" x2="180.2" y2="706.2" stroke="#666" stroke-width="0.7"/>
<line x1="180.2" y1="706.2" x2="323.6" y2="742.6" stroke="#666" stroke-width="0.7"/>
<line x1="35.1" y1="707.1" x2="180.2" y2="674.1" stroke="#666" stroke-width="0.7"/>
<line x1="180.2" y1="674.1" x2="325.3" y2="707.1" stroke="#666" stroke-width="0.7"/>
<line x1="112.2" y1="868.3" x2="107.6" y2="690.6" stroke="#666" stroke-width="0.7"/>
<line x1="180.2" y1="842.7" x2="180.2" y2="674.1" stroke="#666" stroke-width="0.7"/>
<line x1="248.2" y1="868.3" x2="252.8" y2="690.6" stroke="#666" stroke-width="0.7"/>
<line x1="316.3" y1="893.8" x2="325.3" y2="707.1" stroke="#666" stroke-width="0.7"/>
<line x1="44.1" y1="893.8" x2="35.1" y2="707.1" stroke="#333" stroke-width="0.75"/>
<polygon points="44.1,893.8 180.2,958.8 316.3,893.8 180.2,842.7" fill="#ffff00" stroke="#77770a" stroke-width="0.7"/>
<polyline fill="none" stroke="#8af53e" stroke-width="0.95" points="184.2,844.2 181.7,843.7 179,843.2"/>
<polyline fill="none" stroke="#a2f82e" stroke-width="0.95" points="311.1,896.3 306.1,894.4 301.1,892.4 296.1,890.6 291,888.7 286,886.9 281,885.2 276,883.4 270.9,881.7 268.4,880.9 263.4,879.2 258.3,877.6 253.2,876 248.1,874.4 243.5,873 240.5,872.1 235.3,870.7 230.1,869.2 226.9,868.3 222.3,867.1 217,865.8 213.9,865 209.1,863.8 203.7,862.6 201,862 195.5,860.8 192.7,860.2 187.1,859.1 184.3,858.5 178.6,857.5 175.7,857 169.8,856.1 166.7,855.6 163.2,855.1 157.4,854.4 154.2,854 151,853.7"/>
<polyline fill="none" stroke="#a2f82e" stroke-width="0.95" points="55.9,889.4 55.8,891.1 55.8,892.9 55.9,895.1 56.1,897.3 56.4,899.6 56.4,899.7"/>
<polyline fill="none" stroke="#8af53e" stroke-width="0.95" points="289.2,906.7 284,904.8 278.7,902.9 273.5,901.1 268.2,899.3 262.9,897.5 258.3,896 254.9,894.9 249.5,893.3 244,891.7 239.7,890.5 235.8,889.4 230.2,887.9 226.3,886.9 221.7,885.8 215.9,884.4 213,883.8 207,882.6 204,882 197.9,880.9 194.7,880.3 190.5,879.7 184.9,878.9 181.6,878.5 177.8,878.1 172.2,877.6 167.1,877.3 163.1,877.1 158.9,877 154.4,877.1 149.6,877.3 145.8,877.5 142.3,877.9 137.2,878.7 133,879.5 127.7,881 123,882.8 118.9,884.9 115.4,887.2 113.8,888.5 112,890.3 109.9,892.8 108.9,894.4 108,896.1 107.3,897.8 106.7,899.7 106.2,901.7 105.9,903.7 105.7,905.6 105.7,907.6 105.8,909.8 106.1,912.2 106.5,914.6 107,916.6 107.5,918.4 108.1,920.1 109,922.5 110.2,925.3 110.2,925.4"/>
<circle cx="180.3" cy="744.2" r="2.9" fill="#c8000c" stroke="#5a0000" stroke-width="0.7"/>
<polyline fill="none" stroke="#0c1408" stroke-opacity="0.75" stroke-width="0.9" stroke-linejoin="round" points="38.5,778 43.1,775 47.7,772.1 52.2,769.4 56.7,766.8 61.2,764.3 65.7,762 70.1,759.8 74.6,757.8 79,755.9 83.3,754.1 87.7,752.4 92,750.9 96.3,749.5 100.6,748.2 104.8,747.1 109,746.1 113.2,745.2 117.4,744.4 121.5,743.8 125.6,743.2 129.7,742.8 133.8,742.5 137.8,742.3 141.8,742.3 145.8,742.3 149.7,742.5 153.6,742.8 157.5,743.2 161.4,743.6 165.2,744.2 169,745 172.8,745.8 176.5,746.7 180.2,747.7 180.2,747.7 183.9,748.1 187.6,748.6 191.4,749.1 195.2,749.6 199,750.2 202.8,750.8 206.7,751.3 210.6,752 214.5,752.6 218.5,753.3 222.4,754 226.4,754.7 230.5,755.5 234.5,756.2 238.6,757 242.7,757.9 246.9,758.7 251,759.6 255.2,760.5 259.5,761.5 263.7,762.5 268,763.5 272.3,764.5 276.7,765.6 281.1,766.7 285.5,767.8 289.9,768.9 294.4,770.1 298.9,771.3 303.4,772.6 308,773.9 312.6,775.2 317.2,776.5 321.9,777.9"/><g transform="scale(.1)"><path fill="#000000" d="M1802 7467l41 15l-41-1l-41-15M1764 7458l42 14l-41-1l-41-14M1840 7472l40 15l-41-2l-41-15M1802 7462l41 14l-41-1l-41-14M1726 7450l43 12l-41 0l-42-13M1877 7477l41 15l-42-2l-41-15M1688 7442l43 12l-40-1l-43-11M1764 7454l42 13l-41-1l-42-13M1840 7467l41 14l-42-1l-41-15M1915 7482l41 15l-43-2l-40-15M1726 7446l42 12l-40-1l-43-11M1649 7437l44 10l-39-1l-44-10M1802 7458l42 14l-42-2l-42-13M1954 7487l40 16l-43-3l-40-15M1878 7472l41 14l-43-2l-40-14M1609 7432l46 9l-38-2l-46-8M1687 7440l43 11l-40-1l-43-10M1764 7451l42 12l-41-1l-43-12M1840 7463l41 13l-42-1l-41-13M1916 7477l41 15l-43-3l-40-14M1992 7493l40 15l-43-2l-40-16M1647 7436l45 9l-39-2l-45-8M1955 7482l40 15l-43-2l-40-15M1570 7430l46 6l-37-4l-47-5M1725 7444l43 11l-41-1l-43-10M1879 7468l41 14l-43-2l-41-14M2031 7498l40 16l-44-3l-40-15M1802 7455l42 13l-42-2l-42-12M1530 7429l47 2l-37-4l-47-2M1607 7434l47 5l-38-3l-47-5M1685 7440l45 9l-39-2l-45-9M1763 7449l43 11l-41-1l-43-11M1841 7460l41 13l-42-2l-42-12M1917 7473l41 14l-43-2l-41-14M1994 7488l40 15l-44-3l-40-15M2070 7504l40 17l-44-4l-40-16M1879 7465l41 13l-43-2l-41-13M1491 7429l47-1l-38-5l-46 0M1568 7433l47 2l-38-5l-47-2M1645 7437l46 6l-37-3l-47-6M1802 7453l42 12l-42-2l-42-11M1956 7479l41 14l-44-3l-40-14M2110 7511l39 16l-45-4l-39-16M1724 7444l44 9l-40-1l-45-10M2033 7494l40 15l-44-3l-40-15M1452 7429l47-2l-38-6l-47 2M1529 7432l47 0l-39-6l-46 0M1606 7437l46 2l-38-6l-46-2M1683 7442l46 6l-38-5l-46-5M1762 7448l44 10l-41-1l-44-10M1841 7458l42 12l-43-2l-42-11M1919 7471l40 12l-44-2l-40-12M1996 7485l40 14l-45-3l-40-14M2073 7500l39 15l-45-3l-39-15M2150 7518l38 16l-45-4l-39-16M1413 7429l46-3l-38-6l-47 3M2113 7507l39 15l-46-4l-39-15M1490 7432l46-2l-39-7l-46 3M1567 7436l46 0l-38-7l-47 1M1644 7442l46 1l-38-7l-47-1M1721 7446l46 6l-38-5l-47-5M1802 7452l42 11l-42-2l-42-10M1880 7464l41 11l-44-2l-40-11M2035 7491l40 14l-45-4l-40-13M2190 7524l38 17l-46-5l-38-16M1958 7476l40 13l-44-3l-41-12M1373 7431l46-5l-39-6l-46 5M2153 7514l38 15l-46-5l-38-15M2230 7532l38 16l-46-5l-38-16M1450 7433l47-4l-40-6l-46 3M1528 7436l46-2l-39-7l-46 2M1605 7440l46 0l-39-8l-46 1M1683 7446l46 2l-40-8l-46-1M1759 7451l47 6l-39-7l-46-3M1842 7458l41 10l-44-2l-41-10M1920 7469l40 12l-45-3l-40-11M1998 7483l39 12l-45-3l-39-13M2075 7497l39 14l-45-4l-39-13M1332 7434l47-6l-39-6l-47 6M1410 7434l47-5l-40-6l-46 5M1488 7436l46-3l-39-7l-46 3M2193 7521l38 15l-46-5l-39-15M2270 7539l38 17l-46-6l-38-16M1566 7440l46-3l-40-7l-46 2M1644 7445l46-1l-41-8l-45 1M1722 7451l45 1l-40-8l-45-1M1802 7461l43 1l-43-10l-43-1M1882 7464l40 9l-45-3l-40-9M1960 7475l40 12l-46-4l-40-11M2038 7489l39 12l-46-3l-39-13M2115 7504l39 14l-46-4l-39-14M1292 7438l46-7l-39-6l-47 7M1370 7437l46-6l-39-7l-47 7M1448 7438l46-5l-39-7l-47 5M2156 7511l38 14l-46-5l-39-14M2311 7547l38 16l-47-5l-38-17M1526 7440l46-4l-40-7l-46 3M1605 7444l45-2l-40-8l-46 2M1683 7449l45-1l-41-8l-45 1M1762 7457l44 0l-42-9l-44 0M1845 7464l39 3l-46-8l-40-3M1922 7470l40 9l-47-4l-39-9M2000 7482l39 11l-46-4l-39-11M2078 7495l39 13l-47-4l-39-13M2233 7528l39 15l-47-5l-38-15M1251 7443l47-8l-40-6l-47 9M1329 7441l47-8l-40-6l-46 8M1408 7440l46-6l-40-7l-46 7M1486 7441l46-5l-40-7l-46 5M1565 7444l45-4l-40-8l-46 4M2040 7488l39 11l-47-5l-39-10M2118 7502l39 13l-47-5l-39-12M2196 7518l39 14l-47-5l-39-14M2274 7536l38 15l-47-6l-38-15M2352 7555l38 17l-48-7l-37-16M1643 7448l46-2l-41-8l-46 2M1722 7454l45-1l-42-9l-44 1M1802 7462l43 0l-43-9l-43-1M1884 7469l39 4l-46-9l-40-3M1962 7476l39 9l-47-5l-39-8M1209 7450l47-10l-39-6l-47 10M1288 7446l47-9l-40-6l-47 9M1367 7444l46-7l-40-7l-46 7M1446 7444l46-6l-40-8l-47 7M1525 7445l45-5l-40-7l-46 4M2081 7495l38 11l-47-6l-39-10M2159 7509l38 13l-47-6l-39-12M2237 7526l38 14l-47-6l-38-14M2315 7544l38 15l-47-6l-38-15M2393 7563l38 17l-48-7l-37-16M1604 7448l45-4l-41-8l-46 4M1683 7453l45-2l-42-9l-45 2M1762 7459l44-1l-43-9l-43 1M1842 7467l42 1l-44-10l-42-1M1924 7474l39 5l-47-9l-40-3M2003 7483l38 8l-48-6l-38-8M1168 7457l47-11l-39-6l-48 12M1247 7452l47-10l-40-6l-47 10M1326 7449l47-9l-40-6l-47 9M1405 7447l46-7l-40-7l-46 7M1484 7447l46-6l-41-7l-46 6M1563 7449l46-5l-41-8l-46 5M2043 7490l38 8l-48-7l-38-8M2121 7502l39 11l-48-6l-39-11M2200 7517l38 12l-48-6l-38-12M2278 7533l38 14l-48-6l-38-14M2357 7552l37 15l-48-7l-37-15M2435 7572l37 16l-48-7l-37-16M1643 7452l45-3l-42-9l-45 4M1964 7480l39 5l-48-9l-39-4M1722 7457l45-2l-43-9l-44 2M1802 7464l43-1l-43-9l-43 1M1883 7472l41 1l-45-10l-42 0M1126 7466l47-12l-39-6l-48 13M1205 7460l47-12l-39-5l-48 11M1284 7455l47-10l-40-6l-47 10M1364 7452l46-9l-40-6l-47 8M1443 7451l47-8l-41-7l-47 7M1523 7451l46-6l-42-8l-45 6M1602 7453l46-4l-42-9l-45 5M2004 7486l39 5l-48-9l-39-4M2083 7497l39 8l-49-8l-38-7M2162 7509l38 11l-48-7l-38-10M2241 7525l38 12l-48-7l-38-12M2320 7542l38 13l-49-6l-38-14M2398 7560l38 16l-49-8l-37-15M2477 7581l37 16l-49-7l-37-17M1682 7457l45-3l-42-9l-45 3M1923 7478l41 1l-46-10l-41-1M1762 7462l44-2l-43-9l-44 2M1842 7469l43 0l-44-10l-43 1M1084 7476l47-14l-39-5l-48 14M1163 7469l48-13l-40-6l-48 13M1243 7462l47-11l-40-6l-47 11M1322 7458l47-10l-40-6l-47 10M1402 7455l47-8l-41-7l-47 8M1482 7454l46-7l-41-7l-46 7M1562 7455l46-6l-42-8l-46 6M1642 7458l45-5l-42-9l-45 5M1964 7483l40 2l-46-10l-41-1M2045 7493l38 5l-48-9l-39-5M2124 7504l38 8l-48-8l-38-8M2203 7517l38 10l-48-7l-38-10M2282 7532l38 13l-49-8l-37-11M2361 7550l38 14l-49-8l-37-13M2440 7569l38 15l-49-7l-38-15M2519 7590l37 17l-49-8l-37-17M1722 7462l44-3l-43-10l-44 4M1883 7475l42 0l-45-10l-42 0M1802 7468l44-2l-44-10l-44 2"/><path fill="#000800" d="M1041 7488l48-16l-39-5l-48 16"/><path fill="#000000" d="M1121 7479l48-14l-40-6l-48 14M1201 7471l47-13l-40-6l-47 13M1281 7465l47-11l-41-6l-47 11M1361 7461l46-10l-40-6l-47 9M1441 7459l46-9l-41-7l-47 9M1521 7458l46-7l-42-8l-46 8M1601 7459l46-5l-43-9l-45 6M1681 7462l45-4l-42-9l-45 4M1923 7481l42 0l-45-11l-42 1M2004 7490l41 2l-47-10l-41-2M2085 7499l39 5l-48-9l-39-4M2165 7511l39 8l-49-8l-39-8M2245 7525l38 10l-49-8l-38-10M2324 7541l38 12l-49-8l-38-12M2403 7558l38 14l-49-8l-38-13M2483 7578l37 15l-50-8l-37-15M2562 7599l36 17l-49-8l-37-17M1762 7467l44-3l-43-10l-45 3M1842 7473l44-2l-45-10l-43 2"/><path fill="#080800" d="M998 7500l49-16l-40-5l-48 17M1078 7490l48-16l-39-5l-48 16"/><path fill="#000000" d="M1159 7481l47-14l-40-6l-48 14M1239 7474l47-13l-40-6l-48 13M1319 7468l47-11l-41-6l-47 11M1399 7465l47-10l-41-7l-47 10M1480 7463l46-9l-42-7l-46 8M1560 7462l46-6l-42-9l-46 7M1641 7464l45-6l-43-8l-45 5M1721 7467l45-4l-43-9l-45 4M1802 7472l44-3l-44-9l-44 2M1883 7479l43-2l-45-10l-43 2M1964 7487l42 0l-46-10l-42-1M2045 7496l41 2l-48-10l-40-2M2126 7506l39 6l-48-10l-39-5M2207 7519l38 7l-49-8l-39-8M2287 7533l37 10l-49-8l-38-10M2366 7549l38 12l-50-8l-37-12M2446 7567l37 14l-50-8l-37-14M2525 7587l37 16l-50-9l-37-15M2604 7609l37 17l-50-9l-37-17M1761 7472l45-4l-44-9l-44 4M1843 7478l43-3l-44-10l-44 3"/><path fill="#080800" d="M955 7514l49-18l-39-5l-49 19M1036 7502l48-16l-40-6l-48 17M1116 7492l48-15l-40-6l-48 16"/><path fill="#000000" d="M1196 7484l48-14l-40-6l-48 14M1277 7477l47-13l-41-6l-47 12M1357 7472l47-11l-41-7l-47 11M1438 7468l47-9l-42-8l-47 10M1519 7467l46-8l-42-8l-46 8M1600 7467l45-7l-42-8l-46 7M1681 7469l45-6l-43-9l-46 6M1924 7485l42-1l-45-11l-43 1M2005 7493l42 1l-47-11l-41 0M2087 7503l40 2l-48-10l-40-2M2168 7514l39 5l-49-10l-39-5M2248 7526l39 8l-50-9l-38-7M2329 7541l37 10l-49-8l-38-10M2408 7558l38 12l-50-9l-38-11M2488 7576l37 14l-50-8l-37-14M2568 7597l37 15l-50-9l-37-15M2647 7619l37 17l-50-9l-37-17M1802 7478l44-4l-44-10l-44 4M1721 7474l45-5l-44-10l-45 6M1883 7484l44-3l-45-10l-44 2M2691 7629l36 17l-50-9l-37-17"/><path fill="#080800" d="M912 7529l49-19l-39-5l-49 20M993 7516l48-18l-40-5l-48 18M1073 7504l48-16l-40-6l-48 17M1154 7495l48-16l-41-6l-48 16"/><path fill="#000000" d="M1235 7486l47-13l-41-7l-47 14M1315 7480l48-12l-42-7l-47 12M1396 7475l47-11l-41-7l-47 11M1477 7472l47-9l-42-8l-47 10M1558 7471l46-8l-42-8l-46 8M1640 7472l45-7l-43-9l-46 7M1965 7491l42-1l-46-11l-42 1M2047 7500l41 0l-47-10l-42-1M2128 7510l40 3l-48-11l-40-3M2210 7521l38 6l-49-10l-39-6M2290 7534l38 8l-49-9l-39-8M2371 7550l38 10l-51-9l-37-10M2451 7567l37 12l-50-9l-37-12M2531 7586l37 14l-50-10l-37-13M2611 7607l37 15l-51-9l-37-15M1761 7479l45-5l-44-10l-45 6M1843 7484l44-4l-45-10l-44 4"/><path fill="#081000" d="M869 7546l49-21l-40-5l-49 21"/><path fill="#000000" d="M1680 7477l45-7l-43-9l-46 7M1925 7490l43-3l-46-10l-43 2M2654 7617l37 15l-51-10l-37-15"/><path fill="#081000" d="M949 7531l49-19l-40-5l-48 19"/><path fill="#080800" d="M1030 7518l49-18l-41-5l-48 18M1111 7507l48-17l-40-5l-48 16M1192 7497l48-15l-41-6l-48 15M1273 7489l48-13l-42-7l-47 14"/><path fill="#000000" d="M1354 7483l47-12l-41-7l-47 12M1436 7479l46-11l-42-7l-47 11M1517 7477l46-10l-42-8l-47 10M1598 7476l46-8l-43-9l-46 8M2006 7497l42 0l-46-11l-42 1M2088 7506l41 2l-47-11l-41-1M2170 7517l40 3l-49-10l-40-4M2252 7529l38 6l-49-11l-39-5M2333 7543l38 8l-50-10l-39-8M2413 7558l38 11l-50-10l-38-10M2494 7576l37 12l-50-9l-38-12M2574 7596l37 13l-51-9l-37-14M2734 7640l37 17l-51-10l-37-17M1720 7482l45-7l-44-9l-45 7M1802 7485l45-5l-45-10l-45 5M1884 7490l44-4l-46-10l-43 3M2778 7651l36 17l-51-11l-36-17"/><path fill="#101000" d="M825 7564l49-23l-39-4l-49 22M906 7547l49-20l-40-5l-49 21"/><path fill="#000000" d="M1638 7481l46-8l-43-9l-46 8M1966 7496l43-2l-46-11l-43 2M2618 7606l36 13l-51-10l-36-13"/><path fill="#081000" d="M987 7533l48-19l-40-5l-48 19"/><path fill="#080800" d="M1068 7520l48-17l-40-6l-48 18M1149 7509l48-16l-41-6l-48 17M1230 7500l48-15l-41-6l-48 15M1312 7493l47-14l-41-7l-48 14"/><path fill="#000000" d="M1393 7487l48-12l-43-7l-47 12M1475 7483l47-10l-43-8l-46 10M1557 7481l46-9l-43-9l-46 10M2048 7504l42 0l-47-11l-42 0M2130 7514l41 1l-48-11l-41-1M2212 7524l40 4l-49-11l-40-3M2294 7537l39 6l-50-11l-39-5M2375 7551l38 9l-50-11l-38-8M2456 7568l38 10l-51-10l-38-10M2537 7586l37 12l-51-10l-37-12M2698 7627l37 16l-52-11l-36-15M1679 7486l45-8l-43-9l-46 8M1761 7487l45-6l-44-10l-46 7M1843 7491l45-5l-46-10l-44 5M1925 7496l44-4l-46-10l-43 3M2742 7638l36 16l-51-11l-37-15"/><path fill="#101800" d="M781 7583l49-24l-39-4l-49 24"/><path fill="#101000" d="M862 7565l49-22l-40-5l-49 23M943 7549l49-20l-40-5l-49 20"/><path fill="#000000" d="M1597 7486l46-9l-43-9l-47 9M2008 7503l42-2l-46-11l-43 2M2580 7595l38 13l-52-11l-37-12"/><path fill="#101000" d="M1024 7535l49-19l-40-5l-49 19"/><path fill="#000000" d="M2661 7616l37 14l-51-11l-37-13M2823 7662l36 17l-52-11l-36-17"/><path fill="#080800" d="M1106 7523l48-18l-40-6l-49 18M1188 7512l48-16l-42-6l-48 16M1269 7504l48-15l-42-7l-47 15M1351 7496l47-13l-42-7l-47 13"/><path fill="#000000" d="M1433 7491l47-12l-43-8l-47 12M1515 7488l46-11l-43-8l-46 10M2090 7511l42 0l-48-11l-42 0M2172 7521l41 2l-49-12l-40-1M2255 7532l39 4l-49-11l-40-4M2337 7545l38 7l-50-11l-39-6M2418 7560l38 9l-51-11l-38-8M2499 7577l38 10l-51-10l-38-10M1637 7491l46-9l-44-9l-46 9M1720 7491l45-8l-44-9l-46 8M1802 7493l45-6l-45-10l-45 6M1884 7497l45-5l-46-10l-44 4M1967 7502l43-3l-46-11l-43 4M2705 7626l37 14l-52-11l-36-13M2867 7674l36 17l-52-12l-36-17"/><path fill="#101800" d="M737 7603l49-25l-39-4l-49 25M818 7584l49-23l-39-5l-50 24M899 7567l49-22l-40-5l-49 22"/><path fill="#101000" d="M981 7551l49-20l-41-5l-48 20"/><path fill="#000000" d="M1555 7492l46-10l-43-9l-46 11M2050 7510l42-2l-47-11l-42 1M2543 7587l37 10l-51-11l-37-10"/><path fill="#101000" d="M1063 7538l48-19l-41-6l-48 19"/><path fill="#000000" d="M2624 7606l37 12l-51-11l-37-12M2786 7649l37 16l-52-12l-37-15"/><path fill="#101000" d="M1144 7526l49-18l-42-6l-48 18"/><path fill="#080800" d="M1226 7516l48-17l-41-6l-48 16M1308 7507l48-15l-42-7l-48 15M1390 7500l48-13l-43-8l-47 14"/><path fill="#000000" d="M1473 7495l47-12l-43-8l-47 12M2132 7518l42 0l-48-11l-42 0M2215 7529l40 2l-49-12l-40-2M2297 7541l40 4l-50-12l-40-4M2380 7554l38 6l-50-11l-39-6M2461 7569l38 9l-51-11l-38-8M1595 7497l47-10l-44-9l-46 10M1678 7496l46-9l-44-9l-46 9M1761 7497l45-8l-45-10l-45 8M1843 7499l45-6l-45-10l-45 6M1926 7503l44-4l-46-11l-44 5M2009 7509l43-3l-46-11l-44 3M2668 7616l37 12l-52-11l-37-12M2831 7660l36 16l-52-12l-36-15"/><path fill="#102000" d="M692 7625l50-27l-39-4l-50 27"/><path fill="#101800" d="M774 7605l49-26l-39-4l-50 25M855 7586l49-24l-39-4l-50 23M937 7569l49-22l-40-5l-49 22"/><path fill="#101000" d="M1019 7554l49-21l-41-5l-49 20"/><path fill="#080000" d="M1513 7500l47-12l-44-8l-47 12"/><path fill="#000000" d="M2092 7517l42-2l-47-11l-43 1"/><path fill="#101000" d="M1101 7540l48-19l-41-6l-48 20"/><path fill="#000000" d="M2505 7579l38 8l-51-11l-38-8M2587 7597l37 10l-51-11l-38-10M2750 7637l36 14l-52-11l-36-14M2912 7685l36 18l-53-12l-36-17"/><path fill="#101000" d="M1183 7529l48-18l-41-6l-48 17"/><path fill="#080800" d="M1265 7519l48-16l-42-7l-48 16M1348 7511l47-15l-42-7l-48 14M1430 7504l47-13l-42-8l-48 14"/><path fill="#000000" d="M2175 7526l41 0l-48-11l-42-1M2258 7537l40 2l-49-12l-41-2M2340 7549l40 4l-50-11l-40-4M2423 7563l38 6l-50-11l-39-6"/><path fill="#080000" d="M1553 7505l47-12l-44-9l-47 12"/><path fill="#000000" d="M1636 7502l46-10l-44-9l-46 10M1719 7501l46-8l-45-10l-46 9M1802 7503l45-8l-45-10l-45 8M1885 7505l45-5l-46-11l-45 6M1968 7510l44-4l-46-11l-44 4M2051 7516l43-3l-47-11l-43 3M2794 7649l37 14l-52-12l-37-14M2957 7697l36 18l-53-13l-36-17"/><path fill="#182000" d="M647 7648l50-28l-39-4l-50 28M729 7626l50-26l-40-4l-49 26"/><path fill="#181800" d="M811 7606l49-25l-40-4l-49 25M893 7588l49-24l-40-5l-50 24M975 7571l49-22l-41-5l-49 22"/><path fill="#101000" d="M1057 7556l49-20l-41-6l-49 21"/><path fill="#080800" d="M1470 7509l47-13l-43-9l-47 14"/><path fill="#000000" d="M2135 7524l42-1l-48-12l-43 2M2549 7589l38 8l-52-11l-38-9M2631 7607l37 10l-52-11l-37-11"/><path fill="#101000" d="M1139 7543l49-19l-41-6l-49 19"/><path fill="#000000" d="M2466 7572l39 7l-51-12l-39-6M2713 7627l37 12l-53-12l-36-12M2876 7672l36 16l-53-12l-36-16"/><path fill="#101000" d="M1222 7532l48-17l-42-7l-48 17"/><path fill="#080800" d="M1305 7523l48-17l-43-7l-48 16M1387 7515l48-15l-43-8l-47 15"/><path fill="#000000" d="M2218 7534l41 0l-49-12l-41 0M2301 7545l40 2l-50-12l-40-2M2384 7558l39 4l-50-12l-40-4"/><path fill="#182000" d="M602 7672l50-29l-39-4l-50 30"/><path fill="#080800" d="M1511 7513l47-13l-44-8l-47 13"/><path fill="#080000" d="M1594 7510l46-12l-44-9l-46 12"/><path fill="#000000" d="M1677 7508l46-11l-44-9l-47 10M1760 7507l46-8l-45-10l-46 8M1844 7509l45-7l-46-11l-45 7M1927 7512l45-6l-47-11l-44 6M2011 7517l43-4l-47-12l-43 5M2094 7524l43-3l-48-12l-43 3M3003 7710l35 17l-53-13l-36-17M2921 7684l36 16l-53-13l-36-15"/><path fill="#182000" d="M684 7649l50-28l-39-4l-50 28M766 7628l50-27l-40-4l-50 26M848 7608l50-25l-40-5l-50 25"/><path fill="#181800" d="M931 7590l49-23l-41-6l-49 24M1013 7574l49-22l-41-6l-49 22M1096 7559l49-20l-42-6l-49 20"/><path fill="#080800" d="M1427 7519l48-14l-43-8l-48 14"/><path fill="#000000" d="M2178 7532l41-1l-48-12l-42 1M2510 7582l39 7l-52-12l-38-7M2593 7599l38 8l-52-12l-38-8M2675 7617l38 11l-53-12l-37-10M2757 7638l37 12l-52-12l-37-12"/><path fill="#101000" d="M1178 7547l49-19l-42-7l-48 19"/><path fill="#000000" d="M2427 7567l40 5l-51-13l-39-4M2839 7660l37 14l-53-12l-36-14"/><path fill="#101000" d="M1261 7536l49-18l-43-7l-48 18"/><path fill="#080800" d="M1344 7526l48-15l-43-8l-47 16"/><path fill="#000000" d="M2261 7542l41 1l-49-12l-41-1M2344 7554l40 2l-50-12l-40-2"/><path fill="#182800" d="M557 7698l50-30l-39-4l-50 31M639 7674l50-30l-39-4l-50 30"/><path fill="#080800" d="M1468 7524l47-15l-43-8l-48 14M1551 7518l47-13l-44-8l-47 13M1635 7515l46-12l-44-9l-47 12"/><path fill="#000000" d="M1718 7513l46-10l-45-10l-46 11M1802 7513l46-8l-46-10l-46 8M1886 7515l45-7l-46-11l-45 8M1969 7519l45-6l-47-11l-44 6M2053 7524l44-4l-48-11l-43 4M2137 7531l43-2l-48-12l-43 2M2967 7696l35 16l-53-13l-36-15M3048 7723l36 17l-54-13l-35-17M2885 7672l36 14l-53-13l-36-14"/><path fill="#182000" d="M721 7651l50-28l-40-4l-50 27M803 7630l50-27l-40-4l-50 26M886 7610l50-25l-41-5l-49 25"/><path fill="#181800" d="M969 7592l49-23l-41-5l-49 23M1052 7577l49-22l-42-6l-49 22M1135 7562l48-20l-41-6l-49 20"/><path fill="#100800" d="M1384 7531l48-16l-43-8l-48 16"/><path fill="#000000" d="M2221 7540l42-1l-49-12l-42 1M2471 7576l40 5l-52-12l-39-5M2555 7592l38 7l-52-13l-38-6M2637 7609l38 9l-52-12l-38-9M2720 7628l37 11l-52-13l-38-10M2803 7649l36 13l-53-13l-36-12"/><path fill="#101000" d="M1218 7550l48-19l-42-7l-49 19"/><path fill="#000000" d="M2388 7563l40 2l-50-12l-41-3"/><path fill="#101000" d="M1301 7539l48-17l-43-7l-48 17"/><path fill="#000000" d="M2304 7550l41 1l-49-12l-41-1"/><path fill="#182800" d="M512 7726l50-33l-39-3l-50 32M594 7699l50-30l-39-4l-51 31M676 7675l50-29l-39-4l-51 29"/><path fill="#100800" d="M1425 7535l47-16l-43-8l-48 16"/><path fill="#080800" d="M1508 7528l48-14l-44-8l-48 14M1592 7524l47-13l-44-9l-47 13M1676 7520l47-11l-45-9l-47 11"/><path fill="#000000" d="M1760 7519l46-10l-45-10l-46 10M1844 7520l45-9l-46-10l-45 8M1928 7522l45-7l-47-11l-45 7M2012 7526l44-5l-47-12l-44 6M2096 7532l44-4l-48-12l-44 4M2180 7539l43-2l-49-12l-42 2M2930 7684l37 14l-54-13l-36-14M3013 7709l35 16l-53-14l-36-15M3094 7736l36 17l-54-14l-35-17M2848 7661l37 12l-54-13l-36-12"/><path fill="#182000" d="M759 7653l50-28l-41-5l-50 28M841 7632l50-27l-40-5l-50 27M924 7613l50-25l-41-6l-50 25"/><path fill="#181800" d="M1007 7595l50-23l-42-6l-49 23M1090 7580l50-22l-42-6l-49 21M1174 7566l49-20l-43-7l-48 20"/><path fill="#101000" d="M1341 7544l48-18l-43-7l-48 17"/><path fill="#000000" d="M2264 7548l42 0l-49-13l-42 1M2432 7572l40 3l-51-13l-40-3M2516 7586l39 5l-52-13l-39-5M2599 7602l38 7l-52-13l-38-7M2682 7620l38 9l-53-13l-37-9M2765 7639l37 11l-52-13l-38-10"/><path fill="#101000" d="M1257 7554l49-19l-43-7l-48 19"/><path fill="#000000" d="M2348 7559l41 1l-50-12l-41-1"/><path fill="#103000" d="M466 7754l51-34l-39-3l-51 34"/><path fill="#183000" d="M548 7727l51-33l-39-3l-51 32"/><path fill="#182800" d="M631 7701l50-31l-40-4l-50 31"/><path fill="#202800" d="M713 7677l51-29l-40-5l-51 29"/><path fill="#101000" d="M1381 7548l48-17l-43-8l-48 17"/><path fill="#100800" d="M1465 7540l48-16l-44-8l-48 15"/><path fill="#080800" d="M1549 7533l48-14l-45-9l-47 15M1633 7529l47-13l-45-9l-46 13M1718 7526l46-11l-45-10l-47 11"/><path fill="#000000" d="M1802 7525l46-9l-46-11l-46 10M1886 7526l46-8l-47-11l-45 8M1971 7529l44-7l-47-11l-44 7M2055 7533l44-5l-48-12l-44 6M2139 7539l44-3l-49-12l-43 3M2224 7547l42-2l-49-12l-42 2M2894 7673l36 12l-53-13l-37-12M2976 7696l36 15l-53-14l-37-14M3059 7722l35 16l-54-14l-35-16M3141 7749l35 18l-54-14l-35-18"/><path fill="#101000" d="M1297 7558l49-19l-43-7l-49 18"/><path fill="#000000" d="M2308 7557l42 0l-50-13l-42 0M2811 7651l37 11l-53-13l-38-11"/><path fill="#202800" d="M796 7655l50-28l-40-5l-50 28"/><path fill="#202000" d="M879 7634l50-26l-41-6l-49 27M963 7615l49-24l-41-6l-50 25M1046 7598l49-23l-41-6l-50 23"/><path fill="#181800" d="M1130 7583l49-22l-42-6l-49 21M1213 7569l49-20l-42-7l-49 20"/><path fill="#000000" d="M2392 7568l41 2l-51-13l-40-1M2477 7581l39 4l-51-13l-40-4M2560 7596l39 5l-52-13l-39-5M2644 7612l38 8l-52-13l-38-7M2727 7631l38 9l-53-13l-37-9"/><path fill="#181000" d="M1337 7562l49-19l-44-7l-48 18"/><path fill="#000000" d="M2268 7556l42-2l-50-13l-42 2"/><path fill="#103000" d="M420 7784l51-35l-39-3l-51 35"/><path fill="#183000" d="M502 7755l51-33l-39-4l-51 34M585 7728l51-32l-40-4l-51 32"/><path fill="#202800" d="M668 7703l50-31l-40-5l-50 31M751 7679l50-29l-40-5l-50 29"/><path fill="#181800" d="M1253 7573l49-20l-43-7l-49 20"/><path fill="#101000" d="M1422 7552l48-17l-44-8l-48 17"/><path fill="#100800" d="M1506 7545l48-16l-45-9l-47 16"/><path fill="#080800" d="M1591 7539l47-14l-45-9l-47 14M1675 7535l47-13l-45-10l-47 13M1760 7532l46-11l-46-10l-46 11"/><path fill="#080000" d="M1844 7532l46-10l-46-10l-46 9"/><path fill="#000000" d="M1929 7533l45-8l-47-11l-45 8M2014 7536l44-6l-47-12l-45 7M2098 7541l44-5l-48-12l-44 5M2183 7548l43-4l-49-12l-43 3M2352 7566l42 0l-51-13l-41 0M2856 7663l37 11l-53-14l-37-11M2940 7685l36 13l-54-14l-36-13M3023 7709l36 15l-54-14l-37-15M3105 7735l36 16l-54-14l-36-16M3188 7763l35 17l-55-14l-35-18M2773 7642l38 9l-54-13l-37-9"/><path fill="#202800" d="M834 7657l50-28l-41-5l-50 28"/><path fill="#202000" d="M918 7637l50-27l-42-5l-49 26M1001 7618l50-25l-42-6l-49 25M1085 7601l50-23l-43-6l-49 23"/><path fill="#181800" d="M1169 7586l49-21l-42-7l-49 22"/><path fill="#000000" d="M2437 7578l40 1l-51-13l-40-1M2521 7591l40 4l-52-14l-40-3M2605 7606l39 6l-52-14l-39-5M2689 7623l38 8l-52-14l-39-7"/><path fill="#181800" d="M1293 7577l49-19l-43-8l-49 20"/><path fill="#000000" d="M2312 7565l42-2l-50-13l-42 2"/><path fill="#181000" d="M1378 7566l48-18l-43-8l-49 19"/><path fill="#000000" d="M2227 7556l43-3l-49-13l-43 3"/><path fill="#183000" d="M456 7785l51-35l-39-3l-51 35M539 7757l51-34l-40-4l-50 34"/><path fill="#203000" d="M622 7730l51-33l-40-4l-51 32M705 7704l51-30l-40-5l-51 31"/><path fill="#202800" d="M789 7681l50-29l-41-5l-50 29"/><path fill="#181800" d="M1209 7590l49-21l-43-7l-49 21"/><path fill="#101000" d="M1463 7557l48-17l-45-8l-48 17"/><path fill="#100800" d="M1547 7550l48-15l-45-9l-47 15M1632 7544l47-14l-45-9l-47 14"/><path fill="#080800" d="M1717 7541l47-13l-46-10l-47 13M1802 7539l46-11l-46-11l-46 11"/><path fill="#080000" d="M1887 7539l46-10l-47-11l-46 10"/><path fill="#000000" d="M1972 7540l45-8l-47-11l-45 8M2057 7544l44-7l-48-12l-44 7M2142 7549l44-5l-49-12l-44 5M2397 7575l41 0l-51-13l-41 0M2819 7654l37 9l-53-14l-38-9M2902 7675l37 11l-53-14l-37-11M2986 7697l36 13l-54-14l-36-12M3069 7722l36 15l-54-15l-36-14M3152 7749l36 16l-55-15l-36-16M2735 7634l38 8l-53-14l-38-7"/><path fill="#202800" d="M873 7659l50-27l-42-6l-50 28M956 7639l50-26l-41-6l-50 27"/><path fill="#202000" d="M1040 7621l50-24l-42-7l-50 25M1125 7605l49-23l-43-7l-49 23"/><path fill="#000000" d="M2482 7587l40 2l-51-13l-41-2M2566 7601l40 4l-52-14l-40-3M2651 7617l38 6l-52-14l-39-6"/><path fill="#201800" d="M1249 7594l49-21l-43-8l-49 22"/><path fill="#181800" d="M1334 7582l49-20l-44-8l-49 20"/><path fill="#000000" d="M2271 7565l43-3l-50-13l-42 3M2357 7574l41-2l-50-13l-42 2"/><path fill="#181000" d="M1419 7571l48-18l-44-8l-48 18"/><path fill="#000000" d="M2186 7557l43-4l-49-13l-43 5"/><path fill="#183000" d="M493 7787l51-36l-39-3l-51 35M576 7758l51-33l-40-5l-51 34"/><path fill="#203000" d="M660 7731l50-32l-40-4l-51 32M743 7707l51-31l-41-5l-50 31"/><path fill="#202800" d="M827 7683l50-29l-41-5l-50 29"/><path fill="#202000" d="M1164 7609l50-23l-43-7l-49 23"/><path fill="#101000" d="M1504 7562l48-16l-45-9l-48 17"/><path fill="#100800" d="M1589 7555l48-15l-46-9l-47 15M1674 7550l47-13l-45-10l-47 14"/><path fill="#080800" d="M1759 7547l47-12l-46-11l-47 13M1845 7545l46-10l-47-11l-46 11"/><path fill="#080000" d="M1930 7546l45-10l-47-11l-45 10"/><path fill="#000000" d="M2015 7548l45-8l-48-12l-45 8M2101 7552l44-7l-48-12l-45 7M2442 7585l41 0l-51-13l-41-1M2781 7646l38 7l-54-14l-38-7M2865 7666l37 9l-53-14l-38-9M2949 7687l37 11l-54-14l-37-11M3033 7710l36 13l-54-14l-37-13M3116 7736l36 14l-55-15l-36-14M2696 7628l39 6l-53-14l-39-6"/><path fill="#282800" d="M911 7662l50-27l-41-6l-50 27M995 7642l50-26l-42-6l-50 26"/><path fill="#202000" d="M1080 7625l49-25l-42-6l-50 24"/><path fill="#000000" d="M2527 7597l40 2l-52-13l-40-2M2612 7612l39 4l-52-14l-40-4"/><path fill="#202000" d="M1204 7613l50-23l-43-8l-50 23"/><path fill="#201800" d="M1290 7599l49-22l-44-7l-49 21"/><path fill="#181800" d="M1375 7587l48-20l-44-8l-48 19"/><path fill="#000000" d="M2230 7566l44-5l-50-13l-43 5M2316 7574l42-3l-50-13l-42 3M2401 7583l42-1l-51-13l-41 1"/><path fill="#181000" d="M1460 7576l48-18l-44-9l-49 19"/><path fill="#000000" d="M2145 7560l44-6l-49-13l-44 6"/><path fill="#183800" d="M530 7788l51-35l-40-4l-51 35"/><path fill="#203000" d="M613 7760l51-34l-40-4l-51 33M697 7734l51-32l-40-5l-51 32"/><path fill="#283000" d="M781 7709l51-31l-41-5l-51 31M866 7686l50-29l-41-6l-51 29"/><path fill="#282000" d="M1120 7628l49-24l-43-7l-49 24"/><path fill="#181000" d="M1545 7568l48-17l-45-9l-48 17"/><path fill="#100800" d="M1631 7561l47-15l-45-10l-48 16M1716 7557l47-14l-46-10l-47 13"/><path fill="#080800" d="M1802 7554l47-13l-47-10l-47 12M1888 7552l46-10l-47-11l-46 10"/><path fill="#080000" d="M1973 7553l46-9l-48-12l-45 10"/><path fill="#000000" d="M2059 7556l45-8l-48-12l-45 8M2487 7595l41 0l-52-14l-41 0M2742 7639l39 6l-53-14l-39-6M2827 7658l38 7l-54-14l-38-8M2911 7678l38 9l-54-14l-38-10M2996 7700l36 11l-54-15l-37-11M3080 7724l36 13l-55-15l-36-13M2657 7623l40 4l-53-14l-39-4"/><path fill="#282800" d="M950 7665l50-27l-42-6l-50 27M1035 7646l50-26l-43-7l-50 26"/><path fill="#000000" d="M2572 7608l40 2l-52-14l-40-2"/><path fill="#282000" d="M1160 7632l49-24l-43-7l-50 24"/><path fill="#202000" d="M1245 7617l49-23l-43-8l-50 23"/><path fill="#201800" d="M1330 7603l49-21l-44-8l-49 21"/><path fill="#181800" d="M1416 7592l49-20l-45-9l-49 20"/><path fill="#000000" d="M2189 7568l44-6l-49-12l-44 6M2275 7575l43-5l-50-13l-43 5M2361 7583l42-3l-50-13l-43 3M2447 7593l41-1l-51-14l-42 1"/><path fill="#181000" d="M1502 7582l48-18l-45-9l-48 18"/><path fill="#000000" d="M2103 7564l45-8l-49-12l-45 7"/><path fill="#203800" d="M567 7790l51-35l-40-5l-51 35M651 7762l51-34l-40-4l-51 33"/><path fill="#283000" d="M735 7736l51-32l-41-5l-50 32M820 7712l51-31l-42-5l-50 30M905 7689l50-29l-42-6l-50 29"/><path fill="#282800" d="M1074 7649l50-25l-42-7l-50 26"/><path fill="#181000" d="M1587 7574l48-17l-45-9l-48 16"/><path fill="#100800" d="M1673 7567l48-15l-46-10l-48 16M1759 7563l47-14l-46-10l-47 14"/><path fill="#080800" d="M1845 7560l46-12l-47-11l-46 13M1931 7560l46-11l-48-11l-46 10"/><path fill="#080000" d="M2017 7561l45-9l-48-12l-45 9"/><path fill="#000000" d="M2532 7605l41 1l-52-15l-41 0M2703 7634l40 4l-53-14l-40-5M2789 7651l38 6l-53-15l-39-6M2874 7670l37 8l-54-15l-38-8M2958 7690l38 10l-55-15l-37-9M3043 7713l37 11l-55-15l-37-11M2618 7618l40 3l-52-14l-41-3"/><path fill="#282800" d="M989 7668l51-27l-43-6l-50 27M1114 7653l50-26l-43-7l-50 26"/><path fill="#282000" d="M1200 7636l50-24l-44-7l-50 24"/><path fill="#202000" d="M1286 7621l49-22l-44-8l-49 23"/><path fill="#201800" d="M1372 7608l48-21l-44-8l-49 21M1457 7597l49-20l-45-9l-48 20"/><path fill="#000000" d="M2147 7572l45-7l-49-13l-45 7M2234 7577l43-6l-49-13l-44 6M2320 7584l43-4l-50-14l-44 5M2406 7593l42-3l-51-14l-42 3M2492 7603l42-1l-52-14l-42 1"/><path fill="#181000" d="M1543 7587l49-18l-46-9l-48 18"/><path fill="#080000" d="M2061 7569l45-9l-48-12l-46 9"/><path fill="#000000" d="M2578 7615l41 1l-52-14l-41-1"/><path fill="#203800" d="M605 7792l51-35l-40-5l-52 35"/><path fill="#283800" d="M689 7764l51-33l-41-5l-51 33"/><path fill="#283000" d="M774 7738l51-31l-42-6l-50 32M859 7714l50-30l-41-6l-51 31"/><path fill="#303000" d="M944 7692l50-29l-42-6l-50 29"/><path fill="#302800" d="M1029 7672l50-27l-42-7l-51 27"/><path fill="#181000" d="M1630 7580l47-17l-45-10l-48 17"/><path fill="#100800" d="M1716 7574l47-15l-46-10l-48 15M1802 7570l47-14l-47-10l-47 13"/><path fill="#080800" d="M1888 7568l47-12l-48-12l-46 12M1975 7567l45-10l-48-12l-45 11"/><path fill="#000000" d="M2664 7629l40 3l-53-15l-40-2M2750 7645l39 5l-53-15l-40-4M2835 7663l39 6l-54-15l-39-6M2920 7682l38 8l-54-15l-38-8M3005 7703l38 10l-55-15l-37-10M2538 7613l42 0l-52-15l-42 1"/><path fill="#303000" d="M983 7696l51-29l-43-7l-50 29"/><path fill="#302800" d="M1069 7676l50-28l-43-7l-50 28"/><path fill="#282800" d="M1155 7657l50-25l-44-8l-50 26"/><path fill="#282000" d="M1241 7641l49-24l-44-8l-49 24M1327 7626l49-22l-44-9l-50 23"/><path fill="#201800" d="M1413 7613l49-21l-45-8l-49 21M1499 7602l49-19l-45-9l-49 19"/><path fill="#080000" d="M2105 7577l45-9l-49-12l-45 9"/><path fill="#000000" d="M2192 7581l44-8l-49-12l-45 7M2279 7586l43-5l-50-14l-44 6M2365 7593l43-3l-51-14l-43 4M2452 7603l42-3l-51-14l-43 3M2624 7626l41 1l-53-14l-40-1"/><path fill="#181000" d="M1586 7593l48-18l-46-9l-48 18"/><path fill="#080800" d="M2019 7575l45-10l-48-12l-46 10"/><path fill="#283800" d="M643 7794l51-35l-41-5l-51 35M728 7767l51-34l-42-5l-51 34M813 7741l51-32l-42-5l-51 32"/><path fill="#303000" d="M898 7718l51-31l-43-6l-50 31"/><path fill="#181000" d="M1672 7586l48-17l-46-10l-48 17"/><path fill="#100800" d="M1759 7580l47-14l-47-11l-47 15M1845 7577l47-14l-47-11l-47 14M1932 7575l46-12l-48-11l-46 12"/><path fill="#000000" d="M2711 7641l39 3l-53-15l-40-3M2796 7657l40 5l-54-16l-39-4M2882 7675l39 6l-55-15l-38-6M2968 7695l38 8l-55-15l-38-8"/><path fill="#303000" d="M1023 7699l51-28l-43-7l-51 29"/><path fill="#000000" d="M2584 7624l42 0l-53-15l-41 1M2498 7613l42-2l-52-15l-42 3"/><path fill="#303000" d="M937 7721l51-30l-42-7l-51 31"/><path fill="#302800" d="M1109 7680l50-27l-43-8l-50 28"/><path fill="#282800" d="M1195 7662l50-26l-44-8l-49 26"/><path fill="#282000" d="M1282 7646l49-24l-44-9l-50 25"/><path fill="#281800" d="M1368 7631l49-22l-44-9l-50 23"/><path fill="#201800" d="M1455 7619l49-21l-46-9l-48 21M1541 7608l49-19l-46-10l-48 20"/><path fill="#080800" d="M2063 7583l46-10l-49-12l-46 10"/><path fill="#080000" d="M2150 7585l45-8l-49-13l-45 9M2237 7590l44-7l-50-14l-44 7"/><path fill="#000000" d="M2324 7596l43-6l-50-14l-44 6M2411 7603l43-3l-52-15l-42 4M2671 7637l40 2l-53-15l-40-1"/><path fill="#181000" d="M1628 7599l48-17l-46-10l-48 18"/><path fill="#100800" d="M1976 7583l46-12l-48-12l-46 12"/><path fill="#283800" d="M681 7797l51-35l-41-6l-51 35M766 7770l51-34l-41-5l-51 33"/><path fill="#303800" d="M852 7744l51-31l-42-6l-51 31"/><path fill="#181000" d="M1715 7592l48-16l-47-10l-48 16"/><path fill="#100800" d="M1802 7587l47-14l-47-11l-47 15M1889 7584l47-13l-48-11l-47 13"/><path fill="#000000" d="M2757 7652l40 3l-53-15l-40-3M2844 7669l39 5l-55-16l-39-4M2930 7688l38 6l-55-15l-38-7"/><path fill="#383800" d="M977 7725l51-30l-43-7l-51 30"/><path fill="#303000" d="M1063 7703l51-28l-43-7l-51 28"/><path fill="#000000" d="M2544 7623l42-1l-52-15l-42 2M2631 7635l41 0l-53-15l-41 0M2457 7613l43-3l-52-15l-43 4"/><path fill="#303800" d="M891 7748l51-32l-42-6l-51 32"/><path fill="#302800" d="M1150 7684l50-27l-44-8l-50 28M1236 7666l50-25l-44-8l-50 25"/><path fill="#282000" d="M1323 7651l50-24l-45-9l-50 24"/><path fill="#281800" d="M1410 7637l49-23l-45-9l-49 23"/><path fill="#201800" d="M1497 7625l49-21l-46-10l-49 21M1584 7614l49-19l-47-10l-48 20"/><path fill="#100800" d="M2020 7591l46-12l-48-12l-46 12"/><path fill="#080800" d="M2108 7592l45-10l-49-13l-46 10M2195 7594l45-8l-50-13l-45 8"/><path fill="#080000" d="M2282 7599l44-7l-50-13l-44 6"/><path fill="#000000" d="M2370 7605l43-5l-51-14l-44 5M2718 7649l40 1l-53-15l-41-1"/><path fill="#201000" d="M1671 7606l48-18l-46-10l-48 18"/><path fill="#100800" d="M1933 7592l47-13l-49-12l-46 13"/><path fill="#283800" d="M720 7799l51-34l-41-6l-52 35"/><path fill="#303800" d="M805 7773l51-34l-41-5l-52 33"/><path fill="#181000" d="M1758 7599l48-16l-47-11l-48 17"/><path fill="#180800" d="M1846 7595l47-15l-48-11l-47 15"/><path fill="#000000" d="M2804 7664l40 4l-54-16l-40-3M2891 7681l39 6l-55-16l-39-5"/><path fill="#383800" d="M931 7751l51-31l-43-7l-51 32M1017 7729l51-30l-43-7l-51 30"/><path fill="#303000" d="M1104 7708l51-29l-44-7l-51 28"/><path fill="#000000" d="M2416 7615l43-5l-51-14l-44 5M2503 7624l43-3l-52-15l-43 3M2591 7634l41-1l-52-15l-42 1M2678 7647l41 0l-53-16l-41 0"/><path fill="#303800" d="M845 7776l51-33l-42-6l-52 33"/><path fill="#302800" d="M1191 7689l50-27l-44-8l-50 27M1278 7671l50-25l-45-8l-50 25"/><path fill="#282000" d="M1365 7656l49-24l-45-9l-49 24"/><path fill="#281800" d="M1452 7642l49-22l-45-9l-49 22M1539 7631l49-21l-46-10l-49 21"/><path fill="#201000" d="M1627 7621l48-20l-46-10l-49 20"/><path fill="#100800" d="M1977 7600l47-13l-49-12l-46 13M2065 7599l46-11l-49-13l-46 12"/><path fill="#080800" d="M2153 7600l45-9l-50-13l-45 10M2240 7604l45-9l-50-13l-45 8"/><path fill="#080000" d="M2328 7608l44-6l-51-14l-44 7"/><path fill="#000000" d="M2765 7661l40 1l-53-15l-41-2"/><path fill="#304000" d="M759 7802l51-34l-42-6l-51 35"/><path fill="#201000" d="M1714 7613l48-18l-47-11l-48 18"/><path fill="#181000" d="M1802 7606l48-16l-48-11l-48 17"/><path fill="#180800" d="M1890 7602l47-14l-48-12l-47 15"/><path fill="#000000" d="M2852 7677l40 3l-55-16l-39-3"/><path fill="#384000" d="M884 7780l52-34l-43-6l-51 33"/><path fill="#383800" d="M971 7755l51-31l-43-7l-51 32M1058 7733l51-30l-44-7l-51 30"/><path fill="#383000" d="M1145 7712l50-28l-44-8l-50 29"/><path fill="#080000" d="M2374 7618l44-6l-51-14l-44 6"/><path fill="#000000" d="M2462 7626l43-5l-52-15l-43 5M2550 7635l42-4l-52-14l-43 3M2638 7646l41-2l-53-15l-42 1M2725 7658l41 0l-53-15l-42 0"/><path fill="#304000" d="M798 7806l51-35l-42-6l-51 35"/><path fill="#302800" d="M1232 7694l50-27l-44-9l-50 27"/><path fill="#302000" d="M1320 7677l49-26l-45-8l-50 25M1407 7661l50-23l-46-9l-49 24"/><path fill="#281800" d="M1495 7648l49-22l-46-9l-49 22M1582 7637l49-21l-46-10l-49 21"/><path fill="#201000" d="M1670 7627l49-19l-47-10l-49 19"/><path fill="#180800" d="M1934 7610l47-14l-49-12l-47 14"/><path fill="#100800" d="M2022 7608l46-13l-49-12l-46 13M2110 7608l46-11l-50-13l-46 11"/><path fill="#080800" d="M2198 7609l45-9l-50-13l-45 9M2286 7613l45-8l-51-14l-45 8"/><path fill="#000000" d="M2813 7673l40 2l-54-16l-41-2"/><path fill="#201000" d="M1758 7620l48-18l-47-11l-48 18"/><path fill="#181000" d="M1846 7614l47-16l-48-11l-47 16"/><path fill="#384000" d="M838 7809l51-34l-43-7l-51 35M924 7784l52-34l-43-6l-52 33"/><path fill="#383800" d="M1011 7760l52-32l-44-7l-51 31M1099 7737l51-30l-45-7l-50 30"/><path fill="#383000" d="M1186 7717l51-28l-45-8l-50 28"/><path fill="#080800" d="M2332 7623l45-8l-51-14l-45 8"/><path fill="#080000" d="M2420 7629l44-7l-51-14l-44 6"/><path fill="#000000" d="M2509 7636l43-4l-52-15l-44 5M2597 7646l42-3l-53-15l-42 3M2685 7657l42-1l-54-16l-42 2M2773 7670l41 1l-54-16l-41 0"/><path fill="#302800" d="M1274 7699l50-27l-45-9l-50 27"/><path fill="#302000" d="M1362 7682l49-25l-45-9l-50 25M1449 7667l50-23l-46-10l-49 24"/><path fill="#281800" d="M1537 7654l50-22l-47-9l-49 22M1626 7643l48-20l-47-10l-48 20"/><path fill="#201000" d="M1714 7634l48-19l-47-10l-49 19M1802 7627l48-17l-48-12l-48 18"/><path fill="#181000" d="M1890 7622l48-16l-49-12l-47 16"/><path fill="#180800" d="M1979 7618l47-14l-49-12l-47 14"/><path fill="#100800" d="M2067 7617l46-13l-49-13l-46 13M2155 7617l46-11l-50-13l-46 11"/><path fill="#080800" d="M2244 7619l45-10l-51-13l-45 9"/><path fill="#384000" d="M877 7813l52-35l-43-6l-51 35"/><path fill="#404000" d="M965 7788l51-33l-43-7l-52 33"/><path fill="#403800" d="M1052 7764l51-31l-44-8l-51 32"/><path fill="#383000" d="M1140 7742l51-30l-45-8l-50 30M1228 7722l50-28l-45-8l-50 28"/><path fill="#201000" d="M1846 7635l48-18l-48-11l-48 17"/><path fill="#181000" d="M1935 7630l47-16l-48-12l-48 16"/><path fill="#100800" d="M2290 7629l45-10l-51-14l-45 10"/><path fill="#080800" d="M2379 7633l44-8l-52-14l-44 8"/><path fill="#080000" d="M2467 7639l44-6l-52-15l-44 7"/><path fill="#000000" d="M2556 7647l43-4l-53-15l-43 4M2644 7657l43-3l-54-15l-42 3M2733 7669l41-1l-54-16l-41 1"/><path fill="#382800" d="M1316 7704l50-27l-45-8l-51 26"/><path fill="#302000" d="M1404 7688l50-25l-46-9l-50 25M1492 7674l50-24l-47-10l-49 24"/><path fill="#281800" d="M1581 7661l49-22l-47-10l-49 22M1669 7650l49-20l-47-11l-49 21"/><path fill="#201000" d="M1758 7642l48-19l-48-11l-48 19"/><path fill="#180800" d="M2024 7627l47-14l-50-13l-47 14"/><path fill="#100800" d="M2112 7625l47-12l-50-13l-46 13M2201 7626l46-11l-51-13l-45 11"/><path fill="#384000" d="M918 7817l51-34l-43-7l-52 34"/><path fill="#404000" d="M1005 7792l52-33l-44-7l-51 33"/><path fill="#403800" d="M1093 7769l51-32l-44-7l-51 31"/><path fill="#383000" d="M1181 7747l51-30l-45-8l-50 30M1270 7728l50-29l-45-8l-51 28"/><path fill="#281000" d="M1802 7649l48-19l-48-11l-48 19"/><path fill="#201000" d="M1891 7643l48-17l-49-12l-48 17"/><path fill="#180800" d="M2069 7635l47-14l-50-12l-47 14"/><path fill="#100800" d="M2247 7636l46-11l-51-14l-46 11M2336 7639l45-10l-51-14l-45 10"/><path fill="#080800" d="M2425 7643l45-7l-52-15l-45 8"/><path fill="#080000" d="M2514 7650l44-6l-53-15l-43 6"/><path fill="#000000" d="M2603 7659l43-5l-53-15l-43 4M2692 7669l42-3l-54-16l-42 3"/><path fill="#382800" d="M1358 7710l50-27l-45-9l-51 27"/><path fill="#302000" d="M1447 7694l50-25l-47-10l-50 26M1535 7680l50-24l-47-9l-49 23"/><path fill="#301800" d="M1624 7668l49-22l-47-10l-49 22"/><path fill="#281800" d="M1713 7658l49-21l-48-11l-49 21"/><path fill="#180800" d="M2158 7635l46-13l-50-13l-46 12"/><path fill="#201000" d="M1980 7638l47-15l-49-13l-47 16"/><path fill="#404000" d="M958 7822l52-35l-44-7l-51 34M1047 7797l51-33l-44-8l-52 33"/><path fill="#403800" d="M1135 7774l51-32l-45-8l-51 32"/><path fill="#403000" d="M1223 7753l51-30l-45-9l-51 30"/><path fill="#382800" d="M1312 7733l51-28l-46-9l-51 29"/><path fill="#281800" d="M1757 7665l49-20l-48-11l-49 20"/><path fill="#281000" d="M1847 7657l48-19l-49-11l-48 19"/><path fill="#201000" d="M1936 7651l48-17l-49-12l-48 17M2025 7647l48-16l-50-12l-47 15"/><path fill="#180800" d="M2204 7644l46-12l-50-14l-46 13"/><path fill="#100800" d="M2294 7646l45-11l-51-14l-46 11M2383 7649l45-9l-52-15l-45 10"/><path fill="#080800" d="M2473 7654l44-7l-53-15l-44 7"/><path fill="#080000" d="M2562 7661l43-5l-53-16l-43 6"/><path fill="#000000" d="M2651 7670l43-4l-54-16l-43 5"/><path fill="#382800" d="M1401 7716l50-27l-46-9l-50 27"/><path fill="#382000" d="M1490 7700l50-25l-47-9l-50 25"/><path fill="#302000" d="M1579 7687l49-24l-47-10l-49 24"/><path fill="#301800" d="M1668 7675l49-22l-48-11l-49 22"/><path fill="#180800" d="M2115 7645l47-14l-51-13l-46 14"/><path fill="#404800" d="M999 7826l52-34l-44-8l-52 35"/><path fill="#404000" d="M1088 7802l51-33l-44-8l-52 33"/><path fill="#403800" d="M1177 7779l51-31l-45-9l-51 32"/><path fill="#403000" d="M1266 7758l50-29l-45-9l-51 30"/><path fill="#382800" d="M1355 7739l50-28l-46-9l-50 28"/><path fill="#301800" d="M1712 7682l49-21l-48-11l-49 21"/><path fill="#281800" d="M1802 7673l49-20l-49-12l-49 20"/><path fill="#281000" d="M1892 7665l48-18l-49-12l-48 18"/><path fill="#201000" d="M1981 7660l48-17l-49-13l-48 17"/><path fill="#180800" d="M2161 7654l47-14l-51-13l-47 14M2251 7654l46-12l-51-14l-46 12"/><path fill="#100800" d="M2341 7656l45-11l-52-14l-45 11M2430 7660l45-9l-52-15l-45 9"/><path fill="#080800" d="M2520 7665l44-7l-53-15l-44 7"/><path fill="#080000" d="M2610 7673l43-6l-53-15l-44 5"/><path fill="#382800" d="M1444 7722l50-26l-46-10l-51 27"/><path fill="#382000" d="M1533 7707l50-25l-47-10l-50 25"/><path fill="#302000" d="M1623 7694l49-23l-47-11l-50 23"/><path fill="#201000" d="M2071 7656l47-16l-50-12l-47 15"/><path fill="#484800" d="M1041 7831l52-34l-45-8l-52 34"/><path fill="#484000" d="M1130 7807l51-33l-45-8l-51 33"/><path fill="#403800" d="M1219 7785l51-32l-45-8l-52 31"/><path fill="#403000" d="M1308 7764l51-29l-46-10l-51 30"/><path fill="#402800" d="M1398 7746l50-28l-46-10l-51 28"/><path fill="#302000" d="M1667 7701l49-23l-48-11l-49 23"/><path fill="#301800" d="M1757 7690l49-21l-49-12l-49 22"/><path fill="#281800" d="M1847 7681l49-20l-49-12l-49 20"/><path fill="#281000" d="M1937 7674l48-19l-49-12l-48 19"/><path fill="#201000" d="M2027 7669l48-17l-50-13l-48 17M2117 7665l47-15l-50-13l-47 15"/><path fill="#180800" d="M2208 7664l46-14l-51-14l-47 14M2298 7664l46-12l-52-14l-46 12"/><path fill="#100800" d="M2388 7667l45-11l-52-15l-45 11M2478 7671l45-9l-53-15l-45 9"/><path fill="#080800" d="M2568 7677l44-7l-53-16l-44 7"/><path fill="#382800" d="M1487 7729l51-27l-47-10l-51 27"/><path fill="#382000" d="M1577 7714l50-25l-48-10l-49 25"/><path fill="#484800" d="M1083 7837l51-35l-45-8l-51 34"/><path fill="#484000" d="M1172 7813l51-33l-45-9l-51 33"/><path fill="#403800" d="M1262 7791l51-32l-46-9l-51 32"/><path fill="#403000" d="M1351 7771l51-30l-46-10l-51 30"/><path fill="#402800" d="M1441 7752l51-28l-47-10l-51 28"/><path fill="#382800" d="M1531 7736l50-26l-47-11l-50 27"/><path fill="#382000" d="M1621 7721l50-24l-48-11l-50 25"/><path fill="#381800" d="M1712 7709l49-23l-48-12l-50 24"/><path fill="#301800" d="M1802 7698l49-21l-49-12l-49 22M1892 7690l49-20l-50-13l-48 20"/><path fill="#281000" d="M1983 7683l48-19l-50-12l-48 18M2073 7678l48-17l-51-13l-47 17"/><path fill="#201000" d="M2164 7675l47-15l-51-14l-47 15"/><path fill="#200800" d="M2255 7674l46-14l-52-14l-46 14"/><path fill="#180800" d="M2345 7675l46-12l-52-15l-46 12"/><path fill="#100800" d="M2436 7677l45-10l-53-15l-45 10M2526 7682l45-9l-54-15l-44 9"/><path fill="#484000" d="M1125 7842l51-34l-45-9l-52 35"/><path fill="#402800" d="M1485 7759l50-28l-47-10l-50 28"/><path fill="#281000" d="M2120 7687l47-16l-51-14l-47 17"/><path fill="#484000" d="M1214 7819l52-33l-46-9l-51 33"/><path fill="#483800" d="M1304 7797l52-31l-47-10l-51 32"/><path fill="#403000" d="M1395 7777l50-29l-46-10l-51 29"/><path fill="#382000" d="M1575 7743l51-26l-48-11l-50 27M1666 7729l50-25l-49-11l-49 25"/><path fill="#381800" d="M1757 7717l49-23l-49-12l-49 23"/><path fill="#301800" d="M1847 7707l49-22l-49-12l-49 22M1938 7698l49-20l-50-12l-49 20"/><path fill="#281000" d="M2029 7692l48-18l-50-13l-48 18"/><path fill="#201000" d="M2211 7685l47-15l-52-14l-47 15"/><path fill="#200800" d="M2302 7684l46-13l-52-15l-46 14"/><path fill="#180800" d="M2393 7686l45-12l-52-15l-46 12"/><path fill="#100800" d="M2484 7689l45-10l-53-16l-46 10"/><path fill="#484000" d="M1167 7848l52-34l-46-9l-52 34"/><path fill="#483800" d="M1257 7825l52-33l-46-9l-52 33"/><path fill="#483000" d="M1348 7803l51-31l-47-9l-51 31"/><path fill="#403000" d="M1438 7784l51-30l-47-10l-51 30"/><path fill="#402800" d="M1529 7766l51-27l-48-11l-51 28"/><path fill="#402000" d="M1620 7751l50-26l-48-11l-50 26"/><path fill="#382000" d="M1711 7737l50-25l-49-11l-50 25"/><path fill="#381800" d="M1802 7725l49-23l-49-12l-49 23"/><path fill="#301800" d="M1893 7715l49-21l-50-12l-49 21M1984 7707l49-19l-51-13l-48 20"/><path fill="#281000" d="M2076 7701l48-18l-51-13l-48 18M2167 7697l47-16l-51-14l-47 17"/><path fill="#201000" d="M2258 7695l47-15l-52-14l-47 15"/><path fill="#200800" d="M2349 7695l47-13l-53-15l-46 13"/><path fill="#180800" d="M2441 7697l45-12l-53-15l-45 12"/><path fill="#483000" d="M1391 7810l52-31l-48-10l-51 31"/><path fill="#402800" d="M1574 7774l50-28l-48-11l-51 28"/><path fill="#301000" d="M2031 7717l48-20l-51-13l-48 20"/><path fill="#281000" d="M2123 7711l47-18l-51-13l-48 18M2214 7708l48-17l-52-14l-48 17"/><path fill="#483800" d="M1301 7831l51-32l-47-10l-51 33"/><path fill="#483000" d="M1482 7791l51-29l-47-11l-51 30"/><path fill="#402000" d="M1665 7759l50-27l-49-11l-50 26"/><path fill="#382000" d="M1756 7745l50-24l-49-12l-50 25"/><path fill="#381800" d="M1848 7734l49-23l-50-12l-49 23"/><path fill="#301800" d="M1939 7724l49-21l-50-13l-49 22"/><path fill="#201000" d="M2306 7706l47-15l-53-15l-46 15"/><path fill="#200800" d="M2398 7706l46-13l-53-15l-46 13"/><path fill="#484000" d="M1210 7854l52-34l-47-9l-51 34"/><path fill="#482800" d="M1527 7799l51-30l-48-11l-51 30"/><path fill="#504000" d="M1253 7861l52-35l-47-9l-51 34"/><path fill="#483800" d="M1344 7838l52-33l-47-10l-52 33"/><path fill="#483000" d="M1435 7817l52-31l-48-10l-51 31"/><path fill="#402800" d="M1619 7782l50-28l-49-11l-50 28"/><path fill="#402000" d="M1710 7767l50-26l-49-12l-50 26M1802 7754l50-25l-50-12l-50 25"/><path fill="#381800" d="M1894 7743l49-23l-50-13l-49 23M1986 7734l49-21l-51-14l-49 22"/><path fill="#301000" d="M2078 7727l48-20l-51-14l-48 20M2170 7721l48-17l-52-15l-48 18"/><path fill="#281000" d="M2262 7718l47-16l-52-15l-47 17M2354 7717l47-15l-53-15l-47 15"/><path fill="#504000" d="M1297 7867l52-34l-48-10l-51 35"/><path fill="#483000" d="M1480 7825l51-31l-48-11l-51 31"/><path fill="#402800" d="M1664 7790l50-28l-49-11l-50 27"/><path fill="#381800" d="M1940 7752l50-23l-51-13l-49 23M2033 7744l48-22l-51-13l-48 21"/><path fill="#301000" d="M2125 7737l48-20l-51-14l-49 20M2218 7732l47-18l-52-14l-48 18"/><path fill="#281000" d="M2310 7729l47-16l-53-15l-47 16"/><path fill="#483800" d="M1388 7845l52-32l-48-11l-51 33"/><path fill="#482800" d="M1572 7806l51-29l-49-11l-51 29"/><path fill="#402000" d="M1756 7775l50-26l-50-12l-50 26M1848 7763l50-25l-50-12l-50 24"/><path fill="#503800" d="M1433 7853l51-33l-48-11l-51 33"/><path fill="#482800" d="M1617 7815l51-30l-49-11l-51 29"/><path fill="#402000" d="M1802 7784l50-26l-50-12l-50 26"/><path fill="#504000" d="M1341 7874l51-34l-47-10l-52 34"/><path fill="#483000" d="M1525 7833l51-31l-49-11l-51 31"/><path fill="#482800" d="M1709 7798l51-27l-50-12l-50 28"/><path fill="#401800" d="M1895 7772l49-24l-50-13l-50 24"/><path fill="#381800" d="M1987 7762l49-23l-51-13l-49 23M2080 7754l49-21l-52-14l-49 21"/><path fill="#301000" d="M2173 7747l48-19l-52-14l-48 19M2266 7743l47-18l-52-15l-48 18"/><path fill="#504000" d="M1385 7882l52-34l-48-11l-52 34"/><path fill="#483000" d="M1570 7841l51-31l-49-12l-51 31"/><path fill="#482000" d="M1756 7807l50-27l-50-13l-50 28"/><path fill="#402000" d="M1848 7794l50-26l-50-13l-50 26"/><path fill="#401800" d="M1942 7782l49-25l-51-13l-49 25M2035 7772l49-23l-52-13l-49 22"/><path fill="#381800" d="M2128 7764l48-21l-52-14l-48 21"/><path fill="#381000" d="M2221 7758l48-19l-53-15l-48 19"/><path fill="#503800" d="M1477 7860l52-32l-48-11l-52 32"/><path fill="#482800" d="M1663 7823l51-29l-50-12l-51 29"/><path fill="#503800" d="M1523 7868l51-32l-49-11l-51 32"/><path fill="#482800" d="M1709 7832l51-29l-50-13l-51 30"/><path fill="#401800" d="M2082 7782l49-22l-52-14l-49 22"/><path fill="#503800" d="M1430 7890l52-35l-49-10l-52 34"/><path fill="#503000" d="M1616 7849l51-31l-50-11l-51 30"/><path fill="#482000" d="M1802 7816l50-27l-50-13l-50 28M1895 7803l50-26l-51-13l-50 26"/><path fill="#401800" d="M1989 7792l49-25l-51-13l-50 24"/><path fill="#381800" d="M2176 7775l48-21l-52-15l-49 21"/><path fill="#503800" d="M1475 7898l52-35l-49-11l-52 34"/><path fill="#503000" d="M1662 7858l51-31l-50-12l-51 31"/><path fill="#482800" d="M1755 7841l51-29l-50-13l-51 29"/><path fill="#482000" d="M1849 7826l50-28l-51-12l-50 27M1943 7813l50-26l-52-13l-50 26"/><path fill="#401800" d="M2130 7793l49-23l-52-14l-49 22"/><path fill="#503000" d="M1568 7877l52-33l-50-11l-51 32"/><path fill="#401800" d="M2037 7802l49-24l-52-14l-49 24"/><path fill="#482000" d="M1896 7836l50-28l-51-13l-50 27"/><path fill="#503000" d="M1614 7885l52-32l-50-12l-52 33"/><path fill="#502800" d="M1802 7850l51-29l-51-13l-51 30"/><path fill="#482000" d="M1990 7823l50-26l-52-13l-49 25"/><path fill="#583800" d="M1520 7906l52-34l-49-12l-52 35"/><path fill="#502800" d="M1708 7867l51-31l-50-12l-51 31"/><path fill="#401800" d="M2085 7813l49-25l-52-14l-50 24"/><path fill="#583800" d="M1566 7915l52-34l-49-12l-52 34"/><path fill="#503000" d="M1660 7895l52-33l-50-12l-52 32"/><path fill="#502800" d="M1755 7876l51-30l-51-13l-51 31M1849 7860l51-29l-51-13l-51 29"/><path fill="#482000" d="M1944 7846l50-27l-52-14l-50 27M2038 7834l50-26l-52-14l-50 26"/><path fill="#502800" d="M1802 7886l51-31l-51-13l-51 31"/><path fill="#583000" d="M1707 7904l52-32l-51-13l-51 32"/><path fill="#502800" d="M1897 7870l51-29l-52-13l-51 29"/><path fill="#583800" d="M1613 7924l51-34l-50-13l-51 35"/><path fill="#482000" d="M1992 7856l50-27l-52-14l-50 27"/><path fill="#583800" d="M1659 7933l52-34l-50-12l-52 34"/><path fill="#583000" d="M1754 7914l52-33l-51-13l-52 33"/><path fill="#502800" d="M1850 7896l51-30l-52-14l-51 31"/><path fill="#502000" d="M1945 7881l51-29l-52-14l-51 29"/><path fill="#583800" d="M1706 7943l52-34l-51-13l-51 34"/><path fill="#583000" d="M1802 7924l52-32l-52-14l-51 32"/><path fill="#502800" d="M1898 7907l51-31l-52-14l-51 31"/><path fill="#583000" d="M1754 7953l52-34l-52-13l-51 34M1850 7934l52-32l-52-14l-52 32M1802 7963l52-34l-52-13l-52 34"/></g><polyline fill="none" stroke="#0c1408" stroke-opacity="0.75" stroke-width="0.9" stroke-linejoin="round" points="38.5,778 42.1,778 45.7,778.1 49.4,778.3 53.1,778.4 56.8,778.6 60.6,778.8 64.4,779 68.2,779.3 72.1,779.5 76,779.9 79.9,780.2 83.8,780.5 87.8,780.9 91.9,781.3 95.9,781.8 100,782.2 104.1,782.7 108.3,783.3 112.5,783.8 116.8,784.4 121,785 125.4,785.7 129.7,786.3 134.1,787 138.5,787.8 143,788.6 147.5,789.4 152.1,790.2 156.6,791.1 161.3,792 165.9,792.9 170.7,793.9 175.4,794.9 180.2,795.9 180.2,795.9 185,793 189.8,790.3 194.5,787.7 199.2,785.2 203.8,783 208.4,780.9 213,778.9 217.5,777.1 222,775.4 226.5,773.9 230.9,772.5 235.3,771.3 239.7,770.2 244,769.3 248.2,768.5 252.5,767.8 256.7,767.3 260.8,766.9 264.9,766.7 269,766.6 273,766.6 277,766.7 281,767 284.9,767.4 288.8,767.9 292.6,768.6 296.4,769.3 300.2,770.2 303.9,771.2 307.6,772.3 311.2,773.6 314.8,774.9 318.4,776.3 321.9,777.9"/>
<circle cx="38.2" cy="780.8" r="2.9" fill="#c8000c" stroke="#5a0000" stroke-width="0.7"/>
<circle cx="197.9" cy="751.5" r="2.9" fill="#c8000c" stroke="#5a0000" stroke-width="0.7"/>
<circle cx="321.7" cy="775.4" r="2.9" fill="#c8000c" stroke="#5a0000" stroke-width="0.7"/>
<circle cx="179.8" cy="795.2" r="2.9" fill="#c8000c" stroke="#5a0000" stroke-width="0.7"/>
<circle cx="42" cy="849.1" r="1.45" fill="#000"/>
<circle cx="40.2" cy="813.6" r="1.45" fill="#000"/>
<circle cx="38.5" cy="778.1" r="1.45" fill="#000"/>
<circle cx="36.8" cy="742.6" r="1.45" fill="#000"/>
<circle cx="35.1" cy="707.1" r="1.45" fill="#000"/>
<circle cx="44.1" cy="893.8" r="1.45" fill="#000"/>
<circle cx="112.2" cy="926.3" r="1.45" fill="#000"/>
<circle cx="180.2" cy="958.8" r="1.45" fill="#000"/>
<circle cx="248.2" cy="926.3" r="1.45" fill="#000"/>
<circle cx="316.3" cy="893.8" r="1.45" fill="#000"/>
<text x="36.8" y="845.7" font-size="13.2" text-anchor="end" textLength="12.7" lengthAdjust="spacingAndGlyphs">15</text>
<text x="35" y="810.2" font-size="13.2" text-anchor="end" textLength="12.7" lengthAdjust="spacingAndGlyphs">20</text>
<text x="33.3" y="774.7" font-size="13.2" text-anchor="end" textLength="12.7" lengthAdjust="spacingAndGlyphs">25</text>
<text x="31.6" y="739.2" font-size="13.2" text-anchor="end" textLength="12.7" lengthAdjust="spacingAndGlyphs">30</text>
<text x="29.9" y="703.7" font-size="13.2" text-anchor="end" textLength="12.7" lengthAdjust="spacingAndGlyphs">35</text>
<text x="4.4" y="704.8" font-size="18.8" text-anchor="start" textLength="7.9" lengthAdjust="spacingAndGlyphs" stroke="#222" stroke-width="0.25">e</text>
<text transform="translate(11.8 798.7) rotate(-90)" font-size="15" text-anchor="middle" textLength="146" lengthAdjust="spacingAndGlyphs">Total flavonoids content</text>
<text x="37.9" y="906.4" font-size="13.2" text-anchor="end" textLength="28.7" lengthAdjust="spacingAndGlyphs">0.025</text>
<text x="106" y="938.9" font-size="13.2" text-anchor="end" textLength="28.7" lengthAdjust="spacingAndGlyphs">0.021</text>
<text x="174.8" y="972" font-size="13.2" text-anchor="end" textLength="28.7" lengthAdjust="spacingAndGlyphs">0.017</text>
<text x="186.2" y="972" font-size="13.2" text-anchor="start" textLength="19" lengthAdjust="spacingAndGlyphs">280</text>
<text x="255.2" y="938.9" font-size="13.2" text-anchor="start" textLength="19" lengthAdjust="spacingAndGlyphs">320</text>
<text x="323.3" y="906.4" font-size="13.2" text-anchor="start" textLength="19" lengthAdjust="spacingAndGlyphs">360</text>
<text x="62.3" y="953.3" font-size="14.2" text-anchor="start" textLength="15.8" lengthAdjust="spacingAndGlyphs">X4</text>
<text x="276" y="952" font-size="14.2" text-anchor="start" textLength="15.8" lengthAdjust="spacingAndGlyphs">X2</text></g>
<g><line x1="385.2" y1="844.2" x2="526.4" y2="796.4" stroke="#666" stroke-width="0.7"/>
<line x1="526.4" y1="796.4" x2="667.6" y2="844.2" stroke="#666" stroke-width="0.7"/>
<line x1="383.5" y1="807.9" x2="526.4" y2="763.6" stroke="#666" stroke-width="0.7"/>
<line x1="526.4" y1="763.6" x2="669.3" y2="807.9" stroke="#666" stroke-width="0.7"/>
<line x1="381.7" y1="771.6" x2="526.4" y2="730.9" stroke="#666" stroke-width="0.7"/>
<line x1="526.4" y1="730.9" x2="671.1" y2="771.6" stroke="#666" stroke-width="0.7"/>
<line x1="379.9" y1="735.4" x2="526.4" y2="698.2" stroke="#666" stroke-width="0.7"/>
<line x1="526.4" y1="698.2" x2="672.9" y2="735.4" stroke="#666" stroke-width="0.7"/>
<line x1="378.2" y1="699.1" x2="526.4" y2="665.4" stroke="#666" stroke-width="0.7"/>
<line x1="526.4" y1="665.4" x2="674.6" y2="699.1" stroke="#666" stroke-width="0.7"/>
<line x1="456.9" y1="863.7" x2="452.3" y2="682.3" stroke="#666" stroke-width="0.7"/>
<line x1="526.4" y1="837.6" x2="526.4" y2="665.4" stroke="#666" stroke-width="0.7"/>
<line x1="595.9" y1="863.7" x2="600.5" y2="682.3" stroke="#666" stroke-width="0.7"/>
<line x1="665.4" y1="889.8" x2="674.6" y2="699.1" stroke="#666" stroke-width="0.7"/>
<line x1="387.4" y1="889.8" x2="378.2" y2="699.1" stroke="#333" stroke-width="0.75"/>
<polygon points="387.4,889.8 526.4,956.2 665.4,889.8 526.4,837.6" fill="#ffff00" stroke="#77770a" stroke-width="0.7"/>
<polyline fill="none" stroke="#80f44c" stroke-width="0.95" points="452.5,920.9 454.9,922 459.6,924.2 464.4,926.4 469.3,928.6 474.2,930.8 479.2,933 484.2,935.2 489.3,937.5 494.5,939.7 499.7,942 505,944.3 510.4,946.5 515.8,948.8 519.3,950.3 524.1,952.3 529.7,954.6"/>
<polyline fill="none" stroke="#80f44c" stroke-width="0.95" points="389.3,889.1 393.1,891.2 396.9,893.3 400.8,895.4 404.8,897.4 408.8,899.5 412.9,901.6 417.1,903.8 421.3,905.9 425.6,908 427.8,909.1"/>
<polyline fill="none" stroke="#8af53e" stroke-width="0.95" points="544.3,844.4 539.8,843.6 536.8,843.1 531,842.2 528.1,841.7 522.3,840.8 519.3,840.3"/>
<polyline fill="none" stroke="#8af53e" stroke-width="0.95" points="406.8,882.5 410.3,884.7 413.9,886.8 416.1,888.1 419.4,890 423.2,892.1 427.1,894.3 431,896.4 435,898.5 439.1,900.7 443.2,902.8 445.3,903.9 449.6,906 453.9,908.2 458.3,910.4 462.7,912.5 467.2,914.7 471.8,916.9 476.5,919.1 481.2,921.3 486,923.5 490.8,925.7 495.8,927.9 500.7,930.1 505.8,932.4 510.9,934.6 516.1,936.9 520.5,938.7 524,940.3 529.3,942.5 534.8,944.8 540.2,947.1 543,948.3"/>
<polyline fill="none" stroke="#a2f82e" stroke-width="0.95" points="589.7,861.4 586.6,860.9 581.4,859.9 577.4,859.3 573.4,858.5 568.3,857.7 565.2,857.2 559.1,856.2 556,855.7 550.7,854.8 546.7,854.2 543.6,853.8 537.3,852.9 534.1,852.4 530,851.8 524.6,851.1 521.4,850.7 517.2,850.2 511.7,849.5 508.4,849.2 505.1,848.8 499.5,848.3 498.4,848.2"/>
<polyline fill="none" stroke="#a2f82e" stroke-width="0.95" points="431,873.5 432.6,874.9 435.1,877 438,879.3 439.6,880.5 442.8,882.8 445.8,884.9 447.8,886.2 451.3,888.4 454.9,890.6 457,892 460.5,894 464.3,896.2 468.3,898.4 472.3,900.6 475.7,902.5 478.5,904 482.7,906.2 487.1,908.4 491.5,910.6 496,912.8 500.5,915 505.2,917.3 509.9,919.5 514.7,921.7 519.5,924 524.5,926.2 529.5,928.5 534.6,930.7 539.7,933 544.9,935.2 550.2,937.5 555.6,939.8 558.3,940.9"/>
<polyline fill="none" stroke="#c0f83a" stroke-width="0.95" points="651.8,884.7 646.3,883.6 642.1,882.8 636.7,881.8 632.8,881 627.1,880 623.8,879.4 617.4,878.2 614.2,877.6 607.7,876.5 604.4,876 599.2,875.1 594.6,874.4 591.3,873.9 584.7,872.9 581.3,872.4 577.2,871.8 571.2,871 567.7,870.6 564,870.1 557.7,869.4 553.7,869 550.1,868.7 546,868.3 540.6,867.9 535.3,867.6 531.2,867.4 527,867.3 522.7,867.2 518.2,867.3 513.3,867.5 509.4,867.8 506,868.2 500.1,869.5 495.6,871.3 492.6,873.8 491.8,875.3 491.6,877.1 491.9,879.1 492.7,881 493.6,882.5 494.9,884.3 497.1,886.7 498.5,888 501.4,890.6 503,891.9 506.3,894.3 509.3,896.4 511.6,898 515.4,900.4 519.3,902.8 521.3,904 525.4,906.4 529.6,908.7 534,911 536.8,912.5 540.7,914.5 545.3,916.8 549.9,919.2 554.7,921.5 559.6,923.8 564.6,926.1 569.6,928.4 574.8,930.7 577.4,931.8"/>
<circle cx="382.7" cy="801.7" r="2.9" fill="#e58a8a" stroke="#a85858" stroke-width="0.6"/>
<circle cx="526.3" cy="857.7" r="2.9" fill="#e58a8a" stroke="#a85858" stroke-width="0.6"/>
<polyline fill="none" stroke="#0c1408" stroke-opacity="0.75" stroke-width="0.9" stroke-linejoin="round" points="383,798.2 387.5,792.7 392,787.3 396.5,782.2 401,777.4 405.5,772.9 410,768.6 414.4,764.5 418.9,760.8 423.3,757.2 427.7,753.9 432.1,750.9 436.5,748.1 440.8,745.6 445.1,743.3 449.5,741.3 453.7,739.5 458,737.9 462.2,736.6 466.5,735.5 470.7,734.7 474.8,734.1 479,733.7 483.1,733.5 487.2,733.6 491.2,733.9 495.3,734.4 499.3,735.1 503.2,736.1 507.2,737.2 511.1,738.6 515,740.1 518.8,741.9 522.6,743.9 526.4,746.1 526.4,746.1 530.2,745.9 534,745.7 537.8,745.5 541.7,745.4 545.6,745.3 549.5,745.1 553.5,745.1 557.4,745 561.4,744.9 565.5,744.9 569.6,744.9 573.7,744.9 577.8,744.9 582,744.9 586.1,745 590.4,745 594.6,745.1 598.9,745.2 603.2,745.3 607.6,745.5 612,745.7 616.4,745.9 620.9,746.1 625.3,746.3 629.9,746.5 634.4,746.8 639,747.1 643.6,747.4 648.3,747.8 653,748.1 657.7,748.5 662.5,748.9 667.3,749.3 672.2,749.8"/><g transform="scale(.1)"><path fill="#002808" d="M5264 7433l42 27l-42 5l-42-27"/><path fill="#002000" d="M5226 7414l42 24l-42 5l-42-25"/><path fill="#002808" d="M5302 7432l42 26l-42 5l-42-27"/><path fill="#002000" d="M5264 7412l42 25l-42 4l-42-24"/><path fill="#001800" d="M5187 7396l43 22l-42 5l-42-22"/><path fill="#002808" d="M5341 7430l41 26l-42 5l-42-26"/><path fill="#001000" d="M5148 7381l43 20l-41 4l-43-20"/><path fill="#001800" d="M5226 7395l42 22l-42 5l-42-23"/><path fill="#002000" d="M5302 7411l42 24l-42 5l-42-25"/><path fill="#002800" d="M5379 7429l42 26l-43 4l-41-26"/><path fill="#001000" d="M5187 7380l43 20l-42 4l-43-20"/><path fill="#000800" d="M5109 7367l44 18l-42 5l-43-19"/><path fill="#001800" d="M5264 7394l42 22l-42 4l-42-22"/><path fill="#002800" d="M5418 7428l42 26l-43 4l-42-26"/><path fill="#002000" d="M5341 7410l42 24l-43 4l-41-24"/><path fill="#000000" d="M5070 7356l44 16l-42 4l-44-16"/><path fill="#000800" d="M5147 7367l44 18l-42 4l-43-18"/><path fill="#001000" d="M5225 7379l43 20l-42 4l-43-20"/><path fill="#001800" d="M5303 7394l42 21l-43 4l-42-22"/><path fill="#002000" d="M5380 7410l42 23l-43 4l-42-24M5458 7427l41 25l-43 5l-42-26"/><path fill="#000000" d="M5108 7356l44 15l-42 4l-44-15"/><path fill="#001800" d="M5420 7409l41 23l-43 4l-42-23"/><path fill="#000000" d="M5030 7347l44 14l-41 3l-44-13"/><path fill="#000800" d="M5186 7367l43 17l-42 4l-43-18"/><path fill="#081000" d="M5342 7393l42 21l-43 4l-42-21"/><path fill="#002000" d="M5497 7427l41 24l-43 4l-42-25"/><path fill="#001000" d="M5264 7379l43 19l-43 4l-43-19"/><path fill="#000000" d="M4989 7340l45 11l-40 4l-45-12M5068 7347l44 13l-41 4l-45-13M5147 7356l43 15l-42 4l-44-16"/><path fill="#000800" d="M5225 7366l43 18l-43 3l-43-17M5303 7379l43 19l-43 4l-43-20"/><path fill="#081000" d="M5381 7393l42 21l-43 4l-42-22"/><path fill="#081800" d="M5459 7409l42 22l-44 4l-42-23"/><path fill="#002000" d="M5537 7426l41 25l-44 3l-41-24"/><path fill="#000800" d="M5343 7379l42 18l-43 4l-43-19"/><path fill="#000000" d="M4948 7336l46 8l-40 3l-46-9M5028 7341l45 10l-41 4l-46-11M5107 7347l44 13l-42 4l-44-13"/><path fill="#000800" d="M5264 7367l43 16l-43 4l-43-17"/><path fill="#081000" d="M5421 7393l42 20l-44 4l-42-21"/><path fill="#082000" d="M5577 7426l41 24l-44 4l-41-25"/><path fill="#000000" d="M5185 7356l44 15l-43 4l-43-16"/><path fill="#081800" d="M5499 7408l42 23l-44 3l-42-22"/><path fill="#000000" d="M4906 7334l48 5l-39 2l-47-5M4986 7336l47 9l-41 3l-46-9M5066 7341l45 11l-41 3l-45-11M5145 7348l45 13l-43 3l-44-13M5225 7356l43 15l-43 3l-43-14"/><path fill="#000800" d="M5303 7367l43 16l-43 4l-43-17M5382 7379l43 18l-44 4l-43-19"/><path fill="#081000" d="M5461 7393l42 20l-44 4l-42-21"/><path fill="#081800" d="M5539 7408l42 23l-45 3l-41-23"/><path fill="#082000" d="M5618 7426l41 24l-45 3l-41-24"/><path fill="#000000" d="M4865 7337l49 0l-38-2l-49 0"/><path fill="#081800" d="M5580 7408l41 22l-45 4l-41-23"/><path fill="#000000" d="M4944 7336l48 4l-39 2l-47-5M5025 7337l46 8l-41 3l-46-8M5105 7342l45 10l-42 3l-45-10M5185 7349l44 12l-43 3l-44-13M5264 7357l43 14l-43 4l-43-15M5343 7367l43 16l-44 4l-43-17"/><path fill="#081000" d="M5501 7393l42 20l-45 3l-41-20"/><path fill="#082000" d="M5659 7426l40 24l-45 3l-41-24"/><path fill="#000800" d="M5422 7379l42 18l-44 4l-42-19"/><path fill="#000000" d="M4825 7341l48-5l-39-4l-48 5"/><path fill="#081800" d="M5621 7409l41 21l-45 3l-41-22M5700 7426l40 23l-45 3l-41-23"/><path fill="#000000" d="M4903 7339l49-1l-39-3l-48 1M4983 7337l48 4l-39 1l-48-4M5064 7338l46 8l-41 3l-46-8M5144 7343l45 10l-42 3l-45-11M5224 7349l44 12l-43 3l-44-12M5304 7358l43 14l-44 3l-43-15M5383 7368l43 16l-44 3l-43-16"/><path fill="#000800" d="M5463 7380l42 18l-45 3l-42-19"/><path fill="#081000" d="M5542 7393l41 20l-45 3l-41-20"/><path fill="#000000" d="M4784 7346l48-8l-40-5l-48 8M4863 7343l48-5l-40-5l-47 5M4942 7342l48-3l-39-3l-48 2"/><path fill="#081000" d="M5662 7409l41 22l-46 2l-41-21"/><path fill="#081800" d="M5741 7426l41 24l-46 2l-41-23"/><path fill="#000000" d="M5021 7340l49 2l-39 0l-49-3M5103 7340l46 7l-41 2l-46-7M5184 7344l44 10l-42 2l-45-10M5264 7350l44 12l-44 3l-44-12M5344 7359l43 13l-44 3l-43-14M5424 7369l42 15l-45 3l-42-16"/><path fill="#000800" d="M5503 7380l42 18l-45 3l-42-18"/><path fill="#080800" d="M5583 7394l41 19l-45 3l-42-20"/><path fill="#000000" d="M4743 7353l47-11l-40-5l-47 10M4823 7348l47-8l-41-5l-47 8M4902 7345l47-6l-40-5l-47 6"/><path fill="#080800" d="M5624 7395l41 19l-46 3l-41-20"/><path fill="#081800" d="M5783 7427l40 23l-46 3l-40-24"/><path fill="#000000" d="M4981 7344l48-4l-40-4l-48 3M5060 7342l49 1l-39-1l-49-2M5142 7341l46 7l-41 2l-46-7M5224 7345l44 10l-43 2l-45-9M5304 7352l44 11l-45 3l-43-12M5384 7360l43 13l-45 3l-42-14M5464 7370l43 15l-46 3l-42-16"/><path fill="#000800" d="M5544 7381l42 18l-46 2l-41-17"/><path fill="#081000" d="M5704 7410l40 21l-46 3l-41-22"/><path fill="#000000" d="M4701 7362l47-13l-40-6l-47 13M4781 7355l47-11l-40-5l-48 10M4861 7351l47-9l-41-6l-47 9M4941 7348l47-7l-41-5l-47 6M5021 7346l47-4l-41-5l-47 4M5505 7371l42 15l-45 2l-42-15"/><path fill="#000800" d="M5585 7382l42 17l-46 3l-42-17"/><path fill="#080800" d="M5665 7396l42 19l-47 2l-41-19"/><path fill="#081000" d="M5745 7411l41 21l-47 2l-40-21"/><path fill="#081800" d="M5825 7428l40 22l-46 3l-41-23"/><path fill="#000000" d="M5100 7346l48-1l-39-3l-49 0M5182 7343l46 6l-42 3l-46-8M5264 7347l44 9l-44 2l-44-9M5345 7353l43 11l-45 3l-43-12M5425 7361l43 13l-46 2l-42-13"/><path fill="#080800" d="M4659 7373l48-16l-41-6l-47 15"/><path fill="#000000" d="M4739 7364l48-13l-41-6l-47 13M4820 7358l47-11l-41-6l-47 11M4900 7353l47-9l-41-6l-47 9M4981 7350l46-7l-41-6l-47 7M5547 7372l41 15l-46 2l-41-15M5627 7384l41 16l-46 2l-41-16"/><path fill="#080800" d="M5707 7397l41 18l-46 3l-41-19"/><path fill="#081000" d="M5787 7412l41 20l-47 3l-41-21"/><path fill="#081800" d="M5868 7429l40 22l-48 2l-40-22"/><path fill="#000000" d="M5061 7349l47-5l-42-6l-47 5M5141 7349l47-2l-41-5l-47 2M5222 7345l46 6l-43 2l-45-7M5305 7349l43 8l-44 3l-44-10M5386 7355l42 10l-45 3l-43-11M5466 7363l42 12l-45 2l-43-13"/><path fill="#101000" d="M4617 7386l47-17l-40-7l-48 18"/><path fill="#080800" d="M4697 7376l48-16l-41-6l-48 15"/><path fill="#000800" d="M4778 7368l47-14l-41-6l-47 13"/><path fill="#000000" d="M4859 7361l47-12l-42-6l-47 11M4939 7356l47-10l-42-6l-46 9M5020 7353l47-8l-43-6l-46 7M5508 7364l42 13l-47 2l-42-13M5588 7374l42 14l-47 2l-41-15M5669 7385l41 16l-47 2l-41-16"/><path fill="#080800" d="M5749 7398l41 18l-47 3l-41-19"/><path fill="#081000" d="M5830 7413l40 20l-47 2l-41-20"/><path fill="#081800" d="M5910 7430l40 22l-47 2l-41-22"/><path fill="#000000" d="M5101 7351l46-5l-42-6l-46 5M5427 7357l42 10l-46 2l-42-11M5182 7352l46-4l-43-5l-46 3M5264 7346l44 7l-44 2l-44-7M5346 7351l43 8l-46 2l-43-9"/><path fill="#101800" d="M4574 7402l48-20l-41-7l-48 20"/><path fill="#101000" d="M4655 7390l47-18l-41-7l-47 18"/><path fill="#080800" d="M4736 7380l47-17l-41-6l-48 16M4817 7371l47-14l-42-7l-47 14"/><path fill="#000000" d="M4898 7364l47-12l-42-7l-47 12M4979 7359l46-10l-42-7l-46 10M5060 7356l46-9l-42-6l-47 8M5468 7359l42 9l-46 2l-42-10M5549 7366l42 12l-47 2l-42-12M5630 7376l42 14l-47 1l-42-14M5711 7387l41 16l-47 2l-41-17"/><path fill="#080800" d="M5792 7400l41 18l-48 2l-41-19"/><path fill="#081000" d="M5873 7415l40 20l-48 1l-40-20M5953 7431l40 22l-48 2l-40-22"/><path fill="#000000" d="M5141 7354l46-6l-43-6l-46 6M5388 7353l42 8l-47 1l-42-8M5223 7354l45-4l-44-6l-45 4M5308 7355l41 0l-49-2l-40-3"/><path fill="#182000" d="M4531 7421l48-23l-41-7l-47 22"/><path fill="#181800" d="M4612 7407l48-21l-41-7l-48 20"/><path fill="#101800" d="M4694 7394l47-19l-42-7l-47 19"/><path fill="#081000" d="M4775 7383l47-17l-42-6l-47 16"/><path fill="#080800" d="M4856 7374l47-14l-42-7l-47 14"/><path fill="#000000" d="M4937 7367l47-12l-43-7l-46 12M5019 7362l46-11l-43-6l-46 10M5100 7358l46-8l-43-6l-46 8M5430 7356l41 7l-48 1l-41-8M5510 7361l42 9l-47 2l-42-10M5591 7368l42 12l-48 1l-41-11M5673 7378l41 13l-48 2l-41-14M5754 7389l41 15l-48 2l-41-16"/><path fill="#000800" d="M5835 7402l40 17l-48 2l-40-18"/><path fill="#080800" d="M5916 7416l40 20l-48 1l-41-19"/><path fill="#081000" d="M5997 7433l39 21l-48 2l-40-22"/><path fill="#000000" d="M5182 7357l45-7l-43-6l-46 6M5348 7358l42-1l-48-5l-41 0M5264 7357l45-4l-45-7l-45 4"/><path fill="#203000" d="M4488 7442l48-26l-41-7l-47 25"/><path fill="#202800" d="M4570 7425l47-23l-41-7l-48 23"/><path fill="#182000" d="M4651 7411l47-22l-41-7l-48 21"/><path fill="#181800" d="M4732 7398l48-19l-42-7l-48 19"/><path fill="#101000" d="M4814 7387l47-17l-42-7l-47 17"/><path fill="#080800" d="M4895 7378l47-15l-42-7l-47 15"/><path fill="#000800" d="M4977 7371l47-13l-43-7l-47 13"/><path fill="#000000" d="M5059 7365l46-11l-43-6l-46 10M5141 7362l46-9l-44-7l-46 9M5389 7361l42-2l-48-5l-42 1M5472 7360l40 5l-48 0l-41-6M5553 7364l41 8l-48 1l-42-9M5634 7371l41 11l-48 1l-41-11M5715 7380l41 13l-48 1l-41-13M5797 7391l40 15l-48 1l-41-15"/><path fill="#000800" d="M5878 7404l40 17l-48 1l-41-17"/><path fill="#080800" d="M5959 7418l40 19l-49 2l-40-20"/><path fill="#081000" d="M6040 7435l40 21l-49 1l-40-21"/><path fill="#000000" d="M5223 7360l45-7l-44-7l-45 7M5305 7360l44-5l-45-6l-44 4"/><path fill="#283800" d="M4445 7465l48-28l-41-8l-48 28"/><path fill="#283000" d="M4526 7447l48-26l-41-8l-48 26"/><path fill="#202800" d="M4608 7430l48-24l-42-7l-48 23"/><path fill="#202000" d="M4690 7415l47-22l-42-7l-47 21"/><path fill="#181800" d="M4771 7402l48-19l-43-8l-47 20"/><path fill="#101000" d="M4853 7391l47-17l-42-8l-47 18"/><path fill="#080800" d="M4935 7382l47-16l-43-7l-47 15M5017 7374l47-13l-44-7l-46 13"/><path fill="#000000" d="M5099 7369l46-11l-43-7l-46 11M5182 7365l45-9l-44-7l-46 9M5264 7363l45-7l-45-7l-45 7M5347 7363l44-5l-46-7l-44 5M5430 7364l42-2l-48-6l-41 2M5514 7364l40 3l-50-1l-40-5M5595 7367l41 8l-49 0l-41-8M5677 7374l40 10l-48 1l-41-11M5758 7383l41 12l-49 1l-41-13M5840 7393l40 15l-49 1l-40-15M5921 7406l41 17l-49 1l-41-17"/><path fill="#080800" d="M6003 7420l40 19l-50 1l-39-19"/><path fill="#081000" d="M6084 7437l40 21l-50 1l-39-21"/><path fill="#000000" d="M5223 7369l45-10l-45-7l-45 9M5305 7367l45-8l-45-7l-45 7"/><path fill="#284000" d="M4402 7491l48-31l-41-8l-48 30"/><path fill="#283800" d="M4483 7470l48-28l-41-8l-48 28"/><path fill="#283000" d="M4565 7452l48-27l-42-7l-48 25"/><path fill="#282800" d="M4647 7435l47-24l-42-8l-47 24"/><path fill="#202000" d="M4729 7420l47-22l-42-8l-48 22"/><path fill="#182000" d="M4811 7407l47-20l-43-8l-47 20"/><path fill="#101800" d="M4893 7396l47-18l-43-8l-47 18"/><path fill="#101000" d="M4975 7386l47-16l-44-7l-46 15"/><path fill="#080800" d="M5058 7378l46-13l-44-8l-46 14"/><path fill="#000000" d="M5140 7373l46-12l-44-7l-46 11M5388 7366l44-5l-46-7l-44 5M5472 7367l42-3l-48-6l-42 3M5556 7368l40 2l-50-3l-40-3M5638 7370l40 7l-49 0l-41-8M5720 7377l40 9l-49 1l-41-11M5802 7385l40 12l-49 1l-41-13M5883 7396l41 14l-50 1l-40-15M5965 7408l40 17l-49 0l-40-16"/><path fill="#080800" d="M6047 7423l40 18l-50 1l-40-19"/><path fill="#081000" d="M6129 7439l39 20l-50 1l-39-21"/><path fill="#000000" d="M5264 7372l45-10l-45-7l-45 10M5181 7377l46-13l-45-7l-46 12M5347 7370l45-8l-46-7l-45 8"/><path fill="#081000" d="M6174 7441l39 20l-51 1l-39-20"/><path fill="#284800" d="M4358 7519l48-33l-41-9l-48 33"/><path fill="#304000" d="M4440 7497l48-32l-41-8l-49 31"/><path fill="#303800" d="M4521 7476l48-29l-41-8l-48 28"/><path fill="#283800" d="M4603 7457l48-27l-42-8l-47 27"/><path fill="#283000" d="M4686 7440l47-25l-42-8l-48 25"/><path fill="#202800" d="M4768 7425l47-23l-42-8l-48 23"/><path fill="#202000" d="M4850 7412l47-21l-43-8l-47 20"/><path fill="#181800" d="M4933 7400l47-18l-44-8l-46 18"/><path fill="#101000" d="M5016 7390l46-16l-44-7l-46 15"/><path fill="#080800" d="M5098 7383l46-15l-44-7l-46 14"/><path fill="#000000" d="M5430 7370l44-6l-47-7l-43 5M5514 7371l42-4l-48-6l-42 3M5599 7372l40 1l-51-4l-40-2M5681 7374l40 6l-50-1l-40-7M5763 7380l40 9l-50 0l-40-10M5845 7388l40 12l-50 0l-40-12M5927 7399l40 13l-50 1l-40-14M6009 7411l40 16l-50 0l-40-16"/><path fill="#080800" d="M6092 7425l39 18l-50 1l-40-18M5222 7381l46-13l-45-7l-46 12"/><path fill="#000000" d="M5306 7376l45-10l-46-7l-45 10"/><path fill="#285000" d="M4314 7550l48-36l-40-9l-49 36"/><path fill="#080800" d="M5139 7387l46-15l-44-7l-46 14"/><path fill="#000000" d="M5389 7374l44-8l-46-8l-44 8"/><path fill="#080800" d="M6136 7428l39 18l-50 0l-39-18"/><path fill="#304800" d="M4396 7525l48-33l-41-9l-48 33M4478 7503l48-32l-42-8l-48 31"/><path fill="#304000" d="M4560 7482l48-30l-42-8l-48 29"/><path fill="#303800" d="M4642 7463l48-28l-42-8l-48 27"/><path fill="#283000" d="M4725 7446l47-26l-42-8l-48 25"/><path fill="#282800" d="M4808 7430l47-23l-43-8l-47 23"/><path fill="#202000" d="M4890 7417l47-21l-43-8l-47 20"/><path fill="#181800" d="M4973 7405l47-19l-44-8l-47 19"/><path fill="#101000" d="M5056 7395l47-17l-45-8l-46 17"/><path fill="#000000" d="M5473 7373l43-6l-47-7l-44 6M5557 7374l42-3l-49-7l-42 3M5641 7376l40 0l-50-5l-40-1M5725 7378l39 5l-51-2l-39-6M5807 7384l40 8l-51-1l-40-9M5889 7392l40 10l-50 0l-40-11M5972 7402l39 13l-50 0l-40-14M6054 7414l39 15l-50 1l-40-16"/><path fill="#080800" d="M6219 7444l38 20l-50 0l-39-20"/><path fill="#100800" d="M5181 7392l45-15l-45-8l-45 14"/><path fill="#080800" d="M5264 7385l46-13l-46-8l-46 13"/><path fill="#000000" d="M5348 7381l45-11l-47-8l-44 11"/><path fill="#080800" d="M6264 7447l39 19l-52 0l-38-19"/><path fill="#285800" d="M4270 7583l48-38l-40-10l-49 38"/><path fill="#305000" d="M4352 7557l48-37l-41-9l-48 36"/><path fill="#101000" d="M5097 7400l46-17l-44-8l-46 16"/><path fill="#000000" d="M5431 7378l45-9l-47-7l-44 8M6099 7417l39 15l-51 0l-39-15"/><path fill="#304800" d="M4434 7532l48-34l-41-9l-48 33M4516 7509l49-32l-42-9l-48 32"/><path fill="#304000" d="M4599 7488l48-30l-42-9l-48 30"/><path fill="#303800" d="M4682 7469l47-28l-42-9l-48 28"/><path fill="#303000" d="M4765 7451l47-26l-43-8l-47 25"/><path fill="#282800" d="M4848 7436l47-24l-44-8l-47 23"/><path fill="#282000" d="M4931 7422l47-22l-44-8l-47 21"/><path fill="#201800" d="M5014 7410l47-19l-45-9l-46 19"/><path fill="#000000" d="M5515 7377l44-6l-48-8l-43 6M5600 7378l42-4l-49-7l-42 4M5684 7380l41-1l-51-5l-40 0M5768 7382l39 4l-51-3l-39-5M5851 7387l39 8l-51-2l-39-8M5934 7395l39 10l-51 0l-40-11M6016 7405l40 13l-51-1l-40-13"/><path fill="#000800" d="M6181 7431l39 17l-51 0l-39-17"/><path fill="#181000" d="M5138 7405l47-18l-45-8l-47 17"/><path fill="#101000" d="M5222 7396l46-15l-45-8l-46 15"/><path fill="#080800" d="M5306 7390l45-13l-46-8l-45 12"/><path fill="#000000" d="M5390 7385l45-11l-47-8l-45 11M6227 7434l39 17l-52 0l-39-17"/><path fill="#205800" d="M4226 7619l48-41l-40-10l-49 41"/><path fill="#285800" d="M4308 7590l48-39l-41-9l-48 38"/><path fill="#305000" d="M4390 7564l48-37l-41-10l-48 37"/><path fill="#201800" d="M5055 7415l46-20l-44-8l-47 19"/><path fill="#000000" d="M5474 7382l44-9l-47-7l-44 8M6061 7409l39 12l-51-1l-40-13"/><path fill="#305000" d="M4473 7539l48-35l-42-9l-48 34"/><path fill="#000000" d="M6144 7421l39 14l-51-1l-40-14"/><path fill="#080800" d="M6310 7450l38 19l-52 0l-38-20"/><path fill="#384800" d="M4555 7515l48-32l-42-9l-48 32"/><path fill="#384000" d="M4638 7494l48-30l-42-9l-48 30M4721 7475l48-29l-43-8l-48 27"/><path fill="#303800" d="M4804 7457l48-26l-43-9l-48 26"/><path fill="#303000" d="M4888 7441l47-24l-44-8l-47 23"/><path fill="#282800" d="M4971 7427l47-22l-44-8l-47 21"/><path fill="#000000" d="M5558 7381l43-6l-48-8l-43 6M5643 7382l42-4l-50-8l-42 4M5727 7384l41-1l-51-6l-40 0M5812 7387l39 2l-52-4l-39-3M5895 7391l39 7l-51-2l-40-7M5978 7399l39 9l-51-1l-40-10"/><path fill="#202000" d="M5096 7421l47-21l-45-8l-47 20"/><path fill="#181800" d="M5180 7410l46-18l-45-8l-46 17"/><path fill="#101000" d="M5264 7401l46-15l-46-9l-46 16"/><path fill="#080800" d="M5348 7395l46-14l-47-8l-45 13"/><path fill="#080000" d="M5432 7390l45-12l-47-8l-44 11"/><path fill="#000000" d="M6190 7424l38 14l-52-1l-39-14"/><path fill="#080800" d="M6356 7453l38 19l-52-1l-39-18"/><path fill="#186000" d="M4181 7657l49-43l-41-10l-48 43"/><path fill="#286000" d="M4263 7627l49-42l-41-10l-49 41"/><path fill="#285800" d="M4346 7598l48-40l-41-9l-48 39"/><path fill="#305800" d="M4429 7571l48-37l-42-10l-48 37"/><path fill="#282800" d="M5012 7433l47-23l-44-8l-47 22"/><path fill="#000000" d="M5517 7387l44-10l-48-8l-44 9M6023 7403l39 9l-52-2l-39-9"/><path fill="#385000" d="M4511 7546l49-36l-42-9l-49 35"/><path fill="#000000" d="M6106 7412l39 12l-52-1l-39-12M6273 7438l38 16l-52-1l-38-16"/><path fill="#384800" d="M4594 7522l49-33l-43-9l-48 33M4678 7501l48-31l-43-9l-48 30"/><path fill="#384000" d="M4761 7481l48-29l-43-9l-48 28"/><path fill="#383800" d="M4845 7463l47-27l-44-8l-47 26"/><path fill="#303000" d="M4928 7447l47-24l-44-9l-47 24"/><path fill="#000000" d="M5601 7386l44-7l-49-8l-43 6M5686 7386l42-5l-49-7l-42 4M5771 7388l41-2l-51-6l-41 1M5856 7391l39 2l-52-5l-39-2M5940 7396l39 5l-53-2l-39-7"/><path fill="#302800" d="M5053 7439l47-23l-45-9l-47 22"/><path fill="#282000" d="M5137 7426l47-20l-45-9l-47 20"/><path fill="#181800" d="M5222 7416l46-19l-46-9l-46 18"/><path fill="#101000" d="M5306 7407l46-17l-46-8l-46 16"/><path fill="#080800" d="M5391 7400l45-14l-47-9l-45 14M5475 7395l45-12l-47-9l-45 12"/><path fill="#000000" d="M6152 7416l39 11l-53-1l-39-12M6319 7442l38 15l-52-1l-39-16"/><path fill="#106800" d="M4137 7698l48-46l-40-11l-49 46"/><path fill="#206000" d="M4219 7666l49-45l-41-10l-49 44"/><path fill="#286000" d="M4301 7635l49-42l-41-11l-49 42"/><path fill="#305800" d="M4384 7606l49-40l-42-10l-48 39"/><path fill="#385800" d="M4467 7578l49-37l-42-10l-49 37"/><path fill="#383000" d="M4969 7453l47-25l-44-9l-47 25"/><path fill="#000000" d="M5560 7392l44-10l-48-8l-44 9"/><path fill="#385000" d="M4551 7553l48-36l-43-9l-48 35"/><path fill="#000000" d="M5984 7400l39 5l-52-3l-39-6M6068 7407l39 8l-53-2l-38-9M6235 7428l39 13l-53-1l-38-14"/><path fill="#080800" d="M6402 7457l38 18l-52-1l-39-18"/><path fill="#405000" d="M4634 7529l48-33l-43-10l-48 33"/><path fill="#404800" d="M4718 7507l47-31l-43-9l-48 31"/><path fill="#404000" d="M4801 7488l48-30l-44-9l-47 29"/><path fill="#383800" d="M4885 7469l48-27l-44-9l-48 27"/><path fill="#000000" d="M5645 7390l43-7l-49-8l-43 7M5730 7391l42-5l-50-8l-42 5M5815 7392l41-2l-51-7l-41 2M5900 7395l40 2l-53-5l-39-2"/><path fill="#383000" d="M5010 7459l47-25l-44-9l-47 25"/><path fill="#302800" d="M5095 7445l47-23l-46-9l-46 22"/><path fill="#282000" d="M5179 7432l47-21l-46-9l-46 21"/><path fill="#201800" d="M5264 7421l46-19l-46-9l-46 19"/><path fill="#181000" d="M5349 7412l45-16l-46-9l-46 16"/><path fill="#100800" d="M5434 7405l45-14l-47-9l-46 14"/><path fill="#080800" d="M5519 7400l44-12l-48-9l-44 12"/><path fill="#000000" d="M6282 7432l38 13l-53-2l-39-13"/><path fill="#080800" d="M6449 7461l38 17l-53-1l-38-18"/><path fill="#086800" d="M4092 7742l49-49l-41-11l-49 48"/><path fill="#106800" d="M4174 7707l49-47l-41-11l-49 47"/><path fill="#206800" d="M4257 7674l49-45l-41-10l-49 44"/><path fill="#286000" d="M4340 7643l49-43l-42-10l-49 42"/><path fill="#306000" d="M4423 7614l49-41l-42-10l-49 40"/><path fill="#385800" d="M4506 7586l49-38l-43-10l-48 38"/><path fill="#404000" d="M4926 7476l47-28l-44-9l-47 27"/><path fill="#000000" d="M5604 7397l43-11l-48-8l-44 10M6030 7405l39 4l-54-4l-38-5M6114 7412l39 7l-54-3l-38-8"/><path fill="#405800" d="M4590 7560l48-36l-43-10l-48 36"/><path fill="#000000" d="M5945 7400l39 1l-52-6l-40-1M6198 7421l38 10l-53-2l-38-11M6365 7445l39 16l-54-2l-38-15"/><path fill="#405000" d="M4674 7537l48-35l-43-9l-48 33"/><path fill="#404800" d="M4758 7514l48-31l-44-10l-48 31M4842 7494l47-29l-44-10l-47 29"/><path fill="#000000" d="M5689 7395l43-8l-49-8l-44 7M5774 7395l42-5l-50-8l-42 5M5859 7397l41-3l-51-7l-41 2"/><path fill="#007008" d="M4047 7788l49-52l-40-11l-49 51"/><path fill="#404000" d="M4967 7483l47-28l-44-10l-48 28"/><path fill="#383000" d="M5052 7466l47-26l-45-9l-47 25"/><path fill="#302800" d="M5137 7451l46-23l-45-10l-47 23"/><path fill="#282000" d="M5222 7438l46-21l-46-9l-47 21"/><path fill="#201800" d="M5307 7427l46-19l-47-9l-46 19"/><path fill="#181000" d="M5392 7418l45-17l-47-9l-45 17"/><path fill="#100800" d="M5477 7411l45-15l-48-9l-45 14"/><path fill="#080800" d="M5562 7405l45-12l-49-9l-44 12M6496 7465l38 17l-54-2l-38-17"/><path fill="#000000" d="M6412 7450l38 14l-53-1l-38-16"/><path fill="#086800" d="M4129 7751l50-49l-41-12l-49 49"/><path fill="#186800" d="M4212 7716l49-47l-41-11l-49 47"/><path fill="#206800" d="M4295 7683l49-45l-41-11l-49 45"/><path fill="#286000" d="M4379 7652l48-44l-42-10l-48 42"/><path fill="#386000" d="M4462 7622l49-41l-43-11l-48 41"/><path fill="#385800" d="M4546 7594l48-39l-42-10l-49 38"/><path fill="#484800" d="M4882 7501l48-30l-44-10l-48 30"/><path fill="#000000" d="M5647 7402l44-11l-49-8l-43 10M5990 7405l40 0l-53-6l-40-1M6075 7410l39 3l-53-5l-39-4M6160 7416l38 7l-53-3l-39-8M6244 7425l38 10l-53-3l-39-10"/><path fill="#405800" d="M4630 7568l48-37l-43-10l-48 37"/><path fill="#000000" d="M5904 7402l41-3l-52-8l-40 3M6328 7436l38 13l-53-2l-38-13"/><path fill="#405000" d="M4714 7544l48-35l-44-9l-48 34"/><path fill="#485000" d="M4798 7522l48-33l-44-9l-48 31"/><path fill="#000000" d="M5733 7400l43-8l-50-9l-43 8M5818 7400l43-6l-51-8l-42 6"/><path fill="#007018" d="M4002 7837l49-55l-40-12l-49 54"/><path fill="#007008" d="M4085 7798l49-52l-41-12l-49 52"/><path fill="#484800" d="M4924 7509l47-31l-44-10l-48 30"/><path fill="#404000" d="M5009 7490l47-29l-45-9l-48 28"/><path fill="#403800" d="M5094 7473l47-26l-46-10l-47 26"/><path fill="#382800" d="M5179 7458l47-24l-46-10l-47 24"/><path fill="#302000" d="M5264 7445l46-22l-46-10l-46 22"/><path fill="#281800" d="M5349 7433l46-19l-47-10l-46 20"/><path fill="#181000" d="M5435 7424l45-17l-47-10l-46 17"/><path fill="#101000" d="M5520 7417l45-16l-48-9l-45 15"/><path fill="#080800" d="M5606 7411l44-13l-48-9l-45 13"/><path fill="#000000" d="M6460 7454l37 14l-54-2l-38-15M6544 7469l37 17l-54-2l-37-17M6375 7441l38 12l-54-3l-38-12"/><path fill="#087000" d="M4167 7761l49-50l-41-12l-49 50"/><path fill="#186800" d="M4251 7725l49-48l-42-11l-49 48"/><path fill="#286800" d="M4334 7692l49-46l-42-11l-49 45"/><path fill="#306800" d="M4418 7660l48-43l-42-11l-49 43"/><path fill="#386000" d="M4501 7630l49-41l-43-11l-48 41"/><path fill="#406000" d="M4585 7602l49-39l-43-11l-49 39"/><path fill="#485000" d="M4839 7529l48-33l-45-10l-47 33"/><path fill="#080000" d="M5692 7407l43-11l-49-8l-44 10"/><path fill="#000000" d="M5949 7407l41-4l-52-7l-41 3M6035 7410l40-1l-53-6l-40 0M6121 7415l39 2l-54-5l-39-3M6206 7421l38 6l-54-4l-38-6M6291 7430l38 9l-54-3l-39-10"/><path fill="#405800" d="M4670 7576l48-37l-43-10l-49 36"/><path fill="#000000" d="M5863 7405l42-6l-51-8l-42 6"/><path fill="#485800" d="M4754 7552l48-35l-44-10l-48 34"/><path fill="#000000" d="M5777 7405l43-8l-50-9l-43 8"/><path fill="#007828" d="M3957 7888l49-57l-40-12l-49 56"/><path fill="#007010" d="M4039 7847l50-55l-41-12l-49 54"/><path fill="#007000" d="M4122 7808l50-53l-41-12l-50 52"/><path fill="#505000" d="M4880 7537l48-33l-45-11l-48 33"/><path fill="#484800" d="M4965 7516l48-31l-45-10l-48 30"/><path fill="#484000" d="M5050 7497l48-29l-46-10l-47 29"/><path fill="#403800" d="M5136 7480l47-27l-46-10l-47 27"/><path fill="#383000" d="M5221 7465l47-25l-46-10l-47 25"/><path fill="#302000" d="M5307 7451l46-22l-47-10l-46 22"/><path fill="#282000" d="M5393 7440l46-20l-48-10l-46 20"/><path fill="#201800" d="M5478 7430l46-18l-48-9l-45 17"/><path fill="#181000" d="M5564 7423l45-16l-48-9l-45 15"/><path fill="#100800" d="M5650 7417l45-14l-49-9l-45 13"/><path fill="#000000" d="M6422 7446l38 11l-54-3l-38-12M6507 7459l38 13l-55-2l-38-14M6592 7474l37 16l-55-3l-37-16M6338 7435l38 8l-55-3l-38-9"/><path fill="#107000" d="M4206 7771l49-51l-42-12l-49 50"/><path fill="#186800" d="M4289 7735l49-48l-42-12l-49 48"/><path fill="#286800" d="M4373 7701l49-46l-42-11l-49 45"/><path fill="#306800" d="M4457 7669l49-44l-43-11l-49 44"/><path fill="#386000" d="M4541 7639l49-42l-43-11l-49 42"/><path fill="#406000" d="M4625 7611l49-40l-43-11l-49 40"/><path fill="#485800" d="M4795 7560l48-36l-44-10l-48 35"/><path fill="#080800" d="M5736 7413l44-11l-50-9l-43 11"/><path fill="#000000" d="M5908 7411l43-7l-52-8l-42 6M5995 7412l41-4l-53-8l-40 4M6081 7415l40-1l-53-7l-40 1M6167 7420l39 2l-54-6l-39-3M6252 7426l39 6l-55-5l-38-6"/><path fill="#485800" d="M4710 7584l48-37l-43-11l-49 37"/><path fill="#000000" d="M5822 7411l43-9l-50-9l-43 9"/><path fill="#007838" d="M3912 7942l49-60l-40-13l-49 59"/><path fill="#007820" d="M3994 7899l50-58l-41-12l-49 57"/><path fill="#007810" d="M4077 7858l50-56l-41-12l-50 55"/><path fill="#007000" d="M4161 7818l49-53l-42-12l-49 53"/><path fill="#505800" d="M4836 7568l48-36l-45-11l-48 36"/><path fill="#505000" d="M4921 7545l48-34l-45-10l-48 33"/><path fill="#504800" d="M5007 7524l47-32l-45-10l-48 31"/><path fill="#484000" d="M5092 7505l48-30l-46-10l-47 29"/><path fill="#403800" d="M5178 7487l47-27l-46-10l-47 27"/><path fill="#383000" d="M5264 7472l47-25l-47-10l-47 24"/><path fill="#302800" d="M5350 7458l46-23l-47-9l-46 22"/><path fill="#282000" d="M5436 7447l46-21l-48-10l-46 20"/><path fill="#201800" d="M5522 7437l46-19l-49-9l-45 18"/><path fill="#181000" d="M5608 7429l45-16l-48-10l-45 16"/><path fill="#100800" d="M5695 7423l44-14l-49-9l-45 13"/><path fill="#000000" d="M6385 7440l38 8l-55-4l-38-9M6470 7451l38 10l-55-3l-38-11M6555 7464l38 13l-56-3l-37-14M6640 7478l37 16l-55-3l-37-16"/><path fill="#486000" d="M4751 7593l48-38l-44-11l-48 38"/><path fill="#080800" d="M5781 7419l44-12l-50-9l-44 11"/><path fill="#000000" d="M6299 7432l39 4l-55-5l-39-5"/><path fill="#107000" d="M4244 7781l49-51l-42-12l-49 50"/><path fill="#207000" d="M4328 7745l49-49l-42-12l-49 49"/><path fill="#286800" d="M4412 7711l49-47l-43-12l-48 47"/><path fill="#306800" d="M4496 7679l49-45l-43-12l-49 45"/><path fill="#406800" d="M4581 7648l49-42l-44-12l-48 43"/><path fill="#486000" d="M4666 7620l48-41l-43-11l-49 40"/><path fill="#000000" d="M5867 7417l43-10l-50-9l-43 9M5954 7416l42-7l-52-8l-42 6M6041 7418l41-5l-53-8l-41 4M6127 7421l40-2l-54-7l-39 1M6213 7425l39 2l-54-6l-39-3"/><path fill="#506000" d="M4792 7602l48-39l-44-11l-49 38"/><path fill="#100800" d="M5740 7429l44-14l-50-10l-44 14"/><path fill="#007848" d="M3866 7998l50-62l-40-13l-50 61"/><path fill="#007838" d="M3949 7953l49-60l-40-13l-49 60"/><path fill="#007820" d="M4032 7910l49-58l-41-13l-49 58"/><path fill="#007810" d="M4115 7869l50-56l-42-13l-49 55"/><path fill="#007000" d="M4199 7829l49-54l-41-12l-50 53"/><path fill="#486000" d="M4706 7629l49-41l-44-12l-49 41"/><path fill="#505800" d="M4877 7577l48-37l-45-11l-48 36"/><path fill="#585800" d="M4963 7553l48-34l-46-11l-47 34"/><path fill="#504800" d="M5049 7532l47-32l-45-11l-48 32"/><path fill="#484000" d="M5135 7513l47-30l-46-11l-47 30"/><path fill="#403800" d="M5221 7495l47-28l-47-10l-47 27"/><path fill="#403000" d="M5307 7479l47-25l-47-11l-47 26"/><path fill="#382800" d="M5393 7466l47-24l-48-10l-46 23"/><path fill="#302000" d="M5480 7454l46-22l-48-10l-46 21"/><path fill="#281800" d="M5566 7444l46-19l-49-10l-45 18"/><path fill="#181000" d="M5653 7436l45-17l-49-10l-45 16"/><path fill="#080800" d="M5826 7425l44-12l-50-10l-44 12"/><path fill="#000000" d="M6346 7437l39 4l-55-5l-39-5M6432 7446l38 7l-55-5l-38-8M6518 7456l38 10l-56-4l-38-10M6603 7469l38 12l-56-3l-37-13M6689 7483l37 16l-56-4l-37-15M6260 7431l39 1l-54-7l-39-1"/><path fill="#107000" d="M4283 7791l49-52l-42-12l-49 51"/><path fill="#207000" d="M4367 7755l49-50l-42-12l-49 49"/><path fill="#287000" d="M4452 7721l49-48l-43-12l-49 47"/><path fill="#386800" d="M4536 7688l49-45l-43-12l-49 45"/><path fill="#406800" d="M4621 7658l49-44l-44-11l-48 43"/><path fill="#080000" d="M5913 7423l43-10l-51-9l-43 9"/><path fill="#000000" d="M6000 7422l42-7l-52-9l-42 7M6087 7423l41-4l-53-9l-41 5M6174 7426l40-2l-54-7l-40 1"/><path fill="#486800" d="M4747 7638l49-41l-45-12l-48 41"/><path fill="#180800" d="M5785 7436l44-15l-50-10l-44 15"/><path fill="#506000" d="M4833 7611l48-39l-45-12l-48 39"/><path fill="#201000" d="M5698 7442l45-17l-50-10l-45 17"/><path fill="#007848" d="M3904 8010l49-63l-40-13l-50 62"/><path fill="#007838" d="M3987 7965l49-61l-41-13l-49 60"/><path fill="#007820" d="M4070 7922l49-59l-41-13l-49 58"/><path fill="#007810" d="M4154 7880l49-57l-42-13l-49 56"/><path fill="#007800" d="M4238 7840l49-54l-42-13l-49 54"/><path fill="#406800" d="M4662 7667l48-44l-44-11l-48 43"/><path fill="#586000" d="M4919 7585l48-37l-45-11l-48 37"/><path fill="#585800" d="M5005 7562l48-35l-46-11l-48 34"/><path fill="#504800" d="M5091 7540l48-32l-46-11l-48 32"/><path fill="#504000" d="M5178 7521l47-31l-47-11l-47 30"/><path fill="#483800" d="M5264 7503l47-28l-47-11l-47 28"/><path fill="#403000" d="M5351 7487l46-26l-47-11l-47 26"/><path fill="#382800" d="M5437 7473l47-24l-48-10l-47 23"/><path fill="#302000" d="M5524 7461l46-22l-49-10l-45 21"/><path fill="#281800" d="M5611 7451l45-20l-49-10l-45 19"/><path fill="#100800" d="M5872 7432l43-13l-50-10l-44 12"/><path fill="#000000" d="M6307 7437l39 0l-54-7l-40-1M6394 7443l38 4l-55-7l-38-4M6480 7451l38 7l-56-5l-38-7M6566 7462l38 9l-56-4l-38-10M6652 7474l37 12l-56-4l-37-12M6220 7432l40-2l-54-8l-40 2"/><path fill="#107000" d="M4322 7802l49-53l-42-12l-49 52"/><path fill="#207000" d="M4407 7765l49-50l-43-12l-49 50"/><path fill="#307000" d="M4491 7731l49-48l-43-12l-49 47"/><path fill="#386800" d="M4576 7698l49-46l-43-12l-49 46"/><path fill="#080000" d="M5959 7429l43-10l-52-10l-43 10"/><path fill="#000000" d="M6046 7428l42-8l-52-9l-42 8M6133 7429l41-5l-53-9l-41 5"/><path fill="#486800" d="M4703 7677l48-44l-44-12l-49 43"/><path fill="#506800" d="M4789 7648l48-42l-45-12l-48 41"/><path fill="#201000" d="M5743 7450l45-18l-50-10l-45 17"/><path fill="#181000" d="M5830 7443l45-15l-51-10l-44 14"/><path fill="#506000" d="M4875 7620l48-40l-45-11l-49 39"/><path fill="#281800" d="M5656 7458l45-20l-49-10l-46 19"/><path fill="#008048" d="M3941 8023l50-64l-41-14l-49 63"/><path fill="#007838" d="M4025 7977l49-61l-41-14l-49 61"/><path fill="#007820" d="M4108 7934l50-60l-42-13l-49 59"/><path fill="#007810" d="M4192 7892l50-58l-42-13l-49 57"/><path fill="#007800" d="M4277 7851l49-55l-42-13l-49 55"/><path fill="#387000" d="M4617 7708l49-46l-44-12l-49 45"/><path fill="#586000" d="M4961 7595l48-38l-46-12l-48 38"/><path fill="#585800" d="M5047 7571l48-36l-46-11l-48 35"/><path fill="#585000" d="M5134 7549l47-33l-46-11l-48 32"/><path fill="#504000" d="M5221 7529l47-31l-47-11l-47 30"/><path fill="#483800" d="M5307 7511l47-29l-47-11l-47 29"/><path fill="#403000" d="M5394 7495l47-27l-48-10l-46 26"/><path fill="#382800" d="M5481 7481l47-25l-49-10l-46 23"/><path fill="#302000" d="M5569 7468l45-22l-48-10l-46 21"/><path fill="#100800" d="M5918 7438l43-13l-51-10l-43 13"/><path fill="#000000" d="M6268 7438l40-3l-55-8l-40 3M6355 7443l39 0l-55-8l-39 0M6442 7449l38 3l-56-7l-38-3M6529 7457l37 6l-56-6l-38-6M6615 7467l37 9l-56-5l-38-9M6180 7436l41-6l-53-9l-41 5"/><path fill="#107800" d="M4361 7813l50-53l-43-13l-49 52"/><path fill="#207000" d="M4446 7776l50-51l-44-12l-49 50"/><path fill="#307000" d="M4532 7741l49-48l-44-13l-49 48"/><path fill="#080000" d="M6005 7436l43-11l-52-10l-43 10"/><path fill="#000000" d="M6093 7435l42-9l-53-9l-42 8"/><path fill="#407000" d="M4658 7719l49-47l-45-13l-48 47"/><path fill="#486800" d="M4744 7687l49-45l-45-12l-49 44"/><path fill="#506800" d="M4830 7657l49-42l-45-12l-49 42"/><path fill="#301800" d="M5701 7465l45-20l-49-10l-46 19"/><path fill="#201000" d="M5789 7457l44-18l-50-11l-45 18"/><path fill="#181000" d="M5876 7450l45-16l-51-10l-45 15"/><path fill="#586800" d="M4917 7630l48-41l-46-12l-48 40"/><path fill="#382000" d="M5613 7476l46-22l-49-11l-46 22"/><path fill="#008048" d="M3979 8036l50-65l-41-14l-50 64"/><path fill="#008038" d="M4063 7990l49-62l-41-14l-49 61"/><path fill="#007820" d="M4147 7946l49-60l-41-14l-50 59"/><path fill="#007810" d="M4231 7903l50-57l-42-14l-50 57"/><path fill="#087800" d="M4316 7863l49-56l-42-13l-49 55"/><path fill="#307000" d="M4572 7752l49-49l-44-13l-49 49"/><path fill="#606000" d="M5003 7604l48-38l-46-12l-48 38"/><path fill="#585800" d="M5090 7580l48-36l-47-12l-47 36"/><path fill="#585000" d="M5177 7558l48-34l-47-11l-48 33"/><path fill="#504000" d="M5264 7538l47-32l-47-11l-47 31"/><path fill="#483800" d="M5351 7519l47-29l-48-11l-47 29"/><path fill="#483000" d="M5439 7503l46-27l-48-11l-47 26"/><path fill="#402800" d="M5526 7489l46-25l-49-11l-46 24"/><path fill="#100800" d="M5964 7445l44-13l-52-10l-43 13"/><path fill="#000000" d="M6227 7442l42-6l-54-9l-41 5M6315 7445l40-4l-54-8l-40 3M6403 7449l39-1l-56-7l-39 0M6490 7455l39 3l-57-7l-38-3M6577 7463l38 6l-57-6l-37-6M6140 7441l42-8l-53-10l-42 8"/><path fill="#187800" d="M4401 7824l49-53l-43-14l-49 53"/><path fill="#207000" d="M4486 7787l50-51l-44-13l-49 51"/><path fill="#080800" d="M6052 7442l43-11l-53-10l-42 11"/><path fill="#307000" d="M4613 7763l49-50l-44-13l-49 49"/><path fill="#407000" d="M4699 7729l49-47l-45-13l-49 47"/><path fill="#487000" d="M4785 7698l49-46l-45-12l-49 44"/><path fill="#506800" d="M4872 7668l49-43l-46-13l-48 43"/><path fill="#382000" d="M5659 7484l45-23l-49-11l-46 23"/><path fill="#301800" d="M5747 7473l45-20l-50-11l-46 20"/><path fill="#281800" d="M5835 7464l44-18l-50-11l-45 18"/><path fill="#201000" d="M5923 7458l44-17l-52-10l-44 15"/><path fill="#586800" d="M4959 7640l48-41l-46-12l-48 40"/><path fill="#402800" d="M5571 7497l46-25l-49-12l-46 25"/><path fill="#008048" d="M4017 8049l50-65l-42-15l-49 65"/><path fill="#008030" d="M4101 8003l50-63l-42-14l-49 62"/><path fill="#008020" d="M4186 7958l49-60l-42-14l-49 60"/><path fill="#007808" d="M4271 7915l49-58l-42-14l-50 58"/><path fill="#087800" d="M4356 7875l49-57l-43-13l-49 55"/><path fill="#287800" d="M4527 7798l49-52l-44-13l-49 52"/><path fill="#606000" d="M5046 7613l48-38l-46-12l-49 38"/><path fill="#605800" d="M5133 7589l48-36l-47-12l-48 36"/><path fill="#585000" d="M5220 7567l48-34l-47-12l-48 34"/><path fill="#504000" d="M5308 7547l47-32l-48-12l-47 31"/><path fill="#503800" d="M5395 7528l47-30l-48-11l-47 29"/><path fill="#483000" d="M5483 7511l47-27l-49-11l-47 27"/><path fill="#100800" d="M6011 7453l43-14l-52-11l-43 14"/><path fill="#080000" d="M6187 7448l42-9l-53-10l-42 9"/><path fill="#000000" d="M6275 7449l41-7l-54-9l-41 6M6363 7451l40-4l-55-9l-40 4M6451 7456l39-2l-55-8l-40 1M6539 7462l38 2l-56-8l-39-2"/><path fill="#080800" d="M6099 7449l43-11l-53-10l-43 11"/><path fill="#187800" d="M4441 7836l49-55l-43-13l-49 54"/><path fill="#287800" d="M4568 7810l49-53l-44-13l-50 52"/><path fill="#387800" d="M4654 7774l49-50l-45-13l-49 49"/><path fill="#407000" d="M4740 7740l49-48l-45-13l-49 48"/><path fill="#507000" d="M4827 7708l49-46l-45-12l-49 45"/><path fill="#586800" d="M4914 7678l49-44l-46-12l-49 43"/><path fill="#402800" d="M5616 7505l46-25l-49-12l-46 25"/><path fill="#382000" d="M5704 7492l46-23l-50-11l-46 23"/><path fill="#301800" d="M5793 7481l45-21l-51-11l-45 21"/><path fill="#281800" d="M5881 7472l45-19l-52-11l-44 19"/><path fill="#201000" d="M5969 7465l44-16l-51-11l-44 16"/><path fill="#606800" d="M5001 7650l49-42l-47-12l-48 41"/><path fill="#483000" d="M5528 7520l46-28l-49-11l-46 27"/><path fill="#180800" d="M6058 7460l43-14l-52-11l-44 14"/><path fill="#008048" d="M4056 8062l49-65l-41-15l-50 65"/><path fill="#008030" d="M4140 8016l50-64l-42-14l-50 62"/><path fill="#008020" d="M4225 7971l50-61l-43-15l-49 61"/><path fill="#008008" d="M4310 7928l50-59l-43-14l-50 58"/><path fill="#087800" d="M4396 7887l49-57l-43-14l-49 56"/><path fill="#187800" d="M4482 7847l49-54l-44-14l-49 54"/><path fill="#606800" d="M5089 7623l48-39l-47-12l-48 39"/><path fill="#605800" d="M5176 7599l48-37l-47-12l-48 36"/><path fill="#585000" d="M5264 7576l48-34l-48-12l-48 34"/><path fill="#584000" d="M5352 7556l47-33l-48-12l-47 32"/><path fill="#503800" d="M5440 7537l47-30l-49-12l-47 30"/><path fill="#100800" d="M6146 7457l43-12l-53-11l-43 12"/><path fill="#080000" d="M6235 7455l42-9l-54-10l-42 9"/><path fill="#000000" d="M6323 7456l41-7l-54-10l-41 7M6412 7458l40-4l-56-9l-40 4M6500 7462l39-1l-56-9l-39 1"/><path fill="#201000" d="M6016 7473l44-17l-52-11l-44 17"/><path fill="#087800" d="M4436 7899l49-57l-43-14l-50 56"/><path fill="#187800" d="M4522 7859l50-55l-45-14l-49 55"/><path fill="#287800" d="M4609 7822l49-53l-45-14l-49 52"/><path fill="#387800" d="M4695 7786l49-51l-44-14l-50 51"/><path fill="#407000" d="M4782 7751l49-48l-45-13l-49 48"/><path fill="#507000" d="M4869 7719l49-46l-46-13l-48 46"/><path fill="#587000" d="M4957 7689l48-44l-46-13l-48 43"/><path fill="#503000" d="M5573 7529l47-28l-50-12l-46 28"/><path fill="#482800" d="M5662 7514l46-26l-50-12l-46 26"/><path fill="#402000" d="M5750 7501l46-24l-51-12l-45 24"/><path fill="#381800" d="M5839 7490l45-22l-51-11l-45 21"/><path fill="#301800" d="M5928 7480l44-19l-51-11l-45 19"/><path fill="#180800" d="M6105 7468l44-15l-53-11l-44 14"/><path fill="#606800" d="M5044 7660l49-42l-47-13l-48 42"/><path fill="#503800" d="M5485 7546l47-31l-49-12l-47 31"/><path fill="#008048" d="M4095 8076l49-66l-42-15l-49 65"/><path fill="#008030" d="M4179 8029l50-64l-42-15l-50 63"/><path fill="#008020" d="M4265 7984l49-62l-43-14l-49 61"/><path fill="#008008" d="M4350 7941l50-60l-43-14l-50 59"/><path fill="#686800" d="M5132 7634l48-40l-47-13l-48 39"/><path fill="#605800" d="M5220 7609l48-38l-48-12l-48 37"/><path fill="#605000" d="M5308 7586l48-35l-48-12l-48 34"/><path fill="#584000" d="M5396 7565l48-33l-49-12l-47 32"/><path fill="#100800" d="M6194 7464l43-12l-54-11l-42 12"/><path fill="#080000" d="M6283 7463l42-10l-54-11l-42 10"/><path fill="#000000" d="M6371 7463l42-7l-55-10l-41 7M6460 7465l40-4l-55-10l-40 4"/><path fill="#088000" d="M4477 7912l49-58l-44-15l-49 58"/><path fill="#281000" d="M6064 7481l44-17l-53-12l-44 18"/><path fill="#301800" d="M5975 7489l44-20l-52-12l-44 20"/><path fill="#008008" d="M4390 7954l50-61l-44-14l-49 59"/><path fill="#187800" d="M4563 7872l50-56l-45-14l-49 55"/><path fill="#287800" d="M4650 7834l49-54l-45-14l-49 53"/><path fill="#387800" d="M4737 7797l49-51l-45-14l-49 51"/><path fill="#487800" d="M4824 7763l49-49l-45-14l-49 49"/><path fill="#507000" d="M4912 7730l49-47l-46-13l-49 46"/><path fill="#587000" d="M5000 7700l48-45l-46-13l-49 44"/><path fill="#583800" d="M5530 7556l47-32l-50-12l-47 31"/><path fill="#503000" d="M5619 7538l46-29l-50-12l-46 29"/><path fill="#482800" d="M5707 7523l47-27l-51-12l-46 27"/><path fill="#402000" d="M5796 7510l46-25l-51-12l-45 24"/><path fill="#382000" d="M5885 7498l46-22l-52-12l-45 22"/><path fill="#201000" d="M6153 7476l43-15l-53-12l-43 15"/><path fill="#606800" d="M5088 7671l48-43l-47-13l-48 42"/><path fill="#584800" d="M5441 7575l47-34l-49-12l-47 33"/><path fill="#008048" d="M4134 8090l49-67l-42-15l-50 66"/><path fill="#008030" d="M4219 8042l50-64l-43-15l-50 64"/><path fill="#008020" d="M4304 7997l50-62l-43-15l-50 62"/><path fill="#686800" d="M5176 7644l48-40l-48-13l-48 40"/><path fill="#605800" d="M5264 7619l48-38l-48-13l-48 38"/><path fill="#605000" d="M5352 7596l48-36l-48-12l-48 35"/><path fill="#100800" d="M6242 7472l43-13l-54-11l-43 13"/><path fill="#080800" d="M6331 7471l42-11l-54-11l-42 10"/><path fill="#000000" d="M6420 7471l41-8l-55-11l-41 8"/><path fill="#008008" d="M4431 7967l50-61l-44-15l-50 60"/><path fill="#088000" d="M4518 7925l49-59l-44-15l-50 58"/><path fill="#301800" d="M6022 7497l45-20l-53-12l-44 20"/><path fill="#281000" d="M6111 7490l44-18l-52-12l-44 18"/><path fill="#382000" d="M5932 7507l46-23l-52-11l-45 22"/><path fill="#008020" d="M4345 8011l49-63l-43-15l-50 62"/><path fill="#208000" d="M4604 7885l50-57l-45-14l-49 55"/><path fill="#307800" d="M4692 7846l49-54l-45-14l-49 53"/><path fill="#387800" d="M4779 7810l49-52l-45-15l-49 52"/><path fill="#487800" d="M4867 7775l49-50l-46-14l-49 49"/><path fill="#507000" d="M4955 7742l49-48l-47-13l-49 47"/><path fill="#607000" d="M5043 7711l48-45l-46-14l-49 45"/><path fill="#604800" d="M5486 7585l47-34l-49-13l-47 34"/><path fill="#583800" d="M5575 7565l47-31l-50-13l-46 31"/><path fill="#503000" d="M5664 7548l47-30l-50-12l-47 29"/><path fill="#482800" d="M5754 7532l46-27l-51-12l-46 27"/><path fill="#402000" d="M5843 7519l46-25l-51-12l-46 24"/><path fill="#201000" d="M6201 7484l43-16l-53-11l-44 15"/><path fill="#687000" d="M5131 7682l49-43l-48-13l-48 42"/><path fill="#605000" d="M5397 7606l48-36l-49-13l-48 36"/><path fill="#008048" d="M4173 8104l50-67l-43-16l-50 67"/><path fill="#008030" d="M4259 8056l49-65l-43-15l-49 64"/><path fill="#686800" d="M5220 7655l48-41l-48-13l-48 40"/><path fill="#685800" d="M5308 7630l48-39l-48-13l-48 38"/><path fill="#180800" d="M6290 7480l43-13l-54-11l-43 13"/><path fill="#100800" d="M6380 7478l42-10l-55-11l-42 10"/><path fill="#008020" d="M4385 8025l50-64l-44-15l-50 63"/><path fill="#008008" d="M4472 7980l49-61l-44-15l-49 61"/><path fill="#088000" d="M4559 7938l49-59l-44-15l-50 58"/><path fill="#482000" d="M5890 7528l46-25l-52-13l-45 25"/><path fill="#402000" d="M5980 7516l45-23l-52-12l-45 23"/><path fill="#381800" d="M6070 7506l44-20l-52-12l-45 20"/><path fill="#301000" d="M6160 7499l44-19l-54-12l-44 18"/><path fill="#008030" d="M4299 8071l49-66l-43-16l-50 65"/><path fill="#208000" d="M4646 7898l50-57l-46-15l-49 56"/><path fill="#307800" d="M4734 7859l49-55l-46-15l-49 55"/><path fill="#407800" d="M4821 7822l50-53l-46-14l-49 52"/><path fill="#487800" d="M4910 7787l49-50l-47-15l-49 50"/><path fill="#587800" d="M4998 7754l49-48l-47-14l-49 47"/><path fill="#607000" d="M5086 7723l49-46l-47-14l-49 45"/><path fill="#605000" d="M5442 7617l48-37l-49-13l-48 36"/><path fill="#604800" d="M5532 7595l47-34l-50-13l-47 34"/><path fill="#583800" d="M5621 7575l47-32l-50-13l-47 32"/><path fill="#503000" d="M5711 7558l46-30l-50-13l-47 30"/><path fill="#502800" d="M5800 7542l46-28l-51-12l-46 27"/><path fill="#201000" d="M6249 7493l44-17l-54-11l-43 15"/><path fill="#008848" d="M4213 8118l49-68l-42-15l-50 67"/><path fill="#687000" d="M5175 7693l49-43l-48-14l-49 43"/><path fill="#686800" d="M5264 7666l48-42l-48-13l-48 41"/><path fill="#685800" d="M5353 7640l48-39l-49-13l-48 39"/><path fill="#180800" d="M6339 7489l43-14l-55-12l-42 14"/><path fill="#008830" d="M4339 8085l50-66l-44-16l-50 65"/><path fill="#008018" d="M4426 8039l50-64l-45-16l-49 63"/><path fill="#008008" d="M4513 7994l50-62l-45-15l-50 61"/><path fill="#108000" d="M4600 7952l50-60l-45-15l-50 59"/><path fill="#502800" d="M5847 7552l46-28l-51-13l-46 28"/><path fill="#482000" d="M5937 7538l46-26l-52-13l-46 26"/><path fill="#402000" d="M6028 7526l45-24l-53-12l-45 23"/><path fill="#381800" d="M6118 7516l44-22l-53-12l-44 21"/><path fill="#301000" d="M6208 7508l44-19l-54-12l-44 18"/><path fill="#008848" d="M4253 8133l49-68l-43-17l-50 68"/><path fill="#208000" d="M4688 7911l49-58l-45-15l-49 57"/><path fill="#308000" d="M4776 7872l49-56l-46-14l-49 54"/><path fill="#407800" d="M4864 7835l49-54l-46-14l-49 52"/><path fill="#487800" d="M4953 7799l49-51l-47-14l-49 50"/><path fill="#587800" d="M5041 7766l49-49l-47-14l-49 48"/><path fill="#607000" d="M5130 7734l49-46l-48-14l-48 46"/><path fill="#685800" d="M5398 7651l48-39l-49-14l-48 39"/><path fill="#685000" d="M5488 7628l47-38l-49-13l-48 37"/><path fill="#604800" d="M5577 7606l48-35l-50-14l-47 35"/><path fill="#583800" d="M5667 7586l47-33l-50-13l-47 32"/><path fill="#583000" d="M5757 7568l47-31l-51-13l-47 30"/><path fill="#281000" d="M6298 7501l44-16l-55-12l-43 16"/><path fill="#687000" d="M5219 7705l49-44l-48-14l-49 43"/><path fill="#706800" d="M5309 7677l48-42l-49-13l-48 41"/><path fill="#008848" d="M4293 8148l50-69l-44-16l-50 68"/><path fill="#008830" d="M4380 8100l50-67l-44-16l-50 66"/><path fill="#008818" d="M4467 8053l50-64l-45-17l-49 65"/><path fill="#008008" d="M4554 8009l50-63l-45-16l-49 62"/><path fill="#108000" d="M4642 7966l50-61l-45-15l-50 59"/><path fill="#583000" d="M5804 7578l47-31l-52-13l-46 30"/><path fill="#502800" d="M5895 7562l46-29l-52-13l-46 28"/><path fill="#482800" d="M5985 7548l46-27l-53-13l-45 26"/><path fill="#402000" d="M6076 7535l45-24l-53-12l-45 23"/><path fill="#381800" d="M6166 7525l45-22l-54-12l-44 21"/><path fill="#301000" d="M6257 7517l44-20l-54-12l-44 19"/><path fill="#208000" d="M4730 7924l50-58l-46-15l-49 57"/><path fill="#308000" d="M4819 7885l49-56l-46-15l-50 55"/><path fill="#408000" d="M4907 7848l49-54l-46-15l-49 53"/><path fill="#507800" d="M4996 7812l49-51l-47-15l-49 51"/><path fill="#587800" d="M5085 7778l49-49l-47-14l-49 48"/><path fill="#687800" d="M5174 7747l49-47l-48-15l-48 47"/><path fill="#707000" d="M5264 7717l48-45l-48-14l-48 44"/><path fill="#706800" d="M5354 7689l48-43l-49-14l-48 42"/><path fill="#686000" d="M5444 7663l47-41l-49-13l-48 39"/><path fill="#685000" d="M5534 7639l47-38l-50-14l-47 37"/><path fill="#604800" d="M5624 7616l47-35l-50-14l-48 35"/><path fill="#603800" d="M5714 7596l47-33l-51-13l-47 33"/><path fill="#008848" d="M4334 8164l49-70l-43-17l-50 69"/><path fill="#008830" d="M4421 8115l50-68l-45-16l-50 67"/><path fill="#008818" d="M4508 8068l50-65l-45-17l-49 65"/><path fill="#008808" d="M4596 8023l50-63l-45-16l-50 62"/><path fill="#108000" d="M4684 7980l50-61l-46-16l-49 60"/><path fill="#707000" d="M5309 7729l48-45l-48-15l-49 45"/><path fill="#706800" d="M5399 7701l48-43l-49-15l-48 43"/><path fill="#604000" d="M5761 7607l47-34l-51-13l-47 33"/><path fill="#583000" d="M5852 7589l46-32l-52-13l-46 31"/><path fill="#582800" d="M5942 7572l46-29l-52-13l-46 29"/><path fill="#502800" d="M6033 7558l46-27l-53-13l-45 26"/><path fill="#482000" d="M6124 7545l45-24l-53-13l-45 24"/><path fill="#401800" d="M6215 7535l45-22l-54-13l-45 22"/><path fill="#208000" d="M4773 7938l49-59l-46-15l-49 58"/><path fill="#308000" d="M4862 7899l49-57l-47-15l-49 56"/><path fill="#408000" d="M4951 7861l49-54l-47-16l-49 54"/><path fill="#507800" d="M5040 7825l49-52l-47-15l-50 51"/><path fill="#587800" d="M5129 7791l49-50l-48-15l-49 50"/><path fill="#687800" d="M5219 7759l49-48l-49-14l-48 47"/><path fill="#706000" d="M5489 7674l48-40l-50-14l-47 40"/><path fill="#685000" d="M5580 7650l47-38l-50-14l-48 38"/><path fill="#684800" d="M5670 7628l47-37l-50-13l-47 35"/><path fill="#008848" d="M4374 8180l50-71l-44-17l-50 70"/><path fill="#008830" d="M4462 8131l50-69l-45-17l-50 68"/><path fill="#008818" d="M4550 8083l50-66l-45-16l-50 65"/><path fill="#008808" d="M4638 8038l50-64l-45-16l-50 63"/><path fill="#108800" d="M4727 7994l50-61l-46-17l-50 61"/><path fill="#687800" d="M5264 7772l49-48l-49-15l-49 47"/><path fill="#707800" d="M5354 7741l49-46l-49-14l-49 45"/><path fill="#706000" d="M5535 7686l48-41l-50-14l-48 40"/><path fill="#684800" d="M5717 7639l47-37l-51-14l-47 37"/><path fill="#604000" d="M5808 7618l47-34l-52-14l-46 34"/><path fill="#603000" d="M5899 7600l47-32l-52-14l-47 32"/><path fill="#582800" d="M5991 7583l46-30l-53-13l-46 29"/><path fill="#502800" d="M6082 7568l45-27l-53-13l-45 27"/><path fill="#482000" d="M6173 7556l45-25l-54-14l-45 25"/><path fill="#208000" d="M4816 7953l49-60l-46-16l-50 59"/><path fill="#308000" d="M4905 7913l49-58l-47-15l-49 56"/><path fill="#408000" d="M4994 7875l50-55l-48-16l-49 54"/><path fill="#508000" d="M5084 7838l49-52l-48-16l-49 52"/><path fill="#607800" d="M5174 7804l49-50l-48-15l-49 49"/><path fill="#685000" d="M5626 7662l48-39l-51-14l-47 38"/><path fill="#706800" d="M5445 7713l48-44l-50-14l-48 43"/><path fill="#008848" d="M4416 8196l50-71l-45-18l-50 71"/><path fill="#008830" d="M4504 8146l50-69l-45-17l-50 68"/><path fill="#008818" d="M4592 8099l50-67l-45-17l-50 66"/><path fill="#008808" d="M4681 8053l50-64l-46-17l-50 64"/><path fill="#108800" d="M4770 8009l50-62l-47-17l-50 62"/><path fill="#608000" d="M5219 7817l49-51l-49-15l-49 50"/><path fill="#687800" d="M5309 7785l49-49l-49-15l-49 48"/><path fill="#787800" d="M5400 7754l49-46l-50-15l-49 46"/><path fill="#786800" d="M5491 7725l48-44l-50-15l-48 44"/><path fill="#705000" d="M5673 7674l48-40l-51-14l-48 39"/><path fill="#684800" d="M5764 7651l48-37l-52-15l-47 37"/><path fill="#684000" d="M5856 7630l47-35l-52-14l-47 34"/><path fill="#603000" d="M5947 7611l47-33l-53-14l-46 33"/><path fill="#582800" d="M6039 7594l46-30l-53-14l-46 30"/><path fill="#502800" d="M6131 7579l45-28l-53-13l-46 27"/><path fill="#208800" d="M4859 7967l50-60l-47-16l-50 59"/><path fill="#308000" d="M4949 7927l49-58l-47-16l-50 57"/><path fill="#408000" d="M5038 7888l50-55l-48-16l-49 55"/><path fill="#508000" d="M5128 7852l50-53l-49-16l-49 53"/><path fill="#706000" d="M5582 7699l48-42l-51-15l-48 41"/><path fill="#008848" d="M4457 8212l50-72l-44-17l-51 71"/><path fill="#008830" d="M4546 8162l50-69l-46-18l-50 69"/><path fill="#008818" d="M4634 8115l50-68l-45-17l-50 67"/><path fill="#008808" d="M4723 8069l50-66l-46-17l-50 65"/><path fill="#108800" d="M4813 8024l50-63l-47-16l-50 62"/><path fill="#588000" d="M5173 7866l50-54l-49-16l-49 53"/><path fill="#608000" d="M5264 7831l49-52l-49-15l-49 51"/><path fill="#707800" d="M5355 7798l49-49l-50-16l-49 49"/><path fill="#787800" d="M5446 7767l49-47l-50-15l-49 46"/><path fill="#706000" d="M5629 7711l48-42l-51-15l-48 42"/><path fill="#705000" d="M5720 7686l48-40l-51-15l-48 40"/><path fill="#684800" d="M5812 7663l47-38l-52-15l-47 38"/><path fill="#684000" d="M5904 7642l47-36l-53-14l-46 35"/><path fill="#603000" d="M5996 7623l46-34l-53-14l-46 33"/><path fill="#582800" d="M6088 7605l46-30l-54-14l-46 30"/><path fill="#208800" d="M4903 7982l49-61l-47-16l-50 60"/><path fill="#388000" d="M4993 7941l49-58l-47-16l-50 57"/><path fill="#488000" d="M5083 7903l49-56l-48-17l-49 56"/><path fill="#786800" d="M5537 7738l49-45l-51-15l-48 44"/><path fill="#009048" d="M4499 8229l50-72l-45-19l-50 72"/><path fill="#008830" d="M4588 8179l50-70l-46-18l-50 69"/><path fill="#008818" d="M4677 8131l50-68l-46-18l-50 67"/><path fill="#008808" d="M4767 8084l50-65l-47-18l-50 65"/><path fill="#108800" d="M4856 8040l50-64l-47-17l-50 63"/><path fill="#488000" d="M5128 7917l49-57l-48-16l-50 56"/><path fill="#588000" d="M5218 7880l50-54l-49-17l-49 54"/><path fill="#608000" d="M5310 7845l49-52l-50-16l-49 51"/><path fill="#708000" d="M5401 7812l49-50l-50-16l-49 49"/><path fill="#787800" d="M5492 7781l49-48l-50-16l-49 47"/><path fill="#787000" d="M5584 7751l48-45l-50-15l-49 44"/><path fill="#786000" d="M5676 7724l48-43l-51-15l-48 42"/><path fill="#705000" d="M5768 7699l48-41l-52-15l-48 40"/><path fill="#704800" d="M5860 7675l47-38l-52-15l-47 38"/><path fill="#684000" d="M5952 7654l47-36l-53-15l-46 36"/><path fill="#603800" d="M6045 7634l46-33l-53-15l-47 33"/><path fill="#208800" d="M4947 7997l49-61l-47-17l-50 61"/><path fill="#388800" d="M5037 7956l50-59l-48-17l-50 59"/><path fill="#009050" d="M4541 8246l51-73l-46-18l-50 72"/><path fill="#009030" d="M4631 8196l50-71l-46-18l-50 70"/><path fill="#008818" d="M4720 8147l50-69l-46-17l-50 68"/><path fill="#008808" d="M4810 8100l50-66l-47-18l-50 66"/><path fill="#108800" d="M4900 8056l50-65l-47-17l-50 63"/><path fill="#208800" d="M4991 8013l50-62l-48-18l-50 62"/><path fill="#388800" d="M5082 7971l49-59l-48-17l-50 59"/><path fill="#488800" d="M5173 7932l49-57l-49-17l-49 57"/><path fill="#588000" d="M5264 7895l49-55l-49-17l-49 55"/><path fill="#688000" d="M5356 7859l49-52l-50-17l-49 52"/><path fill="#708000" d="M5447 7826l49-51l-50-16l-49 50"/><path fill="#787800" d="M5539 7794l49-48l-51-16l-48 48"/><path fill="#787000" d="M5631 7765l49-46l-52-16l-48 45"/><path fill="#786000" d="M5724 7737l48-43l-52-16l-48 43"/><path fill="#705000" d="M5816 7712l48-42l-53-15l-47 41"/><path fill="#704800" d="M5909 7688l47-39l-53-15l-47 38"/><path fill="#684000" d="M6001 7666l47-36l-53-15l-47 36"/><path fill="#009050" d="M4584 8263l50-73l-46-19l-50 73"/><path fill="#108800" d="M4945 8072l50-65l-48-18l-50 64"/><path fill="#808000" d="M5586 7808l49-48l-51-17l-49 49"/><path fill="#009038" d="M4674 8213l50-72l-47-18l-50 71"/><path fill="#009018" d="M4764 8164l50-69l-47-19l-50 69"/><path fill="#008808" d="M4854 8117l50-67l-47-18l-50 66"/><path fill="#288800" d="M5035 8028l50-62l-48-18l-50 62"/><path fill="#388800" d="M5127 7987l49-60l-48-18l-50 60"/><path fill="#488800" d="M5218 7947l50-58l-49-17l-50 58"/><path fill="#588000" d="M5310 7910l49-56l-49-17l-50 55"/><path fill="#688000" d="M5402 7874l49-53l-50-17l-49 53"/><path fill="#708000" d="M5494 7840l49-51l-51-16l-49 50"/><path fill="#787000" d="M5679 7779l48-47l-51-16l-49 46"/><path fill="#786000" d="M5772 7751l48-45l-53-15l-47 43"/><path fill="#705000" d="M5864 7725l48-42l-53-16l-47 42"/><path fill="#704800" d="M5957 7701l48-40l-53-15l-48 39"/><path fill="#009050" d="M4627 8281l50-74l-46-19l-50 73"/><path fill="#009038" d="M4717 8230l50-72l-47-19l-50 72"/><path fill="#009020" d="M4807 8181l51-70l-48-19l-50 70"/><path fill="#009008" d="M4898 8134l50-68l-47-18l-51 67"/><path fill="#108800" d="M4989 8088l50-65l-48-18l-50 64"/><path fill="#288800" d="M5080 8045l50-64l-48-18l-50 63"/><path fill="#388800" d="M5172 8003l50-61l-49-18l-50 61"/><path fill="#488800" d="M5264 7963l50-59l-50-17l-50 58"/><path fill="#588800" d="M5356 7925l50-56l-51-18l-49 56"/><path fill="#688000" d="M5449 7889l49-54l-51-17l-49 53"/><path fill="#788000" d="M5541 7855l49-52l-51-17l-49 52"/><path fill="#808000" d="M5634 7823l49-50l-52-16l-49 49"/><path fill="#787000" d="M5727 7793l48-47l-52-17l-48 47"/><path fill="#786000" d="M5820 7765l48-45l-53-16l-47 44"/><path fill="#785800" d="M5913 7738l48-42l-53-16l-48 42"/><path fill="#009020" d="M4851 8199l51-71l-48-19l-50 70"/><path fill="#109000" d="M5034 8105l50-66l-48-19l-50 66"/><path fill="#688800" d="M5496 7904l49-54l-51-18l-49 54"/><path fill="#788000" d="M5589 7870l49-53l-52-17l-49 52"/><path fill="#808000" d="M5682 7838l48-51l-51-16l-49 49"/><path fill="#009038" d="M4760 8248l51-73l-47-19l-51 72"/><path fill="#009008" d="M4943 8151l50-69l-48-18l-50 67"/><path fill="#288800" d="M5126 8061l50-64l-49-18l-50 63"/><path fill="#388800" d="M5218 8019l50-62l-50-18l-50 61"/><path fill="#488800" d="M5310 7979l50-60l-50-17l-50 58"/><path fill="#588800" d="M5403 7941l49-57l-50-18l-50 56"/><path fill="#807000" d="M5775 7807l49-48l-53-16l-48 47"/><path fill="#786000" d="M5869 7779l48-46l-53-16l-48 45"/><path fill="#009050" d="M4670 8299l50-75l-46-19l-51 74"/><path fill="#009008" d="M4987 8168l51-69l-49-19l-50 69"/><path fill="#009050" d="M4714 8318l50-76l-47-20l-50 75"/><path fill="#009038" d="M4804 8266l51-73l-47-20l-51 73"/><path fill="#009020" d="M4896 8216l50-71l-48-19l-50 70"/><path fill="#109000" d="M5079 8122l50-67l-48-18l-51 66"/><path fill="#289000" d="M5171 8078l51-65l-50-18l-50 64"/><path fill="#388800" d="M5264 8036l50-63l-50-18l-50 62"/><path fill="#488800" d="M5357 7995l49-60l-50-18l-50 59"/><path fill="#588800" d="M5450 7956l49-57l-51-18l-49 57"/><path fill="#688800" d="M5543 7920l49-55l-51-18l-49 55"/><path fill="#788000" d="M5636 7885l49-53l-51-17l-49 52"/><path fill="#808000" d="M5730 7853l49-51l-53-17l-48 50"/><path fill="#807000" d="M5824 7822l48-49l-53-16l-48 47"/><path fill="#009050" d="M4757 8337l51-77l-47-20l-51 76"/><path fill="#009020" d="M4941 8234l50-72l-48-19l-51 71"/><path fill="#109000" d="M5125 8140l50-68l-49-19l-50 67"/><path fill="#488800" d="M5404 8012l49-61l-50-18l-50 60"/><path fill="#588800" d="M5497 7973l50-59l-52-18l-49 58"/><path fill="#688800" d="M5591 7936l49-56l-52-18l-49 55"/><path fill="#788800" d="M5685 7901l49-54l-53-17l-48 53"/><path fill="#808000" d="M5779 7868l48-51l-52-18l-49 51"/><path fill="#009038" d="M4849 8285l50-75l-47-19l-51 73"/><path fill="#009008" d="M5033 8186l50-70l-49-19l-50 69"/><path fill="#289000" d="M5218 8095l50-65l-50-19l-50 65"/><path fill="#388800" d="M5310 8052l50-63l-50-18l-50 62"/><path fill="#009038" d="M4894 8304l50-75l-48-21l-51 75"/><path fill="#009008" d="M5078 8204l51-70l-50-20l-50 70"/><path fill="#289000" d="M5264 8113l50-66l-50-19l-50 65"/><path fill="#009050" d="M4802 8356l50-77l-47-21l-51 77"/><path fill="#009020" d="M4986 8253l50-73l-48-20l-51 72"/><path fill="#109000" d="M5171 8158l50-69l-49-19l-51 67"/><path fill="#389000" d="M5357 8070l50-64l-50-19l-50 63"/><path fill="#488800" d="M5451 8028l50-61l-51-19l-50 61"/><path fill="#608800" d="M5545 7989l49-59l-51-18l-50 58"/><path fill="#688800" d="M5639 7952l49-57l-52-18l-49 56"/><path fill="#788800" d="M5733 7917l49-54l-52-18l-49 53"/><path fill="#009058" d="M4846 8375l51-77l-48-21l-51 77"/><path fill="#009020" d="M5031 8272l51-74l-49-20l-51 73"/><path fill="#109000" d="M5217 8176l51-69l-50-20l-51 68"/><path fill="#289000" d="M5311 8130l50-66l-51-20l-50 66"/><path fill="#389000" d="M5405 8087l50-64l-51-19l-50 63"/><path fill="#489000" d="M5499 8046l49-62l-51-19l-50 61"/><path fill="#608800" d="M5593 8006l50-59l-52-19l-50 59"/><path fill="#708800" d="M5688 7969l49-58l-53-18l-49 57"/><path fill="#009038" d="M4939 8323l50-76l-48-21l-51 75"/><path fill="#009008" d="M5124 8223l51-71l-50-20l-50 70"/><path fill="#009838" d="M4984 8342l51-76l-49-21l-51 76"/><path fill="#009008" d="M5170 8242l51-72l-50-20l-50 71"/><path fill="#489000" d="M5547 8063l50-62l-52-20l-50 62"/><path fill="#009858" d="M4891 8395l51-78l-48-21l-51 77"/><path fill="#009020" d="M5077 8291l51-74l-50-21l-50 74"/><path fill="#109000" d="M5264 8194l50-69l-50-20l-50 68"/><path fill="#209000" d="M5358 8149l50-68l-51-19l-50 66"/><path fill="#389000" d="M5452 8105l50-65l-51-20l-50 65"/><path fill="#609000" d="M5642 8024l49-61l-52-19l-50 60"/><path fill="#009858" d="M4937 8416l50-80l-48-21l-51 78"/><path fill="#009820" d="M5123 8311l51-75l-50-21l-51 74"/><path fill="#009008" d="M5217 8261l51-73l-51-20l-50 72"/><path fill="#109000" d="M5311 8213l51-70l-51-21l-51 70"/><path fill="#209000" d="M5406 8167l50-68l-51-20l-51 67"/><path fill="#489000" d="M5595 8081l50-63l-52-20l-50 63"/><path fill="#009840" d="M5030 8362l51-77l-50-21l-50 76"/><path fill="#389000" d="M5500 8123l50-65l-51-20l-50 65"/><path fill="#109000" d="M5359 8232l50-70l-51-21l-51 70"/><path fill="#009840" d="M5076 8382l51-77l-50-22l-51 77"/><path fill="#009808" d="M5264 8281l51-74l-51-21l-51 73"/><path fill="#209000" d="M5453 8186l51-68l-52-21l-50 68"/><path fill="#009858" d="M4982 8436l51-80l-49-22l-51 80"/><path fill="#009828" d="M5170 8331l51-76l-51-21l-50 75"/><path fill="#389000" d="M5549 8142l50-66l-52-21l-51 66"/><path fill="#009858" d="M5028 8457l51-81l-49-22l-51 80"/><path fill="#009840" d="M5122 8403l51-78l-50-22l-51 77"/><path fill="#009828" d="M5217 8351l51-76l-51-22l-51 75"/><path fill="#009810" d="M5311 8301l51-74l-51-22l-51 73"/><path fill="#089800" d="M5406 8252l51-72l-52-21l-50 71"/><path fill="#209000" d="M5502 8206l50-70l-52-21l-50 69"/><path fill="#009828" d="M5264 8372l51-77l-51-22l-51 76"/><path fill="#009840" d="M5169 8424l51-79l-50-22l-51 78"/><path fill="#009810" d="M5359 8321l51-75l-51-22l-51 74"/><path fill="#009860" d="M5075 8479l51-82l-50-23l-51 81"/><path fill="#089800" d="M5455 8272l50-72l-52-22l-50 72"/><path fill="#009860" d="M5121 8500l52-82l-51-23l-51 82"/><path fill="#009840" d="M5216 8446l51-80l-50-23l-51 79"/><path fill="#009828" d="M5312 8393l51-78l-52-22l-51 77"/><path fill="#009810" d="M5407 8342l51-76l-52-22l-50 75"/><path fill="#009860" d="M5169 8523l51-83l-51-24l-51 82"/><path fill="#009848" d="M5264 8467l51-80l-51-23l-51 80"/><path fill="#009828" d="M5360 8414l51-78l-52-23l-51 78"/><path fill="#009868" d="M5216 8545l51-84l-51-23l-51 83"/><path fill="#009848" d="M5312 8490l51-82l-51-23l-52 80"/><path fill="#009868" d="M5264 8568l51-84l-51-25l-51 84"/></g><polyline fill="none" stroke="#0c1408" stroke-opacity="0.75" stroke-width="0.9" stroke-linejoin="round" points="383,798.2 386.7,799.4 390.4,800.6 394.2,801.9 398,803.2 401.8,804.5 405.6,805.8 409.5,807.2 413.4,808.6 417.3,810 421.3,811.4 425.3,812.9 429.3,814.4 433.4,816 437.5,817.6 441.6,819.2 445.7,820.8 449.9,822.5 454.2,824.2 458.4,825.9 462.7,827.7 467,829.5 471.4,831.4 475.8,833.3 480.2,835.2 484.6,837.1 489.1,839.1 493.7,841.2 498.2,843.2 502.8,845.3 507.5,847.5 512.1,849.6 516.9,851.9 521.6,854.1 526.4,856.4 526.4,856.4 531.2,848.6 536,841 540.7,833.8 545.5,826.8 550.2,820.2 554.9,813.8 559.5,807.7 564.1,802 568.7,796.5 573.3,791.3 577.9,786.4 582.4,781.8 586.8,777.5 591.3,773.4 595.7,769.7 600.1,766.2 604.4,763.1 608.7,760.2 613,757.5 617.2,755.2 621.4,753.1 625.6,751.3 629.7,749.8 633.8,748.5 637.8,747.5 641.8,746.8 645.7,746.3 649.6,746 653.5,746 657.3,746.3 661.1,746.8 664.8,747.6 668.5,748.6 672.2,749.8"/>
<circle cx="544.4" cy="744.4" r="2.9" fill="#c8000c" stroke="#5a0000" stroke-width="0.7"/>
<circle cx="672.3" cy="748.4" r="2.9" fill="#c8000c" stroke="#5a0000" stroke-width="0.7"/>
<circle cx="385.2" cy="844.2" r="1.45" fill="#000"/>
<circle cx="383.5" cy="807.9" r="1.45" fill="#000"/>
<circle cx="381.7" cy="771.6" r="1.45" fill="#000"/>
<circle cx="379.9" cy="735.4" r="1.45" fill="#000"/>
<circle cx="378.2" cy="699.1" r="1.45" fill="#000"/>
<circle cx="387.4" cy="889.8" r="1.45" fill="#000"/>
<circle cx="456.9" cy="923" r="1.45" fill="#000"/>
<circle cx="526.4" cy="956.2" r="1.45" fill="#000"/>
<circle cx="595.9" cy="923" r="1.45" fill="#000"/>
<circle cx="665.4" cy="889.8" r="1.45" fill="#000"/>
<text x="380" y="840.8" font-size="13.2" text-anchor="end" textLength="12.7" lengthAdjust="spacingAndGlyphs">15</text>
<text x="378.3" y="804.5" font-size="13.2" text-anchor="end" textLength="12.7" lengthAdjust="spacingAndGlyphs">20</text>
<text x="376.5" y="768.2" font-size="13.2" text-anchor="end" textLength="12.7" lengthAdjust="spacingAndGlyphs">25</text>
<text x="374.7" y="732" font-size="13.2" text-anchor="end" textLength="12.7" lengthAdjust="spacingAndGlyphs">30</text>
<text x="373" y="695.7" font-size="13.2" text-anchor="end" textLength="12.7" lengthAdjust="spacingAndGlyphs">35</text>
<text x="350.5" y="697.9" font-size="18.8" text-anchor="start" textLength="5.7" lengthAdjust="spacingAndGlyphs" stroke="#222" stroke-width="0.25">f</text>
<text transform="translate(354.8 790.6) rotate(-90)" font-size="15" text-anchor="middle" textLength="148.6" lengthAdjust="spacingAndGlyphs">Total flavonoids content</text>
<text x="381.2" y="902.4" font-size="13.2" text-anchor="end" textLength="28.7" lengthAdjust="spacingAndGlyphs">0.025</text>
<text x="450.7" y="935.6" font-size="13.2" text-anchor="end" textLength="28.7" lengthAdjust="spacingAndGlyphs">0.021</text>
<text x="521" y="970" font-size="13.2" text-anchor="end" textLength="28.7" lengthAdjust="spacingAndGlyphs">0.017</text>
<text x="532.4" y="970" font-size="13.2" text-anchor="start" textLength="12.7" lengthAdjust="spacingAndGlyphs">65</text>
<text x="602.9" y="935.6" font-size="13.2" text-anchor="start" textLength="12.7" lengthAdjust="spacingAndGlyphs">75</text>
<text x="672.4" y="902.4" font-size="13.2" text-anchor="start" textLength="12.7" lengthAdjust="spacingAndGlyphs">85</text>
<text x="404.8" y="950.8" font-size="14.2" text-anchor="start" textLength="15.8" lengthAdjust="spacingAndGlyphs">X4</text>
<text x="620.7" y="948.7" font-size="14.2" text-anchor="start" textLength="15.8" lengthAdjust="spacingAndGlyphs">X3</text></g>
</svg>
</body></html>
